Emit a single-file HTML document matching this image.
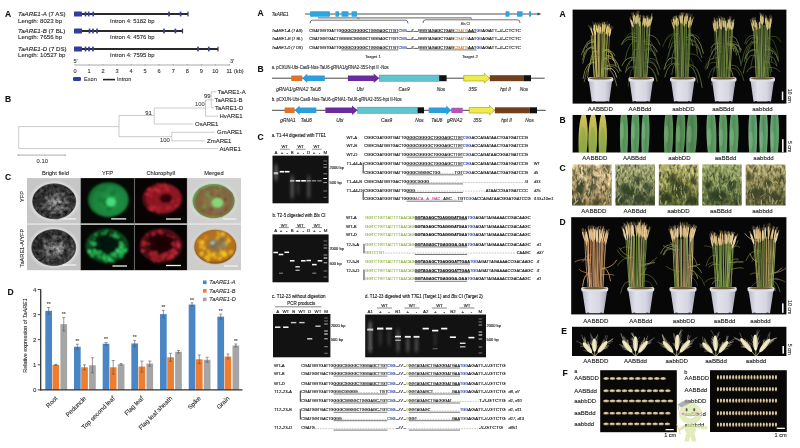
<!DOCTYPE html>
<html><head><meta charset="utf-8"><title>Figure</title>
<style>html,body{margin:0;padding:0;background:#fff;overflow:hidden}svg{display:block;font-family:'Liberation Sans', sans-serif}</style>
</head><body>
<svg width="800" height="448" viewBox="0 0 800 448">
<defs>
<radialGradient id="gBF" cx="0.55" cy="0.55" r="0.6"><stop offset="0" stop-color="#707070"/><stop offset="0.4" stop-color="#444"/><stop offset="0.9" stop-color="#282828"/><stop offset="1" stop-color="#444"/></radialGradient>
<radialGradient id="gHalo" cx="0.5" cy="0.5" r="0.5"><stop offset="0.78" stop-color="#e6e6e6"/><stop offset="1" stop-color="#e6e6e6" stop-opacity="0"/></radialGradient>
<radialGradient id="gYFP" cx="0.55" cy="0.55" r="0.55"><stop offset="0" stop-color="#34bc60"/><stop offset="0.25" stop-color="#229446"/><stop offset="0.8" stop-color="#1a803c"/><stop offset="1" stop-color="#11622c"/></radialGradient>
<radialGradient id="gRed" cx="0.6" cy="0.5" r="0.55"><stop offset="0" stop-color="#2a0406"/><stop offset="0.22" stop-color="#3a060a"/><stop offset="0.36" stop-color="#8e1a24"/><stop offset="0.85" stop-color="#86161f"/><stop offset="1" stop-color="#4a0a10"/></radialGradient>
<radialGradient id="gRed2" cx="0.5" cy="0.42" r="0.55"><stop offset="0" stop-color="#140203"/><stop offset="0.5" stop-color="#280508"/><stop offset="0.75" stop-color="#561016"/><stop offset="0.92" stop-color="#500e14"/><stop offset="1" stop-color="#28060a"/></radialGradient>
<radialGradient id="gGr2" cx="0.5" cy="0.42" r="0.55"><stop offset="0" stop-color="#031006"/><stop offset="0.5" stop-color="#061e0c"/><stop offset="0.75" stop-color="#0d4a1e"/><stop offset="0.92" stop-color="#0c441c"/><stop offset="1" stop-color="#052410"/></radialGradient>
<radialGradient id="gMg1" cx="0.55" cy="0.55" r="0.55"><stop offset="0" stop-color="#7cc070"/><stop offset="0.3" stop-color="#86724a"/><stop offset="0.85" stop-color="#7e6440"/><stop offset="1" stop-color="#6a9a50"/></radialGradient>
<radialGradient id="gMg2" cx="0.5" cy="0.45" r="0.55"><stop offset="0" stop-color="#7c6e4c"/><stop offset="0.4" stop-color="#a87626"/><stop offset="0.85" stop-color="#b86e1c"/><stop offset="1" stop-color="#6c4618"/></radialGradient>
<filter id="b1" x="-0.2" y="-0.2" width="1.4" height="1.4"><feGaussianBlur stdDeviation="0.8"/></filter>
<filter id="b05" x="-0.2" y="-0.2" width="1.4" height="1.4"><feGaussianBlur stdDeviation="0.45"/></filter>
<filter id="b2" x="-0.3" y="-0.3" width="1.6" height="1.6"><feGaussianBlur stdDeviation="1.6"/></filter>
<filter id="tex" x="0" y="0" width="1" height="1" color-interpolation-filters="sRGB">
 <feTurbulence type="fractalNoise" baseFrequency="0.28" numOctaves="2" seed="5" result="n"/>
 <feColorMatrix in="n" type="matrix" values="1.6 0 0 0 -0.25  1.6 0 0 0 -0.25  1.6 0 0 0 -0.25  0 0 0 0 1" result="g"/>
 <feComposite in="SourceGraphic" in2="g" operator="arithmetic" k1="1.5" k2="0.25" k3="0" k4="0" result="m"/>
 <feComposite in="m" in2="SourceGraphic" operator="in"/>
</filter>
<filter id="gb" x="-0.3" y="-1" width="1.6" height="3"><feGaussianBlur stdDeviation="0.4 0.4"/></filter>
<filter id="gs" x="-0.5" y="-0.3" width="2" height="1.6"><feGaussianBlur stdDeviation="1 2.2"/></filter>
<filter id="pb" x="-0.1" y="-0.1" width="1.2" height="1.2"><feGaussianBlur stdDeviation="0.35"/></filter>
<filter id="pb2" x="-0.1" y="-0.1" width="1.2" height="1.2"><feGaussianBlur stdDeviation="0.6"/></filter>
<linearGradient id="pot" x1="0" x2="1" y1="0" y2="0"><stop offset="0" stop-color="#b9b9c8"/><stop offset="0.3" stop-color="#e2e2ec"/><stop offset="0.7" stop-color="#d6d6e2"/><stop offset="1" stop-color="#a6a6b8"/></linearGradient>
<linearGradient id="lfY" x1="0" x2="0" y1="0" y2="1"><stop offset="0" stop-color="#d2c45c"/><stop offset="0.45" stop-color="#b4b44c"/><stop offset="1" stop-color="#8ca446"/></linearGradient>
<linearGradient id="lfG" x1="0" x2="1" y1="0" y2="0"><stop offset="0" stop-color="#72aa74"/><stop offset="0.5" stop-color="#4f8e56"/><stop offset="1" stop-color="#66a26a"/></linearGradient>
<linearGradient id="lfG2" x1="0" x2="1" y1="0" y2="0"><stop offset="0" stop-color="#669a62"/><stop offset="0.5" stop-color="#4a7e4c"/><stop offset="1" stop-color="#5e945c"/></linearGradient>
<linearGradient id="lfG3" x1="0" x2="1" y1="0" y2="0"><stop offset="0" stop-color="#78b282"/><stop offset="0.5" stop-color="#4e8e5c"/><stop offset="1" stop-color="#6caa78"/></linearGradient>
<linearGradient id="fld0" x1="0" x2="0" y1="0" y2="1"><stop offset="0" stop-color="#dcc898"/><stop offset="0.5" stop-color="#c2a878"/><stop offset="1" stop-color="#7c6e48"/></linearGradient>
<linearGradient id="fld1" x1="0" x2="0" y1="0" y2="1"><stop offset="0" stop-color="#aaac7a"/><stop offset="0.5" stop-color="#8a9260"/><stop offset="1" stop-color="#4e5c38"/></linearGradient>
<linearGradient id="fld2" x1="0" x2="0" y1="0" y2="1"><stop offset="0" stop-color="#b6b070"/><stop offset="0.5" stop-color="#94964e"/><stop offset="1" stop-color="#4c5a2c"/></linearGradient>
<linearGradient id="fld3" x1="0" x2="0" y1="0" y2="1"><stop offset="0" stop-color="#9eaa6c"/><stop offset="0.5" stop-color="#7e8e50"/><stop offset="1" stop-color="#4e5e34"/></linearGradient>
<linearGradient id="fld4" x1="0" x2="0" y1="0" y2="1"><stop offset="0" stop-color="#aea670"/><stop offset="0.5" stop-color="#908a54"/><stop offset="1" stop-color="#5c5e38"/></linearGradient>
<filter id="field" x="0" y="0" width="1" height="1" color-interpolation-filters="sRGB">
 <feTurbulence type="fractalNoise" baseFrequency="0.42 0.26" numOctaves="3" seed="11" result="n"/>
 <feColorMatrix in="n" type="matrix" values="0.9 0 0 0 0.12  0.9 0 0 0 0.12  0.9 0 0 0 0.12  0 0 0 0 1" result="g"/>
 <feComposite in="SourceGraphic" in2="g" operator="arithmetic" k1="1.2" k2="0.28" k3="0" k4="0" result="m"/>
 <feGaussianBlur in="m" stdDeviation="0.5" result="mb"/>
 <feComposite in="mb" in2="SourceGraphic" operator="in"/>
</filter>
<filter id="field2" x="0" y="0" width="1" height="1" color-interpolation-filters="sRGB">
 <feTurbulence type="fractalNoise" baseFrequency="0.36 0.22" numOctaves="3" seed="23" result="n"/>
 <feColorMatrix in="n" type="matrix" values="0.95 0 0 0 0.1  0.95 0 0 0 0.1  0.95 0 0 0 0.1  0 0 0 0 1" result="g"/>
 <feComposite in="SourceGraphic" in2="g" operator="arithmetic" k1="1.2" k2="0.28" k3="0" k4="0" result="m"/>
 <feGaussianBlur in="m" stdDeviation="0.5" result="mb"/>
 <feComposite in="mb" in2="SourceGraphic" operator="in"/>
</filter>
<radialGradient id="seed" cx="0.45" cy="0.4" r="0.6"><stop offset="0" stop-color="#e8dcc0"/><stop offset="0.6" stop-color="#c2b08a"/><stop offset="1" stop-color="#76684a"/></radialGradient>
<linearGradient id="spk" x1="0" x2="1" y1="0" y2="0"><stop offset="0" stop-color="#d8cc9c"/><stop offset="0.5" stop-color="#f6f0d4"/><stop offset="1" stop-color="#d0c490"/></linearGradient>
</defs>
<rect width="800" height="448" fill="#fff"/>
<g id="left">
<text x="5.00" y="17.30" font-size="8.5" fill="#111" stroke="#111" stroke-width="0.1" font-weight="bold">A</text>
<text x="18.00" y="16.10" font-size="6.15" fill="#222" stroke="#222" stroke-width="0.1"><tspan font-style="italic">TaARE1-A</tspan> (7 AS)</text>
<text x="18.00" y="22.90" font-size="6.1" fill="#2a2a2a" stroke="#2a2a2a" stroke-width="0.1">Length: 8023 bp</text>
<text x="110.00" y="22.70" font-size="5.9" fill="#2a2a2a" stroke="#2a2a2a" stroke-width="0.1">Intron 4: 5182 bp</text>
<line x1="75.00" y1="14.00" x2="188.00" y2="14.00" stroke="#2a2a2a" stroke-width="1.9" />
<rect x="74.00" y="11.50" width="8.00" height="5.00" fill="#2e3f9e" rx="0.6"/>
<rect x="84.65" y="11.60" width="1.70" height="4.80" fill="#33439c" />
<rect x="87.85" y="11.60" width="1.70" height="4.80" fill="#33439c" />
<rect x="92.35" y="11.60" width="1.70" height="4.80" fill="#33439c" />
<rect x="168.15" y="11.60" width="1.70" height="4.80" fill="#33439c" />
<rect x="179.75" y="11.60" width="1.70" height="4.80" fill="#33439c" />
<rect x="187.40" y="11.60" width="1.20" height="4.80" fill="#333a70" />
<text x="18.00" y="32.60" font-size="6.15" fill="#222" stroke="#222" stroke-width="0.1"><tspan font-style="italic">TaARE1-B</tspan> (7 BL)</text>
<text x="18.00" y="39.40" font-size="6.1" fill="#2a2a2a" stroke="#2a2a2a" stroke-width="0.1">Length: 7656 bp</text>
<text x="110.00" y="39.20" font-size="5.9" fill="#2a2a2a" stroke="#2a2a2a" stroke-width="0.1">Intron 4: 4576 bp</text>
<line x1="75.00" y1="31.00" x2="182.50" y2="31.00" stroke="#2a2a2a" stroke-width="1.9" />
<rect x="74.00" y="28.50" width="8.00" height="5.00" fill="#2e3f9e" rx="0.6"/>
<rect x="88.65" y="28.60" width="1.70" height="4.80" fill="#33439c" />
<rect x="92.15" y="28.60" width="1.70" height="4.80" fill="#33439c" />
<rect x="96.15" y="28.60" width="1.70" height="4.80" fill="#33439c" />
<rect x="163.15" y="28.60" width="1.70" height="4.80" fill="#33439c" />
<rect x="174.55" y="28.60" width="1.70" height="4.80" fill="#33439c" />
<rect x="181.90" y="28.60" width="1.20" height="4.80" fill="#333a70" />
<text x="18.00" y="50.60" font-size="6.15" fill="#222" stroke="#222" stroke-width="0.1"><tspan font-style="italic">TaARE1-D</tspan> (7 DS)</text>
<text x="18.00" y="57.40" font-size="6.1" fill="#2a2a2a" stroke="#2a2a2a" stroke-width="0.1">Length: 10527 bp</text>
<text x="110.00" y="57.20" font-size="5.9" fill="#2a2a2a" stroke="#2a2a2a" stroke-width="0.1">Intron 4: 7595 bp</text>
<line x1="75.00" y1="49.00" x2="218.00" y2="49.00" stroke="#2a2a2a" stroke-width="1.9" />
<rect x="74.00" y="46.50" width="8.00" height="5.00" fill="#2e3f9e" rx="0.6"/>
<rect x="84.65" y="46.60" width="1.70" height="4.80" fill="#33439c" />
<rect x="88.15" y="46.60" width="1.70" height="4.80" fill="#33439c" />
<rect x="92.15" y="46.60" width="1.70" height="4.80" fill="#33439c" />
<rect x="197.15" y="46.60" width="1.70" height="4.80" fill="#33439c" />
<rect x="207.95" y="46.60" width="1.70" height="4.80" fill="#33439c" />
<rect x="217.40" y="46.60" width="1.20" height="4.80" fill="#333a70" />
<text x="73.50" y="62.50" font-size="5.5" fill="#444" stroke="#444" stroke-width="0.1">5'</text>
<text x="230.00" y="62.50" font-size="5.5" fill="#444" stroke="#444" stroke-width="0.1">3'</text>
<line x1="75.00" y1="65.00" x2="230.00" y2="65.00" stroke="#888" stroke-width="0.7" />
<line x1="75.00" y1="64.00" x2="75.00" y2="65.30" stroke="#888" stroke-width="0.6" />
<text x="75.00" y="73.00" font-size="5.6" text-anchor="middle" fill="#333" stroke="#333" stroke-width="0.1">0</text>
<line x1="89.03" y1="64.00" x2="89.03" y2="65.30" stroke="#888" stroke-width="0.6" />
<text x="89.03" y="73.00" font-size="5.6" text-anchor="middle" fill="#333" stroke="#333" stroke-width="0.1">1</text>
<line x1="103.06" y1="64.00" x2="103.06" y2="65.30" stroke="#888" stroke-width="0.6" />
<text x="103.06" y="73.00" font-size="5.6" text-anchor="middle" fill="#333" stroke="#333" stroke-width="0.1">2</text>
<line x1="117.09" y1="64.00" x2="117.09" y2="65.30" stroke="#888" stroke-width="0.6" />
<text x="117.09" y="73.00" font-size="5.6" text-anchor="middle" fill="#333" stroke="#333" stroke-width="0.1">3</text>
<line x1="131.12" y1="64.00" x2="131.12" y2="65.30" stroke="#888" stroke-width="0.6" />
<text x="131.12" y="73.00" font-size="5.6" text-anchor="middle" fill="#333" stroke="#333" stroke-width="0.1">4</text>
<line x1="145.15" y1="64.00" x2="145.15" y2="65.30" stroke="#888" stroke-width="0.6" />
<text x="145.15" y="73.00" font-size="5.6" text-anchor="middle" fill="#333" stroke="#333" stroke-width="0.1">5</text>
<line x1="159.18" y1="64.00" x2="159.18" y2="65.30" stroke="#888" stroke-width="0.6" />
<text x="159.18" y="73.00" font-size="5.6" text-anchor="middle" fill="#333" stroke="#333" stroke-width="0.1">6</text>
<line x1="173.21" y1="64.00" x2="173.21" y2="65.30" stroke="#888" stroke-width="0.6" />
<text x="173.21" y="73.00" font-size="5.6" text-anchor="middle" fill="#333" stroke="#333" stroke-width="0.1">7</text>
<line x1="187.24" y1="64.00" x2="187.24" y2="65.30" stroke="#888" stroke-width="0.6" />
<text x="187.24" y="73.00" font-size="5.6" text-anchor="middle" fill="#333" stroke="#333" stroke-width="0.1">8</text>
<line x1="201.27" y1="64.00" x2="201.27" y2="65.30" stroke="#888" stroke-width="0.6" />
<text x="201.27" y="73.00" font-size="5.6" text-anchor="middle" fill="#333" stroke="#333" stroke-width="0.1">9</text>
<line x1="215.30" y1="64.00" x2="215.30" y2="65.30" stroke="#888" stroke-width="0.6" />
<text x="215.30" y="73.00" font-size="5.6" text-anchor="middle" fill="#333" stroke="#333" stroke-width="0.1">10</text>
<line x1="229.33" y1="64.00" x2="229.33" y2="65.30" stroke="#888" stroke-width="0.6" />
<text x="229.33" y="73.00" font-size="5.6" text-anchor="middle" fill="#333" stroke="#333" stroke-width="0.1">11</text>
<text x="234.00" y="73.00" font-size="5.6" fill="#333" stroke="#333" stroke-width="0.1">(kb)</text>
<rect x="73.00" y="77.00" width="8.00" height="4.00" fill="#2e3f9e" rx="1.2"/>
<text x="84.00" y="81.20" font-size="5.6" fill="#333" stroke="#333" stroke-width="0.1">Exon</text>
<line x1="103.00" y1="79.60" x2="115.00" y2="79.60" stroke="#222" stroke-width="1.6" />
<text x="117.00" y="81.20" font-size="5.6" fill="#333" stroke="#333" stroke-width="0.1">Intron</text>
<text x="5.00" y="102.00" font-size="8.5" fill="#111" stroke="#111" stroke-width="0.1" font-weight="bold">B</text>
<line x1="18.70" y1="126.60" x2="18.70" y2="148.60" stroke="#a8a8a8" stroke-width="0.6" />
<line x1="18.70" y1="148.60" x2="218.00" y2="148.60" stroke="#a8a8a8" stroke-width="0.6" />
<line x1="18.70" y1="126.60" x2="119.00" y2="126.60" stroke="#a8a8a8" stroke-width="0.6" />
<line x1="119.00" y1="115.50" x2="119.00" y2="136.70" stroke="#a8a8a8" stroke-width="0.6" />
<line x1="119.00" y1="115.50" x2="154.20" y2="115.50" stroke="#a8a8a8" stroke-width="0.6" />
<line x1="119.00" y1="136.70" x2="171.80" y2="136.70" stroke="#a8a8a8" stroke-width="0.6" />
<line x1="171.80" y1="132.30" x2="171.80" y2="140.80" stroke="#a8a8a8" stroke-width="0.6" />
<line x1="171.80" y1="132.30" x2="214.50" y2="132.30" stroke="#a8a8a8" stroke-width="0.6" />
<line x1="171.80" y1="140.80" x2="204.70" y2="140.80" stroke="#a8a8a8" stroke-width="0.6" />
<line x1="154.20" y1="108.00" x2="154.20" y2="124.00" stroke="#a8a8a8" stroke-width="0.6" />
<line x1="154.20" y1="124.00" x2="193.00" y2="124.00" stroke="#a8a8a8" stroke-width="0.6" />
<line x1="154.20" y1="108.00" x2="205.50" y2="108.00" stroke="#a8a8a8" stroke-width="0.6" />
<line x1="205.50" y1="99.90" x2="205.50" y2="116.20" stroke="#a8a8a8" stroke-width="0.6" />
<line x1="205.50" y1="116.20" x2="218.00" y2="116.20" stroke="#a8a8a8" stroke-width="0.6" />
<line x1="205.50" y1="99.90" x2="211.20" y2="99.90" stroke="#a8a8a8" stroke-width="0.6" />
<line x1="211.20" y1="91.80" x2="211.20" y2="107.70" stroke="#a8a8a8" stroke-width="0.6" />
<line x1="211.20" y1="91.80" x2="216.00" y2="91.80" stroke="#a8a8a8" stroke-width="0.6" />
<line x1="211.20" y1="99.90" x2="213.50" y2="99.90" stroke="#a8a8a8" stroke-width="0.6" />
<line x1="211.20" y1="107.70" x2="214.00" y2="107.70" stroke="#a8a8a8" stroke-width="0.6" />
<text x="217.70" y="93.90" font-size="6.0" fill="#262626" stroke="#262626" stroke-width="0.1">TaARE1-A</text>
<text x="214.50" y="102.00" font-size="6.0" fill="#262626" stroke="#262626" stroke-width="0.1">TaARE1-B</text>
<text x="215.00" y="109.80" font-size="6.0" fill="#262626" stroke="#262626" stroke-width="0.1">TaARE1-D</text>
<text x="219.50" y="118.30" font-size="6.0" fill="#262626" stroke="#262626" stroke-width="0.1">HvARE1</text>
<text x="195.00" y="126.10" font-size="6.0" fill="#262626" stroke="#262626" stroke-width="0.1">OsARE1</text>
<text x="217.00" y="134.40" font-size="6.0" fill="#262626" stroke="#262626" stroke-width="0.1">GmARE1</text>
<text x="207.00" y="142.90" font-size="6.0" fill="#262626" stroke="#262626" stroke-width="0.1">ZmARE1</text>
<text x="219.50" y="150.70" font-size="6.0" fill="#262626" stroke="#262626" stroke-width="0.1">AtARE1</text>
<text x="210.50" y="97.90" font-size="5.9" text-anchor="end" fill="#333" stroke="#333" stroke-width="0.1">99</text>
<text x="204.80" y="106.40" font-size="5.9" text-anchor="end" fill="#555" stroke="#555" stroke-width="0.1">100</text>
<text x="151.80" y="115.20" font-size="5.9" text-anchor="end" fill="#333" stroke="#333" stroke-width="0.1">91</text>
<text x="169.80" y="141.80" font-size="5.9" text-anchor="end" fill="#444" stroke="#444" stroke-width="0.1">100</text>
<line x1="18.20" y1="155.10" x2="65.30" y2="155.10" stroke="#777" stroke-width="0.6" />
<line x1="18.20" y1="154.30" x2="18.20" y2="155.90" stroke="#777" stroke-width="0.6" />
<line x1="65.30" y1="154.30" x2="65.30" y2="155.90" stroke="#777" stroke-width="0.6" />
<text x="42.30" y="162.50" font-size="5.9" text-anchor="middle" fill="#444" stroke="#444" stroke-width="0.1">0.10</text>
</g>
<g id="left2">
<text x="5.00" y="179.60" font-size="8.5" fill="#111" stroke="#111" stroke-width="0.1" font-weight="bold">C</text>
<text x="55.40" y="175.40" font-size="5.7" text-anchor="middle" fill="#2a2a2a" stroke="#2a2a2a" stroke-width="0.1">Bright field</text>
<text x="107.50" y="175.40" font-size="5.7" text-anchor="middle" fill="#2a2a2a" stroke="#2a2a2a" stroke-width="0.1">YFP</text>
<text x="160.70" y="175.40" font-size="5.7" text-anchor="middle" fill="#2a2a2a" stroke="#2a2a2a" stroke-width="0.1">Chlorophyll</text>
<text x="214.00" y="175.40" font-size="5.7" text-anchor="middle" fill="#2a2a2a" stroke="#2a2a2a" stroke-width="0.1">Merged</text>
<text x="23.60" y="196.50" font-size="5.6" text-anchor="middle" fill="#333" stroke="#333" stroke-width="0.1" transform="rotate(-90 23.60 196.50)">YFP</text>
<text x="23.60" y="248.00" font-size="5.6" text-anchor="middle" fill="#333" stroke="#333" stroke-width="0.1" transform="rotate(-90 23.60 248.00)">TaARE1-A/YFP</text>
<rect x="27.00" y="178.10" width="53.60" height="45.50" fill="#c6c6c6" />
<rect x="80.60" y="178.10" width="53.60" height="45.50" fill="#050805" />
<rect x="134.60" y="178.10" width="52.60" height="45.50" fill="#080404" />
<rect x="187.20" y="178.10" width="53.80" height="45.50" fill="#cfcfcf" />
<rect x="27.00" y="224.60" width="53.60" height="45.60" fill="#c2c2c2" />
<rect x="80.60" y="224.60" width="53.60" height="45.60" fill="#040704" />
<rect x="134.60" y="224.60" width="52.60" height="45.60" fill="#070303" />
<rect x="187.20" y="224.60" width="53.80" height="45.60" fill="#cdcdcd" />
<line x1="27.00" y1="224.10" x2="241.00" y2="224.10" stroke="#d8d8d8" stroke-width="0.8" />
<line x1="80.60" y1="178.10" x2="80.60" y2="270.20" stroke="#999" stroke-width="0.4" />
<line x1="134.40" y1="178.10" x2="134.40" y2="270.20" stroke="#555" stroke-width="0.6" />
<line x1="187.20" y1="178.10" x2="187.20" y2="270.20" stroke="#999" stroke-width="0.4" />
<ellipse cx="54.2" cy="201.3" rx="26.1" ry="21.5" fill="url(#gHalo)"/><g filter="url(#b05)"><ellipse cx="54.2" cy="201.3" rx="21.6" ry="17.5" fill="url(#gBF)" filter="url(#tex)"/></g><ellipse cx="54.2" cy="201.3" rx="21.6" ry="17.5" fill="none" stroke="#444" stroke-width="0.8" filter="url(#b05)"/><g filter="url(#b1)" opacity="0.6"><ellipse cx="49.8" cy="203.9" rx="2.1" ry="1.6" fill="#989898" transform="rotate(150 49.8 203.9)"/><ellipse cx="59.7" cy="209.5" rx="1.6" ry="1.2" fill="#b0b0b0" transform="rotate(24 59.7 209.5)"/><ellipse cx="54.6" cy="202.7" rx="1.6" ry="1.4" fill="#989898" transform="rotate(10 54.6 202.7)"/><ellipse cx="52.3" cy="200.1" rx="1.5" ry="1.3" fill="#989898" transform="rotate(40 52.3 200.1)"/><ellipse cx="49.1" cy="196.7" rx="1.1" ry="0.7" fill="#b0b0b0" transform="rotate(153 49.1 196.7)"/><ellipse cx="61.6" cy="203.1" rx="1.5" ry="1.3" fill="#989898" transform="rotate(59 61.6 203.1)"/><ellipse cx="52.4" cy="198.6" rx="1.8" ry="1.3" fill="#c8c8c8" transform="rotate(104 52.4 198.6)"/><ellipse cx="68.0" cy="202.2" rx="2.0" ry="1.6" fill="#c8c8c8" transform="rotate(58 68.0 202.2)"/><ellipse cx="55.8" cy="202.3" rx="1.7" ry="1.1" fill="#b0b0b0" transform="rotate(74 55.8 202.3)"/><ellipse cx="47.6" cy="208.3" rx="2.0" ry="1.2" fill="#b0b0b0" transform="rotate(13 47.6 208.3)"/><ellipse cx="44.8" cy="204.1" rx="1.5" ry="0.9" fill="#989898" transform="rotate(50 44.8 204.1)"/><ellipse cx="56.8" cy="199.7" rx="1.1" ry="0.8" fill="#c8c8c8" transform="rotate(30 56.8 199.7)"/>
</g><g filter="url(#b1)" opacity="0.8"><ellipse cx="37.9" cy="203.4" rx="2.6" ry="1.7" fill="#222" transform="rotate(95 37.9 203.4)"/><ellipse cx="37.9" cy="202.8" rx="2.3" ry="2.0" fill="#222" transform="rotate(142 37.9 202.8)"/><ellipse cx="70.4" cy="201.4" rx="3.2" ry="2.2" fill="#2c2c2c" transform="rotate(53 70.4 201.4)"/><ellipse cx="70.9" cy="206.5" rx="1.6" ry="1.3" fill="#2c2c2c" transform="rotate(174 70.9 206.5)"/><ellipse cx="39.3" cy="209.6" rx="1.5" ry="0.9" fill="#1a1a1a" transform="rotate(130 39.3 209.6)"/><ellipse cx="57.4" cy="216.8" rx="2.2" ry="1.6" fill="#1a1a1a" transform="rotate(108 57.4 216.8)"/><ellipse cx="69.4" cy="199.1" rx="3.0" ry="2.3" fill="#1a1a1a" transform="rotate(13 69.4 199.1)"/><ellipse cx="39.9" cy="197.1" rx="1.6" ry="1.3" fill="#1a1a1a" transform="rotate(152 39.9 197.1)"/><ellipse cx="38.4" cy="203.8" rx="2.4" ry="1.9" fill="#222" transform="rotate(49 38.4 203.8)"/><ellipse cx="70.6" cy="199.3" rx="2.1" ry="1.5" fill="#1a1a1a" transform="rotate(98 70.6 199.3)"/><ellipse cx="48.8" cy="192.8" rx="1.9" ry="1.3" fill="#1a1a1a" transform="rotate(146 48.8 192.8)"/><ellipse cx="59.8" cy="189.9" rx="1.5" ry="1.3" fill="#2c2c2c" transform="rotate(8 59.8 189.9)"/><ellipse cx="41.6" cy="200.1" rx="2.2" ry="1.6" fill="#1a1a1a" transform="rotate(26 41.6 200.1)"/><ellipse cx="54.5" cy="191.0" rx="1.6" ry="1.1" fill="#2c2c2c" transform="rotate(70 54.5 191.0)"/><ellipse cx="38.2" cy="201.4" rx="2.7" ry="2.1" fill="#2c2c2c" transform="rotate(53 38.2 201.4)"/><ellipse cx="46.3" cy="211.4" rx="2.7" ry="2.3" fill="#222" transform="rotate(42 46.3 211.4)"/>
</g>
<ellipse cx="53.7" cy="247.6" rx="26.5" ry="22" fill="url(#gHalo)"/><g filter="url(#b05)"><ellipse cx="53.7" cy="247.6" rx="22" ry="18" fill="url(#gBF)" filter="url(#tex)"/></g><ellipse cx="53.7" cy="247.6" rx="22" ry="18" fill="none" stroke="#444" stroke-width="0.8" filter="url(#b05)"/><g filter="url(#b1)" opacity="0.6"><ellipse cx="46.0" cy="247.5" rx="2.2" ry="1.5" fill="#989898" transform="rotate(180 46.0 247.5)"/><ellipse cx="52.4" cy="247.9" rx="2.1" ry="1.4" fill="#989898" transform="rotate(107 52.4 247.9)"/><ellipse cx="55.6" cy="253.6" rx="1.4" ry="1.2" fill="#989898" transform="rotate(102 55.6 253.6)"/><ellipse cx="60.0" cy="252.8" rx="1.2" ry="1.0" fill="#b0b0b0" transform="rotate(38 60.0 252.8)"/><ellipse cx="60.5" cy="245.1" rx="2.0" ry="1.6" fill="#c8c8c8" transform="rotate(138 60.5 245.1)"/><ellipse cx="61.9" cy="253.6" rx="1.1" ry="0.8" fill="#989898" transform="rotate(121 61.9 253.6)"/><ellipse cx="51.1" cy="244.0" rx="1.8" ry="1.3" fill="#989898" transform="rotate(86 51.1 244.0)"/><ellipse cx="60.2" cy="249.0" rx="1.1" ry="0.9" fill="#c8c8c8" transform="rotate(12 60.2 249.0)"/><ellipse cx="60.1" cy="247.7" rx="1.9" ry="1.7" fill="#b0b0b0" transform="rotate(29 60.1 247.7)"/><ellipse cx="44.8" cy="245.3" rx="1.6" ry="1.2" fill="#c8c8c8" transform="rotate(16 44.8 245.3)"/><ellipse cx="56.2" cy="246.7" rx="1.7" ry="1.3" fill="#989898" transform="rotate(33 56.2 246.7)"/><ellipse cx="55.7" cy="251.6" rx="1.4" ry="0.9" fill="#b0b0b0" transform="rotate(147 55.7 251.6)"/>
</g><g filter="url(#b1)" opacity="0.8"><ellipse cx="60.7" cy="260.1" rx="2.1" ry="1.4" fill="#2c2c2c" transform="rotate(160 60.7 260.1)"/><ellipse cx="38.5" cy="248.1" rx="2.3" ry="1.5" fill="#2c2c2c" transform="rotate(177 38.5 248.1)"/><ellipse cx="65.2" cy="256.2" rx="2.8" ry="1.8" fill="#222" transform="rotate(43 65.2 256.2)"/><ellipse cx="55.1" cy="261.8" rx="2.5" ry="1.6" fill="#1a1a1a" transform="rotate(126 55.1 261.8)"/><ellipse cx="56.6" cy="258.5" rx="1.5" ry="1.3" fill="#222" transform="rotate(103 56.6 258.5)"/><ellipse cx="37.9" cy="244.5" rx="2.4" ry="2.0" fill="#1a1a1a" transform="rotate(77 37.9 244.5)"/><ellipse cx="40.9" cy="244.1" rx="2.5" ry="1.8" fill="#2c2c2c" transform="rotate(175 40.9 244.1)"/><ellipse cx="58.6" cy="233.4" rx="1.8" ry="1.4" fill="#2c2c2c" transform="rotate(33 58.6 233.4)"/><ellipse cx="41.0" cy="254.5" rx="1.7" ry="1.4" fill="#1a1a1a" transform="rotate(66 41.0 254.5)"/><ellipse cx="40.0" cy="245.2" rx="2.9" ry="2.4" fill="#1a1a1a" transform="rotate(120 40.0 245.2)"/><ellipse cx="64.1" cy="252.9" rx="1.8" ry="1.1" fill="#1a1a1a" transform="rotate(23 64.1 252.9)"/><ellipse cx="41.4" cy="244.8" rx="3.0" ry="2.4" fill="#1a1a1a" transform="rotate(136 41.4 244.8)"/><ellipse cx="47.2" cy="236.0" rx="3.2" ry="2.0" fill="#1a1a1a" transform="rotate(22 47.2 236.0)"/><ellipse cx="35.7" cy="249.6" rx="1.8" ry="1.3" fill="#2c2c2c" transform="rotate(101 35.7 249.6)"/><ellipse cx="47.7" cy="237.1" rx="2.1" ry="1.7" fill="#1a1a1a" transform="rotate(77 47.7 237.1)"/><ellipse cx="66.3" cy="241.3" rx="2.7" ry="2.3" fill="#1a1a1a" transform="rotate(108 66.3 241.3)"/>
</g>
<g filter="url(#b1)"><ellipse cx="108.3" cy="199.7" rx="20.4" ry="17.5" fill="url(#gYFP)"/><ellipse cx="109.1" cy="208.4" rx="3.2" ry="2.5" fill="#167a36" transform="rotate(155 109.1 208.4)"/><ellipse cx="121.7" cy="200.7" rx="3.0" ry="2.0" fill="#1a8a3e" transform="rotate(138 121.7 200.7)"/><ellipse cx="113.2" cy="192.8" rx="3.8" ry="2.4" fill="#167a36" transform="rotate(133 113.2 192.8)"/><ellipse cx="105.0" cy="202.0" rx="4.1" ry="2.6" fill="#167a36" transform="rotate(77 105.0 202.0)"/><ellipse cx="110.8" cy="188.5" rx="3.0" ry="2.4" fill="#1a8a3e" transform="rotate(109 110.8 188.5)"/><ellipse cx="98.0" cy="206.6" rx="3.4" ry="3.0" fill="#1a8a3e" transform="rotate(24 98.0 206.6)"/><ellipse cx="117.7" cy="201.5" rx="3.0" ry="2.4" fill="#1a8a3e" transform="rotate(107 117.7 201.5)"/><ellipse cx="99.9" cy="199.4" rx="3.2" ry="2.5" fill="#167a36" transform="rotate(86 99.9 199.4)"/><ellipse cx="102.3" cy="188.4" rx="4.2" ry="3.8" fill="#167a36" transform="rotate(178 102.3 188.4)"/>
<ellipse cx="111" cy="202" rx="5" ry="4.5" fill="#4ce884" opacity="0.8"/></g>
<g filter="url(#b1)"><ellipse cx="162" cy="198.5" rx="20" ry="15.5" fill="url(#gRed)"/><ellipse cx="150.5" cy="189.8" rx="1.7" ry="1.5" fill="#b82632" transform="rotate(119 150.5 189.8)"/><ellipse cx="163.8" cy="189.8" rx="1.0" ry="0.7" fill="#c82e3a" transform="rotate(120 163.8 189.8)"/><ellipse cx="170.6" cy="191.3" rx="1.1" ry="0.7" fill="#a81e2a" transform="rotate(104 170.6 191.3)"/><ellipse cx="158.7" cy="212.1" rx="1.7" ry="1.1" fill="#b82632" transform="rotate(35 158.7 212.1)"/><ellipse cx="152.2" cy="191.6" rx="1.1" ry="1.0" fill="#b82632" transform="rotate(53 152.2 191.6)"/><ellipse cx="164.7" cy="184.5" rx="1.1" ry="0.7" fill="#c82e3a" transform="rotate(50 164.7 184.5)"/><ellipse cx="147.0" cy="195.6" rx="1.2" ry="1.0" fill="#a81e2a" transform="rotate(98 147.0 195.6)"/><ellipse cx="158.2" cy="207.7" rx="1.1" ry="0.7" fill="#b82632" transform="rotate(84 158.2 207.7)"/><ellipse cx="157.3" cy="209.4" rx="1.0" ry="0.8" fill="#c82e3a" transform="rotate(16 157.3 209.4)"/><ellipse cx="155.8" cy="210.6" rx="1.4" ry="1.0" fill="#9a1a24" transform="rotate(120 155.8 210.6)"/><ellipse cx="159.3" cy="191.4" rx="1.9" ry="1.1" fill="#c82e3a" transform="rotate(103 159.3 191.4)"/><ellipse cx="178.5" cy="200.0" rx="1.3" ry="1.0" fill="#b82632" transform="rotate(115 178.5 200.0)"/><ellipse cx="172.3" cy="200.9" rx="1.9" ry="1.2" fill="#a81e2a" transform="rotate(118 172.3 200.9)"/><ellipse cx="155.1" cy="206.5" rx="1.5" ry="1.2" fill="#b82632" transform="rotate(150 155.1 206.5)"/><ellipse cx="161.8" cy="185.6" rx="1.8" ry="1.1" fill="#b82632" transform="rotate(53 161.8 185.6)"/><ellipse cx="154.0" cy="208.2" rx="1.8" ry="1.3" fill="#b82632" transform="rotate(79 154.0 208.2)"/><ellipse cx="157.3" cy="190.0" rx="1.7" ry="1.4" fill="#c82e3a" transform="rotate(123 157.3 190.0)"/><ellipse cx="167.0" cy="204.7" rx="1.9" ry="1.4" fill="#9a1a24" transform="rotate(8 167.0 204.7)"/><ellipse cx="163.2" cy="209.9" rx="1.7" ry="1.3" fill="#9a1a24" transform="rotate(37 163.2 209.9)"/><ellipse cx="178.7" cy="203.2" rx="1.0" ry="0.8" fill="#a81e2a" transform="rotate(33 178.7 203.2)"/><ellipse cx="176.3" cy="197.2" rx="1.1" ry="1.0" fill="#9a1a24" transform="rotate(27 176.3 197.2)"/><ellipse cx="168.1" cy="207.0" rx="1.1" ry="0.8" fill="#a81e2a" transform="rotate(116 168.1 207.0)"/><ellipse cx="175.2" cy="193.0" rx="1.2" ry="0.9" fill="#9a1a24" transform="rotate(176 175.2 193.0)"/><ellipse cx="160.3" cy="188.0" rx="1.3" ry="0.9" fill="#a81e2a" transform="rotate(28 160.3 188.0)"/><ellipse cx="148.8" cy="208.5" rx="1.9" ry="1.5" fill="#9a1a24" transform="rotate(86 148.8 208.5)"/><ellipse cx="167.8" cy="208.1" rx="1.5" ry="1.1" fill="#c82e3a" transform="rotate(16 167.8 208.1)"/><ellipse cx="165.7" cy="186.1" rx="1.6" ry="1.3" fill="#c82e3a" transform="rotate(93 165.7 186.1)"/><ellipse cx="147.6" cy="194.1" rx="1.8" ry="1.2" fill="#c82e3a" transform="rotate(87 147.6 194.1)"/><ellipse cx="153.4" cy="189.4" rx="1.0" ry="0.8" fill="#c82e3a" transform="rotate(83 153.4 189.4)"/><ellipse cx="155.6" cy="189.3" rx="1.7" ry="1.4" fill="#c82e3a" transform="rotate(89 155.6 189.3)"/><ellipse cx="160.2" cy="207.9" rx="1.8" ry="1.3" fill="#a81e2a" transform="rotate(176 160.2 207.9)"/><ellipse cx="150.1" cy="201.5" rx="1.3" ry="0.8" fill="#a81e2a" transform="rotate(50 150.1 201.5)"/><ellipse cx="171.3" cy="186.6" rx="1.4" ry="1.2" fill="#9a1a24" transform="rotate(43 171.3 186.6)"/><ellipse cx="148.6" cy="189.2" rx="1.5" ry="1.3" fill="#c82e3a" transform="rotate(159 148.6 189.2)"/><ellipse cx="145.6" cy="194.1" rx="1.2" ry="1.1" fill="#a81e2a" transform="rotate(40 145.6 194.1)"/><ellipse cx="149.2" cy="192.5" rx="1.2" ry="1.0" fill="#a81e2a" transform="rotate(161 149.2 192.5)"/><ellipse cx="158.4" cy="184.5" rx="1.9" ry="1.2" fill="#a81e2a" transform="rotate(28 158.4 184.5)"/><ellipse cx="157.6" cy="206.1" rx="1.2" ry="0.7" fill="#9a1a24" transform="rotate(89 157.6 206.1)"/><ellipse cx="151.1" cy="206.4" rx="1.5" ry="1.0" fill="#c82e3a" transform="rotate(0 151.1 206.4)"/><ellipse cx="151.3" cy="209.8" rx="1.8" ry="1.5" fill="#c82e3a" transform="rotate(9 151.3 209.8)"/><ellipse cx="150.7" cy="195.7" rx="1.3" ry="1.0" fill="#c82e3a" transform="rotate(90 150.7 195.7)"/><ellipse cx="167.4" cy="189.3" rx="1.7" ry="1.4" fill="#c82e3a" transform="rotate(119 167.4 189.3)"/><ellipse cx="171.2" cy="207.4" rx="1.5" ry="1.3" fill="#a81e2a" transform="rotate(155 171.2 207.4)"/><ellipse cx="176.2" cy="205.6" rx="1.6" ry="1.1" fill="#c82e3a" transform="rotate(144 176.2 205.6)"/>
</g>
<ellipse cx="213.6" cy="201" rx="25" ry="20.5" fill="url(#gHalo)"/><g filter="url(#b05)"><ellipse cx="213.6" cy="201" rx="21" ry="17" fill="url(#gMg1)"/></g><g filter="url(#b1)"><ellipse cx="216.3" cy="216.1" rx="1.4" ry="1.1" fill="#8a5434" transform="rotate(35 216.3 216.1)"/><ellipse cx="213.9" cy="216.6" rx="1.5" ry="1.2" fill="#a0683a" transform="rotate(124 213.9 216.6)"/><ellipse cx="201.4" cy="204.0" rx="1.4" ry="1.2" fill="#8a5434" transform="rotate(124 201.4 204.0)"/><ellipse cx="214.3" cy="206.3" rx="1.5" ry="1.1" fill="#a0683a" transform="rotate(29 214.3 206.3)"/><ellipse cx="209.7" cy="195.8" rx="2.2" ry="1.6" fill="#a0683a" transform="rotate(27 209.7 195.8)"/><ellipse cx="207.9" cy="193.7" rx="2.0" ry="1.5" fill="#6a9a50" transform="rotate(132 207.9 193.7)"/><ellipse cx="224.9" cy="194.5" rx="1.4" ry="0.8" fill="#8a5434" transform="rotate(125 224.9 194.5)"/><ellipse cx="211.1" cy="194.6" rx="2.2" ry="1.6" fill="#7a4a30" transform="rotate(113 211.1 194.6)"/><ellipse cx="211.2" cy="209.6" rx="2.3" ry="1.4" fill="#7a4a30" transform="rotate(24 211.2 209.6)"/><ellipse cx="203.4" cy="199.3" rx="1.6" ry="1.3" fill="#a0683a" transform="rotate(128 203.4 199.3)"/><ellipse cx="206.3" cy="195.1" rx="1.6" ry="1.1" fill="#6a9a50" transform="rotate(18 206.3 195.1)"/><ellipse cx="219.8" cy="187.8" rx="2.3" ry="1.8" fill="#788a48" transform="rotate(62 219.8 187.8)"/><ellipse cx="222.1" cy="196.5" rx="1.5" ry="0.9" fill="#788a48" transform="rotate(96 222.1 196.5)"/><ellipse cx="209.0" cy="213.0" rx="1.7" ry="1.4" fill="#8a5434" transform="rotate(42 209.0 213.0)"/><ellipse cx="229.5" cy="195.2" rx="1.2" ry="1.1" fill="#9a6238" transform="rotate(76 229.5 195.2)"/><ellipse cx="226.0" cy="210.0" rx="1.7" ry="1.4" fill="#7a4a30" transform="rotate(111 226.0 210.0)"/><ellipse cx="220.3" cy="197.3" rx="1.9" ry="1.4" fill="#8a5434" transform="rotate(150 220.3 197.3)"/><ellipse cx="227.7" cy="206.4" rx="1.2" ry="1.0" fill="#7a4a30" transform="rotate(134 227.7 206.4)"/><ellipse cx="202.9" cy="211.5" rx="1.8" ry="1.5" fill="#7a4a30" transform="rotate(16 202.9 211.5)"/><ellipse cx="220.3" cy="214.7" rx="1.6" ry="1.3" fill="#8a5434" transform="rotate(76 220.3 214.7)"/><ellipse cx="202.4" cy="213.3" rx="1.2" ry="1.0" fill="#9a6238" transform="rotate(15 202.4 213.3)"/><ellipse cx="218.4" cy="197.2" rx="2.4" ry="2.0" fill="#7a4a30" transform="rotate(44 218.4 197.2)"/><ellipse cx="221.9" cy="214.8" rx="1.7" ry="1.1" fill="#7a4a30" transform="rotate(57 221.9 214.8)"/><ellipse cx="201.1" cy="201.2" rx="1.4" ry="0.9" fill="#7a4a30" transform="rotate(115 201.1 201.2)"/><ellipse cx="204.2" cy="190.8" rx="1.8" ry="1.1" fill="#a0683a" transform="rotate(144 204.2 190.8)"/><ellipse cx="205.0" cy="206.5" rx="1.5" ry="1.0" fill="#a0683a" transform="rotate(28 205.0 206.5)"/><ellipse cx="225.8" cy="209.0" rx="2.0" ry="1.6" fill="#8a5434" transform="rotate(167 225.8 209.0)"/><ellipse cx="205.8" cy="208.3" rx="1.3" ry="1.2" fill="#7a4a30" transform="rotate(128 205.8 208.3)"/><ellipse cx="219.4" cy="190.9" rx="1.8" ry="1.3" fill="#a0683a" transform="rotate(133 219.4 190.9)"/><ellipse cx="209.8" cy="196.9" rx="1.9" ry="1.7" fill="#6a9a50" transform="rotate(82 209.8 196.9)"/><ellipse cx="230.7" cy="194.2" rx="1.5" ry="1.0" fill="#7a4a30" transform="rotate(107 230.7 194.2)"/><ellipse cx="224.6" cy="199.7" rx="2.3" ry="2.0" fill="#7a4a30" transform="rotate(77 224.6 199.7)"/><ellipse cx="200.3" cy="190.3" rx="2.1" ry="1.5" fill="#8a5434" transform="rotate(50 200.3 190.3)"/><ellipse cx="202.4" cy="201.8" rx="1.9" ry="1.7" fill="#9a6238" transform="rotate(74 202.4 201.8)"/><ellipse cx="204.6" cy="206.5" rx="2.3" ry="1.7" fill="#6a9a50" transform="rotate(91 204.6 206.5)"/><ellipse cx="219.7" cy="190.6" rx="1.6" ry="1.2" fill="#a0683a" transform="rotate(135 219.7 190.6)"/><ellipse cx="206.2" cy="200.7" rx="1.4" ry="1.0" fill="#788a48" transform="rotate(107 206.2 200.7)"/><ellipse cx="216.3" cy="189.5" rx="2.2" ry="2.0" fill="#788a48" transform="rotate(129 216.3 189.5)"/><ellipse cx="211.4" cy="216.5" rx="2.0" ry="1.3" fill="#9a6238" transform="rotate(63 211.4 216.5)"/><ellipse cx="217.6" cy="188.4" rx="1.5" ry="1.3" fill="#7a4a30" transform="rotate(134 217.6 188.4)"/>
<ellipse cx="217.7" cy="202.8" rx="5.5" ry="5" fill="#86d878"/><ellipse cx="213.6" cy="201" rx="20.6" ry="16.6" fill="none" stroke="#62b060" stroke-width="1"/></g>
<g filter="url(#b1)"><ellipse cx="107" cy="246.3" rx="21.5" ry="17.5" fill="url(#gGr2)"/><ellipse cx="105.1" cy="233.1" rx="1.2" ry="1.1" fill="#2cc05a" transform="rotate(86 105.1 233.1)"/><ellipse cx="106.9" cy="230.7" rx="1.2" ry="0.9" fill="#1c9442" transform="rotate(179 106.9 230.7)"/><ellipse cx="91.3" cy="242.7" rx="1.7" ry="1.3" fill="#1c9442" transform="rotate(108 91.3 242.7)"/><ellipse cx="94.2" cy="239.2" rx="1.2" ry="0.9" fill="#1c9442" transform="rotate(16 94.2 239.2)"/><ellipse cx="118.2" cy="236.6" rx="1.8" ry="1.1" fill="#22a84c" transform="rotate(52 118.2 236.6)"/><ellipse cx="115.4" cy="233.1" rx="1.5" ry="0.9" fill="#22a84c" transform="rotate(53 115.4 233.1)"/><ellipse cx="102.2" cy="233.8" rx="1.1" ry="0.9" fill="#2cc05a" transform="rotate(105 102.2 233.8)"/><ellipse cx="91.5" cy="242.2" rx="1.5" ry="0.9" fill="#22a84c" transform="rotate(28 91.5 242.2)"/><ellipse cx="120.6" cy="243.1" rx="1.8" ry="1.2" fill="#2cc05a" transform="rotate(84 120.6 243.1)"/><ellipse cx="92.6" cy="244.1" rx="1.6" ry="1.0" fill="#2cc05a" transform="rotate(146 92.6 244.1)"/><ellipse cx="106.6" cy="230.6" rx="1.5" ry="1.1" fill="#1c9442" transform="rotate(23 106.6 230.6)"/><ellipse cx="114.8" cy="235.9" rx="1.9" ry="1.6" fill="#2cc05a" transform="rotate(13 114.8 235.9)"/><ellipse cx="96.0" cy="234.7" rx="1.9" ry="1.5" fill="#1c9442" transform="rotate(147 96.0 234.7)"/><ellipse cx="121.6" cy="244.0" rx="1.7" ry="1.5" fill="#2cc05a" transform="rotate(41 121.6 244.0)"/><ellipse cx="111.2" cy="235.1" rx="1.4" ry="1.1" fill="#1c9442" transform="rotate(144 111.2 235.1)"/><ellipse cx="117.1" cy="237.6" rx="1.4" ry="1.2" fill="#1c9442" transform="rotate(93 117.1 237.6)"/>
<ellipse cx="104.3" cy="258.0" rx="2.1" ry="1.5" fill="#3cd46e" transform="rotate(100 104.3 258.0)"/><ellipse cx="113.0" cy="261.5" rx="1.4" ry="1.0" fill="#22a84c" transform="rotate(89 113.0 261.5)"/><ellipse cx="122.8" cy="246.6" rx="2.2" ry="1.7" fill="#22a84c" transform="rotate(114 122.8 246.6)"/><ellipse cx="93.8" cy="243.9" rx="2.1" ry="1.7" fill="#22a84c" transform="rotate(139 93.8 243.9)"/><ellipse cx="98.3" cy="255.5" rx="1.8" ry="1.2" fill="#1c9442" transform="rotate(120 98.3 255.5)"/><ellipse cx="105.9" cy="260.8" rx="2.1" ry="1.6" fill="#1c9442" transform="rotate(101 105.9 260.8)"/><ellipse cx="89.6" cy="251.7" rx="2.2" ry="1.8" fill="#3cd46e" transform="rotate(35 89.6 251.7)"/><ellipse cx="120.3" cy="255.3" rx="2.1" ry="1.6" fill="#22a84c" transform="rotate(106 120.3 255.3)"/><ellipse cx="100.1" cy="257.3" rx="1.6" ry="1.2" fill="#22a84c" transform="rotate(82 100.1 257.3)"/><ellipse cx="92.2" cy="255.4" rx="2.3" ry="1.8" fill="#22a84c" transform="rotate(171 92.2 255.4)"/><ellipse cx="121.4" cy="257.1" rx="1.3" ry="1.2" fill="#22a84c" transform="rotate(111 121.4 257.1)"/><ellipse cx="125.4" cy="250.4" rx="2.3" ry="1.9" fill="#2cc05a" transform="rotate(165 125.4 250.4)"/><ellipse cx="114.8" cy="253.6" rx="1.9" ry="1.7" fill="#2cc05a" transform="rotate(131 114.8 253.6)"/><ellipse cx="96.1" cy="252.1" rx="2.0" ry="1.4" fill="#2cc05a" transform="rotate(7 96.1 252.1)"/><ellipse cx="96.4" cy="253.6" rx="1.3" ry="0.9" fill="#22a84c" transform="rotate(8 96.4 253.6)"/><ellipse cx="99.1" cy="256.5" rx="1.5" ry="1.0" fill="#22a84c" transform="rotate(85 99.1 256.5)"/><ellipse cx="122.7" cy="254.1" rx="1.3" ry="0.8" fill="#3cd46e" transform="rotate(80 122.7 254.1)"/><ellipse cx="119.8" cy="252.9" rx="2.3" ry="2.0" fill="#1c9442" transform="rotate(75 119.8 252.9)"/><ellipse cx="103.3" cy="256.5" rx="1.7" ry="1.1" fill="#2cc05a" transform="rotate(96 103.3 256.5)"/><ellipse cx="112.9" cy="260.2" rx="1.3" ry="0.9" fill="#22a84c" transform="rotate(38 112.9 260.2)"/><ellipse cx="122.8" cy="250.8" rx="1.7" ry="1.3" fill="#2cc05a" transform="rotate(83 122.8 250.8)"/><ellipse cx="121.1" cy="251.8" rx="1.3" ry="1.1" fill="#22a84c" transform="rotate(114 121.1 251.8)"/><ellipse cx="122.9" cy="251.1" rx="2.0" ry="1.3" fill="#2cc05a" transform="rotate(163 122.9 251.1)"/><ellipse cx="109.7" cy="259.8" rx="2.2" ry="1.8" fill="#3cd46e" transform="rotate(13 109.7 259.8)"/><ellipse cx="121.2" cy="247.4" rx="1.6" ry="1.0" fill="#22a84c" transform="rotate(51 121.2 247.4)"/><ellipse cx="120.7" cy="247.4" rx="2.2" ry="1.3" fill="#3cd46e" transform="rotate(48 120.7 247.4)"/><ellipse cx="94.3" cy="250.4" rx="1.5" ry="1.2" fill="#3cd46e" transform="rotate(138 94.3 250.4)"/><ellipse cx="115.6" cy="256.3" rx="1.6" ry="1.3" fill="#22a84c" transform="rotate(150 115.6 256.3)"/><ellipse cx="94.9" cy="243.9" rx="1.6" ry="1.4" fill="#2cc05a" transform="rotate(56 94.9 243.9)"/><ellipse cx="117.9" cy="250.7" rx="2.3" ry="1.9" fill="#3cd46e" transform="rotate(168 117.9 250.7)"/>
<ellipse cx="105.3" cy="257.0" rx="1.9" ry="1.2" fill="#28b454" transform="rotate(71 105.3 257.0)"/><ellipse cx="104.0" cy="255.0" rx="1.8" ry="1.3" fill="#22a84c" transform="rotate(92 104.0 255.0)"/><ellipse cx="120.1" cy="253.0" rx="1.9" ry="1.4" fill="#28b454" transform="rotate(172 120.1 253.0)"/><ellipse cx="111.9" cy="254.4" rx="1.6" ry="1.1" fill="#28b454" transform="rotate(61 111.9 254.4)"/><ellipse cx="95.9" cy="252.6" rx="1.3" ry="0.8" fill="#22a84c" transform="rotate(49 95.9 252.6)"/><ellipse cx="98.7" cy="252.5" rx="1.7" ry="1.4" fill="#28b454" transform="rotate(170 98.7 252.5)"/><ellipse cx="105.9" cy="257.1" rx="1.4" ry="1.1" fill="#22a84c" transform="rotate(57 105.9 257.1)"/><ellipse cx="98.9" cy="251.9" rx="1.3" ry="0.9" fill="#22a84c" transform="rotate(136 98.9 251.9)"/><ellipse cx="100.6" cy="252.2" rx="1.7" ry="1.5" fill="#22a84c" transform="rotate(28 100.6 252.2)"/><ellipse cx="94.6" cy="253.0" rx="1.7" ry="1.6" fill="#22a84c" transform="rotate(89 94.6 253.0)"/><ellipse cx="109.0" cy="256.8" rx="1.5" ry="1.1" fill="#22a84c" transform="rotate(30 109.0 256.8)"/><ellipse cx="112.5" cy="255.0" rx="2.0" ry="1.7" fill="#22a84c" transform="rotate(45 112.5 255.0)"/><ellipse cx="107.7" cy="256.6" rx="1.7" ry="1.0" fill="#22a84c" transform="rotate(84 107.7 256.6)"/><ellipse cx="99.6" cy="253.0" rx="1.6" ry="1.1" fill="#22a84c" transform="rotate(99 99.6 253.0)"/>
</g>
<g filter="url(#b1)"><ellipse cx="161" cy="246" rx="21.5" ry="17.5" fill="url(#gRed2)"/><ellipse cx="159.5" cy="231.5" rx="1.7" ry="1.1" fill="#c02a36" transform="rotate(95 159.5 231.5)"/><ellipse cx="159.9" cy="231.5" rx="1.5" ry="1.3" fill="#c02a36" transform="rotate(142 159.9 231.5)"/><ellipse cx="143.6" cy="243.7" rx="2.0" ry="1.4" fill="#a8202c" transform="rotate(53 143.6 243.7)"/><ellipse cx="143.2" cy="241.1" rx="1.2" ry="0.9" fill="#a8202c" transform="rotate(174 143.2 241.1)"/><ellipse cx="155.8" cy="231.2" rx="1.1" ry="0.7" fill="#98202a" transform="rotate(130 155.8 231.2)"/><ellipse cx="147.0" cy="234.7" rx="1.5" ry="1.1" fill="#98202a" transform="rotate(108 147.0 234.7)"/><ellipse cx="177.6" cy="242.4" rx="1.9" ry="1.5" fill="#98202a" transform="rotate(13 177.6 242.4)"/><ellipse cx="163.4" cy="232.3" rx="1.2" ry="0.9" fill="#98202a" transform="rotate(152 163.4 232.3)"/><ellipse cx="159.3" cy="231.7" rx="1.6" ry="1.3" fill="#c02a36" transform="rotate(49 159.3 231.7)"/><ellipse cx="178.3" cy="242.4" rx="1.4" ry="1.0" fill="#98202a" transform="rotate(98 178.3 242.4)"/><ellipse cx="167.8" cy="235.3" rx="1.3" ry="0.9" fill="#98202a" transform="rotate(146 167.8 235.3)"/><ellipse cx="173.8" cy="236.9" rx="1.1" ry="1.0" fill="#a8202c" transform="rotate(8 173.8 236.9)"/><ellipse cx="161.6" cy="233.4" rx="1.5" ry="1.1" fill="#98202a" transform="rotate(26 161.6 233.4)"/><ellipse cx="170.9" cy="236.4" rx="1.2" ry="0.8" fill="#a8202c" transform="rotate(70 170.9 236.4)"/><ellipse cx="160.7" cy="231.7" rx="1.8" ry="1.3" fill="#a8202c" transform="rotate(53 160.7 231.7)"/><ellipse cx="153.5" cy="233.8" rx="1.7" ry="1.5" fill="#c02a36" transform="rotate(42 153.5 233.8)"/>
<ellipse cx="174.5" cy="245.9" rx="1.6" ry="1.4" fill="#98202a" transform="rotate(6 174.5 245.9)"/><ellipse cx="151.7" cy="252.9" rx="1.8" ry="1.5" fill="#98202a" transform="rotate(94 151.7 252.9)"/><ellipse cx="155.0" cy="258.2" rx="2.1" ry="1.6" fill="#98202a" transform="rotate(51 155.0 258.2)"/><ellipse cx="142.5" cy="250.7" rx="1.5" ry="0.9" fill="#c02a36" transform="rotate(9 142.5 250.7)"/><ellipse cx="148.6" cy="243.7" rx="1.5" ry="0.9" fill="#c02a36" transform="rotate(9 148.6 243.7)"/><ellipse cx="158.1" cy="256.8" rx="1.8" ry="1.4" fill="#98202a" transform="rotate(42 158.1 256.8)"/><ellipse cx="158.6" cy="260.8" rx="1.6" ry="1.2" fill="#c02a36" transform="rotate(8 158.6 260.8)"/><ellipse cx="156.6" cy="256.5" rx="1.6" ry="1.1" fill="#98202a" transform="rotate(74 156.6 256.5)"/><ellipse cx="164.3" cy="255.7" rx="1.8" ry="1.5" fill="#98202a" transform="rotate(41 164.3 255.7)"/><ellipse cx="152.3" cy="253.4" rx="1.4" ry="1.1" fill="#c02a36" transform="rotate(141 152.3 253.4)"/><ellipse cx="171.0" cy="255.0" rx="1.5" ry="0.9" fill="#c02a36" transform="rotate(129 171.0 255.0)"/><ellipse cx="143.8" cy="244.2" rx="2.3" ry="1.7" fill="#a8202c" transform="rotate(158 143.8 244.2)"/><ellipse cx="171.0" cy="256.5" rx="1.5" ry="1.1" fill="#d03a46" transform="rotate(49 171.0 256.5)"/><ellipse cx="142.6" cy="251.2" rx="1.4" ry="1.2" fill="#d03a46" transform="rotate(165 142.6 251.2)"/><ellipse cx="168.8" cy="258.1" rx="2.3" ry="1.7" fill="#c02a36" transform="rotate(0 168.8 258.1)"/><ellipse cx="154.2" cy="260.9" rx="2.1" ry="1.4" fill="#98202a" transform="rotate(57 154.2 260.9)"/><ellipse cx="163.0" cy="256.0" rx="1.6" ry="1.1" fill="#d03a46" transform="rotate(77 163.0 256.0)"/><ellipse cx="178.5" cy="246.1" rx="2.3" ry="1.5" fill="#d03a46" transform="rotate(123 178.5 246.1)"/><ellipse cx="151.7" cy="255.3" rx="1.4" ry="1.2" fill="#a8202c" transform="rotate(0 151.7 255.3)"/><ellipse cx="177.5" cy="244.4" rx="1.5" ry="1.1" fill="#d03a46" transform="rotate(96 177.5 244.4)"/><ellipse cx="174.0" cy="252.1" rx="1.5" ry="1.2" fill="#a8202c" transform="rotate(58 174.0 252.1)"/><ellipse cx="155.6" cy="255.0" rx="2.0" ry="1.2" fill="#98202a" transform="rotate(64 155.6 255.0)"/><ellipse cx="173.0" cy="243.6" rx="1.6" ry="1.3" fill="#c02a36" transform="rotate(128 173.0 243.6)"/><ellipse cx="175.8" cy="253.1" rx="1.6" ry="1.3" fill="#d03a46" transform="rotate(150 175.8 253.1)"/><ellipse cx="173.7" cy="250.1" rx="2.1" ry="1.3" fill="#c02a36" transform="rotate(4 173.7 250.1)"/><ellipse cx="172.6" cy="252.9" rx="2.0" ry="1.5" fill="#a8202c" transform="rotate(157 172.6 252.9)"/><ellipse cx="144.8" cy="242.6" rx="1.7" ry="1.0" fill="#c02a36" transform="rotate(45 144.8 242.6)"/><ellipse cx="178.2" cy="247.5" rx="1.9" ry="1.3" fill="#98202a" transform="rotate(13 178.2 247.5)"/><ellipse cx="153.1" cy="257.3" rx="1.4" ry="1.0" fill="#a8202c" transform="rotate(50 153.1 257.3)"/><ellipse cx="172.4" cy="256.3" rx="2.1" ry="1.8" fill="#c02a36" transform="rotate(82 172.4 256.3)"/>
<ellipse cx="168.7" cy="256.7" rx="2.0" ry="1.7" fill="#9a1c26" transform="rotate(166 168.7 256.7)"/><ellipse cx="166.2" cy="253.9" rx="1.5" ry="1.3" fill="#9a1c26" transform="rotate(18 166.2 253.9)"/><ellipse cx="160.5" cy="255.8" rx="1.6" ry="1.2" fill="#9a1c26" transform="rotate(70 160.5 255.8)"/><ellipse cx="155.5" cy="253.2" rx="2.1" ry="1.8" fill="#a8202c" transform="rotate(115 155.5 253.2)"/><ellipse cx="152.3" cy="258.2" rx="2.1" ry="1.4" fill="#9a1c26" transform="rotate(124 152.3 258.2)"/><ellipse cx="151.3" cy="253.9" rx="2.3" ry="1.8" fill="#a8202c" transform="rotate(163 151.3 253.9)"/><ellipse cx="164.7" cy="254.5" rx="2.1" ry="1.8" fill="#a8202c" transform="rotate(176 164.7 254.5)"/><ellipse cx="162.9" cy="258.1" rx="2.3" ry="1.7" fill="#a8202c" transform="rotate(137 162.9 258.1)"/><ellipse cx="167.4" cy="253.6" rx="1.8" ry="1.2" fill="#a8202c" transform="rotate(67 167.4 253.6)"/><ellipse cx="158.4" cy="256.6" rx="1.4" ry="1.1" fill="#9a1c26" transform="rotate(144 158.4 256.6)"/><ellipse cx="166.4" cy="254.2" rx="1.7" ry="1.0" fill="#a8202c" transform="rotate(99 166.4 254.2)"/><ellipse cx="170.9" cy="251.4" rx="2.2" ry="1.4" fill="#a8202c" transform="rotate(178 170.9 251.4)"/>
</g>
<ellipse cx="215.3" cy="246.8" rx="25" ry="20.5" fill="url(#gHalo)"/><g filter="url(#b05)"><ellipse cx="215.3" cy="246.8" rx="21" ry="17" fill="url(#gMg2)"/></g><g filter="url(#b1)"><ellipse cx="225.6" cy="244.9" rx="2.2" ry="1.4" fill="#e4a418" transform="rotate(4 225.6 244.9)"/><ellipse cx="231.5" cy="251.5" rx="1.6" ry="1.3" fill="#f2cc2c" transform="rotate(61 231.5 251.5)"/><ellipse cx="226.0" cy="254.6" rx="1.8" ry="1.3" fill="#f2cc2c" transform="rotate(58 226.0 254.6)"/><ellipse cx="226.5" cy="242.9" rx="1.8" ry="1.2" fill="#f2cc2c" transform="rotate(130 226.5 242.9)"/><ellipse cx="201.8" cy="252.8" rx="2.3" ry="1.7" fill="#d8841c" transform="rotate(144 201.8 252.8)"/><ellipse cx="219.6" cy="235.9" rx="1.7" ry="1.4" fill="#d8841c" transform="rotate(103 219.6 235.9)"/><ellipse cx="218.2" cy="233.0" rx="1.5" ry="1.3" fill="#eebc20" transform="rotate(50 218.2 233.0)"/><ellipse cx="222.9" cy="254.3" rx="2.4" ry="2.0" fill="#eebc20" transform="rotate(73 222.9 254.3)"/><ellipse cx="203.7" cy="245.0" rx="2.3" ry="2.0" fill="#d8841c" transform="rotate(12 203.7 245.0)"/><ellipse cx="230.2" cy="252.8" rx="2.4" ry="1.7" fill="#e4a418" transform="rotate(45 230.2 252.8)"/><ellipse cx="201.1" cy="243.6" rx="1.5" ry="1.0" fill="#e4a418" transform="rotate(160 201.1 243.6)"/><ellipse cx="207.8" cy="260.1" rx="1.8" ry="1.3" fill="#eebc20" transform="rotate(69 207.8 260.1)"/><ellipse cx="204.0" cy="248.3" rx="1.9" ry="1.4" fill="#f2cc2c" transform="rotate(23 204.0 248.3)"/><ellipse cx="212.8" cy="255.3" rx="2.4" ry="2.1" fill="#e4a418" transform="rotate(127 212.8 255.3)"/><ellipse cx="198.9" cy="241.1" rx="1.9" ry="1.5" fill="#d8841c" transform="rotate(20 198.9 241.1)"/><ellipse cx="202.3" cy="241.9" rx="2.3" ry="1.8" fill="#f2cc2c" transform="rotate(173 202.3 241.9)"/><ellipse cx="224.4" cy="251.2" rx="1.8" ry="1.4" fill="#d8841c" transform="rotate(111 224.4 251.2)"/><ellipse cx="206.3" cy="257.2" rx="2.2" ry="1.7" fill="#f2cc2c" transform="rotate(140 206.3 257.2)"/><ellipse cx="222.8" cy="234.2" rx="2.4" ry="2.1" fill="#eebc20" transform="rotate(171 222.8 234.2)"/><ellipse cx="228.8" cy="240.3" rx="2.4" ry="1.4" fill="#f2cc2c" transform="rotate(63 228.8 240.3)"/><ellipse cx="200.5" cy="246.9" rx="1.8" ry="1.2" fill="#f2cc2c" transform="rotate(125 200.5 246.9)"/><ellipse cx="208.8" cy="258.3" rx="2.2" ry="1.5" fill="#eebc20" transform="rotate(44 208.8 258.3)"/><ellipse cx="206.0" cy="237.5" rx="2.4" ry="2.2" fill="#d8841c" transform="rotate(85 206.0 237.5)"/><ellipse cx="227.8" cy="236.6" rx="1.8" ry="1.2" fill="#d8841c" transform="rotate(157 227.8 236.6)"/><ellipse cx="201.4" cy="243.3" rx="2.4" ry="1.7" fill="#eebc20" transform="rotate(25 201.4 243.3)"/><ellipse cx="217.7" cy="237.4" rx="2.1" ry="1.8" fill="#e4a418" transform="rotate(148 217.7 237.4)"/>
<ellipse cx="208.6" cy="258.1" rx="1.9" ry="1.4" fill="#e8b01c" transform="rotate(88 208.6 258.1)"/><ellipse cx="207.6" cy="250.8" rx="1.5" ry="1.1" fill="#e8b01c" transform="rotate(105 207.6 250.8)"/><ellipse cx="219.0" cy="254.2" rx="1.5" ry="1.1" fill="#e8b01c" transform="rotate(5 219.0 254.2)"/><ellipse cx="214.1" cy="254.2" rx="1.5" ry="1.0" fill="#f4d434" transform="rotate(116 214.1 254.2)"/><ellipse cx="219.9" cy="258.3" rx="2.2" ry="1.6" fill="#f0c424" transform="rotate(148 219.9 258.3)"/><ellipse cx="207.0" cy="257.2" rx="1.8" ry="1.4" fill="#e8b01c" transform="rotate(146 207.0 257.2)"/><ellipse cx="201.6" cy="253.7" rx="2.2" ry="1.9" fill="#f0c424" transform="rotate(139 201.6 253.7)"/><ellipse cx="214.2" cy="253.4" rx="1.6" ry="1.1" fill="#f0c424" transform="rotate(160 214.2 253.4)"/><ellipse cx="215.7" cy="257.2" rx="1.9" ry="1.6" fill="#e8b01c" transform="rotate(152 215.7 257.2)"/><ellipse cx="224.5" cy="252.9" rx="1.9" ry="1.4" fill="#f4d434" transform="rotate(46 224.5 252.9)"/><ellipse cx="208.9" cy="252.1" rx="1.4" ry="1.0" fill="#f0c424" transform="rotate(173 208.9 252.1)"/><ellipse cx="211.3" cy="254.0" rx="1.5" ry="1.0" fill="#e8b01c" transform="rotate(75 211.3 254.0)"/><ellipse cx="209.2" cy="255.1" rx="1.7" ry="1.4" fill="#f0c424" transform="rotate(19 209.2 255.1)"/><ellipse cx="225.1" cy="255.5" rx="2.2" ry="1.4" fill="#f0c424" transform="rotate(119 225.1 255.5)"/><ellipse cx="215.3" cy="258.1" rx="1.4" ry="1.0" fill="#e8b01c" transform="rotate(19 215.3 258.1)"/><ellipse cx="221.2" cy="251.4" rx="1.7" ry="1.2" fill="#f0c424" transform="rotate(51 221.2 251.4)"/>
<ellipse cx="212.3" cy="245.6" rx="2.1" ry="1.6" fill="#6a6a5a" transform="rotate(168 212.3 245.6)"/><ellipse cx="214.7" cy="241.3" rx="1.8" ry="1.3" fill="#8a8a7a" transform="rotate(170 214.7 241.3)"/><ellipse cx="219.8" cy="247.2" rx="2.0" ry="1.6" fill="#8a8a7a" transform="rotate(5 219.8 247.2)"/><ellipse cx="221.4" cy="239.4" rx="2.5" ry="1.5" fill="#6a6a5a" transform="rotate(153 221.4 239.4)"/><ellipse cx="213.3" cy="241.5" rx="1.8" ry="1.3" fill="#8a8a7a" transform="rotate(107 213.3 241.5)"/><ellipse cx="216.1" cy="240.6" rx="2.1" ry="1.7" fill="#8a8a7a" transform="rotate(148 216.1 240.6)"/><ellipse cx="224.3" cy="244.9" rx="2.7" ry="2.3" fill="#8a8a7a" transform="rotate(60 224.3 244.9)"/><ellipse cx="212.3" cy="243.1" rx="2.0" ry="1.5" fill="#c8c8c8" transform="rotate(179 212.3 243.1)"/>
<ellipse cx="215.3" cy="246.8" rx="20.8" ry="16.8" fill="none" stroke="#8a6a3a" stroke-width="1"/></g>
<line x1="62.70" y1="218.90" x2="76.20" y2="218.90" stroke="#f2f2f2" stroke-width="1.3" />
<line x1="111.20" y1="218.90" x2="126.20" y2="218.90" stroke="#f2f2f2" stroke-width="1.3" />
<line x1="166.00" y1="219.00" x2="181.00" y2="219.00" stroke="#f2f2f2" stroke-width="1.3" />
<line x1="222.60" y1="219.00" x2="236.40" y2="219.00" stroke="#f2f2f2" stroke-width="1.3" />
<line x1="62.70" y1="265.00" x2="76.20" y2="265.00" stroke="#f2f2f2" stroke-width="1.3" />
<line x1="112.40" y1="266.00" x2="127.00" y2="266.00" stroke="#f2f2f2" stroke-width="1.3" />
<line x1="166.00" y1="265.50" x2="181.00" y2="265.50" stroke="#f2f2f2" stroke-width="1.3" />
<line x1="224.00" y1="266.00" x2="238.00" y2="266.00" stroke="#f2f2f2" stroke-width="1.3" />
<text x="7.50" y="294.60" font-size="8.5" fill="#111" stroke="#111" stroke-width="0.1" font-weight="bold">D</text>
<text x="27.30" y="335.50" font-size="5.4" text-anchor="middle" fill="#333" stroke="#333" stroke-width="0.1" transform="rotate(-90 27.30 335.50)">Relative expression of <tspan font-style="italic">TaARE1</tspan></text>
<rect x="45.30" y="310.83" width="6.70" height="79.06" fill="#4a86c6" />
<line x1="48.65" y1="307.57" x2="48.65" y2="314.10" stroke="#555" stroke-width="0.6" />
<line x1="47.15" y1="307.57" x2="50.15" y2="307.57" stroke="#555" stroke-width="0.6" />
<line x1="47.15" y1="314.10" x2="50.15" y2="314.10" stroke="#555" stroke-width="0.6" />
<text x="48.65" y="306.37" font-size="5" text-anchor="middle" fill="#444" stroke="#444" stroke-width="0.1">**</text>
<rect x="52.50" y="364.80" width="6.70" height="25.10" fill="#ed7d31" />
<line x1="55.85" y1="364.30" x2="55.85" y2="365.30" stroke="#555" stroke-width="0.6" />
<line x1="54.35" y1="364.30" x2="57.35" y2="364.30" stroke="#555" stroke-width="0.6" />
<line x1="54.35" y1="365.30" x2="57.35" y2="365.30" stroke="#555" stroke-width="0.6" />
<rect x="60.40" y="324.14" width="6.70" height="65.76" fill="#a5a5a5" />
<line x1="63.75" y1="317.36" x2="63.75" y2="330.91" stroke="#555" stroke-width="0.6" />
<line x1="62.25" y1="317.36" x2="65.25" y2="317.36" stroke="#555" stroke-width="0.6" />
<line x1="62.25" y1="330.91" x2="65.25" y2="330.91" stroke="#555" stroke-width="0.6" />
<text x="63.75" y="316.16" font-size="5" text-anchor="middle" fill="#444" stroke="#444" stroke-width="0.1">**</text>
<text x="57.90" y="398.80" font-size="6.25" text-anchor="end" fill="#2a2a2a" stroke="#2a2a2a" stroke-width="0.1" transform="rotate(-45 57.90 398.80)">Root</text>
<rect x="73.98" y="346.73" width="6.70" height="43.17" fill="#4a86c6" />
<line x1="77.33" y1="344.22" x2="77.33" y2="349.24" stroke="#555" stroke-width="0.6" />
<line x1="75.83" y1="344.22" x2="78.83" y2="344.22" stroke="#555" stroke-width="0.6" />
<line x1="75.83" y1="349.24" x2="78.83" y2="349.24" stroke="#555" stroke-width="0.6" />
<text x="77.33" y="343.02" font-size="5" text-anchor="middle" fill="#444" stroke="#444" stroke-width="0.1">**</text>
<rect x="81.18" y="367.31" width="6.70" height="22.59" fill="#ed7d31" />
<line x1="84.53" y1="364.80" x2="84.53" y2="369.82" stroke="#555" stroke-width="0.6" />
<line x1="83.03" y1="364.80" x2="86.03" y2="364.80" stroke="#555" stroke-width="0.6" />
<line x1="83.03" y1="369.82" x2="86.03" y2="369.82" stroke="#555" stroke-width="0.6" />
<rect x="89.08" y="365.30" width="6.70" height="24.60" fill="#a5a5a5" />
<line x1="92.43" y1="357.77" x2="92.43" y2="372.83" stroke="#555" stroke-width="0.6" />
<line x1="90.93" y1="357.77" x2="93.93" y2="357.77" stroke="#555" stroke-width="0.6" />
<line x1="90.93" y1="372.83" x2="93.93" y2="372.83" stroke="#555" stroke-width="0.6" />
<text x="86.58" y="398.80" font-size="6.25" text-anchor="end" fill="#2a2a2a" stroke="#2a2a2a" stroke-width="0.1" transform="rotate(-45 86.58 398.80)">Peduncle</text>
<rect x="102.66" y="343.72" width="6.70" height="46.18" fill="#4a86c6" />
<line x1="106.01" y1="342.46" x2="106.01" y2="344.97" stroke="#555" stroke-width="0.6" />
<line x1="104.51" y1="342.46" x2="107.51" y2="342.46" stroke="#555" stroke-width="0.6" />
<line x1="104.51" y1="344.97" x2="107.51" y2="344.97" stroke="#555" stroke-width="0.6" />
<text x="106.01" y="341.26" font-size="5" text-anchor="middle" fill="#444" stroke="#444" stroke-width="0.1">**</text>
<rect x="109.86" y="367.31" width="6.70" height="22.59" fill="#ed7d31" />
<line x1="113.21" y1="360.53" x2="113.21" y2="374.09" stroke="#555" stroke-width="0.6" />
<line x1="111.71" y1="360.53" x2="114.71" y2="360.53" stroke="#555" stroke-width="0.6" />
<line x1="111.71" y1="374.09" x2="114.71" y2="374.09" stroke="#555" stroke-width="0.6" />
<rect x="117.76" y="364.30" width="6.70" height="25.60" fill="#a5a5a5" />
<line x1="121.11" y1="363.55" x2="121.11" y2="365.05" stroke="#555" stroke-width="0.6" />
<line x1="119.61" y1="363.55" x2="122.61" y2="363.55" stroke="#555" stroke-width="0.6" />
<line x1="119.61" y1="365.05" x2="122.61" y2="365.05" stroke="#555" stroke-width="0.6" />
<text x="115.26" y="398.80" font-size="6.25" text-anchor="end" fill="#2a2a2a" stroke="#2a2a2a" stroke-width="0.1" transform="rotate(-45 115.26 398.80)">Top second leaf</text>
<rect x="131.34" y="343.46" width="6.70" height="46.44" fill="#4a86c6" />
<line x1="134.69" y1="340.45" x2="134.69" y2="346.48" stroke="#555" stroke-width="0.6" />
<line x1="133.19" y1="340.45" x2="136.19" y2="340.45" stroke="#555" stroke-width="0.6" />
<line x1="133.19" y1="346.48" x2="136.19" y2="346.48" stroke="#555" stroke-width="0.6" />
<text x="134.69" y="339.25" font-size="5" text-anchor="middle" fill="#444" stroke="#444" stroke-width="0.1">**</text>
<rect x="138.54" y="366.56" width="6.70" height="23.34" fill="#ed7d31" />
<line x1="141.89" y1="361.03" x2="141.89" y2="372.08" stroke="#555" stroke-width="0.6" />
<line x1="140.39" y1="361.03" x2="143.39" y2="361.03" stroke="#555" stroke-width="0.6" />
<line x1="140.39" y1="372.08" x2="143.39" y2="372.08" stroke="#555" stroke-width="0.6" />
<rect x="146.44" y="363.54" width="6.70" height="26.36" fill="#a5a5a5" />
<line x1="149.79" y1="361.03" x2="149.79" y2="366.05" stroke="#555" stroke-width="0.6" />
<line x1="148.29" y1="361.03" x2="151.29" y2="361.03" stroke="#555" stroke-width="0.6" />
<line x1="148.29" y1="366.05" x2="151.29" y2="366.05" stroke="#555" stroke-width="0.6" />
<text x="143.94" y="398.80" font-size="6.25" text-anchor="end" fill="#2a2a2a" stroke="#2a2a2a" stroke-width="0.1" transform="rotate(-45 143.94 398.80)">Flag leaf</text>
<rect x="160.02" y="314.10" width="6.70" height="75.80" fill="#4a86c6" />
<line x1="163.37" y1="310.33" x2="163.37" y2="317.86" stroke="#555" stroke-width="0.6" />
<line x1="161.87" y1="310.33" x2="164.87" y2="310.33" stroke="#555" stroke-width="0.6" />
<line x1="161.87" y1="317.86" x2="164.87" y2="317.86" stroke="#555" stroke-width="0.6" />
<text x="163.37" y="309.13" font-size="5" text-anchor="middle" fill="#444" stroke="#444" stroke-width="0.1">**</text>
<rect x="167.22" y="357.27" width="6.70" height="32.63" fill="#ed7d31" />
<line x1="170.57" y1="353.25" x2="170.57" y2="361.29" stroke="#555" stroke-width="0.6" />
<line x1="169.07" y1="353.25" x2="172.07" y2="353.25" stroke="#555" stroke-width="0.6" />
<line x1="169.07" y1="361.29" x2="172.07" y2="361.29" stroke="#555" stroke-width="0.6" />
<rect x="175.12" y="351.75" width="6.70" height="38.15" fill="#a5a5a5" />
<line x1="178.47" y1="350.49" x2="178.47" y2="353.00" stroke="#555" stroke-width="0.6" />
<line x1="176.97" y1="350.49" x2="179.97" y2="350.49" stroke="#555" stroke-width="0.6" />
<line x1="176.97" y1="353.00" x2="179.97" y2="353.00" stroke="#555" stroke-width="0.6" />
<text x="172.62" y="398.80" font-size="6.25" text-anchor="end" fill="#2a2a2a" stroke="#2a2a2a" stroke-width="0.1" transform="rotate(-45 172.62 398.80)">Flag leaf sheath</text>
<rect x="188.70" y="304.56" width="6.70" height="85.34" fill="#4a86c6" />
<line x1="192.05" y1="302.80" x2="192.05" y2="306.32" stroke="#555" stroke-width="0.6" />
<line x1="190.55" y1="302.80" x2="193.55" y2="302.80" stroke="#555" stroke-width="0.6" />
<line x1="190.55" y1="306.32" x2="193.55" y2="306.32" stroke="#555" stroke-width="0.6" />
<text x="192.05" y="301.60" font-size="5" text-anchor="middle" fill="#444" stroke="#444" stroke-width="0.1">**</text>
<rect x="195.90" y="359.28" width="6.70" height="30.62" fill="#ed7d31" />
<line x1="199.25" y1="355.01" x2="199.25" y2="363.54" stroke="#555" stroke-width="0.6" />
<line x1="197.75" y1="355.01" x2="200.75" y2="355.01" stroke="#555" stroke-width="0.6" />
<line x1="197.75" y1="363.54" x2="200.75" y2="363.54" stroke="#555" stroke-width="0.6" />
<rect x="203.80" y="359.78" width="6.70" height="30.12" fill="#a5a5a5" />
<line x1="207.15" y1="357.27" x2="207.15" y2="362.29" stroke="#555" stroke-width="0.6" />
<line x1="205.65" y1="357.27" x2="208.65" y2="357.27" stroke="#555" stroke-width="0.6" />
<line x1="205.65" y1="362.29" x2="208.65" y2="362.29" stroke="#555" stroke-width="0.6" />
<text x="201.30" y="398.80" font-size="6.25" text-anchor="end" fill="#2a2a2a" stroke="#2a2a2a" stroke-width="0.1" transform="rotate(-45 201.30 398.80)">Spike</text>
<rect x="217.38" y="316.61" width="6.70" height="73.29" fill="#4a86c6" />
<line x1="220.73" y1="314.10" x2="220.73" y2="319.12" stroke="#555" stroke-width="0.6" />
<line x1="219.23" y1="314.10" x2="222.23" y2="314.10" stroke="#555" stroke-width="0.6" />
<line x1="219.23" y1="319.12" x2="222.23" y2="319.12" stroke="#555" stroke-width="0.6" />
<text x="220.73" y="312.90" font-size="5" text-anchor="middle" fill="#444" stroke="#444" stroke-width="0.1">**</text>
<rect x="224.58" y="356.52" width="6.70" height="33.38" fill="#ed7d31" />
<line x1="227.93" y1="354.01" x2="227.93" y2="359.03" stroke="#555" stroke-width="0.6" />
<line x1="226.43" y1="354.01" x2="229.43" y2="354.01" stroke="#555" stroke-width="0.6" />
<line x1="226.43" y1="359.03" x2="229.43" y2="359.03" stroke="#555" stroke-width="0.6" />
<rect x="232.48" y="345.47" width="6.70" height="44.43" fill="#a5a5a5" />
<line x1="235.83" y1="343.97" x2="235.83" y2="346.98" stroke="#555" stroke-width="0.6" />
<line x1="234.33" y1="343.97" x2="237.33" y2="343.97" stroke="#555" stroke-width="0.6" />
<line x1="234.33" y1="346.98" x2="237.33" y2="346.98" stroke="#555" stroke-width="0.6" />
<text x="235.83" y="342.77" font-size="5" text-anchor="middle" fill="#444" stroke="#444" stroke-width="0.1">**</text>
<text x="229.98" y="398.80" font-size="6.25" text-anchor="end" fill="#2a2a2a" stroke="#2a2a2a" stroke-width="0.1" transform="rotate(-45 229.98 398.80)">Grain</text>
<line x1="40.70" y1="289.30" x2="40.70" y2="390.60" stroke="#333" stroke-width="1.3" />
<line x1="40.10" y1="389.90" x2="242.50" y2="389.90" stroke="#333" stroke-width="1.4" />
<line x1="37.70" y1="389.90" x2="40.70" y2="389.90" stroke="#333" stroke-width="0.9" />
<text x="36.40" y="392.00" font-size="6" text-anchor="end" fill="#333" stroke="#333" stroke-width="0.1">0</text>
<line x1="37.70" y1="364.80" x2="40.70" y2="364.80" stroke="#333" stroke-width="0.9" />
<text x="36.40" y="366.90" font-size="6" text-anchor="end" fill="#333" stroke="#333" stroke-width="0.1">1</text>
<line x1="37.70" y1="339.70" x2="40.70" y2="339.70" stroke="#333" stroke-width="0.9" />
<text x="36.40" y="341.80" font-size="6" text-anchor="end" fill="#333" stroke="#333" stroke-width="0.1">2</text>
<line x1="37.70" y1="314.60" x2="40.70" y2="314.60" stroke="#333" stroke-width="0.9" />
<text x="36.40" y="316.70" font-size="6" text-anchor="end" fill="#333" stroke="#333" stroke-width="0.1">3</text>
<line x1="37.70" y1="289.50" x2="40.70" y2="289.50" stroke="#333" stroke-width="0.9" />
<text x="36.40" y="291.60" font-size="6" text-anchor="end" fill="#333" stroke="#333" stroke-width="0.1">4</text>
<rect x="203.00" y="280.50" width="3.60" height="3.60" fill="#4a86c6" />
<text x="209.30" y="284.30" font-size="5.6" fill="#333" stroke="#333" stroke-width="0.1" font-style="italic">TaARE1-A</text>
<rect x="203.00" y="289.05" width="3.60" height="3.60" fill="#ed7d31" />
<text x="209.30" y="292.85" font-size="5.6" fill="#333" stroke="#333" stroke-width="0.1" font-style="italic">TaARE1-B</text>
<rect x="203.00" y="297.60" width="3.60" height="3.60" fill="#a5a5a5" />
<text x="209.30" y="301.40" font-size="5.6" fill="#333" stroke="#333" stroke-width="0.1" font-style="italic">TaARE1-D</text>
</g>
<g id="mid">
<text x="257.60" y="16.30" font-size="8.5" fill="#111" stroke="#111" stroke-width="0.1" font-weight="bold">A</text>
<text x="271.70" y="15.60" font-size="4.6" fill="#333" stroke="#333" stroke-width="0.13" font-style="italic">TaARE1</text>
<line x1="305.00" y1="14.00" x2="539.00" y2="14.00" stroke="#3a3a3a" stroke-width="0.9" />
<polygon points="537.5,12.4 541.5,14 537.5,15.6" fill="#444"/>
<rect x="310.00" y="11.20" width="20.00" height="5.60" fill="#2aa7de" rx="0.7"/>
<rect x="335.40" y="11.20" width="3.60" height="5.60" fill="#2aa7de" rx="0.7"/>
<rect x="341.50" y="11.20" width="7.00" height="5.60" fill="#2aa7de" rx="0.7"/>
<rect x="351.50" y="11.20" width="5.50" height="5.60" fill="#2aa7de" rx="0.7"/>
<rect x="505.50" y="11.20" width="4.00" height="5.60" fill="#2aa7de" rx="0.7"/>
<rect x="517.00" y="11.20" width="5.60" height="5.60" fill="#2aa7de" rx="0.7"/>
<rect x="529.00" y="11.20" width="2.00" height="5.60" fill="#2aa7de" rx="0.7"/>
<line x1="318.00" y1="17.90" x2="471.40" y2="17.90" stroke="#3a3a3a" stroke-width="0.8" />
<line x1="471.40" y1="17.90" x2="471.40" y2="19.20" stroke="#444" stroke-width="0.5" />
<line x1="357.00" y1="17.90" x2="359.50" y2="19.00" stroke="#444" stroke-width="0.5" />
<path d="M310,23.4 Q310,20.2 312.5,20.2 L405.5,20.2 Q408,20.2 408,23.4" fill="none" stroke="#333" stroke-width="0.7"/>
<path d="M423,23.0 Q423,19.8 425.5,19.8 L517.5,19.8 Q520,19.8 520,23.0" fill="none" stroke="#333" stroke-width="0.7"/>
<text x="465.30" y="25.00" font-size="3.4" text-anchor="middle" fill="#444" stroke="#444" stroke-width="0.13"><tspan font-style="italic">Bts</tspan> CI</text>
<text x="271.70" y="31.60" font-size="4.3" fill="#222" stroke="#222" stroke-width="0.13" textLength="31" lengthAdjust="spacingAndGlyphs"><tspan font-style="italic">TaARE1-A</tspan> (7 AS)</text>
<text x="309.30" y="31.60" font-size="4.3" fill="#161616" stroke="#161616" stroke-width="0.13" textLength="89.14" lengthAdjust="spacingAndGlyphs">CGATGGTGATTGGGGCGGGGCTGGGAGCTTGT</text>
<text x="398.44" y="31.60" font-size="4.3" fill="#2a3ea0" stroke="#2a3ea0" stroke-width="0.13" textLength="8.36" lengthAdjust="spacingAndGlyphs">CGG</text>
<text x="406.79" y="31.60" font-size="4.3" fill="#161616" stroke="#161616" stroke-width="0.13" textLength="11.14" lengthAdjust="spacingAndGlyphs">—//—</text>
<text x="417.94" y="31.60" font-size="4.3" fill="#161616" stroke="#161616" stroke-width="0.13" textLength="36.21" lengthAdjust="spacingAndGlyphs">GGGTAGAGCTGAG</text>
<text x="454.15" y="31.60" font-size="4.3" fill="#d9822b" stroke="#d9822b" stroke-width="0.13" textLength="13.93" lengthAdjust="spacingAndGlyphs">CGATG</text>
<text x="468.08" y="31.60" font-size="4.3" fill="#161616" stroke="#161616" stroke-width="0.13" textLength="8.36" lengthAdjust="spacingAndGlyphs">AAT</text>
<text x="476.43" y="31.60" font-size="4.3" fill="#2a3ea0" stroke="#2a3ea0" stroke-width="0.13" textLength="5.57" lengthAdjust="spacingAndGlyphs">GG</text>
<text x="482.00" y="31.60" font-size="4.3" fill="#161616" stroke="#161616" stroke-width="0.13" textLength="39.00" lengthAdjust="spacingAndGlyphs">AGATT–//–CTCTC</text>
<line x1="341.33" y1="32.50" x2="398.44" y2="32.50" stroke="#222" stroke-width="0.6" />
<line x1="419.33" y1="32.50" x2="476.43" y2="32.50" stroke="#222" stroke-width="0.6" />
<text x="271.70" y="40.00" font-size="4.3" fill="#222" stroke="#222" stroke-width="0.13" textLength="31" lengthAdjust="spacingAndGlyphs"><tspan font-style="italic">TaARE1-B</tspan> (7 BL)</text>
<text x="309.30" y="40.00" font-size="4.3" fill="#161616" stroke="#161616" stroke-width="0.13" textLength="89.14" lengthAdjust="spacingAndGlyphs">CGATGGTGACTGGGGCGGGGCTGGGAGCTTGT</text>
<text x="398.44" y="40.00" font-size="4.3" fill="#2a3ea0" stroke="#2a3ea0" stroke-width="0.13" textLength="8.36" lengthAdjust="spacingAndGlyphs">CGG</text>
<text x="406.79" y="40.00" font-size="4.3" fill="#161616" stroke="#161616" stroke-width="0.13" textLength="11.14" lengthAdjust="spacingAndGlyphs">—//—</text>
<text x="417.94" y="40.00" font-size="4.3" fill="#161616" stroke="#161616" stroke-width="0.13" textLength="36.21" lengthAdjust="spacingAndGlyphs">GGGTAGAGCTGAG</text>
<text x="454.15" y="40.00" font-size="4.3" fill="#d9822b" stroke="#d9822b" stroke-width="0.13" textLength="13.93" lengthAdjust="spacingAndGlyphs">CGATG</text>
<text x="468.08" y="40.00" font-size="4.3" fill="#161616" stroke="#161616" stroke-width="0.13" textLength="8.36" lengthAdjust="spacingAndGlyphs">AAT</text>
<text x="476.43" y="40.00" font-size="4.3" fill="#2a3ea0" stroke="#2a3ea0" stroke-width="0.13" textLength="5.57" lengthAdjust="spacingAndGlyphs">GG</text>
<text x="482.00" y="40.00" font-size="4.3" fill="#161616" stroke="#161616" stroke-width="0.13" textLength="39.00" lengthAdjust="spacingAndGlyphs">AGATT–//–CTCTC</text>
<text x="271.70" y="49.00" font-size="4.3" fill="#222" stroke="#222" stroke-width="0.13" textLength="31" lengthAdjust="spacingAndGlyphs"><tspan font-style="italic">TaARE1-D</tspan> (7 DS)</text>
<text x="309.30" y="49.00" font-size="4.3" fill="#161616" stroke="#161616" stroke-width="0.13" textLength="89.14" lengthAdjust="spacingAndGlyphs">CGATGGTGATTGGGGCGGGGCTGGGAGCTTGT</text>
<text x="398.44" y="49.00" font-size="4.3" fill="#2a3ea0" stroke="#2a3ea0" stroke-width="0.13" textLength="8.36" lengthAdjust="spacingAndGlyphs">CGG</text>
<text x="406.79" y="49.00" font-size="4.3" fill="#161616" stroke="#161616" stroke-width="0.13" textLength="11.14" lengthAdjust="spacingAndGlyphs">—//—</text>
<text x="417.94" y="49.00" font-size="4.3" fill="#161616" stroke="#161616" stroke-width="0.13" textLength="36.21" lengthAdjust="spacingAndGlyphs">GGGTAGAGCTGAG</text>
<text x="454.15" y="49.00" font-size="4.3" fill="#d9822b" stroke="#d9822b" stroke-width="0.13" textLength="13.93" lengthAdjust="spacingAndGlyphs">CGATG</text>
<text x="468.08" y="49.00" font-size="4.3" fill="#161616" stroke="#161616" stroke-width="0.13" textLength="8.36" lengthAdjust="spacingAndGlyphs">AAT</text>
<text x="476.43" y="49.00" font-size="4.3" fill="#2a3ea0" stroke="#2a3ea0" stroke-width="0.13" textLength="5.57" lengthAdjust="spacingAndGlyphs">GG</text>
<text x="482.00" y="49.00" font-size="4.3" fill="#161616" stroke="#161616" stroke-width="0.13" textLength="39.00" lengthAdjust="spacingAndGlyphs">AGATT–//–CTCTC</text>
<line x1="341.33" y1="49.90" x2="398.44" y2="49.90" stroke="#222" stroke-width="0.6" />
<line x1="419.33" y1="49.90" x2="476.43" y2="49.90" stroke="#222" stroke-width="0.6" />
<text x="373.00" y="58.40" font-size="4.4" text-anchor="middle" fill="#333" stroke="#333" stroke-width="0.13">Target 1</text>
<text x="470.00" y="58.00" font-size="4.4" text-anchor="middle" fill="#333" stroke="#333" stroke-width="0.13">Target 2</text>
<text x="257.60" y="71.60" font-size="8.5" fill="#111" stroke="#111" stroke-width="0.1" font-weight="bold">B</text>
<text x="271.70" y="68.60" font-size="4.6" fill="#333" stroke="#333" stroke-width="0.13" textLength="117" lengthAdjust="spacingAndGlyphs">a. pCXUN-Ubi-Cas9-Nos-TaU6-gRNA1/gRNA2-35S-hpt II -Nos</text>
<line x1="272.00" y1="78.20" x2="544.70" y2="78.20" stroke="#333" stroke-width="0.9" />
<rect x="291.20" y="75.50" width="11.10" height="5.40" fill="#e0702a" rx="0.6"/>
<polygon points="324.8,75.4 307.3,75.4 307.3,73.4 302.3,78.2 307.3,83.0 307.3,81.0 324.8,81.0" fill="#2a9fdc"/>
<polygon points="347.9,75.4 373.7,75.4 373.7,73.4 379.2,78.2 373.7,83.0 373.7,81.0 347.9,81.0" fill="#6a2c9c"/>
<rect x="379.20" y="75.00" width="60.00" height="6.40" fill="#62c3d0" stroke="#3a8a96" stroke-width="0.4"/>
<rect x="439.20" y="75.20" width="7.40" height="6.00" fill="#111" />
<polygon points="463.7,75.4 484.3,75.4 484.3,73.4 489.8,78.2 484.3,83.0 484.3,81.0 463.7,81.0" fill="#f2ea4a" stroke="#8a8420" stroke-width="0.5"/>
<rect x="489.80" y="75.20" width="34.20" height="6.00" fill="#70401c" />
<rect x="524.00" y="75.20" width="7.00" height="6.00" fill="#111" />
<text x="298.60" y="90.60" font-size="4.8" text-anchor="middle" fill="#333" stroke="#333" stroke-width="0.13" font-style="italic">gRNA1/gRNA2 TaU6</text>
<text x="360.00" y="90.60" font-size="4.8" text-anchor="middle" fill="#333" stroke="#333" stroke-width="0.13" font-style="italic">Ubi</text>
<text x="404.00" y="90.60" font-size="4.8" text-anchor="middle" fill="#333" stroke="#333" stroke-width="0.13" font-style="italic">Cas9</text>
<text x="441.00" y="90.60" font-size="4.8" text-anchor="middle" fill="#333" stroke="#333" stroke-width="0.13" font-style="italic">Nos</text>
<text x="472.80" y="90.60" font-size="4.8" text-anchor="middle" fill="#333" stroke="#333" stroke-width="0.13" font-style="italic">35S</text>
<text x="505.50" y="90.60" font-size="4.8" text-anchor="middle" fill="#333" stroke="#333" stroke-width="0.13" font-style="italic">hpt II</text>
<text x="524.00" y="90.60" font-size="4.8" text-anchor="middle" fill="#333" stroke="#333" stroke-width="0.13" font-style="italic">Nos</text>
<text x="271.70" y="101.00" font-size="4.6" fill="#333" stroke="#333" stroke-width="0.13" textLength="130" lengthAdjust="spacingAndGlyphs">b. pCXUN-Ubi-Cas9-Nos-TaU6-gRNA1-TaU6-gRNA2-35S-hpt II-Nos</text>
<line x1="272.00" y1="110.30" x2="545.70" y2="110.30" stroke="#333" stroke-width="0.9" />
<rect x="284.60" y="107.60" width="10.00" height="5.40" fill="#e0702a" rx="0.6"/>
<polygon points="316.3,107.5 299.6,107.5 299.6,105.5 294.6,110.3 299.6,115.1 299.6,113.1 316.3,113.1" fill="#2a9fdc"/>
<polygon points="325.4,107.5 352.0,107.5 352.0,105.5 357.5,110.3 352.0,115.1 352.0,113.1 325.4,113.1" fill="#6a2c9c"/>
<rect x="357.50" y="107.10" width="60.20" height="6.40" fill="#62c3d0" stroke="#3a8a96" stroke-width="0.4"/>
<rect x="417.70" y="107.30" width="6.30" height="6.00" fill="#111" />
<polygon points="428.7,107.5 446.3,107.5 446.3,105.5 451.3,110.3 446.3,115.1 446.3,113.1 428.7,113.1" fill="#2a9fdc"/>
<rect x="451.30" y="107.70" width="11.40" height="5.20" fill="#b555b8" rx="0.6"/>
<polygon points="469.3,107.5 489.4,107.5 489.4,105.5 494.9,110.3 489.4,115.1 489.4,113.1 469.3,113.1" fill="#f2ea4a" stroke="#8a8420" stroke-width="0.5"/>
<rect x="494.90" y="107.30" width="34.70" height="6.00" fill="#70401c" />
<rect x="529.60" y="107.30" width="7.40" height="6.00" fill="#111" />
<text x="288.00" y="121.50" font-size="4.8" text-anchor="middle" fill="#333" stroke="#333" stroke-width="0.13" font-style="italic">gRNA1</text>
<text x="306.30" y="121.50" font-size="4.8" text-anchor="middle" fill="#333" stroke="#333" stroke-width="0.13" font-style="italic">TaU6</text>
<text x="339.80" y="121.50" font-size="4.8" text-anchor="middle" fill="#333" stroke="#333" stroke-width="0.13" font-style="italic">Ubi</text>
<text x="386.70" y="121.50" font-size="4.8" text-anchor="middle" fill="#333" stroke="#333" stroke-width="0.13" font-style="italic">Cas9</text>
<text x="419.50" y="121.50" font-size="4.8" text-anchor="middle" fill="#333" stroke="#333" stroke-width="0.13" font-style="italic">Nos</text>
<text x="436.80" y="121.50" font-size="4.8" text-anchor="middle" fill="#333" stroke="#333" stroke-width="0.13" font-style="italic">TaU6</text>
<text x="454.70" y="121.50" font-size="4.8" text-anchor="middle" fill="#333" stroke="#333" stroke-width="0.13" font-style="italic">gRNA2</text>
<text x="477.40" y="121.50" font-size="4.8" text-anchor="middle" fill="#333" stroke="#333" stroke-width="0.13" font-style="italic">35S</text>
<text x="506.50" y="121.50" font-size="4.8" text-anchor="middle" fill="#333" stroke="#333" stroke-width="0.13" font-style="italic">hpt II</text>
<text x="529.60" y="121.50" font-size="4.8" text-anchor="middle" fill="#333" stroke="#333" stroke-width="0.13" font-style="italic">Nos</text>
</g>
<g id="mid2">
<text x="257.60" y="139.50" font-size="8.5" fill="#111" stroke="#111" stroke-width="0.1" font-weight="bold">C</text>
<text x="271.70" y="137.40" font-size="4.6" fill="#222" stroke="#222" stroke-width="0.13" textLength="54.3" lengthAdjust="spacingAndGlyphs">a.  T1-44 digested with T7E1</text>
<text x="346.50" y="138.80" font-size="4.3" fill="#222" stroke="#222" stroke-width="0.13">WT-A</text>
<text x="364.20" y="138.80" font-size="4.3" fill="#161616" stroke="#161616" stroke-width="0.13" textLength="42.36" lengthAdjust="spacingAndGlyphs">CGGCGATGGTGATTG</text>
<text x="406.56" y="138.80" font-size="4.3" fill="#161616" stroke="#161616" stroke-width="0.13" textLength="56.48" lengthAdjust="spacingAndGlyphs">GGGCGGGGCTGGGAGCTTGT</text>
<text x="463.04" y="138.80" font-size="4.3" fill="#2a3ea0" stroke="#2a3ea0" stroke-width="0.13" textLength="8.47" lengthAdjust="spacingAndGlyphs">CGG</text>
<text x="471.52" y="138.80" font-size="4.3" fill="#161616" stroke="#161616" stroke-width="0.13" textLength="56.48" lengthAdjust="spacingAndGlyphs">ACCAGATAACTGATGATCCG</text>
<line x1="406.56" y1="139.70" x2="463.04" y2="139.70" stroke="#222" stroke-width="0.6" />
<text x="346.50" y="147.20" font-size="4.3" fill="#222" stroke="#222" stroke-width="0.13">WT-B</text>
<text x="364.20" y="147.20" font-size="4.3" fill="#161616" stroke="#161616" stroke-width="0.13" textLength="42.36" lengthAdjust="spacingAndGlyphs">CGGCGATGGTGACTG</text>
<text x="406.56" y="147.20" font-size="4.3" fill="#161616" stroke="#161616" stroke-width="0.13" textLength="56.48" lengthAdjust="spacingAndGlyphs">GGGCGGGGCTGGGAGCTTGT</text>
<text x="463.04" y="147.20" font-size="4.3" fill="#2a3ea0" stroke="#2a3ea0" stroke-width="0.13" textLength="8.47" lengthAdjust="spacingAndGlyphs">CGG</text>
<text x="471.52" y="147.20" font-size="4.3" fill="#161616" stroke="#161616" stroke-width="0.13" textLength="56.48" lengthAdjust="spacingAndGlyphs">ACCAGATAACTGATGATCCG</text>
<line x1="406.56" y1="148.10" x2="463.04" y2="148.10" stroke="#222" stroke-width="0.6" />
<text x="346.50" y="156.30" font-size="4.3" fill="#222" stroke="#222" stroke-width="0.13">WT-D</text>
<text x="364.20" y="156.30" font-size="4.3" fill="#161616" stroke="#161616" stroke-width="0.13" textLength="42.36" lengthAdjust="spacingAndGlyphs">CGGCGATGGTGATTG</text>
<text x="406.56" y="156.30" font-size="4.3" fill="#161616" stroke="#161616" stroke-width="0.13" textLength="56.48" lengthAdjust="spacingAndGlyphs">GGGCGGGGCTGGGAGCTTGT</text>
<text x="463.04" y="156.30" font-size="4.3" fill="#2a3ea0" stroke="#2a3ea0" stroke-width="0.13" textLength="8.47" lengthAdjust="spacingAndGlyphs">CGG</text>
<text x="471.52" y="156.30" font-size="4.3" fill="#161616" stroke="#161616" stroke-width="0.13" textLength="56.48" lengthAdjust="spacingAndGlyphs">ACCAGATAACGGATGATCCG</text>
<line x1="406.56" y1="157.20" x2="463.04" y2="157.20" stroke="#222" stroke-width="0.6" />
<text x="346.50" y="164.90" font-size="4.3" fill="#222" stroke="#222" stroke-width="0.13">T1-44-A</text>
<text x="364.20" y="164.90" font-size="4.3" fill="#161616" stroke="#161616" stroke-width="0.13" textLength="42.36" lengthAdjust="spacingAndGlyphs">CGGCGATGGTGATTG</text>
<text x="406.56" y="164.90" font-size="4.3" fill="#161616" stroke="#161616" stroke-width="0.13" textLength="56.48" lengthAdjust="spacingAndGlyphs">GGGCGGGGCTGGGAGCTTGT</text>
<text x="463.04" y="164.90" font-size="4.3" fill="#2a3ea0" stroke="#2a3ea0" stroke-width="0.13" textLength="8.47" lengthAdjust="spacingAndGlyphs">CGG</text>
<text x="471.52" y="164.90" font-size="4.3" fill="#161616" stroke="#161616" stroke-width="0.13" textLength="56.48" lengthAdjust="spacingAndGlyphs">ACCAGATAACTGATGATCCG</text>
<line x1="406.56" y1="165.80" x2="463.04" y2="165.80" stroke="#222" stroke-width="0.6" />
<text x="533.70" y="164.90" font-size="4.0" fill="#222" stroke="#222" stroke-width="0.13">WT</text>
<text x="364.20" y="173.90" font-size="4.3" fill="#161616" stroke="#161616" stroke-width="0.13" textLength="42.36" lengthAdjust="spacingAndGlyphs">CGGCGATGGTGATTG</text>
<text x="406.56" y="173.90" font-size="4.3" fill="#161616" stroke="#161616" stroke-width="0.13" textLength="33.89" lengthAdjust="spacingAndGlyphs">GGGCGGGGCTGG</text>
<line x1="440.85" y1="173.40" x2="454.17" y2="173.40" stroke="#555" stroke-width="0.55" stroke-dasharray="0.6 1.0"/>
<text x="454.57" y="173.90" font-size="4.3" fill="#161616" stroke="#161616" stroke-width="0.13" textLength="8.47" lengthAdjust="spacingAndGlyphs">TGT</text>
<text x="463.04" y="173.90" font-size="4.3" fill="#2a3ea0" stroke="#2a3ea0" stroke-width="0.13" textLength="8.47" lengthAdjust="spacingAndGlyphs">CGG</text>
<text x="471.52" y="173.90" font-size="4.3" fill="#161616" stroke="#161616" stroke-width="0.13" textLength="56.48" lengthAdjust="spacingAndGlyphs">ACCAGATAACTGATGATCCG</text>
<line x1="406.56" y1="174.80" x2="463.04" y2="174.80" stroke="#222" stroke-width="0.6" />
<text x="533.70" y="173.90" font-size="4.0" fill="#222" stroke="#222" stroke-width="0.13">d5</text>
<text x="346.50" y="183.00" font-size="4.3" fill="#222" stroke="#222" stroke-width="0.13">T1-44-B</text>
<text x="364.20" y="183.00" font-size="4.3" fill="#161616" stroke="#161616" stroke-width="0.13" textLength="42.36" lengthAdjust="spacingAndGlyphs">CGGCGATGGTGACTG</text>
<text x="406.56" y="183.00" font-size="4.3" fill="#161616" stroke="#161616" stroke-width="0.13" textLength="22.59" lengthAdjust="spacingAndGlyphs">GGGCGGGG</text>
<line x1="429.56" y1="182.50" x2="524.78" y2="182.50" stroke="#555" stroke-width="0.55" stroke-dasharray="0.6 1.0"/>
<text x="525.18" y="183.00" font-size="4.3" fill="#161616" stroke="#161616" stroke-width="0.13" textLength="2.82" lengthAdjust="spacingAndGlyphs">G</text>
<line x1="406.56" y1="183.90" x2="463.04" y2="183.90" stroke="#222" stroke-width="0.6" />
<text x="533.70" y="183.00" font-size="4.0" fill="#222" stroke="#222" stroke-width="0.13">d33</text>
<text x="346.50" y="191.60" font-size="4.3" fill="#222" stroke="#222" stroke-width="0.13">T1-44-D</text>
<text x="364.20" y="191.60" font-size="4.3" fill="#161616" stroke="#161616" stroke-width="0.13" textLength="42.36" lengthAdjust="spacingAndGlyphs">CGGCGATGGTGATTG</text>
<text x="406.56" y="191.60" font-size="4.3" fill="#161616" stroke="#161616" stroke-width="0.13" textLength="8.47" lengthAdjust="spacingAndGlyphs">GGG</text>
<line x1="415.43" y1="191.10" x2="485.24" y2="191.10" stroke="#555" stroke-width="0.55" stroke-dasharray="0.6 1.0"/>
<text x="485.64" y="191.60" font-size="4.3" fill="#161616" stroke="#161616" stroke-width="0.13" textLength="42.36" lengthAdjust="spacingAndGlyphs">ATAACCGATGATCCC</text>
<line x1="406.56" y1="192.50" x2="463.04" y2="192.50" stroke="#222" stroke-width="0.6" />
<text x="533.70" y="191.60" font-size="4.0" fill="#222" stroke="#222" stroke-width="0.13">d25</text>
<text x="364.20" y="200.30" font-size="4.3" fill="#161616" stroke="#161616" stroke-width="0.13" textLength="42.36" lengthAdjust="spacingAndGlyphs">CGGCGATGGTGATTG</text>
<text x="406.56" y="200.30" font-size="4.3" fill="#161616" stroke="#161616" stroke-width="0.13" textLength="8.47" lengthAdjust="spacingAndGlyphs">GGG</text>
<text x="415.03" y="200.30" font-size="4.3" fill="#d040a0" stroke="#d040a0" stroke-width="0.13" textLength="8.47" lengthAdjust="spacingAndGlyphs">ACA</text>
<line x1="423.91" y1="199.80" x2="425.93" y2="199.80" stroke="#555" stroke-width="0.55" stroke-dasharray="0.6 1.0"/>
<text x="426.33" y="200.30" font-size="4.3" fill="#d040a0" stroke="#d040a0" stroke-width="0.13" textLength="2.82" lengthAdjust="spacingAndGlyphs">A</text>
<line x1="429.56" y1="199.80" x2="431.58" y2="199.80" stroke="#555" stroke-width="0.55" stroke-dasharray="0.6 1.0"/>
<text x="431.98" y="200.30" font-size="4.3" fill="#d040a0" stroke="#d040a0" stroke-width="0.13" textLength="8.47" lengthAdjust="spacingAndGlyphs">GAC</text>
<line x1="440.85" y1="199.80" x2="442.88" y2="199.80" stroke="#555" stroke-width="0.55" stroke-dasharray="0.6 1.0"/>
<text x="443.28" y="200.30" font-size="4.3" fill="#161616" stroke="#161616" stroke-width="0.13" textLength="8.47" lengthAdjust="spacingAndGlyphs">AGC</text>
<line x1="452.15" y1="199.80" x2="457.00" y2="199.80" stroke="#555" stroke-width="0.55" stroke-dasharray="0.6 1.0"/>
<text x="457.40" y="200.30" font-size="4.3" fill="#161616" stroke="#161616" stroke-width="0.13" textLength="8.47" lengthAdjust="spacingAndGlyphs">TGT</text>
<text x="465.87" y="200.30" font-size="4.3" fill="#2a3ea0" stroke="#2a3ea0" stroke-width="0.13" textLength="8.47" lengthAdjust="spacingAndGlyphs">CGG</text>
<text x="474.34" y="200.30" font-size="4.3" fill="#161616" stroke="#161616" stroke-width="0.13" textLength="56.48" lengthAdjust="spacingAndGlyphs">ACCAGATAACGGATGATCCG</text>
<line x1="406.56" y1="201.20" x2="463.04" y2="201.20" stroke="#222" stroke-width="0.6" />
<text x="533.70" y="200.30" font-size="4.0" fill="#222" stroke="#222" stroke-width="0.13">i133+10m1</text>
<line x1="363.20" y1="162.60" x2="363.20" y2="173.50" stroke="#111" stroke-width="0.85" />
<line x1="363.20" y1="189.30" x2="363.20" y2="200.00" stroke="#111" stroke-width="0.85" />
<text x="276.00" y="153.60" font-size="4.4" text-anchor="middle" fill="#222" stroke="#222" stroke-width="0.13">A</text>
<text x="282.00" y="153.60" font-size="4.4" text-anchor="middle" fill="#222" stroke="#222" stroke-width="0.13">+</text>
<text x="287.20" y="153.60" font-size="4.4" text-anchor="middle" fill="#222" stroke="#222" stroke-width="0.13">-</text>
<text x="292.20" y="153.60" font-size="4.4" text-anchor="middle" fill="#222" stroke="#222" stroke-width="0.13">B</text>
<text x="298.00" y="153.60" font-size="4.4" text-anchor="middle" fill="#222" stroke="#222" stroke-width="0.13">+</text>
<text x="303.50" y="153.60" font-size="4.4" text-anchor="middle" fill="#222" stroke="#222" stroke-width="0.13">-</text>
<text x="308.70" y="153.60" font-size="4.4" text-anchor="middle" fill="#222" stroke="#222" stroke-width="0.13">D</text>
<text x="314.00" y="153.60" font-size="4.4" text-anchor="middle" fill="#222" stroke="#222" stroke-width="0.13">+</text>
<text x="319.50" y="153.60" font-size="4.4" text-anchor="middle" fill="#222" stroke="#222" stroke-width="0.13">-</text>
<text x="325.40" y="153.60" font-size="4.4" text-anchor="middle" fill="#222" stroke="#222" stroke-width="0.13">M</text>
<line x1="280.00" y1="149.20" x2="289.50" y2="149.20" stroke="#222" stroke-width="0.5" />
<text x="284.75" y="148.20" font-size="4.2" text-anchor="middle" fill="#222" stroke="#222" stroke-width="0.13">WT</text>
<line x1="296.00" y1="149.20" x2="305.50" y2="149.20" stroke="#222" stroke-width="0.5" />
<text x="300.75" y="148.20" font-size="4.2" text-anchor="middle" fill="#222" stroke="#222" stroke-width="0.13">WT</text>
<line x1="312.00" y1="149.20" x2="321.50" y2="149.20" stroke="#222" stroke-width="0.5" />
<text x="316.75" y="148.20" font-size="4.2" text-anchor="middle" fill="#222" stroke="#222" stroke-width="0.13">WT</text>
<rect x="272.50" y="155.60" width="56.10" height="47.70" fill="#121212" />
<g filter="url(#gs)"><rect x="274.0" y="165.0" width="4" height="15.0" fill="#fff" opacity="0.25"/><rect x="290.2" y="176.0" width="4" height="22.0" fill="#fff" opacity="0.22"/><rect x="306.7" y="176.0" width="4" height="22.0" fill="#fff" opacity="0.18"/><rect x="296.0" y="182.0" width="4" height="12.0" fill="#fff" opacity="0.1"/></g>
<g filter="url(#gb)"><rect x="273.8" y="172.10" width="4.4" height="2.2" fill="rgb(191,191,191)"/><rect x="279.7" y="170.90" width="4.6" height="1.6" fill="rgb(255,255,255)"/><rect x="284.9" y="170.90" width="4.6" height="1.6" fill="rgb(255,255,255)"/><rect x="290.0" y="179.90" width="4.4" height="1.8" fill="rgb(178,178,178)"/><rect x="295.7" y="180.00" width="4.6" height="1.6" fill="rgb(255,255,255)"/><rect x="301.2" y="180.00" width="4.6" height="1.6" fill="rgb(255,255,255)"/><rect x="306.5" y="180.00" width="4.4" height="1.6" fill="rgb(153,153,153)"/><rect x="311.8" y="180.10" width="4.4" height="1.4" fill="rgb(140,140,140)"/><rect x="317.3" y="180.10" width="4.4" height="1.4" fill="rgb(127,127,127)"/><rect x="323.4" y="160.50" width="3.6" height="1.0" fill="rgb(114,114,114)"/><rect x="323.4" y="164.00" width="3.6" height="1.0" fill="rgb(114,114,114)"/><rect x="323.4" y="166.70" width="3.6" height="1.0" fill="rgb(153,153,153)"/><rect x="323.4" y="173.30" width="3.6" height="1.0" fill="rgb(140,140,140)"/><rect x="323.4" y="178.00" width="3.6" height="1.0" fill="rgb(255,255,255)"/><rect x="323.4" y="182.10" width="3.6" height="1.0" fill="rgb(178,178,178)"/><rect x="323.4" y="190.50" width="3.6" height="1.0" fill="rgb(127,127,127)"/><rect x="323.4" y="196.80" width="3.6" height="1.0" fill="rgb(102,102,102)"/></g>
<text x="329.60" y="168.60" font-size="4.0" fill="#222" stroke="#222" stroke-width="0.13">2000 bp</text>
<text x="329.60" y="184.00" font-size="4.0" fill="#222" stroke="#222" stroke-width="0.13">500 bp</text>
<text x="272.50" y="217.20" font-size="4.6" fill="#222" stroke="#222" stroke-width="0.13" textLength="53" lengthAdjust="spacingAndGlyphs">b.  T2-5 digested with <tspan font-style="italic">Bts</tspan> CI</text>
<text x="275.70" y="232.00" font-size="4.4" text-anchor="middle" fill="#222" stroke="#222" stroke-width="0.13">A</text>
<text x="281.00" y="232.00" font-size="4.4" text-anchor="middle" fill="#222" stroke="#222" stroke-width="0.13">+</text>
<text x="286.80" y="232.00" font-size="4.4" text-anchor="middle" fill="#222" stroke="#222" stroke-width="0.13">-</text>
<text x="292.20" y="232.00" font-size="4.4" text-anchor="middle" fill="#222" stroke="#222" stroke-width="0.13">B</text>
<text x="297.60" y="232.00" font-size="4.4" text-anchor="middle" fill="#222" stroke="#222" stroke-width="0.13">+</text>
<text x="303.30" y="232.00" font-size="4.4" text-anchor="middle" fill="#222" stroke="#222" stroke-width="0.13">-</text>
<text x="308.70" y="232.00" font-size="4.4" text-anchor="middle" fill="#222" stroke="#222" stroke-width="0.13">D</text>
<text x="314.30" y="232.00" font-size="4.4" text-anchor="middle" fill="#222" stroke="#222" stroke-width="0.13">+</text>
<text x="320.00" y="232.00" font-size="4.4" text-anchor="middle" fill="#222" stroke="#222" stroke-width="0.13">-</text>
<text x="325.60" y="232.00" font-size="4.4" text-anchor="middle" fill="#222" stroke="#222" stroke-width="0.13">M</text>
<line x1="279.00" y1="227.60" x2="289.00" y2="227.60" stroke="#222" stroke-width="0.5" />
<text x="284.00" y="226.60" font-size="4.2" text-anchor="middle" fill="#222" stroke="#222" stroke-width="0.13">WT</text>
<line x1="295.50" y1="227.60" x2="305.50" y2="227.60" stroke="#222" stroke-width="0.5" />
<text x="300.50" y="226.60" font-size="4.2" text-anchor="middle" fill="#222" stroke="#222" stroke-width="0.13">WT</text>
<line x1="312.00" y1="227.60" x2="322.00" y2="227.60" stroke="#222" stroke-width="0.5" />
<text x="317.00" y="226.60" font-size="4.2" text-anchor="middle" fill="#222" stroke="#222" stroke-width="0.13">WT</text>
<rect x="272.50" y="234.40" width="56.10" height="47.90" fill="#121212" />
<g filter="url(#gs)"></g>
<g filter="url(#gb)"><rect x="273.4" y="251.75" width="4.6" height="1.5" fill="rgb(255,255,255)"/><rect x="278.7" y="253.75" width="4.6" height="1.5" fill="rgb(255,255,255)"/><rect x="279.0" y="272.60" width="4" height="1.2" fill="rgb(114,114,114)"/><rect x="284.5" y="251.55" width="4.6" height="1.5" fill="rgb(255,255,255)"/><rect x="289.9" y="260.05" width="4.6" height="1.5" fill="rgb(255,255,255)"/><rect x="295.4" y="266.10" width="4.4" height="1.4" fill="rgb(229,229,229)"/><rect x="295.5" y="269.65" width="4.2" height="1.3" fill="rgb(178,178,178)"/><rect x="301.0" y="260.05" width="4.6" height="1.5" fill="rgb(255,255,255)"/><rect x="306.4" y="259.75" width="4.6" height="1.5" fill="rgb(255,255,255)"/><rect x="312.0" y="263.85" width="4.6" height="1.5" fill="rgb(255,255,255)"/><rect x="312.3" y="272.60" width="4" height="1.2" fill="rgb(127,127,127)"/><rect x="317.7" y="260.05" width="4.6" height="1.5" fill="rgb(255,255,255)"/><rect x="323.6" y="240.50" width="3.6" height="1.0" fill="rgb(114,114,114)"/><rect x="323.6" y="244.50" width="3.6" height="1.0" fill="rgb(127,127,127)"/><rect x="323.6" y="247.50" width="3.6" height="1.0" fill="rgb(165,165,165)"/><rect x="323.6" y="254.50" width="3.6" height="1.0" fill="rgb(153,153,153)"/><rect x="323.6" y="257.50" width="3.6" height="1.0" fill="rgb(255,255,255)"/><rect x="323.6" y="262.30" width="3.6" height="1.0" fill="rgb(191,191,191)"/><rect x="323.6" y="270.50" width="3.6" height="1.0" fill="rgb(127,127,127)"/><rect x="323.6" y="276.50" width="3.6" height="1.0" fill="rgb(114,114,114)"/></g>
<text x="329.40" y="249.50" font-size="4.0" fill="#222" stroke="#222" stroke-width="0.13">2000 bp</text>
<text x="329.40" y="265.00" font-size="4.0" fill="#222" stroke="#222" stroke-width="0.13">500 bp</text>
<text x="346.00" y="218.80" font-size="4.3" fill="#222" stroke="#222" stroke-width="0.13">WT-A</text>
<text x="365.20" y="218.80" font-size="4.3" fill="#9ab656" stroke="#9ab656" stroke-width="0.13" textLength="49.62" lengthAdjust="spacingAndGlyphs">GGTCTGTTACTTTAACAG</text>
<text x="414.82" y="218.80" font-size="4.3" fill="#111" stroke="#111" stroke-width="0.13" font-weight="bold" textLength="52.38" lengthAdjust="spacingAndGlyphs">GGTAGAGCTGAGGGATGAA</text>
<text x="467.20" y="218.80" font-size="4.3" fill="#2a3ea0" stroke="#2a3ea0" stroke-width="0.13" textLength="8.27" lengthAdjust="spacingAndGlyphs">TGG</text>
<text x="475.47" y="218.80" font-size="4.3" fill="#161616" stroke="#161616" stroke-width="0.13" textLength="55.13" lengthAdjust="spacingAndGlyphs">AGATTAGAAAACCGACAAGC</text>
<line x1="414.82" y1="219.70" x2="467.20" y2="219.70" stroke="#222" stroke-width="0.6" />
<text x="346.00" y="227.90" font-size="4.3" fill="#222" stroke="#222" stroke-width="0.13">WT-B</text>
<text x="365.20" y="227.90" font-size="4.3" fill="#9ab656" stroke="#9ab656" stroke-width="0.13" textLength="49.62" lengthAdjust="spacingAndGlyphs">GGTCTGTTACTTTAACAG</text>
<text x="414.82" y="227.90" font-size="4.3" fill="#111" stroke="#111" stroke-width="0.13" font-weight="bold" textLength="52.38" lengthAdjust="spacingAndGlyphs">GGTAGAGCTGAGGGATGAA</text>
<text x="467.20" y="227.90" font-size="4.3" fill="#2a3ea0" stroke="#2a3ea0" stroke-width="0.13" textLength="8.27" lengthAdjust="spacingAndGlyphs">TGG</text>
<text x="475.47" y="227.90" font-size="4.3" fill="#161616" stroke="#161616" stroke-width="0.13" textLength="55.13" lengthAdjust="spacingAndGlyphs">AGATTAGAAAACCGACAAGC</text>
<text x="346.00" y="236.30" font-size="4.3" fill="#222" stroke="#222" stroke-width="0.13">WT-D</text>
<text x="365.20" y="236.30" font-size="4.3" fill="#9ab656" stroke="#9ab656" stroke-width="0.13" textLength="49.62" lengthAdjust="spacingAndGlyphs">GGTCTGTTACTTTAACAG</text>
<text x="414.82" y="236.30" font-size="4.3" fill="#111" stroke="#111" stroke-width="0.13" font-weight="bold" textLength="52.38" lengthAdjust="spacingAndGlyphs">GGTAGAGCTGAGGGATGAA</text>
<text x="467.20" y="236.30" font-size="4.3" fill="#2a3ea0" stroke="#2a3ea0" stroke-width="0.13" textLength="8.27" lengthAdjust="spacingAndGlyphs">TGG</text>
<text x="475.47" y="236.30" font-size="4.3" fill="#161616" stroke="#161616" stroke-width="0.13" textLength="55.13" lengthAdjust="spacingAndGlyphs">AGATTAGAAAACCGACAAGC</text>
<text x="346.00" y="246.00" font-size="4.3" fill="#222" stroke="#222" stroke-width="0.13">T2-5-A</text>
<text x="365.20" y="246.00" font-size="4.3" fill="#9ab656" stroke="#9ab656" stroke-width="0.13" textLength="49.62" lengthAdjust="spacingAndGlyphs">GGTCTGTTACTTTAACAG</text>
<text x="414.82" y="246.00" font-size="4.3" fill="#111" stroke="#111" stroke-width="0.13" font-weight="bold" textLength="52.38" lengthAdjust="spacingAndGlyphs">GGTAGAGCTGAGGGA-GAA</text>
<text x="467.20" y="246.00" font-size="4.3" fill="#2a3ea0" stroke="#2a3ea0" stroke-width="0.13" textLength="8.27" lengthAdjust="spacingAndGlyphs">TGG</text>
<text x="475.47" y="246.00" font-size="4.3" fill="#161616" stroke="#161616" stroke-width="0.13" textLength="55.13" lengthAdjust="spacingAndGlyphs">AGATTAGAAAACCGACAAGC</text>
<line x1="414.82" y1="246.90" x2="467.20" y2="246.90" stroke="#222" stroke-width="0.6" />
<text x="536.70" y="246.00" font-size="4.0" fill="#222" stroke="#222" stroke-width="0.13" font-style="italic">d1</text>
<text x="365.20" y="253.60" font-size="4.3" fill="#9ab656" stroke="#9ab656" stroke-width="0.13" textLength="19.30" lengthAdjust="spacingAndGlyphs">GGTCTGT</text>
<line x1="384.90" y1="253.10" x2="516.42" y2="253.10" stroke="#555" stroke-width="0.55" stroke-dasharray="0.6 1.0"/>
<text x="516.82" y="253.60" font-size="4.3" fill="#161616" stroke="#161616" stroke-width="0.13" textLength="13.78" lengthAdjust="spacingAndGlyphs">CAAGC</text>
<line x1="414.82" y1="254.50" x2="467.20" y2="254.50" stroke="#222" stroke-width="0.6" />
<text x="536.70" y="253.60" font-size="4.0" fill="#222" stroke="#222" stroke-width="0.13" font-style="italic">d37</text>
<text x="346.00" y="263.10" font-size="4.3" fill="#222" stroke="#222" stroke-width="0.13">T2-5-B</text>
<text x="365.20" y="263.10" font-size="4.3" fill="#9ab656" stroke="#9ab656" stroke-width="0.13" textLength="49.62" lengthAdjust="spacingAndGlyphs">GGTCTGTTACTTTAACAG</text>
<text x="414.82" y="263.10" font-size="4.3" fill="#111" stroke="#111" stroke-width="0.13" font-weight="bold" textLength="55.13" lengthAdjust="spacingAndGlyphs">GGTAGAGCTGAGGGATTGAA</text>
<text x="469.95" y="263.10" font-size="4.3" fill="#2a3ea0" stroke="#2a3ea0" stroke-width="0.13" textLength="8.27" lengthAdjust="spacingAndGlyphs">TGG</text>
<text x="478.22" y="263.10" font-size="4.3" fill="#161616" stroke="#161616" stroke-width="0.13" textLength="55.13" lengthAdjust="spacingAndGlyphs">AGATTAGAAAACCGACAAGC</text>
<line x1="414.82" y1="264.00" x2="469.95" y2="264.00" stroke="#222" stroke-width="0.6" />
<text x="536.70" y="263.10" font-size="4.0" fill="#222" stroke="#222" stroke-width="0.13" font-style="italic">i1</text>
<text x="346.00" y="271.70" font-size="4.3" fill="#222" stroke="#222" stroke-width="0.13">T2-5-D</text>
<text x="365.20" y="271.70" font-size="4.3" fill="#9ab656" stroke="#9ab656" stroke-width="0.13" textLength="49.62" lengthAdjust="spacingAndGlyphs">GGTCTGTTACTTTAACAG</text>
<text x="414.82" y="271.70" font-size="4.3" fill="#111" stroke="#111" stroke-width="0.13" font-weight="bold" textLength="55.13" lengthAdjust="spacingAndGlyphs">GGTAGAGCTGAGGGATTGAA</text>
<text x="469.95" y="271.70" font-size="4.3" fill="#2a3ea0" stroke="#2a3ea0" stroke-width="0.13" textLength="8.27" lengthAdjust="spacingAndGlyphs">TGG</text>
<text x="478.22" y="271.70" font-size="4.3" fill="#161616" stroke="#161616" stroke-width="0.13" textLength="55.13" lengthAdjust="spacingAndGlyphs">AGATTAGAAAACCGACAAGC</text>
<line x1="414.82" y1="272.60" x2="469.95" y2="272.60" stroke="#222" stroke-width="0.6" />
<text x="536.70" y="271.70" font-size="4.0" fill="#222" stroke="#222" stroke-width="0.13" font-style="italic">i1</text>
<text x="365.20" y="280.40" font-size="4.3" fill="#9ab656" stroke="#9ab656" stroke-width="0.13" textLength="49.62" lengthAdjust="spacingAndGlyphs">GGTCTGTTACTTTAACAG</text>
<text x="414.82" y="280.40" font-size="4.3" fill="#111" stroke="#111" stroke-width="0.13" font-weight="bold" textLength="52.38" lengthAdjust="spacingAndGlyphs">GGTAGAGCTGAGGGA-GAA</text>
<text x="467.20" y="280.40" font-size="4.3" fill="#2a3ea0" stroke="#2a3ea0" stroke-width="0.13" textLength="8.27" lengthAdjust="spacingAndGlyphs">TGG</text>
<text x="475.47" y="280.40" font-size="4.3" fill="#161616" stroke="#161616" stroke-width="0.13" textLength="55.13" lengthAdjust="spacingAndGlyphs">AGATTAGAAAACCGACAAGC</text>
<line x1="414.82" y1="281.30" x2="467.20" y2="281.30" stroke="#222" stroke-width="0.6" />
<text x="536.70" y="280.40" font-size="4.0" fill="#222" stroke="#222" stroke-width="0.13" font-style="italic">d1</text>
<line x1="364.00" y1="243.80" x2="364.00" y2="253.40" stroke="#111" stroke-width="0.85" />
<line x1="364.00" y1="269.60" x2="364.00" y2="280.20" stroke="#111" stroke-width="0.85" />
<text x="272.00" y="297.90" font-size="4.6" fill="#222" stroke="#222" stroke-width="0.13" textLength="53.4" lengthAdjust="spacingAndGlyphs">c.  T12-23  without digestion</text>
<text x="301.30" y="304.60" font-size="4.5" text-anchor="middle" fill="#222" stroke="#222" stroke-width="0.13">PCR products</text>
<line x1="275.00" y1="306.80" x2="321.40" y2="306.80" stroke="#222" stroke-width="0.55" />
<text x="277.70" y="312.90" font-size="4.4" text-anchor="middle" fill="#222" stroke="#222" stroke-width="0.13">A</text>
<text x="285.80" y="312.90" font-size="4.4" text-anchor="middle" fill="#222" stroke="#222" stroke-width="0.13">WT</text>
<text x="293.60" y="312.90" font-size="4.4" text-anchor="middle" fill="#222" stroke="#222" stroke-width="0.13">B</text>
<text x="301.90" y="312.90" font-size="4.4" text-anchor="middle" fill="#222" stroke="#222" stroke-width="0.13">WT</text>
<text x="309.70" y="312.90" font-size="4.4" text-anchor="middle" fill="#222" stroke="#222" stroke-width="0.13">D</text>
<text x="318.00" y="312.90" font-size="4.4" text-anchor="middle" fill="#222" stroke="#222" stroke-width="0.13">WT</text>
<text x="326.00" y="312.90" font-size="4.4" text-anchor="middle" fill="#222" stroke="#222" stroke-width="0.13">M</text>
<rect x="273.00" y="314.00" width="57.40" height="43.30" fill="#121212" />
<g filter="url(#gs)"></g>
<g filter="url(#gb)"><rect x="275.0" y="326.45" width="5.4" height="1.5" fill="rgb(242,242,242)"/><rect x="283.1" y="326.45" width="5.4" height="1.5" fill="rgb(255,255,255)"/><rect x="290.9" y="321.90" width="5.4" height="1.4" fill="rgb(204,204,204)"/><rect x="299.2" y="321.90" width="5.4" height="1.4" fill="rgb(204,204,204)"/><rect x="307.1" y="338.10" width="5.2" height="1.4" fill="rgb(216,216,216)"/><rect x="315.4" y="325.50" width="5.2" height="1.4" fill="rgb(204,204,204)"/><rect x="324.2" y="317.50" width="3.6" height="1.0" fill="rgb(114,114,114)"/><rect x="324.2" y="320.50" width="3.6" height="1.0" fill="rgb(127,127,127)"/><rect x="324.2" y="323.50" width="3.6" height="1.0" fill="rgb(178,178,178)"/><rect x="324.2" y="330.50" width="3.6" height="1.0" fill="rgb(229,229,229)"/><rect x="324.2" y="333.50" width="3.6" height="1.0" fill="rgb(255,255,255)"/><rect x="324.2" y="338.30" width="3.6" height="1.0" fill="rgb(204,204,204)"/><rect x="324.2" y="346.20" width="3.6" height="1.0" fill="rgb(140,140,140)"/><rect x="324.2" y="352.80" width="3.6" height="1.0" fill="rgb(114,114,114)"/></g>
<text x="330.90" y="326.50" font-size="4.0" fill="#222" stroke="#222" stroke-width="0.13">2000 bp</text>
<text x="330.90" y="340.50" font-size="4.0" fill="#222" stroke="#222" stroke-width="0.13">500 bp</text>
<text x="365.00" y="297.90" font-size="4.6" fill="#222" stroke="#222" stroke-width="0.13" textLength="117.8" lengthAdjust="spacingAndGlyphs">d.  T12-23 digested with T7E1 (Target 1) and <tspan font-style="italic">Bts</tspan> CI (Target 2)</text>
<text x="370.20" y="312.90" font-size="4.4" text-anchor="middle" fill="#222" stroke="#222" stroke-width="0.13">A1</text>
<text x="380.20" y="312.90" font-size="4.4" text-anchor="middle" fill="#222" stroke="#222" stroke-width="0.13">+</text>
<text x="389.00" y="312.90" font-size="4.4" text-anchor="middle" fill="#222" stroke="#222" stroke-width="0.13">-</text>
<text x="398.00" y="312.90" font-size="4.4" text-anchor="middle" fill="#222" stroke="#222" stroke-width="0.13">B1</text>
<text x="407.80" y="312.90" font-size="4.4" text-anchor="middle" fill="#222" stroke="#222" stroke-width="0.13">+</text>
<text x="416.50" y="312.90" font-size="4.4" text-anchor="middle" fill="#222" stroke="#222" stroke-width="0.13">-</text>
<text x="425.70" y="312.90" font-size="4.4" text-anchor="middle" fill="#222" stroke="#222" stroke-width="0.13">A2</text>
<text x="435.20" y="312.90" font-size="4.4" text-anchor="middle" fill="#222" stroke="#222" stroke-width="0.13">+</text>
<text x="444.20" y="312.90" font-size="4.4" text-anchor="middle" fill="#222" stroke="#222" stroke-width="0.13">-</text>
<text x="452.90" y="312.90" font-size="4.4" text-anchor="middle" fill="#222" stroke="#222" stroke-width="0.13">B2</text>
<text x="462.70" y="312.90" font-size="4.4" text-anchor="middle" fill="#222" stroke="#222" stroke-width="0.13">+</text>
<text x="471.40" y="312.90" font-size="4.4" text-anchor="middle" fill="#222" stroke="#222" stroke-width="0.13">-</text>
<text x="480.40" y="312.90" font-size="4.4" text-anchor="middle" fill="#222" stroke="#222" stroke-width="0.13">M</text>
<line x1="377.00" y1="308.00" x2="392.00" y2="308.00" stroke="#222" stroke-width="0.55" />
<text x="384.50" y="306.80" font-size="4.3" text-anchor="middle" fill="#222" stroke="#222" stroke-width="0.13">WT</text>
<line x1="404.50" y1="308.00" x2="419.50" y2="308.00" stroke="#222" stroke-width="0.55" />
<text x="412.00" y="306.80" font-size="4.3" text-anchor="middle" fill="#222" stroke="#222" stroke-width="0.13">WT</text>
<line x1="432.00" y1="308.00" x2="447.00" y2="308.00" stroke="#222" stroke-width="0.55" />
<text x="439.50" y="306.80" font-size="4.3" text-anchor="middle" fill="#222" stroke="#222" stroke-width="0.13">WT</text>
<line x1="459.50" y1="308.00" x2="474.50" y2="308.00" stroke="#222" stroke-width="0.55" />
<text x="467.00" y="306.80" font-size="4.3" text-anchor="middle" fill="#222" stroke="#222" stroke-width="0.13">WT</text>
<rect x="365.20" y="314.50" width="120.80" height="42.80" fill="#121212" />
<g filter="url(#gs)"><rect x="368.2" y="322.0" width="4" height="30.0" fill="#fff" opacity="0.28"/><rect x="378.2" y="330.0" width="4" height="15.0" fill="#fff" opacity="0.1"/><rect x="387.0" y="330.0" width="4" height="15.0" fill="#fff" opacity="0.1"/><rect x="396.0" y="330.0" width="4" height="22.0" fill="#fff" opacity="0.18"/><rect x="405.8" y="338.0" width="4" height="14.0" fill="#fff" opacity="0.2"/><rect x="414.5" y="338.0" width="4" height="14.0" fill="#fff" opacity="0.2"/><rect x="433.2" y="332.0" width="4" height="14.0" fill="#fff" opacity="0.08"/></g>
<g filter="url(#gb)"><rect x="367.2" y="328.60" width="6" height="2" fill="rgb(204,204,204)"/><rect x="367.7" y="347.30" width="5" height="1.2" fill="rgb(76,76,76)"/><rect x="377.0" y="327.60" width="6.4" height="2" fill="rgb(255,255,255)"/><rect x="385.8" y="327.60" width="6.4" height="2" fill="rgb(255,255,255)"/><rect x="395.0" y="335.80" width="6" height="1.6" fill="rgb(242,242,242)"/><rect x="395.2" y="339.65" width="5.6" height="1.3" fill="rgb(178,178,178)"/><rect x="404.8" y="335.90" width="6" height="1.8" fill="rgb(242,242,242)"/><rect x="413.5" y="335.90" width="6" height="1.8" fill="rgb(242,242,242)"/><rect x="422.6" y="327.75" width="6.2" height="1.7" fill="rgb(255,255,255)"/><rect x="432.1" y="329.75" width="6.2" height="1.7" fill="rgb(255,255,255)"/><rect x="432.7" y="348.10" width="5" height="1.2" fill="rgb(89,89,89)"/><rect x="441.1" y="327.75" width="6.2" height="1.7" fill="rgb(255,255,255)"/><rect x="449.9" y="336.40" width="6" height="1.6" fill="rgb(255,255,255)"/><rect x="459.9" y="342.60" width="5.6" height="1.4" fill="rgb(229,229,229)"/><rect x="459.9" y="346.15" width="5.6" height="1.3" fill="rgb(191,191,191)"/><rect x="468.4" y="336.80" width="6" height="1.6" fill="rgb(255,255,255)"/><rect x="478.6" y="318.50" width="3.6" height="1.0" fill="rgb(114,114,114)"/><rect x="478.6" y="321.50" width="3.6" height="1.0" fill="rgb(127,127,127)"/><rect x="478.6" y="324.50" width="3.6" height="1.0" fill="rgb(165,165,165)"/><rect x="478.6" y="331.50" width="3.6" height="1.0" fill="rgb(204,204,204)"/><rect x="478.6" y="334.50" width="3.6" height="1.0" fill="rgb(255,255,255)"/><rect x="478.6" y="338.50" width="3.6" height="1.0" fill="rgb(204,204,204)"/><rect x="478.6" y="346.50" width="3.6" height="1.0" fill="rgb(140,140,140)"/><rect x="478.6" y="352.50" width="3.6" height="1.0" fill="rgb(114,114,114)"/></g>
<text x="486.60" y="326.50" font-size="4.0" fill="#222" stroke="#222" stroke-width="0.13">2000 bp</text>
<text x="486.60" y="340.50" font-size="4.0" fill="#222" stroke="#222" stroke-width="0.13">500 bp</text>
<text x="274.00" y="367.10" font-size="4.3" fill="#222" stroke="#222" stroke-width="0.13">WT-A</text>
<text x="301.30" y="367.10" font-size="4.3" fill="#161616" stroke="#161616" stroke-width="0.13" textLength="32.27" lengthAdjust="spacingAndGlyphs">CGATGGTGATTG</text>
<text x="333.57" y="367.10" font-size="4.3" fill="#161616" stroke="#161616" stroke-width="0.13" textLength="53.79" lengthAdjust="spacingAndGlyphs">GGGCGGGGCTGGGAGCTTGT</text>
<text x="387.36" y="367.10" font-size="4.3" fill="#2a3ea0" stroke="#2a3ea0" stroke-width="0.13" textLength="8.07" lengthAdjust="spacingAndGlyphs">CGG</text>
<text x="395.43" y="367.10" font-size="4.3" fill="#445" stroke="#445" stroke-width="0.13" textLength="10.76" lengthAdjust="spacingAndGlyphs">-//-</text>
<text x="406.18" y="367.10" font-size="4.3" fill="#9ab656" stroke="#9ab656" stroke-width="0.13" textLength="2.69" lengthAdjust="spacingAndGlyphs">G</text>
<text x="408.87" y="367.10" font-size="4.3" fill="#161616" stroke="#161616" stroke-width="0.13" textLength="51.10" lengthAdjust="spacingAndGlyphs">GGTAGAGCTGAGGGATGAA</text>
<text x="459.97" y="367.10" font-size="4.3" fill="#2a3ea0" stroke="#2a3ea0" stroke-width="0.13" textLength="8.07" lengthAdjust="spacingAndGlyphs">TGG</text>
<text x="468.04" y="367.10" font-size="4.3" fill="#161616" stroke="#161616" stroke-width="0.13" textLength="37.65" lengthAdjust="spacingAndGlyphs">AGATT-//-GTCTG</text>
<line x1="333.57" y1="368.00" x2="387.36" y2="368.00" stroke="#222" stroke-width="0.6" />
<line x1="408.87" y1="368.00" x2="459.97" y2="368.00" stroke="#222" stroke-width="0.6" />
<text x="274.00" y="375.20" font-size="4.3" fill="#222" stroke="#222" stroke-width="0.13">WT-B</text>
<text x="301.30" y="375.20" font-size="4.3" fill="#161616" stroke="#161616" stroke-width="0.13" textLength="32.27" lengthAdjust="spacingAndGlyphs">CGATGGTGACTG</text>
<text x="333.57" y="375.20" font-size="4.3" fill="#161616" stroke="#161616" stroke-width="0.13" textLength="53.79" lengthAdjust="spacingAndGlyphs">GGGCGGGGCTGGGAGCTTGT</text>
<text x="387.36" y="375.20" font-size="4.3" fill="#2a3ea0" stroke="#2a3ea0" stroke-width="0.13" textLength="8.07" lengthAdjust="spacingAndGlyphs">CGG</text>
<text x="395.43" y="375.20" font-size="4.3" fill="#445" stroke="#445" stroke-width="0.13" textLength="10.76" lengthAdjust="spacingAndGlyphs">-//-</text>
<text x="406.18" y="375.20" font-size="4.3" fill="#9ab656" stroke="#9ab656" stroke-width="0.13" textLength="2.69" lengthAdjust="spacingAndGlyphs">G</text>
<text x="408.87" y="375.20" font-size="4.3" fill="#161616" stroke="#161616" stroke-width="0.13" textLength="51.10" lengthAdjust="spacingAndGlyphs">GGTAGAGCTGAGGGATGAA</text>
<text x="459.97" y="375.20" font-size="4.3" fill="#2a3ea0" stroke="#2a3ea0" stroke-width="0.13" textLength="8.07" lengthAdjust="spacingAndGlyphs">TGG</text>
<text x="468.04" y="375.20" font-size="4.3" fill="#161616" stroke="#161616" stroke-width="0.13" textLength="37.65" lengthAdjust="spacingAndGlyphs">AGATT-//-GTCTG</text>
<line x1="333.57" y1="376.10" x2="387.36" y2="376.10" stroke="#222" stroke-width="0.6" />
<line x1="408.87" y1="376.10" x2="459.97" y2="376.10" stroke="#222" stroke-width="0.6" />
<text x="274.00" y="384.60" font-size="4.3" fill="#222" stroke="#222" stroke-width="0.13">WT-D</text>
<text x="301.30" y="384.60" font-size="4.3" fill="#161616" stroke="#161616" stroke-width="0.13" textLength="32.27" lengthAdjust="spacingAndGlyphs">CGATGGTGATTG</text>
<text x="333.57" y="384.60" font-size="4.3" fill="#161616" stroke="#161616" stroke-width="0.13" textLength="53.79" lengthAdjust="spacingAndGlyphs">GGGCGGGGCTGGGAGCTTGT</text>
<text x="387.36" y="384.60" font-size="4.3" fill="#2a3ea0" stroke="#2a3ea0" stroke-width="0.13" textLength="8.07" lengthAdjust="spacingAndGlyphs">CGG</text>
<text x="395.43" y="384.60" font-size="4.3" fill="#445" stroke="#445" stroke-width="0.13" textLength="10.76" lengthAdjust="spacingAndGlyphs">-//-</text>
<text x="406.18" y="384.60" font-size="4.3" fill="#9ab656" stroke="#9ab656" stroke-width="0.13" textLength="2.69" lengthAdjust="spacingAndGlyphs">G</text>
<text x="408.87" y="384.60" font-size="4.3" fill="#161616" stroke="#161616" stroke-width="0.13" textLength="51.10" lengthAdjust="spacingAndGlyphs">GGTAGAGCTGAGGGATGAA</text>
<text x="459.97" y="384.60" font-size="4.3" fill="#2a3ea0" stroke="#2a3ea0" stroke-width="0.13" textLength="8.07" lengthAdjust="spacingAndGlyphs">TGG</text>
<text x="468.04" y="384.60" font-size="4.3" fill="#161616" stroke="#161616" stroke-width="0.13" textLength="37.65" lengthAdjust="spacingAndGlyphs">AGATT-//-GTCTG</text>
<line x1="333.57" y1="385.50" x2="387.36" y2="385.50" stroke="#222" stroke-width="0.6" />
<line x1="408.87" y1="385.50" x2="459.97" y2="385.50" stroke="#222" stroke-width="0.6" />
<text x="274.00" y="393.10" font-size="4.3" fill="#222" stroke="#222" stroke-width="0.13">T12-23-A</text>
<text x="301.30" y="393.10" font-size="4.3" fill="#161616" stroke="#161616" stroke-width="0.13" textLength="32.27" lengthAdjust="spacingAndGlyphs">CGATGGTGATTG</text>
<text x="333.57" y="393.10" font-size="4.3" fill="#161616" stroke="#161616" stroke-width="0.13" textLength="24.20" lengthAdjust="spacingAndGlyphs">GGGCGGGGG</text>
<line x1="358.18" y1="392.60" x2="378.89" y2="392.60" stroke="#555" stroke-width="0.55" stroke-dasharray="0.6 1.0"/>
<text x="379.29" y="393.10" font-size="4.3" fill="#161616" stroke="#161616" stroke-width="0.13" textLength="8.07" lengthAdjust="spacingAndGlyphs">TGT</text>
<text x="387.36" y="393.10" font-size="4.3" fill="#2a3ea0" stroke="#2a3ea0" stroke-width="0.13" textLength="8.07" lengthAdjust="spacingAndGlyphs">CGG</text>
<text x="395.43" y="393.10" font-size="4.3" fill="#445" stroke="#445" stroke-width="0.13" textLength="10.76" lengthAdjust="spacingAndGlyphs">-//-</text>
<text x="406.18" y="393.10" font-size="4.3" fill="#9ab656" stroke="#9ab656" stroke-width="0.13" textLength="2.69" lengthAdjust="spacingAndGlyphs">G</text>
<text x="408.87" y="393.10" font-size="4.3" fill="#161616" stroke="#161616" stroke-width="0.13" textLength="24.20" lengthAdjust="spacingAndGlyphs">GGTAGAGCT</text>
<line x1="433.48" y1="392.60" x2="451.50" y2="392.60" stroke="#555" stroke-width="0.55" stroke-dasharray="0.6 1.0"/>
<text x="451.90" y="393.10" font-size="4.3" fill="#161616" stroke="#161616" stroke-width="0.13" textLength="8.07" lengthAdjust="spacingAndGlyphs">GAA</text>
<text x="459.97" y="393.10" font-size="4.3" fill="#2a3ea0" stroke="#2a3ea0" stroke-width="0.13" textLength="8.07" lengthAdjust="spacingAndGlyphs">TGG</text>
<text x="468.04" y="393.10" font-size="4.3" fill="#161616" stroke="#161616" stroke-width="0.13" textLength="37.65" lengthAdjust="spacingAndGlyphs">AGATT-//-GTCTG</text>
<line x1="333.57" y1="394.00" x2="387.36" y2="394.00" stroke="#222" stroke-width="0.6" />
<line x1="408.87" y1="394.00" x2="459.97" y2="394.00" stroke="#222" stroke-width="0.6" />
<text x="508.50" y="393.10" font-size="4.0" fill="#222" stroke="#222" stroke-width="0.13" font-style="italic">d8, d7</text>
<text x="301.30" y="402.10" font-size="4.3" fill="#161616" stroke="#161616" stroke-width="0.13" textLength="32.27" lengthAdjust="spacingAndGlyphs">CGATGGTGATTG</text>
<text x="333.57" y="402.10" font-size="4.3" fill="#161616" stroke="#161616" stroke-width="0.13" textLength="53.79" lengthAdjust="spacingAndGlyphs">GGGCGGGGCTGGGAGC-TGT</text>
<text x="387.36" y="402.10" font-size="4.3" fill="#2a3ea0" stroke="#2a3ea0" stroke-width="0.13" textLength="8.07" lengthAdjust="spacingAndGlyphs">CGG</text>
<text x="395.43" y="402.10" font-size="4.3" fill="#445" stroke="#445" stroke-width="0.13" textLength="10.76" lengthAdjust="spacingAndGlyphs">-//-</text>
<text x="406.18" y="402.10" font-size="4.3" fill="#9ab656" stroke="#9ab656" stroke-width="0.13" textLength="2.69" lengthAdjust="spacingAndGlyphs">G</text>
<text x="408.87" y="402.10" font-size="4.3" fill="#161616" stroke="#161616" stroke-width="0.13" textLength="43.03" lengthAdjust="spacingAndGlyphs">GGTAGAGCTGAGGGAT</text>
<line x1="452.30" y1="401.60" x2="478.40" y2="401.60" stroke="#555" stroke-width="0.55" stroke-dasharray="0.6 1.0"/>
<text x="478.80" y="402.10" font-size="4.3" fill="#161616" stroke="#161616" stroke-width="0.13" textLength="26.89" lengthAdjust="spacingAndGlyphs">T-//-GTCTG</text>
<line x1="333.57" y1="403.00" x2="387.36" y2="403.00" stroke="#222" stroke-width="0.6" />
<line x1="408.87" y1="403.00" x2="459.97" y2="403.00" stroke="#222" stroke-width="0.6" />
<text x="508.50" y="402.10" font-size="4.0" fill="#222" stroke="#222" stroke-width="0.13" font-style="italic">d1, d10</text>
<text x="274.00" y="411.40" font-size="4.3" fill="#222" stroke="#222" stroke-width="0.13">T12-23-B</text>
<text x="301.30" y="411.40" font-size="4.3" fill="#161616" stroke="#161616" stroke-width="0.13" textLength="32.27" lengthAdjust="spacingAndGlyphs">CGATGGTGACTG</text>
<text x="333.57" y="411.40" font-size="4.3" fill="#161616" stroke="#161616" stroke-width="0.13" textLength="53.79" lengthAdjust="spacingAndGlyphs">GGGCGGGGCTGGGAGC-TGT</text>
<text x="387.36" y="411.40" font-size="4.3" fill="#2a3ea0" stroke="#2a3ea0" stroke-width="0.13" textLength="8.07" lengthAdjust="spacingAndGlyphs">CGG</text>
<text x="395.43" y="411.40" font-size="4.3" fill="#445" stroke="#445" stroke-width="0.13" textLength="10.76" lengthAdjust="spacingAndGlyphs">-//-</text>
<text x="406.18" y="411.40" font-size="4.3" fill="#9ab656" stroke="#9ab656" stroke-width="0.13" textLength="2.69" lengthAdjust="spacingAndGlyphs">G</text>
<text x="408.87" y="411.40" font-size="4.3" fill="#161616" stroke="#161616" stroke-width="0.13" textLength="21.51" lengthAdjust="spacingAndGlyphs">GGTAGAGC</text>
<line x1="430.79" y1="410.90" x2="459.57" y2="410.90" stroke="#555" stroke-width="0.55" stroke-dasharray="0.6 1.0"/>
<text x="459.97" y="411.40" font-size="4.3" fill="#2a3ea0" stroke="#2a3ea0" stroke-width="0.13" textLength="8.07" lengthAdjust="spacingAndGlyphs">TGG</text>
<text x="468.04" y="411.40" font-size="4.3" fill="#161616" stroke="#161616" stroke-width="0.13" textLength="37.65" lengthAdjust="spacingAndGlyphs">AGATT-//-GTCTG</text>
<line x1="333.57" y1="412.30" x2="387.36" y2="412.30" stroke="#222" stroke-width="0.6" />
<line x1="408.87" y1="412.30" x2="459.97" y2="412.30" stroke="#222" stroke-width="0.6" />
<text x="508.50" y="411.40" font-size="4.0" fill="#222" stroke="#222" stroke-width="0.13" font-style="italic">d1, d11</text>
<text x="301.30" y="419.80" font-size="4.3" fill="#161616" stroke="#161616" stroke-width="0.13" textLength="32.27" lengthAdjust="spacingAndGlyphs">CGATGGTGACTG</text>
<text x="333.57" y="419.80" font-size="4.3" fill="#161616" stroke="#161616" stroke-width="0.13" textLength="8.07" lengthAdjust="spacingAndGlyphs">GGG</text>
<line x1="342.04" y1="419.30" x2="386.96" y2="419.30" stroke="#555" stroke-width="0.55" stroke-dasharray="0.6 1.0"/>
<text x="387.36" y="419.80" font-size="4.3" fill="#2a3ea0" stroke="#2a3ea0" stroke-width="0.13" textLength="8.07" lengthAdjust="spacingAndGlyphs">CGG</text>
<text x="395.43" y="419.80" font-size="4.3" fill="#445" stroke="#445" stroke-width="0.13" textLength="10.76" lengthAdjust="spacingAndGlyphs">-//-</text>
<text x="406.18" y="419.80" font-size="4.3" fill="#9ab656" stroke="#9ab656" stroke-width="0.13" textLength="2.69" lengthAdjust="spacingAndGlyphs">G</text>
<text x="408.87" y="419.80" font-size="4.3" fill="#161616" stroke="#161616" stroke-width="0.13" textLength="8.07" lengthAdjust="spacingAndGlyphs">GGT</text>
<line x1="417.34" y1="419.30" x2="451.50" y2="419.30" stroke="#555" stroke-width="0.55" stroke-dasharray="0.6 1.0"/>
<text x="451.90" y="419.80" font-size="4.3" fill="#161616" stroke="#161616" stroke-width="0.13" textLength="8.07" lengthAdjust="spacingAndGlyphs">GAA</text>
<text x="459.97" y="419.80" font-size="4.3" fill="#2a3ea0" stroke="#2a3ea0" stroke-width="0.13" textLength="8.07" lengthAdjust="spacingAndGlyphs">TGG</text>
<text x="468.04" y="419.80" font-size="4.3" fill="#161616" stroke="#161616" stroke-width="0.13" textLength="37.65" lengthAdjust="spacingAndGlyphs">AGATT-//-GTCTG</text>
<line x1="333.57" y1="420.70" x2="387.36" y2="420.70" stroke="#222" stroke-width="0.6" />
<line x1="408.87" y1="420.70" x2="459.97" y2="420.70" stroke="#222" stroke-width="0.6" />
<text x="508.50" y="419.80" font-size="4.0" fill="#222" stroke="#222" stroke-width="0.13" font-style="italic">d17, d13</text>
<text x="274.00" y="429.20" font-size="4.3" fill="#222" stroke="#222" stroke-width="0.13">T12-23-D</text>
<text x="301.30" y="429.20" font-size="4.3" fill="#161616" stroke="#161616" stroke-width="0.13" textLength="13.45" lengthAdjust="spacingAndGlyphs">CGATG</text>
<line x1="315.15" y1="428.70" x2="395.03" y2="428.70" stroke="#555" stroke-width="0.55" stroke-dasharray="0.6 1.0"/>
<text x="395.43" y="429.20" font-size="4.3" fill="#445" stroke="#445" stroke-width="0.13" textLength="10.76" lengthAdjust="spacingAndGlyphs">-//-</text>
<line x1="406.58" y1="428.70" x2="478.40" y2="428.70" stroke="#555" stroke-width="0.55" stroke-dasharray="0.6 1.0"/>
<text x="478.80" y="429.20" font-size="4.3" fill="#161616" stroke="#161616" stroke-width="0.13" textLength="24.20" lengthAdjust="spacingAndGlyphs">-//-GTCTG</text>
<line x1="333.57" y1="430.10" x2="387.36" y2="430.10" stroke="#222" stroke-width="0.6" />
<line x1="408.87" y1="430.10" x2="459.97" y2="430.10" stroke="#222" stroke-width="0.6" />
<text x="508.50" y="429.20" font-size="4.0" fill="#222" stroke="#222" stroke-width="0.13" font-style="italic">d851</text>
<line x1="300.30" y1="390.60" x2="300.30" y2="401.90" stroke="#111" stroke-width="0.85" />
<line x1="300.30" y1="408.90" x2="300.30" y2="419.60" stroke="#111" stroke-width="0.85" />
</g>
<g id="right">
<text x="559.60" y="16.90" font-size="8.5" fill="#111" stroke="#111" stroke-width="0.1" font-weight="bold">A</text>
<rect x="572.60" y="9.60" width="213.80" height="94.00" fill="#070707" />
<g filter="url(#pb)"><path d="M594.3,42.4 Q585.3,40.1 581.5,54.8" fill="none" stroke="#6a7a3c" stroke-width="0.74" stroke-linecap="round"/><path d="M603.6,50.3 Q610.9,44.8 614.0,60.7" fill="none" stroke="#9a9a50" stroke-width="0.85" stroke-linecap="round"/><path d="M594.5,46.6 Q586.6,45.1 583.2,55.7" fill="none" stroke="#9a9a50" stroke-width="0.51" stroke-linecap="round"/><path d="M606.6,55.5 Q613.2,53.4 616.1,66.5" fill="none" stroke="#9a9a50" stroke-width="0.76" stroke-linecap="round"/><path d="M594.0,62.6 Q586.3,59.9 583.0,78.5" fill="none" stroke="#6a7a3c" stroke-width="0.98" stroke-linecap="round"/><path d="M604.4,67.9 Q614.4,62.2 618.7,72.8" fill="none" stroke="#b0a060" stroke-width="0.56" stroke-linecap="round"/><path d="M594.9,48.8 Q586.2,43.1 582.5,59.8" fill="none" stroke="#80904a" stroke-width="0.65" stroke-linecap="round"/><path d="M606.4,57.0 Q615.9,53.4 620.0,71.1" fill="none" stroke="#9a9a50" stroke-width="0.74" stroke-linecap="round"/><path d="M596.2,62.0 Q587.8,59.1 584.2,81.8" fill="none" stroke="#b0a060" stroke-width="0.54" stroke-linecap="round"/><path d="M603.2,59.4 Q608.4,54.2 610.6,69.4" fill="none" stroke="#9a9a50" stroke-width="0.73" stroke-linecap="round"/><path d="M594.3,48.0 Q586.3,44.1 582.8,63.3" fill="none" stroke="#80904a" stroke-width="0.75" stroke-linecap="round"/><path d="M605.9,69.6 Q613.5,64.3 616.8,77.1" fill="none" stroke="#b0a060" stroke-width="0.98" stroke-linecap="round"/><path d="M596.0,56.6 Q590.1,52.9 587.5,77.8" fill="none" stroke="#9a9a50" stroke-width="0.69" stroke-linecap="round"/><path d="M606.7,65.6 Q616.8,62.1 621.2,71.1" fill="none" stroke="#80904a" stroke-width="0.71" stroke-linecap="round"/><path d="M594.2,39.9 Q586.5,37.9 583.1,52.4" fill="none" stroke="#6a7a3c" stroke-width="0.91" stroke-linecap="round"/><path d="M602.7,51.4 Q610.3,46.5 613.6,60.7" fill="none" stroke="#9a9a50" stroke-width="0.90" stroke-linecap="round"/><path d="M595.6,58.5 Q590.2,57.0 588.0,72.0" fill="none" stroke="#b0a060" stroke-width="0.52" stroke-linecap="round"/><path d="M603.0,68.4 Q612.7,65.1 616.8,85.7" fill="none" stroke="#b0a060" stroke-width="0.62" stroke-linecap="round"/><path d="M595.3,41.6 Q588.9,40.2 586.2,47.6" fill="none" stroke="#80904a" stroke-width="0.83" stroke-linecap="round"/><path d="M603.9,58.9 Q612.6,55.4 616.3,64.1" fill="none" stroke="#b0a060" stroke-width="0.69" stroke-linecap="round"/><path d="M597.1,51.6 Q592.2,46.1 590.1,64.3" fill="none" stroke="#80904a" stroke-width="0.98" stroke-linecap="round"/><path d="M606.8,51.9 Q612.4,49.0 614.8,55.6" fill="none" stroke="#80904a" stroke-width="0.72" stroke-linecap="round"/><path d="M594.3,79.0 Q592.6,57.1 591.2,35.2" fill="none" stroke="#98a048" stroke-width="0.86"/><path d="M594.6,79.0 Q592.8,56.8 592.7,34.6" fill="none" stroke="#c0b060" stroke-width="0.73"/><path d="M596.3,79.0 Q594.8,55.4 594.2,31.8" fill="none" stroke="#a8a850" stroke-width="1.11"/><path d="M596.8,79.0 Q595.8,55.1 594.5,31.1" fill="none" stroke="#a8a850" stroke-width="1.06"/><path d="M597.4,79.0 Q595.7,56.5 595.3,34.0" fill="none" stroke="#c0b060" stroke-width="1.07"/><path d="M598.5,79.0 Q597.3,55.3 597.3,31.7" fill="none" stroke="#c0b060" stroke-width="0.61"/><path d="M598.9,79.0 Q598.0,55.4 598.7,31.7" fill="none" stroke="#c0b060" stroke-width="0.95"/><path d="M599.3,79.0 Q600.1,54.5 599.2,30.0" fill="none" stroke="#c0b060" stroke-width="0.56"/><path d="M600.0,79.0 Q599.7,56.0 600.0,32.9" fill="none" stroke="#b4ac58" stroke-width="0.68"/><path d="M601.2,79.0 Q602.4,56.0 602.0,33.0" fill="none" stroke="#8c9a44" stroke-width="1.05"/><path d="M601.8,79.0 Q602.9,55.2 603.0,31.4" fill="none" stroke="#a8a850" stroke-width="0.60"/><path d="M602.2,79.0 Q603.5,54.6 604.3,30.2" fill="none" stroke="#8c9a44" stroke-width="1.05"/><path d="M603.2,79.0 Q604.4,55.0 604.5,31.0" fill="none" stroke="#98a048" stroke-width="0.98"/><path d="M604.0,79.0 Q604.1,56.4 606.1,33.7" fill="none" stroke="#8c9a44" stroke-width="0.59"/><path d="M605.2,79.0 Q605.6,56.7 607.5,34.4" fill="none" stroke="#8c9a44" stroke-width="0.90"/><path d="M606.0,79.0 Q605.9,56.2 607.5,33.4" fill="none" stroke="#98a048" stroke-width="0.71"/><path d="M606.7,79.0 Q608.8,57.3 609.4,35.6" fill="none" stroke="#c0b060" stroke-width="0.61"/><g transform="rotate(-16 592.7 34.6)"><ellipse cx="592.7" cy="31.5" rx="0.70" ry="4.2" fill="#e4cc84"/><line x1="593.5" y1="29.6" x2="592.1" y2="25.3" stroke="#e4cc84" stroke-width="0.3" opacity="0.8"/><line x1="593.7" y1="29.6" x2="593.4" y2="25.5" stroke="#e4cc84" stroke-width="0.3" opacity="0.8"/><line x1="592.0" y1="29.6" x2="591.3" y2="24.3" stroke="#e4cc84" stroke-width="0.3" opacity="0.8"/></g><g transform="rotate(-2 594.5 31.1)"><ellipse cx="594.5" cy="28.3" rx="0.90" ry="3.9" fill="#e4cc84"/><line x1="595.0" y1="26.5" x2="594.4" y2="22.5" stroke="#e4cc84" stroke-width="0.3" opacity="0.8"/><line x1="594.2" y1="26.5" x2="592.8" y2="21.3" stroke="#e4cc84" stroke-width="0.3" opacity="0.8"/><line x1="595.4" y1="26.5" x2="596.1" y2="22.2" stroke="#e4cc84" stroke-width="0.3" opacity="0.8"/></g><g transform="rotate(-11 595.3 34.0)"><ellipse cx="595.3" cy="31.1" rx="1.09" ry="3.9" fill="#e4cc84"/><line x1="596.3" y1="29.3" x2="595.1" y2="25.3" stroke="#e4cc84" stroke-width="0.3" opacity="0.8"/><line x1="595.6" y1="29.3" x2="597.0" y2="24.6" stroke="#e4cc84" stroke-width="0.3" opacity="0.8"/><line x1="595.7" y1="29.3" x2="596.2" y2="25.2" stroke="#e4cc84" stroke-width="0.3" opacity="0.8"/></g><g transform="rotate(-8 597.3 31.7)"><ellipse cx="597.3" cy="28.9" rx="1.02" ry="3.8" fill="#dcc478"/><line x1="596.4" y1="27.1" x2="597.2" y2="23.4" stroke="#dcc478" stroke-width="0.3" opacity="0.8"/><line x1="597.4" y1="27.1" x2="596.9" y2="23.1" stroke="#dcc478" stroke-width="0.3" opacity="0.8"/><line x1="598.2" y1="27.1" x2="596.8" y2="23.2" stroke="#dcc478" stroke-width="0.3" opacity="0.8"/></g><g transform="rotate(2 598.7 31.7)"><ellipse cx="598.7" cy="28.6" rx="0.80" ry="4.1" fill="#dcc478"/><line x1="598.8" y1="26.7" x2="599.0" y2="21.7" stroke="#dcc478" stroke-width="0.3" opacity="0.8"/><line x1="598.2" y1="26.7" x2="596.7" y2="22.4" stroke="#dcc478" stroke-width="0.3" opacity="0.8"/><line x1="597.8" y1="26.7" x2="598.0" y2="22.8" stroke="#dcc478" stroke-width="0.3" opacity="0.8"/></g><g transform="rotate(4 600.0 32.9)"><ellipse cx="600.0" cy="30.2" rx="0.86" ry="3.8" fill="#e4cc84"/><line x1="600.7" y1="28.4" x2="599.5" y2="23.3" stroke="#e4cc84" stroke-width="0.3" opacity="0.8"/><line x1="599.7" y1="28.4" x2="599.7" y2="23.6" stroke="#e4cc84" stroke-width="0.3" opacity="0.8"/><line x1="599.4" y1="28.4" x2="598.3" y2="24.6" stroke="#e4cc84" stroke-width="0.3" opacity="0.8"/></g><g transform="rotate(4 602.0 33.0)"><ellipse cx="602.0" cy="30.2" rx="0.78" ry="3.8" fill="#d4b868"/><line x1="602.8" y1="28.5" x2="601.7" y2="23.1" stroke="#d4b868" stroke-width="0.3" opacity="0.8"/><line x1="601.0" y1="28.5" x2="600.5" y2="23.2" stroke="#d4b868" stroke-width="0.3" opacity="0.8"/><line x1="602.6" y1="28.5" x2="603.8" y2="23.3" stroke="#d4b868" stroke-width="0.3" opacity="0.8"/></g><g transform="rotate(-1 603.0 31.4)"><ellipse cx="603.0" cy="28.1" rx="0.89" ry="4.3" fill="#e4cc84"/><line x1="602.1" y1="26.3" x2="603.2" y2="21.9" stroke="#e4cc84" stroke-width="0.3" opacity="0.8"/><line x1="603.5" y1="26.3" x2="604.1" y2="21.5" stroke="#e4cc84" stroke-width="0.3" opacity="0.8"/><line x1="602.8" y1="26.3" x2="602.1" y2="21.5" stroke="#e4cc84" stroke-width="0.3" opacity="0.8"/></g><g transform="rotate(9 604.3 30.2)"><ellipse cx="604.3" cy="27.8" rx="0.77" ry="3.4" fill="#dcc478"/><line x1="603.4" y1="26.1" x2="603.8" y2="22.0" stroke="#dcc478" stroke-width="0.3" opacity="0.8"/><line x1="604.5" y1="26.1" x2="603.2" y2="22.2" stroke="#dcc478" stroke-width="0.3" opacity="0.8"/><line x1="603.6" y1="26.1" x2="602.5" y2="22.3" stroke="#dcc478" stroke-width="0.3" opacity="0.8"/></g><g transform="rotate(5 604.5 31.0)"><ellipse cx="604.5" cy="28.0" rx="0.69" ry="3.9" fill="#d4b868"/><line x1="604.5" y1="26.3" x2="603.5" y2="22.0" stroke="#d4b868" stroke-width="0.3" opacity="0.8"/><line x1="605.3" y1="26.3" x2="606.6" y2="20.8" stroke="#d4b868" stroke-width="0.3" opacity="0.8"/><line x1="604.8" y1="26.3" x2="604.0" y2="22.0" stroke="#d4b868" stroke-width="0.3" opacity="0.8"/></g><g transform="rotate(10 606.1 33.7)"><ellipse cx="606.1" cy="30.1" rx="0.90" ry="4.6" fill="#e4cc84"/><line x1="606.9" y1="28.2" x2="608.1" y2="23.4" stroke="#e4cc84" stroke-width="0.3" opacity="0.8"/><line x1="606.3" y1="28.2" x2="605.0" y2="23.8" stroke="#e4cc84" stroke-width="0.3" opacity="0.8"/><line x1="606.1" y1="28.2" x2="607.2" y2="23.7" stroke="#e4cc84" stroke-width="0.3" opacity="0.8"/></g><g transform="rotate(7 607.5 34.4)"><ellipse cx="607.5" cy="30.9" rx="0.78" ry="4.5" fill="#d4b868"/><line x1="607.6" y1="29.0" x2="606.6" y2="23.4" stroke="#d4b868" stroke-width="0.3" opacity="0.8"/><line x1="607.4" y1="29.0" x2="606.2" y2="24.6" stroke="#d4b868" stroke-width="0.3" opacity="0.8"/><line x1="607.7" y1="29.0" x2="607.8" y2="24.1" stroke="#d4b868" stroke-width="0.3" opacity="0.8"/></g><g transform="rotate(16 607.5 33.4)"><ellipse cx="607.5" cy="30.4" rx="0.99" ry="3.9" fill="#d4b868"/><line x1="606.6" y1="28.6" x2="607.1" y2="23.6" stroke="#d4b868" stroke-width="0.3" opacity="0.8"/><line x1="607.2" y1="28.6" x2="607.2" y2="24.7" stroke="#d4b868" stroke-width="0.3" opacity="0.8"/><line x1="608.0" y1="28.6" x2="606.6" y2="23.0" stroke="#d4b868" stroke-width="0.3" opacity="0.8"/></g><g transform="rotate(9 609.4 35.6)"><ellipse cx="609.4" cy="32.4" rx="1.08" ry="4.2" fill="#dcc478"/><line x1="608.7" y1="30.6" x2="609.5" y2="25.0" stroke="#dcc478" stroke-width="0.3" opacity="0.8"/><line x1="609.7" y1="30.6" x2="610.3" y2="25.8" stroke="#dcc478" stroke-width="0.3" opacity="0.8"/><line x1="610.3" y1="30.6" x2="611.7" y2="26.0" stroke="#dcc478" stroke-width="0.3" opacity="0.8"/></g>
<polygon points="588.8,80.2 612.2,80.2 609.2,101.6 591.8,101.6" fill="url(#pot)"/><rect x="587.8" y="77.2" width="25.5" height="4.4" rx="1.6" fill="#dedee8"/><ellipse cx="600.5" cy="78.3" rx="11.6" ry="1.2" fill="#6a5a3a"/><rect x="593.2" y="101.0" width="2" height="1.2" fill="#222"/><rect x="605.8" y="101.0" width="2" height="1.2" fill="#222"/>
<path d="M634.6,67.5 Q630.1,66.1 628.1,86.4" fill="none" stroke="#425828" stroke-width="0.63" stroke-linecap="round"/><path d="M643.6,40.5 Q652.0,34.5 655.7,55.6" fill="none" stroke="#425828" stroke-width="0.77" stroke-linecap="round"/><path d="M637.5,48.9 Q633.0,47.8 631.2,60.8" fill="none" stroke="#425828" stroke-width="0.95" stroke-linecap="round"/><path d="M647.1,48.2 Q652.3,46.3 654.6,55.6" fill="none" stroke="#5e763a" stroke-width="0.66" stroke-linecap="round"/><path d="M636.5,37.8 Q626.0,33.4 621.5,44.2" fill="none" stroke="#6e7a48" stroke-width="0.90" stroke-linecap="round"/><path d="M647.2,59.5 Q656.2,54.5 660.1,69.2" fill="none" stroke="#6e7a48" stroke-width="0.58" stroke-linecap="round"/><path d="M635.6,60.2 Q628.5,56.5 625.4,72.5" fill="none" stroke="#6e7a48" stroke-width="0.75" stroke-linecap="round"/><path d="M644.9,63.0 Q654.6,57.5 658.8,74.7" fill="none" stroke="#6e7a48" stroke-width="0.74" stroke-linecap="round"/><path d="M637.2,40.9 Q628.6,39.0 624.9,61.1" fill="none" stroke="#425828" stroke-width="0.89" stroke-linecap="round"/><path d="M644.7,50.2 Q653.9,45.1 657.9,63.9" fill="none" stroke="#6e7a48" stroke-width="0.66" stroke-linecap="round"/><path d="M636.5,40.3 Q626.4,36.2 622.0,44.8" fill="none" stroke="#425828" stroke-width="0.86" stroke-linecap="round"/><path d="M644.2,65.7 Q653.1,64.5 656.9,81.2" fill="none" stroke="#425828" stroke-width="0.80" stroke-linecap="round"/><path d="M634.8,57.6 Q625.8,55.9 622.0,65.6" fill="none" stroke="#5e763a" stroke-width="0.97" stroke-linecap="round"/><path d="M647.2,35.0 Q656.2,33.7 660.0,44.8" fill="none" stroke="#5e763a" stroke-width="0.84" stroke-linecap="round"/><path d="M634.6,35.8 Q630.2,31.2 628.4,39.2" fill="none" stroke="#425828" stroke-width="0.56" stroke-linecap="round"/><path d="M646.5,66.8 Q654.0,65.8 657.2,81.0" fill="none" stroke="#5e763a" stroke-width="0.58" stroke-linecap="round"/><path d="M637.2,34.1 Q629.1,29.4 625.6,39.3" fill="none" stroke="#425828" stroke-width="0.74" stroke-linecap="round"/><path d="M645.7,44.0 Q653.7,42.8 657.2,52.0" fill="none" stroke="#6e7a48" stroke-width="0.93" stroke-linecap="round"/><path d="M636.6,58.4 Q631.0,54.1 628.6,67.4" fill="none" stroke="#4e6630" stroke-width="0.51" stroke-linecap="round"/><path d="M647.4,61.4 Q654.8,56.5 658.0,73.7" fill="none" stroke="#425828" stroke-width="0.57" stroke-linecap="round"/><path d="M637.5,67.6 Q629.5,64.5 626.1,71.0" fill="none" stroke="#5e763a" stroke-width="0.84" stroke-linecap="round"/><path d="M644.0,42.0 Q649.2,38.7 651.5,49.4" fill="none" stroke="#4e6630" stroke-width="1.00" stroke-linecap="round"/><path d="M634.7,79.0 Q632.8,51.9 631.9,24.8" fill="none" stroke="#5f7a36" stroke-width="1.02"/><path d="M635.9,79.0 Q634.4,52.8 632.9,26.5" fill="none" stroke="#587232" stroke-width="0.55"/><path d="M636.0,79.0 Q634.2,51.2 634.1,23.3" fill="none" stroke="#8a9450" stroke-width="0.61"/><path d="M636.8,79.0 Q636.3,51.0 635.8,22.9" fill="none" stroke="#65803a" stroke-width="0.83"/><path d="M637.8,79.0 Q637.7,51.0 636.7,23.1" fill="none" stroke="#728a42" stroke-width="0.81"/><path d="M638.8,79.0 Q639.1,50.4 637.8,21.9" fill="none" stroke="#7e9048" stroke-width="0.90"/><path d="M639.9,79.0 Q639.5,51.3 639.0,23.6" fill="none" stroke="#65803a" stroke-width="1.10"/><path d="M640.4,79.0 Q639.6,52.4 639.5,25.8" fill="none" stroke="#587232" stroke-width="1.07"/><path d="M640.9,79.0 Q641.3,50.2 640.4,21.5" fill="none" stroke="#8a9450" stroke-width="1.04"/><path d="M641.3,79.0 Q642.1,51.1 642.3,23.2" fill="none" stroke="#5f7a36" stroke-width="0.55"/><path d="M642.0,79.0 Q643.0,51.9 642.9,24.9" fill="none" stroke="#728a42" stroke-width="0.67"/><path d="M643.3,79.0 Q643.6,51.5 644.2,23.9" fill="none" stroke="#587232" stroke-width="0.62"/><path d="M643.6,79.0 Q644.0,52.6 644.8,26.3" fill="none" stroke="#8a9450" stroke-width="0.68"/><path d="M644.4,79.0 Q646.0,51.9 646.8,24.7" fill="none" stroke="#65803a" stroke-width="0.85"/><path d="M645.4,79.0 Q646.5,52.9 647.7,26.7" fill="none" stroke="#587232" stroke-width="1.07"/><path d="M646.5,79.0 Q648.5,52.1 649.2,25.2" fill="none" stroke="#7e9048" stroke-width="0.73"/><path d="M646.7,79.0 Q648.7,51.9 650.0,24.8" fill="none" stroke="#7e9048" stroke-width="0.97"/><g transform="rotate(-16 632.9 26.5)"><ellipse cx="632.9" cy="23.4" rx="1.10" ry="4.1" fill="#dac88a"/><line x1="632.2" y1="21.6" x2="631.9" y2="17.6" stroke="#dac88a" stroke-width="0.3" opacity="0.8"/><line x1="632.1" y1="21.6" x2="633.3" y2="15.8" stroke="#dac88a" stroke-width="0.3" opacity="0.8"/><line x1="633.2" y1="21.6" x2="632.1" y2="17.2" stroke="#dac88a" stroke-width="0.3" opacity="0.8"/></g><g transform="rotate(-7 634.1 23.3)"><ellipse cx="634.1" cy="20.1" rx="0.73" ry="4.3" fill="#cfc07a"/><line x1="633.7" y1="18.2" x2="632.6" y2="12.3" stroke="#cfc07a" stroke-width="0.3" opacity="0.8"/><line x1="635.0" y1="18.2" x2="634.8" y2="13.6" stroke="#cfc07a" stroke-width="0.3" opacity="0.8"/><line x1="633.6" y1="18.2" x2="633.6" y2="14.0" stroke="#cfc07a" stroke-width="0.3" opacity="0.8"/></g><g transform="rotate(-11 635.8 22.9)"><ellipse cx="635.8" cy="19.3" rx="1.00" ry="4.6" fill="#c8b470"/><line x1="635.9" y1="17.4" x2="634.9" y2="12.3" stroke="#c8b470" stroke-width="0.3" opacity="0.8"/><line x1="634.8" y1="17.4" x2="635.1" y2="11.4" stroke="#c8b470" stroke-width="0.3" opacity="0.8"/><line x1="635.1" y1="17.4" x2="635.2" y2="12.2" stroke="#c8b470" stroke-width="0.3" opacity="0.8"/></g><g transform="rotate(-1 636.7 23.1)"><ellipse cx="636.7" cy="19.8" rx="0.81" ry="4.3" fill="#cfc07a"/><line x1="636.8" y1="17.9" x2="637.5" y2="12.1" stroke="#cfc07a" stroke-width="0.3" opacity="0.8"/><line x1="635.9" y1="17.9" x2="636.8" y2="12.5" stroke="#cfc07a" stroke-width="0.3" opacity="0.8"/><line x1="636.8" y1="17.9" x2="635.9" y2="12.3" stroke="#cfc07a" stroke-width="0.3" opacity="0.8"/></g><g transform="rotate(0 637.8 21.9)"><ellipse cx="637.8" cy="18.4" rx="0.86" ry="4.5" fill="#c8b470"/><line x1="638.2" y1="16.5" x2="639.3" y2="11.0" stroke="#c8b470" stroke-width="0.3" opacity="0.8"/><line x1="638.4" y1="16.5" x2="636.9" y2="10.4" stroke="#c8b470" stroke-width="0.3" opacity="0.8"/><line x1="638.2" y1="16.5" x2="638.5" y2="10.5" stroke="#c8b470" stroke-width="0.3" opacity="0.8"/></g><g transform="rotate(1 639.0 23.6)"><ellipse cx="639.0" cy="21.1" rx="0.77" ry="3.5" fill="#dac88a"/><line x1="639.9" y1="19.4" x2="640.1" y2="15.1" stroke="#dac88a" stroke-width="0.3" opacity="0.8"/><line x1="639.2" y1="19.4" x2="637.8" y2="14.7" stroke="#dac88a" stroke-width="0.3" opacity="0.8"/><line x1="639.0" y1="19.4" x2="639.0" y2="15.7" stroke="#dac88a" stroke-width="0.3" opacity="0.8"/></g><g transform="rotate(2 639.5 25.8)"><ellipse cx="639.5" cy="22.2" rx="0.65" ry="4.6" fill="#c8b470"/><line x1="639.5" y1="20.2" x2="640.5" y2="14.7" stroke="#c8b470" stroke-width="0.3" opacity="0.8"/><line x1="640.0" y1="20.2" x2="640.0" y2="14.7" stroke="#c8b470" stroke-width="0.3" opacity="0.8"/><line x1="639.2" y1="20.2" x2="638.5" y2="15.0" stroke="#c8b470" stroke-width="0.3" opacity="0.8"/></g><g transform="rotate(6 642.9 24.9)"><ellipse cx="642.9" cy="22.2" rx="0.76" ry="3.6" fill="#cfc07a"/><line x1="643.2" y1="20.5" x2="644.2" y2="15.7" stroke="#cfc07a" stroke-width="0.3" opacity="0.8"/><line x1="642.0" y1="20.5" x2="642.0" y2="15.1" stroke="#cfc07a" stroke-width="0.3" opacity="0.8"/><line x1="643.3" y1="20.5" x2="642.3" y2="16.6" stroke="#cfc07a" stroke-width="0.3" opacity="0.8"/></g><g transform="rotate(-1 644.2 23.9)"><ellipse cx="644.2" cy="21.5" rx="0.90" ry="3.4" fill="#cfc07a"/><line x1="643.6" y1="19.9" x2="644.1" y2="15.6" stroke="#cfc07a" stroke-width="0.3" opacity="0.8"/><line x1="643.5" y1="19.9" x2="644.0" y2="15.2" stroke="#cfc07a" stroke-width="0.3" opacity="0.8"/><line x1="643.8" y1="19.9" x2="643.1" y2="16.0" stroke="#cfc07a" stroke-width="0.3" opacity="0.8"/></g><g transform="rotate(4 644.8 26.3)"><ellipse cx="644.8" cy="22.6" rx="0.88" ry="4.6" fill="#cfc07a"/><line x1="645.7" y1="20.7" x2="645.7" y2="16.1" stroke="#cfc07a" stroke-width="0.3" opacity="0.8"/><line x1="645.0" y1="20.7" x2="646.1" y2="16.2" stroke="#cfc07a" stroke-width="0.3" opacity="0.8"/><line x1="644.8" y1="20.7" x2="643.6" y2="16.4" stroke="#cfc07a" stroke-width="0.3" opacity="0.8"/></g><g transform="rotate(8 646.8 24.7)"><ellipse cx="646.8" cy="21.6" rx="1.08" ry="4.1" fill="#d2c07e"/><line x1="646.0" y1="19.8" x2="647.0" y2="15.2" stroke="#d2c07e" stroke-width="0.3" opacity="0.8"/><line x1="646.5" y1="19.8" x2="646.0" y2="15.8" stroke="#d2c07e" stroke-width="0.3" opacity="0.8"/><line x1="646.7" y1="19.8" x2="645.7" y2="15.1" stroke="#d2c07e" stroke-width="0.3" opacity="0.8"/></g><g transform="rotate(14 647.7 26.7)"><ellipse cx="647.7" cy="23.2" rx="1.10" ry="4.5" fill="#cfc07a"/><line x1="647.1" y1="21.3" x2="646.4" y2="16.8" stroke="#cfc07a" stroke-width="0.3" opacity="0.8"/><line x1="648.5" y1="21.3" x2="648.4" y2="15.7" stroke="#cfc07a" stroke-width="0.3" opacity="0.8"/><line x1="648.4" y1="21.3" x2="647.4" y2="16.9" stroke="#cfc07a" stroke-width="0.3" opacity="0.8"/></g><g transform="rotate(11 649.2 25.2)"><ellipse cx="649.2" cy="22.5" rx="0.83" ry="3.7" fill="#cfc07a"/><line x1="649.9" y1="20.7" x2="649.4" y2="15.5" stroke="#cfc07a" stroke-width="0.3" opacity="0.8"/><line x1="650.1" y1="20.7" x2="650.1" y2="15.9" stroke="#cfc07a" stroke-width="0.3" opacity="0.8"/><line x1="650.1" y1="20.7" x2="650.9" y2="15.7" stroke="#cfc07a" stroke-width="0.3" opacity="0.8"/></g><g transform="rotate(15 650.0 24.8)"><ellipse cx="650.0" cy="21.2" rx="0.89" ry="4.6" fill="#c8b470"/><line x1="650.3" y1="19.3" x2="649.0" y2="14.5" stroke="#c8b470" stroke-width="0.3" opacity="0.8"/><line x1="650.0" y1="19.3" x2="649.2" y2="13.3" stroke="#c8b470" stroke-width="0.3" opacity="0.8"/><line x1="649.9" y1="19.3" x2="648.6" y2="13.3" stroke="#c8b470" stroke-width="0.3" opacity="0.8"/></g>
<polygon points="629.5,80.2 653.0,80.2 650.0,101.6 632.5,101.6" fill="url(#pot)"/><rect x="628.5" y="77.2" width="25.5" height="4.4" rx="1.6" fill="#dedee8"/><ellipse cx="641.2" cy="78.3" rx="11.6" ry="1.2" fill="#6a5a3a"/><rect x="634.0" y="101.0" width="2" height="1.2" fill="#222"/><rect x="646.5" y="101.0" width="2" height="1.2" fill="#222"/>
<path d="M677.8,41.4 Q671.3,37.4 668.5,56.3" fill="none" stroke="#4e6630" stroke-width="0.80" stroke-linecap="round"/><path d="M686.9,65.8 Q694.5,63.8 697.8,82.4" fill="none" stroke="#6e7a48" stroke-width="0.70" stroke-linecap="round"/><path d="M679.1,64.1 Q674.0,58.4 671.8,74.5" fill="none" stroke="#4e6630" stroke-width="0.84" stroke-linecap="round"/><path d="M688.1,35.1 Q696.0,32.6 699.4,38.7" fill="none" stroke="#425828" stroke-width="0.74" stroke-linecap="round"/><path d="M676.4,58.9 Q667.7,53.3 664.0,69.4" fill="none" stroke="#6e7a48" stroke-width="0.98" stroke-linecap="round"/><path d="M686.4,37.7 Q690.9,34.2 692.8,45.6" fill="none" stroke="#6e7a48" stroke-width="0.89" stroke-linecap="round"/><path d="M678.3,63.8 Q668.9,60.0 664.8,77.0" fill="none" stroke="#6e7a48" stroke-width="0.79" stroke-linecap="round"/><path d="M687.8,65.6 Q697.8,60.3 702.1,87.5" fill="none" stroke="#5e763a" stroke-width="0.85" stroke-linecap="round"/><path d="M677.8,44.6 Q670.0,43.1 666.7,60.1" fill="none" stroke="#425828" stroke-width="0.64" stroke-linecap="round"/><path d="M688.5,35.1 Q698.9,33.7 703.4,53.3" fill="none" stroke="#6e7a48" stroke-width="0.95" stroke-linecap="round"/><path d="M678.3,33.5 Q671.5,31.9 668.6,48.0" fill="none" stroke="#4e6630" stroke-width="0.69" stroke-linecap="round"/><path d="M687.2,54.1 Q697.2,51.7 701.5,61.6" fill="none" stroke="#4e6630" stroke-width="0.65" stroke-linecap="round"/><path d="M677.6,35.6 Q673.2,33.6 671.3,46.3" fill="none" stroke="#425828" stroke-width="0.58" stroke-linecap="round"/><path d="M688.5,34.3 Q694.7,28.5 697.4,54.4" fill="none" stroke="#6e7a48" stroke-width="0.69" stroke-linecap="round"/><path d="M678.5,64.4 Q668.8,60.0 664.7,69.3" fill="none" stroke="#425828" stroke-width="0.72" stroke-linecap="round"/><path d="M685.9,58.9 Q692.0,53.1 694.6,71.8" fill="none" stroke="#425828" stroke-width="0.51" stroke-linecap="round"/><path d="M677.7,47.9 Q673.3,43.8 671.5,62.9" fill="none" stroke="#4e6630" stroke-width="0.82" stroke-linecap="round"/><path d="M686.4,44.9 Q696.4,40.8 700.6,53.2" fill="none" stroke="#6e7a48" stroke-width="0.51" stroke-linecap="round"/><path d="M677.3,35.0 Q667.0,32.7 662.6,46.7" fill="none" stroke="#425828" stroke-width="0.59" stroke-linecap="round"/><path d="M688.1,39.5 Q697.6,37.2 701.7,57.5" fill="none" stroke="#4e6630" stroke-width="0.89" stroke-linecap="round"/><path d="M677.7,33.8 Q668.9,31.2 665.1,41.0" fill="none" stroke="#425828" stroke-width="0.62" stroke-linecap="round"/><path d="M686.7,39.6 Q695.3,38.1 699.0,48.7" fill="none" stroke="#425828" stroke-width="0.84" stroke-linecap="round"/><path d="M676.2,79.0 Q674.8,53.7 674.0,28.3" fill="none" stroke="#65803a" stroke-width="0.94"/><path d="M677.6,79.0 Q675.2,51.6 674.5,24.3" fill="none" stroke="#65803a" stroke-width="1.12"/><path d="M677.8,79.0 Q676.7,52.3 676.3,25.6" fill="none" stroke="#587232" stroke-width="1.05"/><path d="M678.3,79.0 Q677.3,52.2 677.1,25.3" fill="none" stroke="#7e9048" stroke-width="1.03"/><path d="M679.3,79.0 Q678.6,51.5 677.8,24.1" fill="none" stroke="#7e9048" stroke-width="0.57"/><path d="M680.2,79.0 Q680.4,51.5 678.6,24.0" fill="none" stroke="#5f7a36" stroke-width="0.81"/><path d="M681.5,79.0 Q681.1,50.7 680.9,22.4" fill="none" stroke="#8a9450" stroke-width="1.00"/><path d="M682.0,79.0 Q682.8,51.3 682.1,23.6" fill="none" stroke="#728a42" stroke-width="1.06"/><path d="M683.0,79.0 Q683.2,50.4 681.9,21.7" fill="none" stroke="#65803a" stroke-width="0.97"/><path d="M683.7,79.0 Q683.1,52.2 684.3,25.4" fill="none" stroke="#5f7a36" stroke-width="0.84"/><path d="M683.6,79.0 Q684.2,50.7 684.8,22.4" fill="none" stroke="#65803a" stroke-width="0.80"/><path d="M685.2,79.0 Q686.6,51.2 686.1,23.3" fill="none" stroke="#587232" stroke-width="0.87"/><path d="M685.8,79.0 Q686.1,51.1 686.3,23.1" fill="none" stroke="#65803a" stroke-width="1.04"/><path d="M685.9,79.0 Q687.9,53.0 688.6,27.0" fill="none" stroke="#728a42" stroke-width="0.55"/><path d="M687.1,79.0 Q688.0,51.0 689.8,23.0" fill="none" stroke="#587232" stroke-width="0.92"/><path d="M687.8,79.0 Q689.4,51.9 689.7,24.7" fill="none" stroke="#65803a" stroke-width="1.02"/><path d="M688.0,79.0 Q690.1,52.5 690.8,25.9" fill="none" stroke="#65803a" stroke-width="0.60"/><g transform="rotate(-14 674.0 28.3)"><ellipse cx="674.0" cy="25.5" rx="0.82" ry="3.8" fill="#c8b470"/><line x1="673.8" y1="23.7" x2="673.2" y2="19.7" stroke="#c8b470" stroke-width="0.3" opacity="0.8"/><line x1="675.0" y1="23.7" x2="674.8" y2="19.9" stroke="#c8b470" stroke-width="0.3" opacity="0.8"/><line x1="673.0" y1="23.7" x2="673.7" y2="18.6" stroke="#c8b470" stroke-width="0.3" opacity="0.8"/></g><g transform="rotate(-11 674.5 24.3)"><ellipse cx="674.5" cy="21.8" rx="0.94" ry="3.5" fill="#cfc07a"/><line x1="673.6" y1="20.1" x2="674.8" y2="16.7" stroke="#cfc07a" stroke-width="0.3" opacity="0.8"/><line x1="674.8" y1="20.1" x2="675.6" y2="16.2" stroke="#cfc07a" stroke-width="0.3" opacity="0.8"/><line x1="675.4" y1="20.1" x2="675.2" y2="16.8" stroke="#cfc07a" stroke-width="0.3" opacity="0.8"/></g><g transform="rotate(-8 676.3 25.6)"><ellipse cx="676.3" cy="22.9" rx="0.75" ry="3.7" fill="#cfc07a"/><line x1="675.5" y1="21.1" x2="674.1" y2="17.0" stroke="#cfc07a" stroke-width="0.3" opacity="0.8"/><line x1="677.2" y1="21.1" x2="677.4" y2="15.9" stroke="#cfc07a" stroke-width="0.3" opacity="0.8"/><line x1="675.5" y1="21.1" x2="676.1" y2="15.8" stroke="#cfc07a" stroke-width="0.3" opacity="0.8"/></g><g transform="rotate(-7 677.1 25.3)"><ellipse cx="677.1" cy="21.8" rx="0.95" ry="4.5" fill="#cfc07a"/><line x1="677.5" y1="19.9" x2="677.7" y2="15.6" stroke="#cfc07a" stroke-width="0.3" opacity="0.8"/><line x1="677.2" y1="19.9" x2="675.8" y2="15.6" stroke="#cfc07a" stroke-width="0.3" opacity="0.8"/><line x1="677.6" y1="19.9" x2="676.2" y2="15.7" stroke="#cfc07a" stroke-width="0.3" opacity="0.8"/></g><g transform="rotate(-10 678.6 24.0)"><ellipse cx="678.6" cy="21.4" rx="0.66" ry="3.6" fill="#d2c07e"/><line x1="677.9" y1="19.7" x2="677.8" y2="14.9" stroke="#d2c07e" stroke-width="0.3" opacity="0.8"/><line x1="678.2" y1="19.7" x2="677.6" y2="16.1" stroke="#d2c07e" stroke-width="0.3" opacity="0.8"/><line x1="679.6" y1="19.7" x2="679.8" y2="15.2" stroke="#d2c07e" stroke-width="0.3" opacity="0.8"/></g><g transform="rotate(-8 680.9 22.4)"><ellipse cx="680.9" cy="19.3" rx="0.90" ry="4.1" fill="#d2c07e"/><line x1="681.7" y1="17.4" x2="680.7" y2="13.5" stroke="#d2c07e" stroke-width="0.3" opacity="0.8"/><line x1="681.9" y1="17.4" x2="682.4" y2="12.7" stroke="#d2c07e" stroke-width="0.3" opacity="0.8"/><line x1="681.3" y1="17.4" x2="682.7" y2="13.1" stroke="#d2c07e" stroke-width="0.3" opacity="0.8"/></g><g transform="rotate(-1 682.1 23.6)"><ellipse cx="682.1" cy="20.0" rx="0.82" ry="4.6" fill="#d2c07e"/><line x1="681.6" y1="18.1" x2="682.9" y2="12.2" stroke="#d2c07e" stroke-width="0.3" opacity="0.8"/><line x1="683.1" y1="18.1" x2="682.8" y2="12.8" stroke="#d2c07e" stroke-width="0.3" opacity="0.8"/><line x1="682.3" y1="18.1" x2="683.5" y2="12.5" stroke="#d2c07e" stroke-width="0.3" opacity="0.8"/></g><g transform="rotate(5 681.9 21.7)"><ellipse cx="681.9" cy="18.8" rx="0.69" ry="3.9" fill="#dac88a"/><line x1="682.4" y1="17.0" x2="683.6" y2="12.4" stroke="#dac88a" stroke-width="0.3" opacity="0.8"/><line x1="681.8" y1="17.0" x2="682.4" y2="13.0" stroke="#dac88a" stroke-width="0.3" opacity="0.8"/><line x1="681.4" y1="17.0" x2="680.5" y2="12.2" stroke="#dac88a" stroke-width="0.3" opacity="0.8"/></g><g transform="rotate(4 684.3 25.4)"><ellipse cx="684.3" cy="22.7" rx="0.95" ry="3.7" fill="#c8b470"/><line x1="685.0" y1="20.9" x2="685.3" y2="16.3" stroke="#c8b470" stroke-width="0.3" opacity="0.8"/><line x1="685.2" y1="20.9" x2="686.4" y2="16.9" stroke="#c8b470" stroke-width="0.3" opacity="0.8"/><line x1="683.8" y1="20.9" x2="684.7" y2="17.1" stroke="#c8b470" stroke-width="0.3" opacity="0.8"/></g><g transform="rotate(3 684.8 22.4)"><ellipse cx="684.8" cy="19.7" rx="0.84" ry="3.7" fill="#dac88a"/><line x1="685.2" y1="18.0" x2="685.8" y2="14.1" stroke="#dac88a" stroke-width="0.3" opacity="0.8"/><line x1="684.9" y1="18.0" x2="686.1" y2="13.2" stroke="#dac88a" stroke-width="0.3" opacity="0.8"/><line x1="683.8" y1="18.0" x2="685.3" y2="14.4" stroke="#dac88a" stroke-width="0.3" opacity="0.8"/></g><g transform="rotate(9 686.1 23.3)"><ellipse cx="686.1" cy="19.9" rx="0.86" ry="4.4" fill="#d2c07e"/><line x1="685.5" y1="18.1" x2="684.7" y2="12.6" stroke="#d2c07e" stroke-width="0.3" opacity="0.8"/><line x1="686.4" y1="18.1" x2="687.8" y2="12.3" stroke="#d2c07e" stroke-width="0.3" opacity="0.8"/><line x1="685.5" y1="18.1" x2="684.6" y2="13.5" stroke="#d2c07e" stroke-width="0.3" opacity="0.8"/></g><g transform="rotate(10 686.3 23.1)"><ellipse cx="686.3" cy="19.8" rx="0.73" ry="4.3" fill="#c8b470"/><line x1="685.4" y1="17.9" x2="684.4" y2="13.8" stroke="#c8b470" stroke-width="0.3" opacity="0.8"/><line x1="686.9" y1="17.9" x2="685.7" y2="13.5" stroke="#c8b470" stroke-width="0.3" opacity="0.8"/><line x1="687.1" y1="17.9" x2="685.7" y2="13.1" stroke="#c8b470" stroke-width="0.3" opacity="0.8"/></g><g transform="rotate(2 688.6 27.0)"><ellipse cx="688.6" cy="24.2" rx="0.85" ry="3.8" fill="#c8b470"/><line x1="688.6" y1="22.4" x2="687.7" y2="17.7" stroke="#c8b470" stroke-width="0.3" opacity="0.8"/><line x1="689.5" y1="22.4" x2="689.2" y2="17.7" stroke="#c8b470" stroke-width="0.3" opacity="0.8"/><line x1="687.8" y1="22.4" x2="687.2" y2="17.5" stroke="#c8b470" stroke-width="0.3" opacity="0.8"/></g><g transform="rotate(6 689.7 24.7)"><ellipse cx="689.7" cy="21.2" rx="0.96" ry="4.6" fill="#c8b470"/><line x1="689.4" y1="19.3" x2="689.2" y2="13.8" stroke="#c8b470" stroke-width="0.3" opacity="0.8"/><line x1="690.0" y1="19.3" x2="691.3" y2="13.5" stroke="#c8b470" stroke-width="0.3" opacity="0.8"/><line x1="688.9" y1="19.3" x2="690.2" y2="14.4" stroke="#c8b470" stroke-width="0.3" opacity="0.8"/></g><g transform="rotate(14 690.8 25.9)"><ellipse cx="690.8" cy="22.8" rx="0.68" ry="4.1" fill="#c8b470"/><line x1="690.4" y1="21.0" x2="691.1" y2="15.8" stroke="#c8b470" stroke-width="0.3" opacity="0.8"/><line x1="691.1" y1="21.0" x2="691.8" y2="17.0" stroke="#c8b470" stroke-width="0.3" opacity="0.8"/><line x1="690.5" y1="21.0" x2="691.8" y2="16.4" stroke="#c8b470" stroke-width="0.3" opacity="0.8"/></g>
<polygon points="671.0,80.2 694.5,80.2 691.5,101.6 674.0,101.6" fill="url(#pot)"/><rect x="670.0" y="77.2" width="25.5" height="4.4" rx="1.6" fill="#dedee8"/><ellipse cx="682.7" cy="78.3" rx="11.6" ry="1.2" fill="#6a5a3a"/><rect x="675.5" y="101.0" width="2" height="1.2" fill="#222"/><rect x="688.0" y="101.0" width="2" height="1.2" fill="#222"/>
<path d="M720.7,43.4 Q714.0,41.6 711.1,47.6" fill="none" stroke="#6e7a48" stroke-width="0.77" stroke-linecap="round"/><path d="M730.1,45.2 Q734.6,41.6 736.6,55.0" fill="none" stroke="#5e763a" stroke-width="0.91" stroke-linecap="round"/><path d="M717.1,44.2 Q712.8,40.0 710.9,52.2" fill="none" stroke="#425828" stroke-width="0.60" stroke-linecap="round"/><path d="M728.5,45.9 Q737.3,40.6 741.1,65.6" fill="none" stroke="#4e6630" stroke-width="0.92" stroke-linecap="round"/><path d="M719.5,46.8 Q713.7,44.6 711.2,55.2" fill="none" stroke="#425828" stroke-width="0.50" stroke-linecap="round"/><path d="M728.9,45.3 Q735.0,40.5 737.7,52.0" fill="none" stroke="#6e7a48" stroke-width="0.80" stroke-linecap="round"/><path d="M720.4,50.1 Q714.3,45.0 711.7,53.9" fill="none" stroke="#4e6630" stroke-width="0.73" stroke-linecap="round"/><path d="M728.1,69.5 Q736.4,65.0 739.9,75.3" fill="none" stroke="#5e763a" stroke-width="0.53" stroke-linecap="round"/><path d="M718.4,66.7 Q711.5,64.7 708.5,77.9" fill="none" stroke="#425828" stroke-width="0.82" stroke-linecap="round"/><path d="M727.3,42.1 Q736.7,37.5 740.8,50.4" fill="none" stroke="#5e763a" stroke-width="0.56" stroke-linecap="round"/><path d="M719.9,67.4 Q715.5,64.6 713.6,71.9" fill="none" stroke="#425828" stroke-width="0.87" stroke-linecap="round"/><path d="M726.0,68.2 Q732.0,62.4 734.6,86.0" fill="none" stroke="#6e7a48" stroke-width="0.93" stroke-linecap="round"/><path d="M718.2,65.1 Q713.6,61.1 711.5,85.1" fill="none" stroke="#425828" stroke-width="0.57" stroke-linecap="round"/><path d="M729.9,48.4 Q736.2,47.3 738.9,52.2" fill="none" stroke="#5e763a" stroke-width="0.68" stroke-linecap="round"/><path d="M716.9,62.9 Q709.1,59.7 705.8,69.8" fill="none" stroke="#5e763a" stroke-width="0.56" stroke-linecap="round"/><path d="M729.0,37.4 Q736.9,31.5 740.4,51.9" fill="none" stroke="#6e7a48" stroke-width="0.79" stroke-linecap="round"/><path d="M721.0,46.3 Q711.5,43.8 707.4,68.2" fill="none" stroke="#5e763a" stroke-width="0.74" stroke-linecap="round"/><path d="M727.6,43.6 Q732.1,40.5 734.0,51.3" fill="none" stroke="#6e7a48" stroke-width="0.92" stroke-linecap="round"/><path d="M721.0,52.4 Q715.2,50.2 712.7,59.3" fill="none" stroke="#5e763a" stroke-width="0.71" stroke-linecap="round"/><path d="M727.3,44.2 Q737.1,41.7 741.3,49.5" fill="none" stroke="#6e7a48" stroke-width="0.98" stroke-linecap="round"/><path d="M717.4,57.7 Q708.7,56.5 705.0,68.1" fill="none" stroke="#6e7a48" stroke-width="0.61" stroke-linecap="round"/><path d="M729.7,65.3 Q739.7,62.6 744.0,80.8" fill="none" stroke="#425828" stroke-width="0.91" stroke-linecap="round"/><path d="M717.5,79.0 Q715.8,54.7 714.7,30.4" fill="none" stroke="#587232" stroke-width="0.79"/><path d="M718.2,79.0 Q717.6,53.5 716.2,28.0" fill="none" stroke="#8a9450" stroke-width="0.58"/><path d="M719.4,79.0 Q718.5,55.0 716.2,31.1" fill="none" stroke="#8a9450" stroke-width="1.07"/><path d="M719.9,79.0 Q719.7,53.6 717.8,28.2" fill="none" stroke="#7e9048" stroke-width="0.68"/><path d="M720.0,79.0 Q719.1,52.3 719.7,25.6" fill="none" stroke="#587232" stroke-width="1.04"/><path d="M721.5,79.0 Q720.5,53.4 720.7,27.9" fill="none" stroke="#728a42" stroke-width="0.91"/><path d="M722.3,79.0 Q721.7,53.8 721.3,28.7" fill="none" stroke="#5f7a36" stroke-width="0.60"/><path d="M722.9,79.0 Q722.6,53.1 721.8,27.2" fill="none" stroke="#587232" stroke-width="0.63"/><path d="M723.4,79.0 Q723.2,52.8 723.9,26.6" fill="none" stroke="#65803a" stroke-width="0.76"/><path d="M723.8,79.0 Q725.2,52.8 725.4,26.6" fill="none" stroke="#728a42" stroke-width="0.74"/><path d="M724.7,79.0 Q724.4,54.3 725.7,29.6" fill="none" stroke="#65803a" stroke-width="1.10"/><path d="M726.0,79.0 Q727.1,54.6 726.7,30.1" fill="none" stroke="#7e9048" stroke-width="1.02"/><path d="M726.1,79.0 Q728.2,52.7 728.6,26.5" fill="none" stroke="#587232" stroke-width="0.84"/><path d="M726.9,79.0 Q727.4,53.4 729.2,27.7" fill="none" stroke="#728a42" stroke-width="0.64"/><path d="M728.0,79.0 Q729.4,54.0 730.0,29.0" fill="none" stroke="#65803a" stroke-width="0.55"/><path d="M728.6,79.0 Q730.2,54.0 731.4,29.1" fill="none" stroke="#8a9450" stroke-width="0.87"/><path d="M729.5,79.0 Q731.5,53.7 732.4,28.5" fill="none" stroke="#728a42" stroke-width="1.14"/><g transform="rotate(-11 714.7 30.4)"><ellipse cx="714.7" cy="27.2" rx="0.89" ry="4.3" fill="#c8b470"/><line x1="715.6" y1="25.3" x2="716.4" y2="20.3" stroke="#c8b470" stroke-width="0.3" opacity="0.8"/><line x1="715.6" y1="25.3" x2="715.6" y2="20.5" stroke="#c8b470" stroke-width="0.3" opacity="0.8"/><line x1="715.0" y1="25.3" x2="714.7" y2="20.9" stroke="#c8b470" stroke-width="0.3" opacity="0.8"/></g><g transform="rotate(-12 716.2 28.0)"><ellipse cx="716.2" cy="24.4" rx="0.69" ry="4.7" fill="#cfc07a"/><line x1="715.5" y1="22.4" x2="716.4" y2="17.9" stroke="#cfc07a" stroke-width="0.3" opacity="0.8"/><line x1="717.0" y1="22.4" x2="716.6" y2="17.1" stroke="#cfc07a" stroke-width="0.3" opacity="0.8"/><line x1="715.9" y1="22.4" x2="716.3" y2="18.0" stroke="#cfc07a" stroke-width="0.3" opacity="0.8"/></g><g transform="rotate(-13 716.2 31.1)"><ellipse cx="716.2" cy="27.5" rx="0.80" ry="4.6" fill="#c8b470"/><line x1="715.8" y1="25.6" x2="714.3" y2="21.4" stroke="#c8b470" stroke-width="0.3" opacity="0.8"/><line x1="717.1" y1="25.6" x2="718.0" y2="19.8" stroke="#c8b470" stroke-width="0.3" opacity="0.8"/><line x1="716.8" y1="25.6" x2="718.1" y2="21.1" stroke="#c8b470" stroke-width="0.3" opacity="0.8"/></g><g transform="rotate(-7 717.8 28.2)"><ellipse cx="717.8" cy="25.2" rx="0.99" ry="4.0" fill="#d2c07e"/><line x1="718.8" y1="23.4" x2="717.6" y2="18.4" stroke="#d2c07e" stroke-width="0.3" opacity="0.8"/><line x1="718.2" y1="23.4" x2="718.9" y2="18.4" stroke="#d2c07e" stroke-width="0.3" opacity="0.8"/><line x1="718.5" y1="23.4" x2="717.9" y2="17.8" stroke="#d2c07e" stroke-width="0.3" opacity="0.8"/></g><g transform="rotate(-1 719.7 25.6)"><ellipse cx="719.7" cy="22.4" rx="0.79" ry="4.2" fill="#dac88a"/><line x1="719.1" y1="20.6" x2="718.6" y2="15.5" stroke="#dac88a" stroke-width="0.3" opacity="0.8"/><line x1="720.7" y1="20.6" x2="721.9" y2="15.9" stroke="#dac88a" stroke-width="0.3" opacity="0.8"/><line x1="719.5" y1="20.6" x2="720.4" y2="16.2" stroke="#dac88a" stroke-width="0.3" opacity="0.8"/></g><g transform="rotate(-8 720.7 27.9)"><ellipse cx="720.7" cy="25.5" rx="0.96" ry="3.4" fill="#cfc07a"/><line x1="721.0" y1="23.8" x2="720.6" y2="18.6" stroke="#cfc07a" stroke-width="0.3" opacity="0.8"/><line x1="721.0" y1="23.8" x2="719.9" y2="20.4" stroke="#cfc07a" stroke-width="0.3" opacity="0.8"/><line x1="721.7" y1="23.8" x2="723.1" y2="18.7" stroke="#cfc07a" stroke-width="0.3" opacity="0.8"/></g><g transform="rotate(-8 721.3 28.7)"><ellipse cx="721.3" cy="25.9" rx="0.87" ry="3.8" fill="#c8b470"/><line x1="721.6" y1="24.1" x2="721.6" y2="19.4" stroke="#c8b470" stroke-width="0.3" opacity="0.8"/><line x1="720.5" y1="24.1" x2="721.8" y2="20.4" stroke="#c8b470" stroke-width="0.3" opacity="0.8"/><line x1="720.6" y1="24.1" x2="719.3" y2="19.8" stroke="#c8b470" stroke-width="0.3" opacity="0.8"/></g><g transform="rotate(1 721.8 27.2)"><ellipse cx="721.8" cy="24.0" rx="0.66" ry="4.2" fill="#c8b470"/><line x1="721.2" y1="22.1" x2="722.0" y2="17.9" stroke="#c8b470" stroke-width="0.3" opacity="0.8"/><line x1="722.7" y1="22.1" x2="721.4" y2="17.8" stroke="#c8b470" stroke-width="0.3" opacity="0.8"/><line x1="722.5" y1="22.1" x2="722.9" y2="17.1" stroke="#c8b470" stroke-width="0.3" opacity="0.8"/></g><g transform="rotate(-4 723.9 26.6)"><ellipse cx="723.9" cy="24.0" rx="1.08" ry="3.6" fill="#cfc07a"/><line x1="724.7" y1="22.3" x2="725.3" y2="17.8" stroke="#cfc07a" stroke-width="0.3" opacity="0.8"/><line x1="724.3" y1="22.3" x2="725.0" y2="17.8" stroke="#cfc07a" stroke-width="0.3" opacity="0.8"/><line x1="723.9" y1="22.3" x2="722.9" y2="17.2" stroke="#cfc07a" stroke-width="0.3" opacity="0.8"/></g><g transform="rotate(-2 725.4 26.6)"><ellipse cx="725.4" cy="24.2" rx="0.88" ry="3.5" fill="#c8b470"/><line x1="725.4" y1="22.5" x2="724.8" y2="18.4" stroke="#c8b470" stroke-width="0.3" opacity="0.8"/><line x1="724.7" y1="22.5" x2="723.4" y2="17.2" stroke="#c8b470" stroke-width="0.3" opacity="0.8"/><line x1="724.9" y1="22.5" x2="725.4" y2="18.6" stroke="#c8b470" stroke-width="0.3" opacity="0.8"/></g><g transform="rotate(-2 725.7 29.6)"><ellipse cx="725.7" cy="27.1" rx="0.75" ry="3.5" fill="#d2c07e"/><line x1="725.8" y1="25.4" x2="725.8" y2="20.6" stroke="#d2c07e" stroke-width="0.3" opacity="0.8"/><line x1="725.1" y1="25.4" x2="726.1" y2="20.1" stroke="#d2c07e" stroke-width="0.3" opacity="0.8"/><line x1="726.1" y1="25.4" x2="727.4" y2="20.2" stroke="#d2c07e" stroke-width="0.3" opacity="0.8"/></g><g transform="rotate(9 726.7 30.1)"><ellipse cx="726.7" cy="26.6" rx="0.70" ry="4.5" fill="#dac88a"/><line x1="726.9" y1="24.7" x2="728.1" y2="20.1" stroke="#dac88a" stroke-width="0.3" opacity="0.8"/><line x1="727.0" y1="24.7" x2="728.1" y2="19.5" stroke="#dac88a" stroke-width="0.3" opacity="0.8"/><line x1="725.7" y1="24.7" x2="726.1" y2="20.2" stroke="#dac88a" stroke-width="0.3" opacity="0.8"/></g><g transform="rotate(4 728.6 26.5)"><ellipse cx="728.6" cy="23.2" rx="0.93" ry="4.2" fill="#cfc07a"/><line x1="728.3" y1="21.4" x2="729.3" y2="15.7" stroke="#cfc07a" stroke-width="0.3" opacity="0.8"/><line x1="729.4" y1="21.4" x2="730.5" y2="16.2" stroke="#cfc07a" stroke-width="0.3" opacity="0.8"/><line x1="729.0" y1="21.4" x2="729.3" y2="16.4" stroke="#cfc07a" stroke-width="0.3" opacity="0.8"/></g><g transform="rotate(2 729.2 27.7)"><ellipse cx="729.2" cy="24.9" rx="0.87" ry="3.9" fill="#d2c07e"/><line x1="729.3" y1="23.1" x2="729.6" y2="19.0" stroke="#d2c07e" stroke-width="0.3" opacity="0.8"/><line x1="728.6" y1="23.1" x2="727.3" y2="18.0" stroke="#d2c07e" stroke-width="0.3" opacity="0.8"/><line x1="730.0" y1="23.1" x2="730.6" y2="19.3" stroke="#d2c07e" stroke-width="0.3" opacity="0.8"/></g><g transform="rotate(9 730.0 29.0)"><ellipse cx="730.0" cy="25.5" rx="0.68" ry="4.5" fill="#d2c07e"/><line x1="729.4" y1="23.6" x2="728.8" y2="17.6" stroke="#d2c07e" stroke-width="0.3" opacity="0.8"/><line x1="730.8" y1="23.6" x2="732.2" y2="19.5" stroke="#d2c07e" stroke-width="0.3" opacity="0.8"/><line x1="730.4" y1="23.6" x2="729.5" y2="19.1" stroke="#d2c07e" stroke-width="0.3" opacity="0.8"/></g><g transform="rotate(16 731.4 29.1)"><ellipse cx="731.4" cy="26.2" rx="0.93" ry="3.8" fill="#cfc07a"/><line x1="731.3" y1="24.4" x2="730.3" y2="19.9" stroke="#cfc07a" stroke-width="0.3" opacity="0.8"/><line x1="730.6" y1="24.4" x2="730.6" y2="19.9" stroke="#cfc07a" stroke-width="0.3" opacity="0.8"/><line x1="731.6" y1="24.4" x2="730.9" y2="20.5" stroke="#cfc07a" stroke-width="0.3" opacity="0.8"/></g><g transform="rotate(9 732.4 28.5)"><ellipse cx="732.4" cy="25.7" rx="1.05" ry="3.8" fill="#cfc07a"/><line x1="733.2" y1="23.9" x2="732.5" y2="18.8" stroke="#cfc07a" stroke-width="0.3" opacity="0.8"/><line x1="732.2" y1="23.9" x2="732.6" y2="18.7" stroke="#cfc07a" stroke-width="0.3" opacity="0.8"/><line x1="732.0" y1="23.9" x2="732.4" y2="19.8" stroke="#cfc07a" stroke-width="0.3" opacity="0.8"/></g>
<polygon points="712.0,80.2 735.5,80.2 732.5,101.6 715.0,101.6" fill="url(#pot)"/><rect x="711.0" y="77.2" width="25.5" height="4.4" rx="1.6" fill="#dedee8"/><ellipse cx="723.7" cy="78.3" rx="11.6" ry="1.2" fill="#6a5a3a"/><rect x="716.5" y="101.0" width="2" height="1.2" fill="#222"/><rect x="729.0" y="101.0" width="2" height="1.2" fill="#222"/>
<path d="M756.5,56.1 Q747.3,50.4 743.3,73.2" fill="none" stroke="#4e6630" stroke-width="0.92" stroke-linecap="round"/><path d="M765.4,61.5 Q770.0,59.7 771.9,71.6" fill="none" stroke="#5e763a" stroke-width="0.69" stroke-linecap="round"/><path d="M758.6,37.8 Q749.7,34.7 746.0,44.2" fill="none" stroke="#6e7a48" stroke-width="0.58" stroke-linecap="round"/><path d="M765.0,62.3 Q773.1,60.6 776.5,65.3" fill="none" stroke="#4e6630" stroke-width="0.60" stroke-linecap="round"/><path d="M755.5,41.8 Q745.8,39.3 741.6,63.1" fill="none" stroke="#5e763a" stroke-width="0.59" stroke-linecap="round"/><path d="M765.2,68.3 Q775.5,65.4 779.9,71.7" fill="none" stroke="#6e7a48" stroke-width="0.58" stroke-linecap="round"/><path d="M759.3,39.3 Q753.2,35.3 750.6,42.4" fill="none" stroke="#425828" stroke-width="0.53" stroke-linecap="round"/><path d="M765.7,46.7 Q774.3,44.8 778.0,58.7" fill="none" stroke="#5e763a" stroke-width="0.53" stroke-linecap="round"/><path d="M759.5,68.5 Q750.6,63.3 746.8,71.9" fill="none" stroke="#6e7a48" stroke-width="0.68" stroke-linecap="round"/><path d="M764.4,54.6 Q768.9,52.7 770.9,75.7" fill="none" stroke="#5e763a" stroke-width="0.56" stroke-linecap="round"/><path d="M756.2,42.9 Q749.0,39.3 746.0,62.8" fill="none" stroke="#425828" stroke-width="0.89" stroke-linecap="round"/><path d="M767.5,38.0 Q776.8,32.7 780.7,41.7" fill="none" stroke="#4e6630" stroke-width="0.60" stroke-linecap="round"/><path d="M758.1,52.3 Q752.9,49.9 750.7,68.6" fill="none" stroke="#4e6630" stroke-width="0.66" stroke-linecap="round"/><path d="M765.1,45.4 Q769.8,43.6 771.8,61.4" fill="none" stroke="#6e7a48" stroke-width="0.58" stroke-linecap="round"/><path d="M755.5,35.9 Q747.9,32.9 744.7,43.4" fill="none" stroke="#425828" stroke-width="0.91" stroke-linecap="round"/><path d="M766.2,50.2 Q770.7,44.7 772.7,53.9" fill="none" stroke="#6e7a48" stroke-width="0.67" stroke-linecap="round"/><path d="M755.5,41.5 Q747.7,39.8 744.4,61.5" fill="none" stroke="#6e7a48" stroke-width="0.55" stroke-linecap="round"/><path d="M765.0,49.5 Q774.5,47.0 778.6,61.1" fill="none" stroke="#5e763a" stroke-width="0.99" stroke-linecap="round"/><path d="M757.5,50.2 Q748.8,46.8 745.0,58.7" fill="none" stroke="#6e7a48" stroke-width="0.95" stroke-linecap="round"/><path d="M767.9,38.2 Q775.4,36.3 778.6,59.0" fill="none" stroke="#425828" stroke-width="0.59" stroke-linecap="round"/><path d="M757.4,51.5 Q749.8,48.0 746.5,55.7" fill="none" stroke="#425828" stroke-width="0.85" stroke-linecap="round"/><path d="M767.6,57.6 Q774.1,53.1 776.9,65.9" fill="none" stroke="#6e7a48" stroke-width="0.63" stroke-linecap="round"/><path d="M756.5,79.0 Q755.2,54.6 753.3,30.3" fill="none" stroke="#587232" stroke-width="0.90"/><path d="M756.3,79.0 Q754.8,52.7 754.2,26.4" fill="none" stroke="#8a9450" stroke-width="0.72"/><path d="M757.5,79.0 Q756.8,52.8 755.5,26.5" fill="none" stroke="#587232" stroke-width="0.99"/><path d="M758.6,79.0 Q757.3,53.8 756.1,28.6" fill="none" stroke="#8a9450" stroke-width="0.77"/><path d="M758.8,79.0 Q758.6,54.0 756.9,28.9" fill="none" stroke="#728a42" stroke-width="1.11"/><path d="M759.7,79.0 Q759.2,53.1 758.9,27.2" fill="none" stroke="#8a9450" stroke-width="0.92"/><path d="M760.9,79.0 Q760.6,53.5 759.8,27.9" fill="none" stroke="#587232" stroke-width="1.01"/><path d="M761.4,79.0 Q761.5,51.0 761.2,23.0" fill="none" stroke="#728a42" stroke-width="0.92"/><path d="M761.7,79.0 Q761.1,51.2 762.4,23.4" fill="none" stroke="#8a9450" stroke-width="0.83"/><path d="M762.5,79.0 Q763.4,51.3 762.4,23.5" fill="none" stroke="#587232" stroke-width="0.84"/><path d="M763.5,79.0 Q764.1,52.0 764.1,25.0" fill="none" stroke="#8a9450" stroke-width="0.90"/><path d="M764.0,79.0 Q765.9,51.3 766.0,23.6" fill="none" stroke="#7e9048" stroke-width="1.06"/><path d="M765.4,79.0 Q766.2,52.9 766.8,26.7" fill="none" stroke="#65803a" stroke-width="0.73"/><path d="M765.5,79.0 Q767.5,54.1 767.6,29.1" fill="none" stroke="#587232" stroke-width="1.04"/><path d="M766.4,79.0 Q767.8,53.5 769.3,28.0" fill="none" stroke="#587232" stroke-width="0.64"/><path d="M767.1,79.0 Q768.7,52.6 769.8,26.1" fill="none" stroke="#728a42" stroke-width="0.76"/><path d="M768.4,79.0 Q770.1,52.5 770.2,26.0" fill="none" stroke="#5f7a36" stroke-width="0.87"/><g transform="rotate(-11 753.3 30.3)"><ellipse cx="753.3" cy="26.8" rx="0.84" ry="4.5" fill="#cfc07a"/><line x1="752.8" y1="24.9" x2="752.2" y2="18.8" stroke="#cfc07a" stroke-width="0.3" opacity="0.8"/><line x1="753.1" y1="24.9" x2="754.5" y2="18.9" stroke="#cfc07a" stroke-width="0.3" opacity="0.8"/><line x1="753.5" y1="24.9" x2="752.8" y2="18.8" stroke="#cfc07a" stroke-width="0.3" opacity="0.8"/></g><g transform="rotate(-13 754.2 26.4)"><ellipse cx="754.2" cy="23.4" rx="0.87" ry="3.9" fill="#c8b470"/><line x1="753.8" y1="21.7" x2="753.7" y2="17.8" stroke="#c8b470" stroke-width="0.3" opacity="0.8"/><line x1="754.4" y1="21.7" x2="754.3" y2="17.4" stroke="#c8b470" stroke-width="0.3" opacity="0.8"/><line x1="754.8" y1="21.7" x2="755.7" y2="18.0" stroke="#c8b470" stroke-width="0.3" opacity="0.8"/></g><g transform="rotate(-4 755.5 26.5)"><ellipse cx="755.5" cy="23.8" rx="0.76" ry="3.7" fill="#d2c07e"/><line x1="755.1" y1="22.0" x2="754.0" y2="16.6" stroke="#d2c07e" stroke-width="0.3" opacity="0.8"/><line x1="755.1" y1="22.0" x2="755.4" y2="17.6" stroke="#d2c07e" stroke-width="0.3" opacity="0.8"/><line x1="755.8" y1="22.0" x2="756.1" y2="17.0" stroke="#d2c07e" stroke-width="0.3" opacity="0.8"/></g><g transform="rotate(-6 756.9 28.9)"><ellipse cx="756.9" cy="26.1" rx="0.93" ry="3.8" fill="#c8b470"/><line x1="757.4" y1="24.4" x2="756.0" y2="20.1" stroke="#c8b470" stroke-width="0.3" opacity="0.8"/><line x1="757.3" y1="24.4" x2="758.2" y2="20.6" stroke="#c8b470" stroke-width="0.3" opacity="0.8"/><line x1="755.9" y1="24.4" x2="756.1" y2="19.5" stroke="#c8b470" stroke-width="0.3" opacity="0.8"/></g><g transform="rotate(-4 759.8 27.9)"><ellipse cx="759.8" cy="25.3" rx="0.92" ry="3.6" fill="#cfc07a"/><line x1="760.2" y1="23.6" x2="761.5" y2="18.8" stroke="#cfc07a" stroke-width="0.3" opacity="0.8"/><line x1="760.5" y1="23.6" x2="761.5" y2="19.2" stroke="#cfc07a" stroke-width="0.3" opacity="0.8"/><line x1="760.1" y1="23.6" x2="760.8" y2="18.3" stroke="#cfc07a" stroke-width="0.3" opacity="0.8"/></g><g transform="rotate(-4 761.2 23.0)"><ellipse cx="761.2" cy="19.6" rx="0.96" ry="4.4" fill="#d2c07e"/><line x1="761.1" y1="17.8" x2="760.5" y2="12.2" stroke="#d2c07e" stroke-width="0.3" opacity="0.8"/><line x1="762.0" y1="17.8" x2="761.0" y2="12.8" stroke="#d2c07e" stroke-width="0.3" opacity="0.8"/><line x1="761.3" y1="17.8" x2="761.3" y2="13.1" stroke="#d2c07e" stroke-width="0.3" opacity="0.8"/></g><g transform="rotate(4 762.4 23.4)"><ellipse cx="762.4" cy="20.3" rx="0.98" ry="4.1" fill="#d2c07e"/><line x1="761.9" y1="18.4" x2="760.7" y2="14.5" stroke="#d2c07e" stroke-width="0.3" opacity="0.8"/><line x1="763.3" y1="18.4" x2="762.8" y2="13.8" stroke="#d2c07e" stroke-width="0.3" opacity="0.8"/><line x1="761.6" y1="18.4" x2="761.3" y2="13.6" stroke="#d2c07e" stroke-width="0.3" opacity="0.8"/></g><g transform="rotate(3 762.4 23.5)"><ellipse cx="762.4" cy="21.0" rx="0.97" ry="3.6" fill="#d2c07e"/><line x1="761.7" y1="19.3" x2="761.1" y2="14.1" stroke="#d2c07e" stroke-width="0.3" opacity="0.8"/><line x1="761.7" y1="19.3" x2="762.0" y2="15.1" stroke="#d2c07e" stroke-width="0.3" opacity="0.8"/><line x1="761.7" y1="19.3" x2="762.1" y2="15.8" stroke="#d2c07e" stroke-width="0.3" opacity="0.8"/></g><g transform="rotate(-1 766.0 23.6)"><ellipse cx="766.0" cy="21.1" rx="0.98" ry="3.5" fill="#d2c07e"/><line x1="766.8" y1="19.4" x2="765.7" y2="15.3" stroke="#d2c07e" stroke-width="0.3" opacity="0.8"/><line x1="765.6" y1="19.4" x2="765.9" y2="15.2" stroke="#d2c07e" stroke-width="0.3" opacity="0.8"/><line x1="766.9" y1="19.4" x2="766.5" y2="16.0" stroke="#d2c07e" stroke-width="0.3" opacity="0.8"/></g><g transform="rotate(8 766.8 26.7)"><ellipse cx="766.8" cy="24.1" rx="1.06" ry="3.6" fill="#c8b470"/><line x1="766.9" y1="22.4" x2="767.3" y2="18.5" stroke="#c8b470" stroke-width="0.3" opacity="0.8"/><line x1="766.9" y1="22.4" x2="766.2" y2="17.5" stroke="#c8b470" stroke-width="0.3" opacity="0.8"/><line x1="766.8" y1="22.4" x2="765.7" y2="18.6" stroke="#c8b470" stroke-width="0.3" opacity="0.8"/></g><g transform="rotate(4 767.6 29.1)"><ellipse cx="767.6" cy="25.8" rx="0.94" ry="4.3" fill="#d2c07e"/><line x1="766.8" y1="23.9" x2="767.3" y2="19.8" stroke="#d2c07e" stroke-width="0.3" opacity="0.8"/><line x1="766.9" y1="23.9" x2="767.2" y2="19.5" stroke="#d2c07e" stroke-width="0.3" opacity="0.8"/><line x1="768.4" y1="23.9" x2="768.3" y2="19.3" stroke="#d2c07e" stroke-width="0.3" opacity="0.8"/></g><g transform="rotate(12 769.3 28.0)"><ellipse cx="769.3" cy="25.5" rx="1.03" ry="3.4" fill="#d2c07e"/><line x1="770.1" y1="23.8" x2="769.9" y2="19.0" stroke="#d2c07e" stroke-width="0.3" opacity="0.8"/><line x1="769.7" y1="23.8" x2="768.5" y2="18.8" stroke="#d2c07e" stroke-width="0.3" opacity="0.8"/><line x1="769.2" y1="23.8" x2="768.4" y2="19.2" stroke="#d2c07e" stroke-width="0.3" opacity="0.8"/></g><g transform="rotate(8 769.8 26.1)"><ellipse cx="769.8" cy="22.7" rx="1.01" ry="4.5" fill="#c8b470"/><line x1="769.6" y1="20.8" x2="770.3" y2="16.0" stroke="#c8b470" stroke-width="0.3" opacity="0.8"/><line x1="769.4" y1="20.8" x2="769.8" y2="14.8" stroke="#c8b470" stroke-width="0.3" opacity="0.8"/><line x1="769.6" y1="20.8" x2="768.2" y2="14.7" stroke="#c8b470" stroke-width="0.3" opacity="0.8"/></g><g transform="rotate(7 770.2 26.0)"><ellipse cx="770.2" cy="23.4" rx="0.66" ry="3.6" fill="#d2c07e"/><line x1="769.6" y1="21.7" x2="768.2" y2="16.5" stroke="#d2c07e" stroke-width="0.3" opacity="0.8"/><line x1="770.2" y1="21.7" x2="770.9" y2="18.3" stroke="#d2c07e" stroke-width="0.3" opacity="0.8"/><line x1="770.1" y1="21.7" x2="771.3" y2="17.0" stroke="#d2c07e" stroke-width="0.3" opacity="0.8"/></g>
<polygon points="750.5,80.2 774.0,80.2 771.0,101.6 753.5,101.6" fill="url(#pot)"/><rect x="749.5" y="77.2" width="25.5" height="4.4" rx="1.6" fill="#dedee8"/><ellipse cx="762.2" cy="78.3" rx="11.6" ry="1.2" fill="#6a5a3a"/><rect x="755.0" y="101.0" width="2" height="1.2" fill="#222"/><rect x="767.5" y="101.0" width="2" height="1.2" fill="#222"/>
</g>
<rect x="781.80" y="91.60" width="1.50" height="8.60" fill="#f4f4f4" />
<text x="788.00" y="95.80" font-size="5.2" text-anchor="middle" fill="#222" stroke="#222" stroke-width="0.1" transform="rotate(90 788.00 95.80)">10 cm</text>
<text x="600.40" y="110.60" font-size="6.1" text-anchor="middle" fill="#222" stroke="#222" stroke-width="0.1">AABBDD</text>
<text x="640.00" y="110.60" font-size="6.1" text-anchor="middle" fill="#222" stroke="#222" stroke-width="0.1">AABBdd</text>
<text x="683.40" y="110.60" font-size="6.1" text-anchor="middle" fill="#222" stroke="#222" stroke-width="0.1">aabbDD</text>
<text x="723.00" y="110.60" font-size="6.1" text-anchor="middle" fill="#222" stroke="#222" stroke-width="0.1">aaBBdd</text>
<text x="762.40" y="110.60" font-size="6.1" text-anchor="middle" fill="#222" stroke="#222" stroke-width="0.1">aabbdd</text>
<text x="559.60" y="122.80" font-size="8.5" fill="#111" stroke="#111" stroke-width="0.1" font-weight="bold">B</text>
<rect x="572.60" y="114.80" width="213.80" height="37.90" fill="#060606" />
<g filter="url(#pb)"><path d="M581.7,114.2 C578.1,125.8 578.3,141.4 578.7,153.0 L586.6,153.0 C588.0,141.4 588.6,125.8 585.6,114.2Z" fill="url(#lfY)"/><ellipse cx="583.1" cy="140" rx="2.6" ry="13" fill="#88a848" opacity="0.55"/><path d="M591.2,114.2 C587.8,125.8 588.1,141.4 588.7,153.0 L596.2,153.0 C597.4,141.4 598.0,125.8 594.9,114.2Z" fill="url(#lfY)"/><ellipse cx="592.8" cy="140" rx="2.5" ry="13" fill="#88a848" opacity="0.55"/><path d="M601.2,114.2 C598.0,125.8 598.3,141.4 599.0,153.0 L606.1,153.0 C607.2,141.4 607.7,125.8 604.7,114.2Z" fill="url(#lfY)"/><ellipse cx="602.8" cy="140" rx="2.4" ry="13" fill="#88a848" opacity="0.55"/><path d="M621.0,114.2 C619.4,125.8 619.8,141.4 620.6,153.0 L627.3,153.0 C628.1,141.4 628.5,125.8 626.9,114.2Z" fill="url(#lfG)"/><ellipse cx="622.4" cy="131" rx="1.7" ry="9" fill="#a8d0a8" opacity="0.28"/><path d="M632.3,114.2 C630.5,125.8 630.8,141.4 631.4,153.0 L638.3,153.0 C639.5,141.4 640.0,125.8 638.6,114.2Z" fill="url(#lfG)"/><ellipse cx="633.5" cy="131" rx="1.8" ry="9" fill="#a8d0a8" opacity="0.28"/><path d="M642.9,114.2 C641.1,125.8 641.3,141.4 641.7,153.0 L648.3,153.0 C649.5,141.4 650.1,125.8 648.7,114.2Z" fill="url(#lfG)"/><ellipse cx="643.8" cy="131" rx="1.7" ry="9" fill="#a8d0a8" opacity="0.28"/><path d="M665.4,114.2 C663.5,125.8 663.8,141.4 664.4,153.0 L672.0,153.0 C673.2,141.4 673.8,125.8 672.2,114.2Z" fill="url(#lfG2)"/><ellipse cx="666.7" cy="134" rx="2.0" ry="9" fill="#a8d0a8" opacity="0.28"/><path d="M677.7,114.2 C675.5,125.8 675.5,141.4 675.6,153.0 L683.5,153.0 C685.2,141.4 686.0,125.8 684.6,114.2Z" fill="url(#lfG2)"/><ellipse cx="678.5" cy="134" rx="2.0" ry="9" fill="#a8d0a8" opacity="0.28"/><path d="M688.5,114.2 C686.1,125.8 686.1,141.4 686.2,153.0 L695.2,153.0 C697.1,141.4 698.0,125.8 696.5,114.2Z" fill="url(#lfG2)"/><ellipse cx="689.5" cy="134" rx="2.3" ry="9" fill="#a8d0a8" opacity="0.28"/><path d="M707.3,114.2 C705.8,125.8 706.4,141.4 707.9,153.0 L716.1,153.0 C716.6,141.4 716.8,125.8 714.7,114.2Z" fill="url(#lfG)"/><ellipse cx="709.5" cy="137" rx="2.2" ry="9" fill="#a8d0a8" opacity="0.28"/><path d="M719.9,114.2 C718.3,125.8 718.7,141.4 719.6,153.0 L726.6,153.0 C727.5,141.4 727.9,125.8 726.2,114.2Z" fill="url(#lfG)"/><ellipse cx="721.4" cy="137" rx="1.8" ry="9" fill="#a8d0a8" opacity="0.28"/><path d="M730.9,114.2 C729.0,125.8 729.2,141.4 729.7,153.0 L737.3,153.0 C738.6,141.4 739.2,125.8 737.7,114.2Z" fill="url(#lfG)"/><ellipse cx="732.1" cy="137" rx="2.0" ry="9" fill="#a8d0a8" opacity="0.28"/><path d="M749.4,114.2 C747.9,125.8 748.3,141.4 749.2,153.0 L756.4,153.0 C757.3,141.4 757.7,125.8 756.2,114.2Z" fill="url(#lfG3)"/><ellipse cx="751.1" cy="140" rx="1.9" ry="9" fill="#a8d0a8" opacity="0.28"/><path d="M760.4,114.2 C758.8,125.8 759.1,141.4 759.8,153.0 L766.8,153.0 C767.9,141.4 768.4,125.8 767.0,114.2Z" fill="url(#lfG3)"/><ellipse cx="761.8" cy="140" rx="1.8" ry="9" fill="#a8d0a8" opacity="0.28"/><path d="M771.3,114.2 C769.7,125.8 770.0,141.4 770.7,153.0 L777.9,153.0 C779.0,141.4 779.5,125.8 778.1,114.2Z" fill="url(#lfG3)"/><ellipse cx="772.8" cy="140" rx="1.9" ry="9" fill="#a8d0a8" opacity="0.28"/></g>
<rect x="572.60" y="112.00" width="213.80" height="2.80" fill="#fff" />
<rect x="572.60" y="152.70" width="213.80" height="2.00" fill="#fff" />
<rect x="782.00" y="139.20" width="1.60" height="13.00" fill="#f4f4f4" />
<text x="788.00" y="146.60" font-size="5.2" text-anchor="middle" fill="#222" stroke="#222" stroke-width="0.1" transform="rotate(90 788.00 146.60)">5 cm</text>
<text x="594.80" y="160.10" font-size="6.1" text-anchor="middle" fill="#222" stroke="#222" stroke-width="0.1">AABBDD</text>
<text x="634.40" y="160.10" font-size="6.1" text-anchor="middle" fill="#222" stroke="#222" stroke-width="0.1">AABBdd</text>
<text x="679.50" y="160.10" font-size="6.1" text-anchor="middle" fill="#222" stroke="#222" stroke-width="0.1">aabbDD</text>
<text x="725.50" y="160.10" font-size="6.1" text-anchor="middle" fill="#222" stroke="#222" stroke-width="0.1">aaBBdd</text>
<text x="763.50" y="160.10" font-size="6.1" text-anchor="middle" fill="#222" stroke="#222" stroke-width="0.1">aabbdd</text>
<text x="559.40" y="171.40" font-size="8.5" fill="#111" stroke="#111" stroke-width="0.1" font-weight="bold">C</text>
<svg x="572" y="164.4" width="39.6" height="41.1" viewBox="572 164.4 39.6 41.1"><rect x="569" y="161.4" width="45.6" height="47.1" fill="url(#fld0)" filter="url(#field2)"/><g filter="url(#b2)" opacity="0.85"><ellipse cx="579.9" cy="187.0" rx="5.1" ry="8.2" fill="#2f3a22" transform="rotate(-1 579.9 187.0)"/><ellipse cx="589.8" cy="170.2" rx="3.2" ry="4.9" fill="#3a4428" transform="rotate(30 589.8 170.2)"/><ellipse cx="592.6" cy="185.0" rx="2.4" ry="10.3" fill="#2f3a22" transform="rotate(15 592.6 185.0)"/><ellipse cx="577.9" cy="202.2" rx="6.3" ry="4.1" fill="#3a4428" transform="rotate(16 577.9 202.2)"/><ellipse cx="605.7" cy="168.5" rx="4.0" ry="3.3" fill="#3a4428" transform="rotate(-3 605.7 168.5)"/><ellipse cx="610.0" cy="193.2" rx="2.0" ry="6.2" fill="#44502e" transform="rotate(21 610.0 193.2)"/><ellipse cx="596.6" cy="202.2" rx="4.0" ry="3.3" fill="#2f3a22" transform="rotate(4 596.6 202.2)"/><ellipse cx="574.0" cy="172.6" rx="2.0" ry="4.1" fill="#2f3a22" transform="rotate(-25 574.0 172.6)"/></g><g filter="url(#pb)" opacity="0.75"><line x1="601.2" y1="175.2" x2="600.2" y2="172.3" stroke="#e8d8b0" stroke-width="1.14" stroke-linecap="round"/><line x1="580.1" y1="171.7" x2="580.1" y2="166.8" stroke="#3a4428" stroke-width="0.88" stroke-linecap="round"/><line x1="590.3" y1="175.7" x2="590.7" y2="173.3" stroke="#d4bc8c" stroke-width="0.60" stroke-linecap="round"/><line x1="587.7" y1="196.2" x2="586.3" y2="192.1" stroke="#2f3a22" stroke-width="1.28" stroke-linecap="round"/><line x1="603.7" y1="202.3" x2="605.4" y2="198.6" stroke="#44502e" stroke-width="1.10" stroke-linecap="round"/><line x1="602.7" y1="185.2" x2="603.5" y2="181.4" stroke="#44502e" stroke-width="1.26" stroke-linecap="round"/><line x1="611.5" y1="180.9" x2="612.5" y2="178.2" stroke="#2f3a22" stroke-width="1.19" stroke-linecap="round"/><line x1="608.0" y1="193.8" x2="610.2" y2="191.9" stroke="#e8d8b0" stroke-width="0.64" stroke-linecap="round"/><line x1="595.2" y1="177.8" x2="593.7" y2="176.3" stroke="#3a4428" stroke-width="1.02" stroke-linecap="round"/><line x1="580.7" y1="177.1" x2="582.2" y2="174.3" stroke="#e8d8b0" stroke-width="0.92" stroke-linecap="round"/><line x1="599.3" y1="183.9" x2="597.4" y2="181.1" stroke="#e0cea4" stroke-width="1.26" stroke-linecap="round"/><line x1="587.9" y1="193.7" x2="588.7" y2="191.8" stroke="#e8d8b0" stroke-width="0.91" stroke-linecap="round"/><line x1="574.0" y1="183.9" x2="572.6" y2="182.2" stroke="#e0cea4" stroke-width="0.75" stroke-linecap="round"/><line x1="575.6" y1="174.7" x2="575.9" y2="171.1" stroke="#e8d8b0" stroke-width="0.84" stroke-linecap="round"/><line x1="590.0" y1="172.4" x2="591.6" y2="167.7" stroke="#d4bc8c" stroke-width="0.65" stroke-linecap="round"/><line x1="611.6" y1="175.5" x2="609.5" y2="173.6" stroke="#d4bc8c" stroke-width="0.63" stroke-linecap="round"/><line x1="609.8" y1="164.5" x2="613.2" y2="162.6" stroke="#e0cea4" stroke-width="0.76" stroke-linecap="round"/><line x1="572.4" y1="167.7" x2="570.5" y2="166.4" stroke="#e8d8b0" stroke-width="1.01" stroke-linecap="round"/><line x1="584.8" y1="201.0" x2="581.5" y2="198.1" stroke="#2f3a22" stroke-width="1.20" stroke-linecap="round"/><line x1="605.5" y1="187.2" x2="606.6" y2="182.9" stroke="#44502e" stroke-width="0.96" stroke-linecap="round"/><line x1="578.9" y1="180.1" x2="579.8" y2="176.2" stroke="#e0cea4" stroke-width="1.25" stroke-linecap="round"/><line x1="574.9" y1="183.2" x2="575.2" y2="180.8" stroke="#d4bc8c" stroke-width="0.81" stroke-linecap="round"/><line x1="606.2" y1="188.2" x2="605.8" y2="185.0" stroke="#3a4428" stroke-width="1.28" stroke-linecap="round"/><line x1="574.8" y1="201.7" x2="574.2" y2="199.5" stroke="#44502e" stroke-width="1.04" stroke-linecap="round"/><line x1="575.8" y1="187.7" x2="576.1" y2="185.2" stroke="#e0cea4" stroke-width="1.26" stroke-linecap="round"/><line x1="586.2" y1="187.6" x2="587.8" y2="183.0" stroke="#e8d8b0" stroke-width="0.68" stroke-linecap="round"/><line x1="608.2" y1="196.6" x2="609.7" y2="191.6" stroke="#d4bc8c" stroke-width="0.76" stroke-linecap="round"/><line x1="608.2" y1="173.6" x2="608.6" y2="171.5" stroke="#2f3a22" stroke-width="0.93" stroke-linecap="round"/><line x1="592.2" y1="172.8" x2="592.7" y2="170.7" stroke="#44502e" stroke-width="0.97" stroke-linecap="round"/><line x1="610.1" y1="195.9" x2="611.7" y2="192.7" stroke="#e0cea4" stroke-width="1.09" stroke-linecap="round"/><line x1="576.5" y1="179.5" x2="576.1" y2="174.4" stroke="#44502e" stroke-width="1.09" stroke-linecap="round"/><line x1="609.0" y1="172.3" x2="609.5" y2="169.8" stroke="#3a4428" stroke-width="0.73" stroke-linecap="round"/><line x1="588.8" y1="168.0" x2="589.5" y2="164.5" stroke="#d4bc8c" stroke-width="1.13" stroke-linecap="round"/><line x1="572.6" y1="201.8" x2="573.6" y2="196.9" stroke="#44502e" stroke-width="0.91" stroke-linecap="round"/><line x1="585.9" y1="167.8" x2="585.9" y2="165.1" stroke="#3a4428" stroke-width="0.78" stroke-linecap="round"/><line x1="609.7" y1="180.9" x2="608.8" y2="178.1" stroke="#d4bc8c" stroke-width="1.20" stroke-linecap="round"/><line x1="579.0" y1="191.6" x2="580.1" y2="188.1" stroke="#3a4428" stroke-width="0.75" stroke-linecap="round"/><line x1="598.2" y1="174.2" x2="595.2" y2="172.0" stroke="#d4bc8c" stroke-width="1.29" stroke-linecap="round"/><line x1="603.3" y1="179.0" x2="603.0" y2="174.9" stroke="#d4bc8c" stroke-width="1.19" stroke-linecap="round"/><line x1="593.1" y1="179.4" x2="591.7" y2="174.9" stroke="#2f3a22" stroke-width="1.03" stroke-linecap="round"/><line x1="581.8" y1="184.9" x2="581.5" y2="182.9" stroke="#2f3a22" stroke-width="1.16" stroke-linecap="round"/><line x1="583.1" y1="184.2" x2="582.2" y2="181.4" stroke="#d4bc8c" stroke-width="0.84" stroke-linecap="round"/><line x1="585.6" y1="193.7" x2="587.3" y2="190.8" stroke="#3a4428" stroke-width="1.29" stroke-linecap="round"/><line x1="588.0" y1="166.0" x2="589.2" y2="161.8" stroke="#e0cea4" stroke-width="0.67" stroke-linecap="round"/><line x1="603.5" y1="190.2" x2="604.6" y2="186.2" stroke="#d4bc8c" stroke-width="1.08" stroke-linecap="round"/><line x1="606.9" y1="184.8" x2="605.9" y2="181.2" stroke="#d4bc8c" stroke-width="1.06" stroke-linecap="round"/><line x1="597.0" y1="186.2" x2="597.0" y2="184.0" stroke="#44502e" stroke-width="0.83" stroke-linecap="round"/><line x1="588.1" y1="197.6" x2="590.4" y2="193.8" stroke="#2f3a22" stroke-width="0.91" stroke-linecap="round"/><line x1="610.2" y1="164.5" x2="611.4" y2="159.8" stroke="#d4bc8c" stroke-width="1.16" stroke-linecap="round"/><line x1="591.4" y1="193.8" x2="590.7" y2="189.6" stroke="#e0cea4" stroke-width="0.87" stroke-linecap="round"/><line x1="573.0" y1="180.9" x2="575.3" y2="177.6" stroke="#44502e" stroke-width="0.77" stroke-linecap="round"/><line x1="609.6" y1="201.5" x2="609.1" y2="198.5" stroke="#d4bc8c" stroke-width="1.20" stroke-linecap="round"/><line x1="587.2" y1="188.0" x2="587.8" y2="183.4" stroke="#d4bc8c" stroke-width="0.62" stroke-linecap="round"/><line x1="601.6" y1="165.2" x2="600.9" y2="162.5" stroke="#d4bc8c" stroke-width="0.87" stroke-linecap="round"/><line x1="584.3" y1="194.9" x2="586.0" y2="192.1" stroke="#d4bc8c" stroke-width="1.27" stroke-linecap="round"/><line x1="585.9" y1="175.8" x2="586.8" y2="173.9" stroke="#d4bc8c" stroke-width="0.86" stroke-linecap="round"/><line x1="605.1" y1="191.5" x2="606.8" y2="188.1" stroke="#3a4428" stroke-width="1.13" stroke-linecap="round"/><line x1="586.2" y1="164.9" x2="589.4" y2="161.9" stroke="#e8d8b0" stroke-width="0.79" stroke-linecap="round"/><line x1="573.6" y1="168.2" x2="576.1" y2="164.1" stroke="#e8d8b0" stroke-width="1.23" stroke-linecap="round"/><line x1="608.2" y1="198.1" x2="608.8" y2="195.5" stroke="#d4bc8c" stroke-width="1.06" stroke-linecap="round"/><line x1="585.1" y1="174.5" x2="583.4" y2="170.6" stroke="#44502e" stroke-width="1.25" stroke-linecap="round"/><line x1="582.5" y1="170.8" x2="583.4" y2="168.2" stroke="#3a4428" stroke-width="0.84" stroke-linecap="round"/><line x1="587.7" y1="183.6" x2="588.4" y2="179.5" stroke="#44502e" stroke-width="0.76" stroke-linecap="round"/><line x1="611.6" y1="176.1" x2="612.5" y2="173.2" stroke="#d4bc8c" stroke-width="1.30" stroke-linecap="round"/><line x1="573.2" y1="180.1" x2="572.9" y2="176.7" stroke="#3a4428" stroke-width="1.11" stroke-linecap="round"/><line x1="600.1" y1="205.3" x2="599.9" y2="202.0" stroke="#d4bc8c" stroke-width="0.68" stroke-linecap="round"/><line x1="579.2" y1="194.8" x2="578.9" y2="192.6" stroke="#e0cea4" stroke-width="1.10" stroke-linecap="round"/><line x1="593.8" y1="183.1" x2="592.9" y2="179.5" stroke="#d4bc8c" stroke-width="0.91" stroke-linecap="round"/><line x1="601.9" y1="176.4" x2="602.5" y2="174.0" stroke="#e0cea4" stroke-width="0.62" stroke-linecap="round"/><line x1="590.0" y1="167.8" x2="590.4" y2="163.9" stroke="#e8d8b0" stroke-width="0.67" stroke-linecap="round"/><line x1="602.7" y1="168.4" x2="604.8" y2="166.3" stroke="#d4bc8c" stroke-width="1.03" stroke-linecap="round"/><line x1="572.9" y1="195.3" x2="572.2" y2="190.7" stroke="#2f3a22" stroke-width="1.05" stroke-linecap="round"/><line x1="601.2" y1="190.4" x2="601.3" y2="188.2" stroke="#3a4428" stroke-width="1.29" stroke-linecap="round"/><line x1="600.8" y1="184.0" x2="600.0" y2="180.2" stroke="#d4bc8c" stroke-width="1.13" stroke-linecap="round"/><line x1="572.4" y1="175.9" x2="572.4" y2="170.7" stroke="#e0cea4" stroke-width="1.06" stroke-linecap="round"/><line x1="580.4" y1="173.4" x2="580.0" y2="167.9" stroke="#44502e" stroke-width="1.18" stroke-linecap="round"/><line x1="600.1" y1="188.4" x2="597.1" y2="184.3" stroke="#e8d8b0" stroke-width="1.09" stroke-linecap="round"/><line x1="587.9" y1="201.3" x2="589.2" y2="197.8" stroke="#d4bc8c" stroke-width="1.08" stroke-linecap="round"/><line x1="603.2" y1="193.2" x2="603.5" y2="191.0" stroke="#3a4428" stroke-width="1.21" stroke-linecap="round"/><line x1="593.8" y1="183.5" x2="593.5" y2="179.0" stroke="#e0cea4" stroke-width="1.28" stroke-linecap="round"/><line x1="582.6" y1="201.9" x2="583.3" y2="198.0" stroke="#e8d8b0" stroke-width="1.17" stroke-linecap="round"/><line x1="590.1" y1="192.1" x2="591.2" y2="189.2" stroke="#2f3a22" stroke-width="0.94" stroke-linecap="round"/><line x1="579.5" y1="199.0" x2="578.2" y2="197.0" stroke="#44502e" stroke-width="0.92" stroke-linecap="round"/><line x1="596.8" y1="184.5" x2="597.6" y2="180.9" stroke="#d4bc8c" stroke-width="1.13" stroke-linecap="round"/><line x1="582.1" y1="184.8" x2="583.8" y2="181.3" stroke="#3a4428" stroke-width="1.29" stroke-linecap="round"/><line x1="580.3" y1="192.6" x2="577.6" y2="190.5" stroke="#3a4428" stroke-width="1.19" stroke-linecap="round"/><line x1="596.8" y1="198.1" x2="596.7" y2="195.8" stroke="#3a4428" stroke-width="0.82" stroke-linecap="round"/><line x1="578.9" y1="201.8" x2="579.6" y2="198.3" stroke="#3a4428" stroke-width="1.04" stroke-linecap="round"/><line x1="579.8" y1="167.0" x2="580.9" y2="163.0" stroke="#e0cea4" stroke-width="1.30" stroke-linecap="round"/><line x1="604.2" y1="204.0" x2="605.4" y2="202.4" stroke="#e8d8b0" stroke-width="1.05" stroke-linecap="round"/><line x1="575.7" y1="201.2" x2="574.9" y2="196.8" stroke="#e8d8b0" stroke-width="1.13" stroke-linecap="round"/><line x1="581.3" y1="188.6" x2="579.3" y2="186.0" stroke="#3a4428" stroke-width="1.17" stroke-linecap="round"/><line x1="594.6" y1="175.2" x2="593.3" y2="170.2" stroke="#d4bc8c" stroke-width="1.11" stroke-linecap="round"/><line x1="609.1" y1="181.9" x2="609.8" y2="178.0" stroke="#e0cea4" stroke-width="1.20" stroke-linecap="round"/><line x1="573.5" y1="168.7" x2="573.9" y2="164.1" stroke="#e8d8b0" stroke-width="1.27" stroke-linecap="round"/><line x1="583.2" y1="194.4" x2="582.7" y2="192.4" stroke="#3a4428" stroke-width="0.81" stroke-linecap="round"/><line x1="604.8" y1="167.3" x2="604.6" y2="163.3" stroke="#e0cea4" stroke-width="0.73" stroke-linecap="round"/><line x1="606.9" y1="177.7" x2="606.1" y2="174.1" stroke="#3a4428" stroke-width="1.20" stroke-linecap="round"/><line x1="578.6" y1="183.9" x2="580.5" y2="180.7" stroke="#d4bc8c" stroke-width="1.27" stroke-linecap="round"/><line x1="577.1" y1="166.5" x2="575.2" y2="162.8" stroke="#e8d8b0" stroke-width="0.60" stroke-linecap="round"/><line x1="579.1" y1="185.1" x2="580.7" y2="180.7" stroke="#e8d8b0" stroke-width="0.69" stroke-linecap="round"/><line x1="589.6" y1="192.0" x2="589.3" y2="188.9" stroke="#d4bc8c" stroke-width="1.26" stroke-linecap="round"/><line x1="595.2" y1="175.1" x2="596.2" y2="173.0" stroke="#e8d8b0" stroke-width="1.10" stroke-linecap="round"/><line x1="586.9" y1="194.4" x2="587.9" y2="191.5" stroke="#44502e" stroke-width="0.79" stroke-linecap="round"/><line x1="574.0" y1="204.0" x2="577.7" y2="200.7" stroke="#e8d8b0" stroke-width="1.12" stroke-linecap="round"/><line x1="594.1" y1="173.5" x2="591.9" y2="171.5" stroke="#e8d8b0" stroke-width="0.99" stroke-linecap="round"/><line x1="590.2" y1="185.1" x2="591.0" y2="182.3" stroke="#e0cea4" stroke-width="0.77" stroke-linecap="round"/><line x1="581.9" y1="179.1" x2="583.2" y2="176.8" stroke="#e0cea4" stroke-width="0.92" stroke-linecap="round"/><line x1="595.0" y1="197.0" x2="594.5" y2="194.3" stroke="#2f3a22" stroke-width="0.72" stroke-linecap="round"/><line x1="607.4" y1="171.2" x2="604.6" y2="167.0" stroke="#e0cea4" stroke-width="1.19" stroke-linecap="round"/></g></svg>
<svg x="615.5" y="164.4" width="39.5" height="41.1" viewBox="615.5 164.4 39.5 41.1"><rect x="612.5" y="161.4" width="45.5" height="47.1" fill="url(#fld1)" filter="url(#field)"/><g filter="url(#b2)" opacity="0.85"><ellipse cx="627.4" cy="189.9" rx="7.9" ry="5.8" fill="#2c3a24" transform="rotate(24 627.4 189.9)"/><ellipse cx="639.2" cy="198.1" rx="5.1" ry="5.8" fill="#34422a" transform="rotate(28 639.2 198.1)"/><ellipse cx="620.6" cy="199.7" rx="4.0" ry="4.1" fill="#2c3a24" transform="rotate(29 620.6 199.7)"/><ellipse cx="647.9" cy="187.0" rx="4.7" ry="4.9" fill="#3e4c30" transform="rotate(-1 647.9 187.0)"/><ellipse cx="637.2" cy="180.8" rx="4.0" ry="4.1" fill="#34422a" transform="rotate(12 637.2 180.8)"/><ellipse cx="651.0" cy="201.4" rx="3.2" ry="3.3" fill="#2c3a24" transform="rotate(-17 651.0 201.4)"/></g><g filter="url(#pb)" opacity="0.75"><line x1="639.3" y1="202.1" x2="639.3" y2="199.2" stroke="#34422a" stroke-width="0.71" stroke-linecap="round"/><line x1="633.1" y1="186.5" x2="634.1" y2="183.2" stroke="#3e4c30" stroke-width="0.64" stroke-linecap="round"/><line x1="634.0" y1="173.1" x2="635.0" y2="168.1" stroke="#c0c098" stroke-width="0.88" stroke-linecap="round"/><line x1="630.5" y1="181.8" x2="631.5" y2="179.2" stroke="#2c3a24" stroke-width="0.67" stroke-linecap="round"/><line x1="646.9" y1="179.6" x2="646.5" y2="177.6" stroke="#3e4c30" stroke-width="0.73" stroke-linecap="round"/><line x1="618.1" y1="170.6" x2="621.1" y2="168.0" stroke="#c0c098" stroke-width="0.72" stroke-linecap="round"/><line x1="648.8" y1="185.4" x2="649.3" y2="183.4" stroke="#b4b68c" stroke-width="0.66" stroke-linecap="round"/><line x1="616.8" y1="178.6" x2="613.6" y2="175.4" stroke="#a4a87a" stroke-width="1.14" stroke-linecap="round"/><line x1="647.5" y1="197.0" x2="644.5" y2="192.6" stroke="#34422a" stroke-width="0.98" stroke-linecap="round"/><line x1="654.0" y1="204.2" x2="653.3" y2="202.1" stroke="#34422a" stroke-width="0.98" stroke-linecap="round"/><line x1="642.7" y1="178.8" x2="642.5" y2="175.8" stroke="#3e4c30" stroke-width="0.71" stroke-linecap="round"/><line x1="633.9" y1="181.9" x2="633.3" y2="176.5" stroke="#a4a87a" stroke-width="0.72" stroke-linecap="round"/><line x1="616.1" y1="180.7" x2="616.9" y2="178.0" stroke="#c0c098" stroke-width="0.79" stroke-linecap="round"/><line x1="641.6" y1="187.1" x2="640.9" y2="184.0" stroke="#a4a87a" stroke-width="0.86" stroke-linecap="round"/><line x1="631.4" y1="190.6" x2="630.9" y2="188.3" stroke="#c0c098" stroke-width="0.84" stroke-linecap="round"/><line x1="630.1" y1="182.8" x2="631.3" y2="179.2" stroke="#c0c098" stroke-width="1.04" stroke-linecap="round"/><line x1="623.8" y1="183.2" x2="624.5" y2="180.5" stroke="#a4a87a" stroke-width="0.90" stroke-linecap="round"/><line x1="633.5" y1="176.6" x2="633.2" y2="171.5" stroke="#34422a" stroke-width="0.91" stroke-linecap="round"/><line x1="617.5" y1="187.1" x2="617.3" y2="181.7" stroke="#34422a" stroke-width="1.25" stroke-linecap="round"/><line x1="617.8" y1="181.3" x2="620.9" y2="179.2" stroke="#a4a87a" stroke-width="1.16" stroke-linecap="round"/><line x1="640.6" y1="165.9" x2="641.8" y2="160.6" stroke="#c0c098" stroke-width="1.16" stroke-linecap="round"/><line x1="628.9" y1="194.4" x2="627.4" y2="193.0" stroke="#2c3a24" stroke-width="0.85" stroke-linecap="round"/><line x1="640.9" y1="186.3" x2="640.0" y2="181.8" stroke="#c0c098" stroke-width="1.01" stroke-linecap="round"/><line x1="641.8" y1="201.4" x2="645.7" y2="197.9" stroke="#34422a" stroke-width="1.16" stroke-linecap="round"/><line x1="642.5" y1="200.6" x2="640.8" y2="195.6" stroke="#2c3a24" stroke-width="1.23" stroke-linecap="round"/><line x1="638.3" y1="184.2" x2="637.9" y2="180.2" stroke="#34422a" stroke-width="1.21" stroke-linecap="round"/><line x1="639.7" y1="168.2" x2="636.6" y2="165.0" stroke="#34422a" stroke-width="0.64" stroke-linecap="round"/><line x1="619.3" y1="176.2" x2="619.2" y2="171.5" stroke="#3e4c30" stroke-width="1.21" stroke-linecap="round"/><line x1="643.5" y1="193.5" x2="643.1" y2="188.4" stroke="#c0c098" stroke-width="0.93" stroke-linecap="round"/><line x1="623.4" y1="170.6" x2="622.9" y2="167.7" stroke="#3e4c30" stroke-width="0.62" stroke-linecap="round"/><line x1="651.4" y1="177.9" x2="649.8" y2="173.0" stroke="#3e4c30" stroke-width="0.69" stroke-linecap="round"/><line x1="638.9" y1="191.6" x2="640.4" y2="186.7" stroke="#c0c098" stroke-width="0.92" stroke-linecap="round"/><line x1="652.4" y1="175.2" x2="651.3" y2="171.1" stroke="#a4a87a" stroke-width="0.86" stroke-linecap="round"/><line x1="649.3" y1="166.2" x2="648.8" y2="162.9" stroke="#b4b68c" stroke-width="0.94" stroke-linecap="round"/><line x1="631.0" y1="168.7" x2="632.3" y2="164.4" stroke="#a4a87a" stroke-width="0.79" stroke-linecap="round"/><line x1="653.8" y1="194.3" x2="652.1" y2="192.4" stroke="#a4a87a" stroke-width="1.06" stroke-linecap="round"/><line x1="627.2" y1="173.9" x2="627.7" y2="169.4" stroke="#c0c098" stroke-width="0.61" stroke-linecap="round"/><line x1="643.0" y1="176.2" x2="642.9" y2="172.5" stroke="#c0c098" stroke-width="1.14" stroke-linecap="round"/><line x1="645.9" y1="194.9" x2="643.1" y2="192.3" stroke="#2c3a24" stroke-width="1.22" stroke-linecap="round"/><line x1="633.4" y1="197.9" x2="633.8" y2="195.1" stroke="#b4b68c" stroke-width="1.13" stroke-linecap="round"/><line x1="655.0" y1="186.5" x2="657.8" y2="182.2" stroke="#a4a87a" stroke-width="0.64" stroke-linecap="round"/><line x1="644.8" y1="188.4" x2="643.2" y2="186.5" stroke="#3e4c30" stroke-width="1.11" stroke-linecap="round"/><line x1="636.4" y1="188.3" x2="637.0" y2="186.1" stroke="#b4b68c" stroke-width="0.70" stroke-linecap="round"/><line x1="637.6" y1="198.4" x2="638.7" y2="196.0" stroke="#34422a" stroke-width="0.73" stroke-linecap="round"/><line x1="635.2" y1="184.2" x2="633.0" y2="182.3" stroke="#3e4c30" stroke-width="1.07" stroke-linecap="round"/><line x1="615.8" y1="177.6" x2="617.4" y2="172.4" stroke="#34422a" stroke-width="1.20" stroke-linecap="round"/><line x1="631.7" y1="190.6" x2="632.3" y2="187.5" stroke="#34422a" stroke-width="1.22" stroke-linecap="round"/><line x1="643.0" y1="177.5" x2="643.2" y2="174.0" stroke="#a4a87a" stroke-width="1.15" stroke-linecap="round"/><line x1="641.6" y1="170.4" x2="641.7" y2="165.3" stroke="#a4a87a" stroke-width="1.21" stroke-linecap="round"/><line x1="625.4" y1="182.7" x2="624.1" y2="177.7" stroke="#b4b68c" stroke-width="1.16" stroke-linecap="round"/><line x1="631.2" y1="196.5" x2="631.7" y2="193.1" stroke="#2c3a24" stroke-width="1.25" stroke-linecap="round"/><line x1="639.8" y1="189.7" x2="640.4" y2="185.4" stroke="#b4b68c" stroke-width="0.82" stroke-linecap="round"/><line x1="615.5" y1="201.8" x2="616.8" y2="197.8" stroke="#2c3a24" stroke-width="1.18" stroke-linecap="round"/><line x1="636.4" y1="193.1" x2="636.7" y2="188.5" stroke="#3e4c30" stroke-width="1.04" stroke-linecap="round"/><line x1="624.8" y1="200.5" x2="624.6" y2="195.3" stroke="#3e4c30" stroke-width="1.09" stroke-linecap="round"/><line x1="629.2" y1="166.0" x2="630.2" y2="164.0" stroke="#3e4c30" stroke-width="1.15" stroke-linecap="round"/><line x1="634.0" y1="176.7" x2="634.5" y2="171.6" stroke="#34422a" stroke-width="0.69" stroke-linecap="round"/><line x1="635.8" y1="175.4" x2="632.9" y2="172.1" stroke="#b4b68c" stroke-width="0.62" stroke-linecap="round"/><line x1="622.8" y1="181.4" x2="622.6" y2="178.9" stroke="#3e4c30" stroke-width="1.07" stroke-linecap="round"/><line x1="636.0" y1="201.1" x2="635.8" y2="196.2" stroke="#34422a" stroke-width="0.76" stroke-linecap="round"/><line x1="628.6" y1="171.4" x2="628.8" y2="168.9" stroke="#a4a87a" stroke-width="0.61" stroke-linecap="round"/><line x1="624.2" y1="193.3" x2="624.2" y2="189.7" stroke="#3e4c30" stroke-width="1.13" stroke-linecap="round"/><line x1="631.3" y1="201.2" x2="629.5" y2="199.7" stroke="#3e4c30" stroke-width="0.81" stroke-linecap="round"/><line x1="634.0" y1="194.3" x2="634.2" y2="191.9" stroke="#34422a" stroke-width="0.96" stroke-linecap="round"/><line x1="621.9" y1="186.0" x2="623.8" y2="181.4" stroke="#2c3a24" stroke-width="0.65" stroke-linecap="round"/><line x1="621.8" y1="176.1" x2="618.9" y2="172.5" stroke="#c0c098" stroke-width="1.08" stroke-linecap="round"/><line x1="639.8" y1="193.6" x2="638.6" y2="189.7" stroke="#2c3a24" stroke-width="1.06" stroke-linecap="round"/><line x1="631.5" y1="191.9" x2="635.6" y2="188.9" stroke="#2c3a24" stroke-width="0.74" stroke-linecap="round"/><line x1="623.2" y1="167.9" x2="624.5" y2="164.3" stroke="#a4a87a" stroke-width="0.83" stroke-linecap="round"/><line x1="635.3" y1="167.6" x2="635.6" y2="164.0" stroke="#34422a" stroke-width="1.07" stroke-linecap="round"/><line x1="649.2" y1="192.2" x2="649.8" y2="189.6" stroke="#2c3a24" stroke-width="1.07" stroke-linecap="round"/><line x1="622.7" y1="172.6" x2="624.7" y2="169.0" stroke="#2c3a24" stroke-width="0.60" stroke-linecap="round"/><line x1="627.8" y1="178.1" x2="627.0" y2="173.5" stroke="#b4b68c" stroke-width="0.77" stroke-linecap="round"/><line x1="649.0" y1="182.8" x2="650.6" y2="180.4" stroke="#c0c098" stroke-width="0.81" stroke-linecap="round"/><line x1="617.5" y1="196.7" x2="619.0" y2="192.0" stroke="#a4a87a" stroke-width="0.68" stroke-linecap="round"/><line x1="618.2" y1="200.4" x2="621.2" y2="196.2" stroke="#c0c098" stroke-width="1.18" stroke-linecap="round"/><line x1="640.6" y1="190.2" x2="641.0" y2="186.5" stroke="#c0c098" stroke-width="1.05" stroke-linecap="round"/><line x1="645.8" y1="169.0" x2="648.3" y2="165.9" stroke="#b4b68c" stroke-width="1.11" stroke-linecap="round"/><line x1="624.9" y1="187.7" x2="626.0" y2="183.6" stroke="#3e4c30" stroke-width="0.98" stroke-linecap="round"/><line x1="647.7" y1="172.4" x2="647.4" y2="167.3" stroke="#b4b68c" stroke-width="0.80" stroke-linecap="round"/><line x1="647.6" y1="204.3" x2="647.6" y2="201.6" stroke="#3e4c30" stroke-width="1.08" stroke-linecap="round"/><line x1="652.3" y1="203.4" x2="653.3" y2="199.7" stroke="#34422a" stroke-width="1.15" stroke-linecap="round"/><line x1="635.3" y1="171.7" x2="635.9" y2="169.7" stroke="#a4a87a" stroke-width="1.26" stroke-linecap="round"/><line x1="643.2" y1="202.4" x2="645.4" y2="198.0" stroke="#2c3a24" stroke-width="0.92" stroke-linecap="round"/><line x1="644.4" y1="170.1" x2="646.3" y2="165.8" stroke="#a4a87a" stroke-width="1.26" stroke-linecap="round"/><line x1="618.1" y1="168.8" x2="619.0" y2="166.9" stroke="#34422a" stroke-width="1.22" stroke-linecap="round"/><line x1="618.6" y1="205.5" x2="621.8" y2="203.5" stroke="#3e4c30" stroke-width="0.76" stroke-linecap="round"/><line x1="646.4" y1="202.7" x2="644.7" y2="199.0" stroke="#34422a" stroke-width="0.89" stroke-linecap="round"/><line x1="637.7" y1="200.6" x2="639.2" y2="197.5" stroke="#3e4c30" stroke-width="0.94" stroke-linecap="round"/><line x1="620.0" y1="200.8" x2="620.7" y2="198.6" stroke="#3e4c30" stroke-width="0.79" stroke-linecap="round"/><line x1="634.4" y1="203.2" x2="635.6" y2="198.6" stroke="#2c3a24" stroke-width="0.69" stroke-linecap="round"/><line x1="651.8" y1="188.8" x2="653.4" y2="185.2" stroke="#34422a" stroke-width="1.06" stroke-linecap="round"/><line x1="654.7" y1="186.8" x2="653.3" y2="183.3" stroke="#a4a87a" stroke-width="0.68" stroke-linecap="round"/><line x1="617.2" y1="166.9" x2="614.6" y2="162.7" stroke="#c0c098" stroke-width="0.92" stroke-linecap="round"/><line x1="650.9" y1="175.4" x2="652.6" y2="172.2" stroke="#c0c098" stroke-width="0.64" stroke-linecap="round"/><line x1="630.0" y1="187.7" x2="629.8" y2="183.7" stroke="#b4b68c" stroke-width="1.05" stroke-linecap="round"/><line x1="635.1" y1="184.3" x2="635.3" y2="182.0" stroke="#c0c098" stroke-width="1.09" stroke-linecap="round"/><line x1="615.7" y1="201.9" x2="615.4" y2="199.9" stroke="#34422a" stroke-width="1.15" stroke-linecap="round"/><line x1="617.8" y1="190.3" x2="615.4" y2="185.9" stroke="#a4a87a" stroke-width="0.65" stroke-linecap="round"/><line x1="629.7" y1="170.0" x2="631.5" y2="164.9" stroke="#b4b68c" stroke-width="1.19" stroke-linecap="round"/><line x1="634.4" y1="192.8" x2="635.9" y2="187.5" stroke="#c0c098" stroke-width="0.72" stroke-linecap="round"/><line x1="643.3" y1="186.6" x2="646.4" y2="183.0" stroke="#2c3a24" stroke-width="0.89" stroke-linecap="round"/><line x1="624.7" y1="167.1" x2="625.8" y2="163.6" stroke="#3e4c30" stroke-width="1.21" stroke-linecap="round"/><line x1="628.1" y1="196.5" x2="629.3" y2="193.7" stroke="#34422a" stroke-width="0.79" stroke-linecap="round"/><line x1="634.7" y1="175.1" x2="634.8" y2="171.7" stroke="#c0c098" stroke-width="0.65" stroke-linecap="round"/><line x1="618.7" y1="202.0" x2="618.7" y2="199.2" stroke="#c0c098" stroke-width="0.80" stroke-linecap="round"/><line x1="626.8" y1="165.1" x2="628.4" y2="160.2" stroke="#b4b68c" stroke-width="0.94" stroke-linecap="round"/><line x1="653.6" y1="188.1" x2="652.8" y2="185.2" stroke="#c0c098" stroke-width="0.85" stroke-linecap="round"/><line x1="644.1" y1="195.4" x2="643.3" y2="192.2" stroke="#2c3a24" stroke-width="0.63" stroke-linecap="round"/><line x1="629.4" y1="179.3" x2="629.8" y2="176.8" stroke="#34422a" stroke-width="0.96" stroke-linecap="round"/></g></svg>
<svg x="658.8" y="164.4" width="39.7" height="41.1" viewBox="658.8 164.4 39.7 41.1"><rect x="655.8" y="161.4" width="45.7" height="47.1" fill="url(#fld2)" filter="url(#field2)"/><g filter="url(#b2)" opacity="0.85"><ellipse cx="679.4" cy="189.1" rx="9.9" ry="7.0" fill="#323e22" transform="rotate(13 679.4 189.1)"/><ellipse cx="666.7" cy="198.1" rx="6.0" ry="4.9" fill="#2a361e" transform="rotate(-8 666.7 198.1)"/><ellipse cx="691.4" cy="199.7" rx="6.0" ry="4.1" fill="#323e22" transform="rotate(5 691.4 199.7)"/><ellipse cx="672.7" cy="179.2" rx="4.0" ry="4.1" fill="#2a361e" transform="rotate(12 672.7 179.2)"/><ellipse cx="692.5" cy="180.8" rx="3.2" ry="4.1" fill="#2a361e" transform="rotate(-19 692.5 180.8)"/></g><g filter="url(#pb)" opacity="0.75"><line x1="674.1" y1="189.8" x2="674.6" y2="185.2" stroke="#c0b880" stroke-width="1.22" stroke-linecap="round"/><line x1="666.2" y1="196.9" x2="667.5" y2="192.7" stroke="#2a361e" stroke-width="1.03" stroke-linecap="round"/><line x1="676.3" y1="185.0" x2="676.6" y2="181.6" stroke="#2a361e" stroke-width="0.94" stroke-linecap="round"/><line x1="661.5" y1="189.5" x2="661.9" y2="184.9" stroke="#b0aa6c" stroke-width="0.90" stroke-linecap="round"/><line x1="674.6" y1="201.7" x2="674.2" y2="198.7" stroke="#323e22" stroke-width="0.69" stroke-linecap="round"/><line x1="683.2" y1="204.0" x2="684.3" y2="200.6" stroke="#b0aa6c" stroke-width="1.26" stroke-linecap="round"/><line x1="676.6" y1="190.1" x2="676.2" y2="187.4" stroke="#ccc490" stroke-width="1.01" stroke-linecap="round"/><line x1="680.4" y1="171.1" x2="680.3" y2="165.8" stroke="#b0aa6c" stroke-width="1.26" stroke-linecap="round"/><line x1="665.6" y1="167.4" x2="664.8" y2="162.3" stroke="#b0aa6c" stroke-width="0.72" stroke-linecap="round"/><line x1="671.3" y1="172.3" x2="670.5" y2="168.7" stroke="#2a361e" stroke-width="0.76" stroke-linecap="round"/><line x1="662.0" y1="180.4" x2="659.5" y2="178.8" stroke="#323e22" stroke-width="0.79" stroke-linecap="round"/><line x1="676.5" y1="194.9" x2="677.2" y2="192.3" stroke="#2a361e" stroke-width="0.93" stroke-linecap="round"/><line x1="690.8" y1="198.5" x2="690.5" y2="196.2" stroke="#323e22" stroke-width="0.72" stroke-linecap="round"/><line x1="690.2" y1="180.4" x2="689.2" y2="177.6" stroke="#ccc490" stroke-width="0.75" stroke-linecap="round"/><line x1="684.6" y1="193.2" x2="683.9" y2="190.9" stroke="#ccc490" stroke-width="0.68" stroke-linecap="round"/><line x1="665.0" y1="192.8" x2="662.9" y2="191.1" stroke="#323e22" stroke-width="1.26" stroke-linecap="round"/><line x1="664.4" y1="182.9" x2="660.9" y2="179.9" stroke="#b0aa6c" stroke-width="0.98" stroke-linecap="round"/><line x1="677.4" y1="196.8" x2="674.9" y2="192.0" stroke="#c0b880" stroke-width="1.23" stroke-linecap="round"/><line x1="664.8" y1="205.5" x2="666.1" y2="201.0" stroke="#c0b880" stroke-width="1.27" stroke-linecap="round"/><line x1="660.0" y1="185.2" x2="659.7" y2="182.9" stroke="#ccc490" stroke-width="1.09" stroke-linecap="round"/><line x1="688.6" y1="172.0" x2="689.6" y2="169.8" stroke="#323e22" stroke-width="1.17" stroke-linecap="round"/><line x1="684.9" y1="202.2" x2="686.1" y2="199.7" stroke="#ccc490" stroke-width="1.22" stroke-linecap="round"/><line x1="664.1" y1="178.3" x2="664.2" y2="175.6" stroke="#b0aa6c" stroke-width="1.07" stroke-linecap="round"/><line x1="674.4" y1="166.1" x2="674.9" y2="163.8" stroke="#b0aa6c" stroke-width="0.64" stroke-linecap="round"/><line x1="686.1" y1="205.2" x2="684.8" y2="200.1" stroke="#3c4828" stroke-width="0.81" stroke-linecap="round"/><line x1="687.6" y1="165.3" x2="687.7" y2="161.7" stroke="#ccc490" stroke-width="0.87" stroke-linecap="round"/><line x1="691.1" y1="204.4" x2="690.5" y2="199.1" stroke="#3c4828" stroke-width="1.08" stroke-linecap="round"/><line x1="695.2" y1="172.5" x2="693.9" y2="167.7" stroke="#323e22" stroke-width="1.20" stroke-linecap="round"/><line x1="694.2" y1="175.3" x2="693.4" y2="172.8" stroke="#c0b880" stroke-width="0.75" stroke-linecap="round"/><line x1="685.8" y1="198.2" x2="685.0" y2="193.3" stroke="#ccc490" stroke-width="1.02" stroke-linecap="round"/><line x1="674.8" y1="189.5" x2="674.7" y2="184.7" stroke="#ccc490" stroke-width="0.61" stroke-linecap="round"/><line x1="680.1" y1="182.3" x2="678.3" y2="179.3" stroke="#323e22" stroke-width="1.15" stroke-linecap="round"/><line x1="695.4" y1="203.9" x2="695.5" y2="200.6" stroke="#2a361e" stroke-width="1.20" stroke-linecap="round"/><line x1="694.2" y1="194.7" x2="694.3" y2="190.5" stroke="#3c4828" stroke-width="0.63" stroke-linecap="round"/><line x1="666.0" y1="172.9" x2="666.9" y2="170.5" stroke="#3c4828" stroke-width="0.61" stroke-linecap="round"/><line x1="678.7" y1="176.0" x2="678.0" y2="172.6" stroke="#c0b880" stroke-width="0.62" stroke-linecap="round"/><line x1="697.2" y1="165.6" x2="699.5" y2="163.8" stroke="#ccc490" stroke-width="1.06" stroke-linecap="round"/><line x1="662.7" y1="201.8" x2="662.6" y2="198.4" stroke="#323e22" stroke-width="0.67" stroke-linecap="round"/><line x1="684.4" y1="178.5" x2="684.2" y2="173.4" stroke="#c0b880" stroke-width="0.80" stroke-linecap="round"/><line x1="680.0" y1="198.7" x2="678.5" y2="194.2" stroke="#323e22" stroke-width="1.24" stroke-linecap="round"/><line x1="673.6" y1="165.9" x2="677.0" y2="162.5" stroke="#2a361e" stroke-width="1.28" stroke-linecap="round"/><line x1="690.7" y1="202.3" x2="693.3" y2="199.4" stroke="#2a361e" stroke-width="0.71" stroke-linecap="round"/><line x1="683.1" y1="189.1" x2="684.6" y2="185.3" stroke="#b0aa6c" stroke-width="0.71" stroke-linecap="round"/><line x1="691.4" y1="171.3" x2="690.6" y2="166.9" stroke="#ccc490" stroke-width="0.92" stroke-linecap="round"/><line x1="673.7" y1="195.3" x2="672.4" y2="190.8" stroke="#323e22" stroke-width="1.08" stroke-linecap="round"/><line x1="661.0" y1="203.6" x2="660.2" y2="200.5" stroke="#ccc490" stroke-width="0.96" stroke-linecap="round"/><line x1="665.8" y1="196.0" x2="665.9" y2="192.9" stroke="#2a361e" stroke-width="0.70" stroke-linecap="round"/><line x1="685.1" y1="189.8" x2="685.8" y2="185.4" stroke="#3c4828" stroke-width="1.20" stroke-linecap="round"/><line x1="681.2" y1="199.5" x2="683.1" y2="195.5" stroke="#c0b880" stroke-width="0.87" stroke-linecap="round"/><line x1="663.0" y1="202.3" x2="664.7" y2="197.5" stroke="#3c4828" stroke-width="0.62" stroke-linecap="round"/><line x1="683.2" y1="173.3" x2="684.1" y2="168.2" stroke="#c0b880" stroke-width="1.01" stroke-linecap="round"/><line x1="692.5" y1="205.1" x2="692.4" y2="201.0" stroke="#323e22" stroke-width="1.24" stroke-linecap="round"/><line x1="690.4" y1="196.5" x2="689.8" y2="192.9" stroke="#3c4828" stroke-width="1.24" stroke-linecap="round"/><line x1="676.7" y1="180.2" x2="678.2" y2="178.0" stroke="#3c4828" stroke-width="0.94" stroke-linecap="round"/><line x1="691.1" y1="201.9" x2="691.0" y2="196.8" stroke="#2a361e" stroke-width="0.77" stroke-linecap="round"/><line x1="681.4" y1="189.1" x2="680.4" y2="183.9" stroke="#ccc490" stroke-width="0.75" stroke-linecap="round"/><line x1="660.1" y1="194.2" x2="661.0" y2="191.5" stroke="#2a361e" stroke-width="1.29" stroke-linecap="round"/><line x1="666.4" y1="188.4" x2="666.4" y2="184.3" stroke="#b0aa6c" stroke-width="1.21" stroke-linecap="round"/><line x1="684.4" y1="184.4" x2="684.1" y2="182.5" stroke="#c0b880" stroke-width="1.21" stroke-linecap="round"/><line x1="667.2" y1="188.2" x2="667.2" y2="184.4" stroke="#ccc490" stroke-width="0.66" stroke-linecap="round"/><line x1="685.5" y1="174.3" x2="686.1" y2="172.2" stroke="#ccc490" stroke-width="1.11" stroke-linecap="round"/><line x1="663.3" y1="177.4" x2="663.8" y2="174.6" stroke="#323e22" stroke-width="0.90" stroke-linecap="round"/><line x1="663.5" y1="204.2" x2="664.2" y2="201.4" stroke="#323e22" stroke-width="0.69" stroke-linecap="round"/><line x1="666.3" y1="203.8" x2="667.1" y2="201.1" stroke="#b0aa6c" stroke-width="0.87" stroke-linecap="round"/><line x1="698.2" y1="194.6" x2="698.8" y2="192.6" stroke="#2a361e" stroke-width="0.87" stroke-linecap="round"/><line x1="681.8" y1="199.4" x2="681.7" y2="194.2" stroke="#323e22" stroke-width="1.11" stroke-linecap="round"/><line x1="682.7" y1="190.3" x2="682.8" y2="186.4" stroke="#2a361e" stroke-width="0.75" stroke-linecap="round"/><line x1="667.3" y1="182.6" x2="668.4" y2="178.9" stroke="#2a361e" stroke-width="0.78" stroke-linecap="round"/><line x1="668.8" y1="175.5" x2="667.7" y2="171.3" stroke="#2a361e" stroke-width="1.28" stroke-linecap="round"/><line x1="670.2" y1="173.9" x2="670.4" y2="169.7" stroke="#b0aa6c" stroke-width="1.29" stroke-linecap="round"/><line x1="660.4" y1="164.7" x2="661.0" y2="161.0" stroke="#2a361e" stroke-width="1.02" stroke-linecap="round"/><line x1="678.2" y1="171.1" x2="676.9" y2="165.9" stroke="#3c4828" stroke-width="0.87" stroke-linecap="round"/><line x1="687.9" y1="168.4" x2="688.4" y2="164.7" stroke="#ccc490" stroke-width="1.02" stroke-linecap="round"/><line x1="696.0" y1="178.5" x2="699.2" y2="174.9" stroke="#b0aa6c" stroke-width="0.74" stroke-linecap="round"/><line x1="683.9" y1="178.6" x2="684.5" y2="174.3" stroke="#323e22" stroke-width="1.01" stroke-linecap="round"/><line x1="696.5" y1="170.1" x2="697.7" y2="168.5" stroke="#c0b880" stroke-width="1.03" stroke-linecap="round"/><line x1="684.6" y1="179.2" x2="684.5" y2="177.1" stroke="#ccc490" stroke-width="0.99" stroke-linecap="round"/><line x1="681.9" y1="194.8" x2="681.1" y2="191.5" stroke="#ccc490" stroke-width="0.96" stroke-linecap="round"/><line x1="690.8" y1="173.7" x2="690.3" y2="168.7" stroke="#c0b880" stroke-width="0.61" stroke-linecap="round"/><line x1="663.9" y1="170.1" x2="664.6" y2="165.2" stroke="#c0b880" stroke-width="0.60" stroke-linecap="round"/><line x1="689.1" y1="170.1" x2="691.2" y2="165.0" stroke="#3c4828" stroke-width="1.05" stroke-linecap="round"/><line x1="662.9" y1="187.6" x2="662.3" y2="183.8" stroke="#ccc490" stroke-width="0.89" stroke-linecap="round"/><line x1="661.6" y1="195.7" x2="664.1" y2="194.0" stroke="#323e22" stroke-width="1.00" stroke-linecap="round"/><line x1="681.5" y1="189.8" x2="679.7" y2="187.7" stroke="#ccc490" stroke-width="1.06" stroke-linecap="round"/><line x1="681.2" y1="180.5" x2="681.1" y2="175.5" stroke="#2a361e" stroke-width="0.71" stroke-linecap="round"/><line x1="680.1" y1="185.5" x2="681.6" y2="180.6" stroke="#3c4828" stroke-width="1.06" stroke-linecap="round"/><line x1="679.8" y1="190.0" x2="680.4" y2="187.8" stroke="#2a361e" stroke-width="0.87" stroke-linecap="round"/><line x1="671.1" y1="191.1" x2="671.4" y2="186.5" stroke="#c0b880" stroke-width="0.72" stroke-linecap="round"/><line x1="660.4" y1="182.7" x2="660.0" y2="178.4" stroke="#323e22" stroke-width="0.64" stroke-linecap="round"/><line x1="664.1" y1="167.0" x2="668.2" y2="164.1" stroke="#c0b880" stroke-width="1.15" stroke-linecap="round"/><line x1="697.2" y1="203.2" x2="696.8" y2="199.3" stroke="#3c4828" stroke-width="0.91" stroke-linecap="round"/><line x1="694.5" y1="188.6" x2="693.6" y2="184.7" stroke="#c0b880" stroke-width="0.99" stroke-linecap="round"/><line x1="678.5" y1="165.4" x2="677.3" y2="161.9" stroke="#2a361e" stroke-width="0.93" stroke-linecap="round"/><line x1="692.8" y1="205.0" x2="693.9" y2="201.8" stroke="#323e22" stroke-width="0.87" stroke-linecap="round"/><line x1="689.9" y1="178.3" x2="689.4" y2="173.6" stroke="#ccc490" stroke-width="1.26" stroke-linecap="round"/><line x1="696.0" y1="167.6" x2="697.2" y2="163.5" stroke="#3c4828" stroke-width="1.01" stroke-linecap="round"/><line x1="679.4" y1="174.5" x2="678.2" y2="171.4" stroke="#c0b880" stroke-width="0.65" stroke-linecap="round"/><line x1="693.6" y1="178.4" x2="694.9" y2="174.1" stroke="#3c4828" stroke-width="0.89" stroke-linecap="round"/><line x1="697.6" y1="187.0" x2="697.0" y2="182.7" stroke="#b0aa6c" stroke-width="0.82" stroke-linecap="round"/><line x1="678.6" y1="168.4" x2="679.3" y2="163.4" stroke="#b0aa6c" stroke-width="0.72" stroke-linecap="round"/><line x1="686.9" y1="204.0" x2="689.0" y2="200.9" stroke="#323e22" stroke-width="1.06" stroke-linecap="round"/><line x1="675.6" y1="195.5" x2="675.5" y2="192.2" stroke="#2a361e" stroke-width="0.94" stroke-linecap="round"/><line x1="689.9" y1="195.6" x2="689.9" y2="190.1" stroke="#3c4828" stroke-width="1.07" stroke-linecap="round"/><line x1="659.6" y1="177.2" x2="660.4" y2="172.2" stroke="#2a361e" stroke-width="1.05" stroke-linecap="round"/><line x1="696.8" y1="165.3" x2="693.1" y2="162.5" stroke="#ccc490" stroke-width="0.94" stroke-linecap="round"/><line x1="691.1" y1="171.0" x2="692.6" y2="167.2" stroke="#b0aa6c" stroke-width="0.62" stroke-linecap="round"/><line x1="667.4" y1="198.7" x2="668.4" y2="195.1" stroke="#3c4828" stroke-width="1.01" stroke-linecap="round"/><line x1="665.3" y1="165.3" x2="664.7" y2="160.8" stroke="#b0aa6c" stroke-width="1.11" stroke-linecap="round"/><line x1="659.4" y1="192.0" x2="659.7" y2="189.8" stroke="#3c4828" stroke-width="0.94" stroke-linecap="round"/><line x1="660.8" y1="171.4" x2="660.9" y2="167.8" stroke="#c0b880" stroke-width="1.09" stroke-linecap="round"/></g></svg>
<svg x="702.2" y="164.4" width="39.5" height="41.1" viewBox="702.2 164.4 39.5 41.1"><rect x="699.2" y="161.4" width="45.5" height="47.1" fill="url(#fld3)" filter="url(#field)"/><g filter="url(#b2)" opacity="0.85"><ellipse cx="718.0" cy="195.6" rx="9.9" ry="5.8" fill="#2c3a24" transform="rotate(-1 718.0 195.6)"/><ellipse cx="708.1" cy="185.0" rx="4.0" ry="4.9" fill="#2c3a24" transform="rotate(14 708.1 185.0)"/><ellipse cx="732.2" cy="185.0" rx="4.7" ry="4.9" fill="#2c3a24" transform="rotate(22 732.2 185.0)"/><ellipse cx="736.2" cy="201.4" rx="4.0" ry="3.3" fill="#34422a" transform="rotate(14 736.2 201.4)"/><ellipse cx="722.0" cy="176.7" rx="3.2" ry="3.3" fill="#34422a" transform="rotate(28 722.0 176.7)"/></g><g filter="url(#pb)" opacity="0.75"><line x1="726.0" y1="169.4" x2="724.4" y2="167.8" stroke="#98a46c" stroke-width="0.76" stroke-linecap="round"/><line x1="734.9" y1="165.4" x2="735.4" y2="162.4" stroke="#34422a" stroke-width="1.12" stroke-linecap="round"/><line x1="736.2" y1="188.3" x2="737.0" y2="183.4" stroke="#a8b07c" stroke-width="0.77" stroke-linecap="round"/><line x1="716.8" y1="188.3" x2="718.2" y2="184.0" stroke="#b4ba8c" stroke-width="1.23" stroke-linecap="round"/><line x1="732.1" y1="186.1" x2="732.8" y2="183.2" stroke="#98a46c" stroke-width="0.94" stroke-linecap="round"/><line x1="707.9" y1="181.7" x2="707.7" y2="176.7" stroke="#34422a" stroke-width="1.06" stroke-linecap="round"/><line x1="734.6" y1="177.0" x2="735.3" y2="172.3" stroke="#a8b07c" stroke-width="1.10" stroke-linecap="round"/><line x1="713.7" y1="187.0" x2="714.5" y2="184.2" stroke="#98a46c" stroke-width="1.22" stroke-linecap="round"/><line x1="709.2" y1="196.4" x2="709.6" y2="192.5" stroke="#3e4e30" stroke-width="1.04" stroke-linecap="round"/><line x1="711.2" y1="180.3" x2="710.2" y2="176.9" stroke="#b4ba8c" stroke-width="0.66" stroke-linecap="round"/><line x1="707.9" y1="165.8" x2="708.5" y2="160.4" stroke="#b4ba8c" stroke-width="0.82" stroke-linecap="round"/><line x1="738.5" y1="171.9" x2="739.3" y2="166.9" stroke="#b4ba8c" stroke-width="1.26" stroke-linecap="round"/><line x1="729.1" y1="178.6" x2="732.0" y2="175.5" stroke="#2c3a24" stroke-width="0.87" stroke-linecap="round"/><line x1="731.2" y1="181.3" x2="732.7" y2="177.7" stroke="#98a46c" stroke-width="0.89" stroke-linecap="round"/><line x1="712.7" y1="165.8" x2="713.8" y2="162.5" stroke="#98a46c" stroke-width="0.70" stroke-linecap="round"/><line x1="732.8" y1="201.2" x2="733.9" y2="197.3" stroke="#b4ba8c" stroke-width="0.68" stroke-linecap="round"/><line x1="738.5" y1="198.6" x2="739.6" y2="193.7" stroke="#2c3a24" stroke-width="0.78" stroke-linecap="round"/><line x1="702.7" y1="205.5" x2="703.1" y2="203.0" stroke="#b4ba8c" stroke-width="0.70" stroke-linecap="round"/><line x1="716.1" y1="197.3" x2="715.6" y2="193.8" stroke="#2c3a24" stroke-width="1.14" stroke-linecap="round"/><line x1="733.6" y1="195.5" x2="733.6" y2="190.3" stroke="#3e4e30" stroke-width="1.00" stroke-linecap="round"/><line x1="720.7" y1="188.7" x2="720.2" y2="184.5" stroke="#3e4e30" stroke-width="1.08" stroke-linecap="round"/><line x1="713.4" y1="202.7" x2="713.2" y2="200.6" stroke="#2c3a24" stroke-width="1.15" stroke-linecap="round"/><line x1="722.8" y1="203.6" x2="723.4" y2="200.5" stroke="#3e4e30" stroke-width="0.69" stroke-linecap="round"/><line x1="704.9" y1="204.3" x2="701.5" y2="200.5" stroke="#b4ba8c" stroke-width="1.22" stroke-linecap="round"/><line x1="730.5" y1="175.7" x2="731.6" y2="173.4" stroke="#a8b07c" stroke-width="1.11" stroke-linecap="round"/><line x1="715.4" y1="195.0" x2="716.1" y2="193.0" stroke="#3e4e30" stroke-width="0.70" stroke-linecap="round"/><line x1="731.9" y1="181.3" x2="734.9" y2="177.1" stroke="#b4ba8c" stroke-width="1.05" stroke-linecap="round"/><line x1="716.1" y1="203.9" x2="715.4" y2="198.8" stroke="#3e4e30" stroke-width="1.06" stroke-linecap="round"/><line x1="703.9" y1="165.5" x2="703.6" y2="162.4" stroke="#b4ba8c" stroke-width="0.67" stroke-linecap="round"/><line x1="716.8" y1="164.7" x2="716.2" y2="161.7" stroke="#98a46c" stroke-width="1.27" stroke-linecap="round"/><line x1="710.6" y1="176.4" x2="713.6" y2="172.7" stroke="#2c3a24" stroke-width="0.83" stroke-linecap="round"/><line x1="705.5" y1="171.4" x2="705.7" y2="166.6" stroke="#98a46c" stroke-width="1.06" stroke-linecap="round"/><line x1="731.5" y1="189.2" x2="732.7" y2="186.9" stroke="#2c3a24" stroke-width="0.79" stroke-linecap="round"/><line x1="726.1" y1="190.1" x2="726.6" y2="187.1" stroke="#b4ba8c" stroke-width="0.75" stroke-linecap="round"/><line x1="730.0" y1="165.3" x2="729.8" y2="162.1" stroke="#98a46c" stroke-width="1.18" stroke-linecap="round"/><line x1="739.1" y1="205.2" x2="738.0" y2="200.9" stroke="#a8b07c" stroke-width="1.11" stroke-linecap="round"/><line x1="717.5" y1="199.7" x2="717.4" y2="196.0" stroke="#2c3a24" stroke-width="0.70" stroke-linecap="round"/><line x1="703.2" y1="180.3" x2="703.7" y2="176.7" stroke="#b4ba8c" stroke-width="1.06" stroke-linecap="round"/><line x1="707.2" y1="184.5" x2="707.7" y2="182.5" stroke="#3e4e30" stroke-width="0.70" stroke-linecap="round"/><line x1="733.7" y1="199.5" x2="734.5" y2="197.6" stroke="#34422a" stroke-width="1.15" stroke-linecap="round"/><line x1="729.3" y1="184.9" x2="729.7" y2="181.5" stroke="#2c3a24" stroke-width="0.86" stroke-linecap="round"/><line x1="731.1" y1="177.0" x2="730.5" y2="172.0" stroke="#b4ba8c" stroke-width="0.87" stroke-linecap="round"/><line x1="721.5" y1="203.8" x2="720.7" y2="198.4" stroke="#2c3a24" stroke-width="1.16" stroke-linecap="round"/><line x1="711.4" y1="201.1" x2="711.1" y2="197.9" stroke="#2c3a24" stroke-width="0.69" stroke-linecap="round"/><line x1="728.2" y1="170.7" x2="729.4" y2="166.2" stroke="#b4ba8c" stroke-width="0.88" stroke-linecap="round"/><line x1="734.6" y1="193.9" x2="735.7" y2="191.0" stroke="#2c3a24" stroke-width="1.01" stroke-linecap="round"/><line x1="738.1" y1="201.4" x2="738.3" y2="197.2" stroke="#98a46c" stroke-width="1.14" stroke-linecap="round"/><line x1="723.6" y1="200.6" x2="724.7" y2="195.5" stroke="#34422a" stroke-width="0.86" stroke-linecap="round"/><line x1="736.9" y1="193.1" x2="736.1" y2="189.0" stroke="#b4ba8c" stroke-width="0.84" stroke-linecap="round"/><line x1="740.8" y1="185.2" x2="739.4" y2="183.5" stroke="#34422a" stroke-width="1.02" stroke-linecap="round"/><line x1="717.4" y1="199.2" x2="719.2" y2="195.5" stroke="#34422a" stroke-width="0.72" stroke-linecap="round"/><line x1="725.7" y1="166.8" x2="726.1" y2="164.3" stroke="#a8b07c" stroke-width="1.25" stroke-linecap="round"/><line x1="712.2" y1="169.4" x2="713.2" y2="167.1" stroke="#98a46c" stroke-width="0.96" stroke-linecap="round"/><line x1="723.7" y1="165.0" x2="723.5" y2="162.5" stroke="#b4ba8c" stroke-width="1.06" stroke-linecap="round"/><line x1="729.6" y1="169.4" x2="729.8" y2="165.8" stroke="#a8b07c" stroke-width="1.20" stroke-linecap="round"/><line x1="716.1" y1="183.3" x2="715.9" y2="180.4" stroke="#98a46c" stroke-width="0.92" stroke-linecap="round"/><line x1="723.2" y1="166.3" x2="725.1" y2="162.2" stroke="#b4ba8c" stroke-width="0.71" stroke-linecap="round"/><line x1="708.2" y1="179.7" x2="709.2" y2="177.1" stroke="#98a46c" stroke-width="0.98" stroke-linecap="round"/><line x1="716.5" y1="190.3" x2="717.8" y2="187.0" stroke="#34422a" stroke-width="1.00" stroke-linecap="round"/><line x1="730.9" y1="171.1" x2="731.0" y2="166.9" stroke="#a8b07c" stroke-width="0.76" stroke-linecap="round"/><line x1="706.9" y1="198.4" x2="707.4" y2="195.4" stroke="#b4ba8c" stroke-width="1.26" stroke-linecap="round"/><line x1="737.8" y1="165.7" x2="738.1" y2="162.0" stroke="#a8b07c" stroke-width="0.69" stroke-linecap="round"/><line x1="722.1" y1="171.5" x2="721.6" y2="168.5" stroke="#a8b07c" stroke-width="0.93" stroke-linecap="round"/><line x1="723.5" y1="180.8" x2="723.0" y2="178.1" stroke="#2c3a24" stroke-width="1.28" stroke-linecap="round"/><line x1="705.3" y1="190.0" x2="704.4" y2="186.1" stroke="#a8b07c" stroke-width="0.82" stroke-linecap="round"/><line x1="718.1" y1="182.5" x2="716.8" y2="177.3" stroke="#a8b07c" stroke-width="0.70" stroke-linecap="round"/><line x1="715.1" y1="197.3" x2="714.2" y2="193.6" stroke="#2c3a24" stroke-width="0.78" stroke-linecap="round"/><line x1="708.5" y1="166.3" x2="707.2" y2="161.9" stroke="#b4ba8c" stroke-width="1.28" stroke-linecap="round"/><line x1="722.6" y1="178.1" x2="723.2" y2="173.9" stroke="#b4ba8c" stroke-width="1.24" stroke-linecap="round"/><line x1="726.7" y1="173.1" x2="727.9" y2="169.3" stroke="#a8b07c" stroke-width="1.11" stroke-linecap="round"/><line x1="724.9" y1="186.7" x2="727.4" y2="183.6" stroke="#b4ba8c" stroke-width="0.92" stroke-linecap="round"/><line x1="708.4" y1="180.2" x2="707.1" y2="176.0" stroke="#3e4e30" stroke-width="0.84" stroke-linecap="round"/><line x1="740.7" y1="183.2" x2="740.4" y2="179.0" stroke="#98a46c" stroke-width="0.84" stroke-linecap="round"/><line x1="717.5" y1="200.6" x2="718.8" y2="196.2" stroke="#34422a" stroke-width="0.99" stroke-linecap="round"/><line x1="714.6" y1="192.4" x2="715.2" y2="187.3" stroke="#34422a" stroke-width="1.09" stroke-linecap="round"/><line x1="738.4" y1="172.5" x2="740.2" y2="168.2" stroke="#b4ba8c" stroke-width="1.10" stroke-linecap="round"/><line x1="737.0" y1="205.1" x2="736.3" y2="200.5" stroke="#2c3a24" stroke-width="0.95" stroke-linecap="round"/><line x1="703.3" y1="192.9" x2="704.2" y2="188.9" stroke="#a8b07c" stroke-width="1.15" stroke-linecap="round"/><line x1="712.8" y1="173.4" x2="711.2" y2="168.2" stroke="#98a46c" stroke-width="1.06" stroke-linecap="round"/><line x1="715.7" y1="180.6" x2="715.0" y2="177.7" stroke="#a8b07c" stroke-width="0.66" stroke-linecap="round"/><line x1="702.4" y1="170.5" x2="707.0" y2="167.5" stroke="#a8b07c" stroke-width="0.72" stroke-linecap="round"/><line x1="739.7" y1="169.3" x2="739.2" y2="167.4" stroke="#98a46c" stroke-width="1.18" stroke-linecap="round"/><line x1="708.5" y1="181.3" x2="709.6" y2="177.4" stroke="#a8b07c" stroke-width="0.78" stroke-linecap="round"/><line x1="720.0" y1="193.3" x2="719.2" y2="188.2" stroke="#b4ba8c" stroke-width="0.87" stroke-linecap="round"/><line x1="710.0" y1="175.7" x2="710.5" y2="172.5" stroke="#98a46c" stroke-width="0.76" stroke-linecap="round"/><line x1="728.9" y1="179.1" x2="729.2" y2="176.0" stroke="#2c3a24" stroke-width="1.24" stroke-linecap="round"/><line x1="721.8" y1="168.2" x2="721.9" y2="166.0" stroke="#a8b07c" stroke-width="0.99" stroke-linecap="round"/><line x1="721.2" y1="198.4" x2="719.5" y2="195.6" stroke="#a8b07c" stroke-width="1.08" stroke-linecap="round"/><line x1="724.8" y1="165.0" x2="729.0" y2="161.7" stroke="#a8b07c" stroke-width="0.85" stroke-linecap="round"/><line x1="735.5" y1="169.0" x2="735.8" y2="165.8" stroke="#b4ba8c" stroke-width="0.79" stroke-linecap="round"/><line x1="738.1" y1="172.3" x2="737.3" y2="168.2" stroke="#a8b07c" stroke-width="0.62" stroke-linecap="round"/><line x1="723.0" y1="165.5" x2="725.0" y2="164.2" stroke="#b4ba8c" stroke-width="1.11" stroke-linecap="round"/><line x1="723.9" y1="168.5" x2="723.5" y2="163.4" stroke="#b4ba8c" stroke-width="0.77" stroke-linecap="round"/><line x1="708.1" y1="192.9" x2="708.4" y2="190.9" stroke="#34422a" stroke-width="0.84" stroke-linecap="round"/><line x1="732.7" y1="170.7" x2="734.3" y2="167.0" stroke="#3e4e30" stroke-width="0.88" stroke-linecap="round"/><line x1="721.9" y1="184.2" x2="726.2" y2="181.0" stroke="#3e4e30" stroke-width="1.23" stroke-linecap="round"/><line x1="739.3" y1="183.3" x2="738.0" y2="178.7" stroke="#98a46c" stroke-width="0.76" stroke-linecap="round"/><line x1="713.1" y1="170.1" x2="713.8" y2="166.2" stroke="#98a46c" stroke-width="1.30" stroke-linecap="round"/><line x1="728.6" y1="167.5" x2="729.2" y2="163.3" stroke="#b4ba8c" stroke-width="1.14" stroke-linecap="round"/><line x1="735.1" y1="193.2" x2="737.1" y2="189.9" stroke="#a8b07c" stroke-width="0.95" stroke-linecap="round"/><line x1="718.2" y1="179.4" x2="716.7" y2="174.5" stroke="#b4ba8c" stroke-width="1.12" stroke-linecap="round"/><line x1="714.1" y1="177.8" x2="712.9" y2="173.1" stroke="#34422a" stroke-width="1.24" stroke-linecap="round"/><line x1="714.8" y1="171.4" x2="716.4" y2="167.5" stroke="#34422a" stroke-width="0.70" stroke-linecap="round"/><line x1="720.8" y1="179.7" x2="719.6" y2="177.1" stroke="#a8b07c" stroke-width="0.67" stroke-linecap="round"/><line x1="712.9" y1="191.2" x2="712.7" y2="187.3" stroke="#b4ba8c" stroke-width="0.67" stroke-linecap="round"/><line x1="722.8" y1="176.8" x2="724.8" y2="172.1" stroke="#a8b07c" stroke-width="0.72" stroke-linecap="round"/><line x1="729.0" y1="190.5" x2="727.7" y2="185.5" stroke="#3e4e30" stroke-width="0.85" stroke-linecap="round"/><line x1="736.8" y1="197.8" x2="737.4" y2="193.6" stroke="#2c3a24" stroke-width="0.94" stroke-linecap="round"/><line x1="713.3" y1="167.9" x2="712.4" y2="164.1" stroke="#2c3a24" stroke-width="0.79" stroke-linecap="round"/><line x1="715.4" y1="172.8" x2="715.5" y2="167.5" stroke="#3e4e30" stroke-width="0.61" stroke-linecap="round"/></g></svg>
<svg x="745.7" y="164.4" width="39.9" height="41.1" viewBox="745.7 164.4 39.9 41.1"><rect x="742.7" y="161.4" width="45.9" height="47.1" fill="url(#fld4)" filter="url(#field2)"/><g filter="url(#b2)" opacity="0.85"><ellipse cx="757.7" cy="193.2" rx="8.0" ry="6.2" fill="#3a4028" transform="rotate(25 757.7 193.2)"/><ellipse cx="774.4" cy="197.3" rx="8.0" ry="4.9" fill="#3a4028" transform="rotate(16 774.4 197.3)"/><ellipse cx="767.6" cy="182.9" rx="4.0" ry="4.1" fill="#3a4028" transform="rotate(-5 767.6 182.9)"/><ellipse cx="749.7" cy="176.7" rx="3.2" ry="4.1" fill="#44482e" transform="rotate(-30 749.7 176.7)"/><ellipse cx="781.6" cy="178.8" rx="2.8" ry="4.1" fill="#323822" transform="rotate(-22 781.6 178.8)"/></g><g filter="url(#pb)" opacity="0.75"><line x1="777.9" y1="165.1" x2="778.5" y2="162.0" stroke="#3a4028" stroke-width="1.05" stroke-linecap="round"/><line x1="780.1" y1="188.3" x2="778.2" y2="185.9" stroke="#44482e" stroke-width="0.63" stroke-linecap="round"/><line x1="763.5" y1="174.4" x2="762.1" y2="169.9" stroke="#c4bc94" stroke-width="0.69" stroke-linecap="round"/><line x1="752.2" y1="187.5" x2="753.4" y2="185.1" stroke="#3a4028" stroke-width="1.19" stroke-linecap="round"/><line x1="747.3" y1="191.8" x2="746.7" y2="189.1" stroke="#c4bc94" stroke-width="0.70" stroke-linecap="round"/><line x1="780.0" y1="171.9" x2="779.2" y2="167.8" stroke="#b8b084" stroke-width="0.66" stroke-linecap="round"/><line x1="751.8" y1="164.8" x2="752.0" y2="160.8" stroke="#b8b084" stroke-width="0.89" stroke-linecap="round"/><line x1="778.8" y1="184.1" x2="780.3" y2="179.9" stroke="#44482e" stroke-width="1.20" stroke-linecap="round"/><line x1="781.2" y1="198.9" x2="777.3" y2="196.3" stroke="#323822" stroke-width="0.78" stroke-linecap="round"/><line x1="746.6" y1="196.4" x2="747.2" y2="192.4" stroke="#b8b084" stroke-width="1.17" stroke-linecap="round"/><line x1="770.1" y1="177.0" x2="770.8" y2="175.1" stroke="#b8b084" stroke-width="1.08" stroke-linecap="round"/><line x1="754.1" y1="171.1" x2="753.2" y2="166.2" stroke="#b8b084" stroke-width="1.20" stroke-linecap="round"/><line x1="769.3" y1="192.7" x2="769.5" y2="189.9" stroke="#c4bc94" stroke-width="0.97" stroke-linecap="round"/><line x1="755.2" y1="172.5" x2="754.2" y2="170.4" stroke="#b8b084" stroke-width="0.76" stroke-linecap="round"/><line x1="748.5" y1="165.7" x2="749.9" y2="160.7" stroke="#3a4028" stroke-width="0.91" stroke-linecap="round"/><line x1="748.6" y1="185.5" x2="751.4" y2="183.2" stroke="#b8b084" stroke-width="0.61" stroke-linecap="round"/><line x1="768.1" y1="182.0" x2="768.2" y2="177.5" stroke="#44482e" stroke-width="0.71" stroke-linecap="round"/><line x1="765.2" y1="169.5" x2="764.0" y2="166.1" stroke="#b8b084" stroke-width="0.68" stroke-linecap="round"/><line x1="777.6" y1="184.5" x2="775.8" y2="183.0" stroke="#323822" stroke-width="0.83" stroke-linecap="round"/><line x1="758.2" y1="182.5" x2="760.0" y2="178.8" stroke="#323822" stroke-width="0.76" stroke-linecap="round"/><line x1="768.3" y1="171.0" x2="768.4" y2="166.9" stroke="#b8b084" stroke-width="1.22" stroke-linecap="round"/><line x1="778.1" y1="203.6" x2="780.2" y2="200.1" stroke="#b8b084" stroke-width="0.70" stroke-linecap="round"/><line x1="755.2" y1="165.7" x2="756.4" y2="160.9" stroke="#b8b084" stroke-width="1.07" stroke-linecap="round"/><line x1="764.2" y1="173.0" x2="765.4" y2="170.3" stroke="#a8a274" stroke-width="1.13" stroke-linecap="round"/><line x1="770.3" y1="170.4" x2="770.3" y2="165.8" stroke="#323822" stroke-width="1.06" stroke-linecap="round"/><line x1="778.9" y1="203.5" x2="781.3" y2="201.5" stroke="#3a4028" stroke-width="1.20" stroke-linecap="round"/><line x1="756.2" y1="192.5" x2="756.3" y2="189.6" stroke="#323822" stroke-width="1.06" stroke-linecap="round"/><line x1="778.3" y1="166.3" x2="780.2" y2="163.6" stroke="#c4bc94" stroke-width="1.27" stroke-linecap="round"/><line x1="779.5" y1="198.1" x2="780.4" y2="195.1" stroke="#323822" stroke-width="0.94" stroke-linecap="round"/><line x1="767.8" y1="172.4" x2="770.6" y2="167.9" stroke="#3a4028" stroke-width="0.79" stroke-linecap="round"/><line x1="765.5" y1="202.4" x2="766.2" y2="197.8" stroke="#323822" stroke-width="0.83" stroke-linecap="round"/><line x1="768.6" y1="200.5" x2="769.2" y2="198.6" stroke="#3a4028" stroke-width="1.13" stroke-linecap="round"/><line x1="763.7" y1="168.1" x2="763.4" y2="165.5" stroke="#c4bc94" stroke-width="1.01" stroke-linecap="round"/><line x1="753.6" y1="199.3" x2="754.1" y2="196.5" stroke="#3a4028" stroke-width="1.28" stroke-linecap="round"/><line x1="761.5" y1="191.2" x2="762.3" y2="185.8" stroke="#323822" stroke-width="0.82" stroke-linecap="round"/><line x1="755.1" y1="172.0" x2="757.1" y2="167.0" stroke="#c4bc94" stroke-width="0.63" stroke-linecap="round"/><line x1="782.0" y1="186.9" x2="782.2" y2="182.2" stroke="#c4bc94" stroke-width="1.12" stroke-linecap="round"/><line x1="778.7" y1="201.8" x2="777.4" y2="200.3" stroke="#3a4028" stroke-width="1.21" stroke-linecap="round"/><line x1="759.5" y1="170.3" x2="760.2" y2="165.9" stroke="#c4bc94" stroke-width="0.90" stroke-linecap="round"/><line x1="775.6" y1="193.4" x2="775.8" y2="190.8" stroke="#3a4028" stroke-width="1.00" stroke-linecap="round"/><line x1="763.5" y1="192.3" x2="762.4" y2="189.7" stroke="#44482e" stroke-width="0.73" stroke-linecap="round"/><line x1="756.5" y1="184.8" x2="757.1" y2="179.5" stroke="#a8a274" stroke-width="0.88" stroke-linecap="round"/><line x1="750.7" y1="191.3" x2="751.4" y2="188.1" stroke="#b8b084" stroke-width="1.00" stroke-linecap="round"/><line x1="769.9" y1="186.8" x2="769.3" y2="181.5" stroke="#44482e" stroke-width="0.80" stroke-linecap="round"/><line x1="751.3" y1="169.5" x2="753.0" y2="166.0" stroke="#44482e" stroke-width="0.65" stroke-linecap="round"/><line x1="760.5" y1="178.6" x2="762.8" y2="175.0" stroke="#3a4028" stroke-width="1.25" stroke-linecap="round"/><line x1="765.1" y1="202.9" x2="762.8" y2="201.5" stroke="#323822" stroke-width="1.21" stroke-linecap="round"/><line x1="784.9" y1="199.3" x2="786.8" y2="194.4" stroke="#323822" stroke-width="0.64" stroke-linecap="round"/><line x1="754.6" y1="180.6" x2="754.5" y2="178.1" stroke="#b8b084" stroke-width="1.22" stroke-linecap="round"/><line x1="772.4" y1="203.7" x2="772.3" y2="200.1" stroke="#c4bc94" stroke-width="1.17" stroke-linecap="round"/><line x1="779.4" y1="165.9" x2="779.3" y2="162.4" stroke="#b8b084" stroke-width="1.24" stroke-linecap="round"/><line x1="748.4" y1="166.2" x2="748.7" y2="163.4" stroke="#b8b084" stroke-width="0.79" stroke-linecap="round"/><line x1="778.8" y1="184.4" x2="777.7" y2="181.0" stroke="#44482e" stroke-width="1.08" stroke-linecap="round"/><line x1="775.3" y1="180.1" x2="775.6" y2="177.3" stroke="#44482e" stroke-width="0.86" stroke-linecap="round"/><line x1="749.1" y1="174.5" x2="748.7" y2="171.2" stroke="#3a4028" stroke-width="0.67" stroke-linecap="round"/><line x1="761.0" y1="178.2" x2="760.4" y2="176.1" stroke="#3a4028" stroke-width="0.72" stroke-linecap="round"/><line x1="777.4" y1="204.1" x2="778.0" y2="202.2" stroke="#3a4028" stroke-width="0.68" stroke-linecap="round"/><line x1="751.5" y1="196.6" x2="751.8" y2="194.1" stroke="#323822" stroke-width="1.25" stroke-linecap="round"/><line x1="784.1" y1="184.2" x2="786.1" y2="180.1" stroke="#44482e" stroke-width="1.22" stroke-linecap="round"/><line x1="777.2" y1="173.5" x2="777.5" y2="171.3" stroke="#c4bc94" stroke-width="0.71" stroke-linecap="round"/><line x1="751.7" y1="186.2" x2="750.9" y2="183.4" stroke="#44482e" stroke-width="0.75" stroke-linecap="round"/><line x1="784.5" y1="190.7" x2="784.6" y2="188.1" stroke="#c4bc94" stroke-width="0.75" stroke-linecap="round"/><line x1="770.1" y1="201.4" x2="769.7" y2="196.3" stroke="#b8b084" stroke-width="1.11" stroke-linecap="round"/><line x1="760.9" y1="187.1" x2="762.5" y2="182.7" stroke="#b8b084" stroke-width="0.76" stroke-linecap="round"/><line x1="778.0" y1="165.7" x2="778.8" y2="161.4" stroke="#b8b084" stroke-width="0.94" stroke-linecap="round"/><line x1="747.9" y1="193.8" x2="749.9" y2="190.4" stroke="#3a4028" stroke-width="1.06" stroke-linecap="round"/><line x1="755.9" y1="188.8" x2="754.5" y2="184.3" stroke="#3a4028" stroke-width="0.68" stroke-linecap="round"/><line x1="779.4" y1="185.3" x2="779.1" y2="181.8" stroke="#323822" stroke-width="0.82" stroke-linecap="round"/><line x1="766.0" y1="174.3" x2="764.4" y2="171.9" stroke="#b8b084" stroke-width="1.28" stroke-linecap="round"/><line x1="777.1" y1="180.5" x2="778.4" y2="178.7" stroke="#44482e" stroke-width="0.98" stroke-linecap="round"/><line x1="762.3" y1="176.0" x2="762.8" y2="173.0" stroke="#a8a274" stroke-width="0.63" stroke-linecap="round"/><line x1="748.3" y1="202.3" x2="747.7" y2="198.7" stroke="#3a4028" stroke-width="0.99" stroke-linecap="round"/><line x1="766.2" y1="192.6" x2="766.8" y2="188.6" stroke="#3a4028" stroke-width="1.12" stroke-linecap="round"/><line x1="751.2" y1="167.5" x2="749.4" y2="165.9" stroke="#3a4028" stroke-width="0.87" stroke-linecap="round"/><line x1="753.4" y1="171.8" x2="754.4" y2="168.3" stroke="#323822" stroke-width="1.12" stroke-linecap="round"/><line x1="764.1" y1="173.8" x2="764.1" y2="169.2" stroke="#c4bc94" stroke-width="0.71" stroke-linecap="round"/><line x1="764.2" y1="179.2" x2="763.3" y2="176.1" stroke="#b8b084" stroke-width="0.97" stroke-linecap="round"/><line x1="753.2" y1="188.2" x2="753.2" y2="186.2" stroke="#a8a274" stroke-width="1.25" stroke-linecap="round"/><line x1="762.6" y1="193.4" x2="760.9" y2="191.6" stroke="#44482e" stroke-width="0.88" stroke-linecap="round"/><line x1="754.0" y1="198.1" x2="752.4" y2="193.9" stroke="#b8b084" stroke-width="1.12" stroke-linecap="round"/><line x1="782.2" y1="182.7" x2="781.8" y2="179.5" stroke="#c4bc94" stroke-width="1.23" stroke-linecap="round"/><line x1="758.1" y1="189.2" x2="759.7" y2="184.0" stroke="#b8b084" stroke-width="0.94" stroke-linecap="round"/><line x1="759.4" y1="180.7" x2="760.1" y2="178.5" stroke="#b8b084" stroke-width="0.95" stroke-linecap="round"/><line x1="773.1" y1="187.8" x2="770.8" y2="183.8" stroke="#a8a274" stroke-width="0.82" stroke-linecap="round"/><line x1="773.8" y1="201.5" x2="772.4" y2="198.4" stroke="#c4bc94" stroke-width="0.99" stroke-linecap="round"/><line x1="785.0" y1="174.8" x2="786.5" y2="171.5" stroke="#44482e" stroke-width="1.30" stroke-linecap="round"/><line x1="758.1" y1="179.0" x2="756.3" y2="175.6" stroke="#a8a274" stroke-width="1.11" stroke-linecap="round"/><line x1="775.3" y1="204.0" x2="777.2" y2="200.2" stroke="#c4bc94" stroke-width="1.08" stroke-linecap="round"/><line x1="779.3" y1="178.0" x2="779.0" y2="174.8" stroke="#a8a274" stroke-width="0.62" stroke-linecap="round"/><line x1="779.3" y1="177.5" x2="778.5" y2="172.4" stroke="#b8b084" stroke-width="0.67" stroke-linecap="round"/><line x1="767.6" y1="187.7" x2="766.3" y2="182.6" stroke="#c4bc94" stroke-width="1.01" stroke-linecap="round"/><line x1="770.7" y1="194.0" x2="771.3" y2="192.0" stroke="#a8a274" stroke-width="1.21" stroke-linecap="round"/><line x1="785.6" y1="195.7" x2="785.5" y2="193.7" stroke="#c4bc94" stroke-width="1.12" stroke-linecap="round"/><line x1="764.7" y1="188.0" x2="765.8" y2="185.7" stroke="#3a4028" stroke-width="0.74" stroke-linecap="round"/><line x1="772.9" y1="184.3" x2="772.6" y2="181.9" stroke="#b8b084" stroke-width="0.77" stroke-linecap="round"/><line x1="764.6" y1="201.5" x2="764.0" y2="199.1" stroke="#323822" stroke-width="0.72" stroke-linecap="round"/><line x1="762.2" y1="204.6" x2="761.6" y2="202.1" stroke="#323822" stroke-width="1.10" stroke-linecap="round"/><line x1="782.6" y1="190.2" x2="782.3" y2="188.1" stroke="#44482e" stroke-width="0.98" stroke-linecap="round"/><line x1="757.3" y1="205.0" x2="755.9" y2="200.1" stroke="#3a4028" stroke-width="0.84" stroke-linecap="round"/><line x1="780.3" y1="173.5" x2="780.7" y2="169.3" stroke="#323822" stroke-width="1.13" stroke-linecap="round"/><line x1="747.7" y1="197.5" x2="746.3" y2="192.8" stroke="#44482e" stroke-width="0.84" stroke-linecap="round"/><line x1="757.9" y1="168.8" x2="757.9" y2="166.6" stroke="#b8b084" stroke-width="0.68" stroke-linecap="round"/><line x1="761.4" y1="205.0" x2="761.5" y2="200.1" stroke="#b8b084" stroke-width="1.02" stroke-linecap="round"/><line x1="775.7" y1="187.2" x2="776.0" y2="185.1" stroke="#323822" stroke-width="0.63" stroke-linecap="round"/><line x1="755.2" y1="177.4" x2="756.2" y2="173.7" stroke="#c4bc94" stroke-width="0.71" stroke-linecap="round"/><line x1="754.9" y1="177.8" x2="755.3" y2="175.5" stroke="#a8a274" stroke-width="1.13" stroke-linecap="round"/><line x1="760.2" y1="197.2" x2="764.3" y2="194.4" stroke="#a8a274" stroke-width="0.91" stroke-linecap="round"/><line x1="761.5" y1="173.9" x2="759.5" y2="172.0" stroke="#c4bc94" stroke-width="0.89" stroke-linecap="round"/><line x1="755.0" y1="171.6" x2="755.2" y2="167.9" stroke="#323822" stroke-width="1.19" stroke-linecap="round"/><line x1="773.6" y1="182.7" x2="770.1" y2="180.2" stroke="#c4bc94" stroke-width="0.87" stroke-linecap="round"/></g></svg>
<text x="593.80" y="213.30" font-size="6.1" text-anchor="middle" fill="#222" stroke="#222" stroke-width="0.1">AABBDD</text>
<text x="635.00" y="213.30" font-size="6.1" text-anchor="middle" fill="#222" stroke="#222" stroke-width="0.1">AABBdd</text>
<text x="678.50" y="213.30" font-size="6.1" text-anchor="middle" fill="#222" stroke="#222" stroke-width="0.1">aabbDD</text>
<text x="720.80" y="213.30" font-size="6.1" text-anchor="middle" fill="#222" stroke="#222" stroke-width="0.1">aaBBdd</text>
<text x="762.40" y="213.30" font-size="6.1" text-anchor="middle" fill="#222" stroke="#222" stroke-width="0.1">aabbdd</text>
</g>
<g id="right2">
<text x="559.40" y="225.30" font-size="8.5" fill="#111" stroke="#111" stroke-width="0.1" font-weight="bold">D</text>
<rect x="571.20" y="217.20" width="215.20" height="97.20" fill="#070707" />
<g filter="url(#pb)"><path d="M590.1,260.3 Q579.4,258.4 574.8,261.9" fill="none" stroke="#d8a870" stroke-width="0.59" stroke-linecap="round"/><path d="M601.5,274.7 Q610.1,273.9 613.8,275.0" fill="none" stroke="#c89860" stroke-width="0.55" stroke-linecap="round"/><path d="M589.4,274.9 Q584.6,271.0 582.6,286.2" fill="none" stroke="#d8a870" stroke-width="0.87" stroke-linecap="round"/><path d="M602.3,268.4 Q612.3,268.1 616.7,260.1" fill="none" stroke="#c89860" stroke-width="0.80" stroke-linecap="round"/><path d="M591.3,273.6 Q582.8,272.8 579.2,269.5" fill="none" stroke="#b08050" stroke-width="0.75" stroke-linecap="round"/><path d="M601.4,268.9 Q607.8,264.9 610.5,280.8" fill="none" stroke="#c89860" stroke-width="0.85" stroke-linecap="round"/><path d="M591.8,254.7 Q585.4,254.4 582.6,261.8" fill="none" stroke="#b08050" stroke-width="0.55" stroke-linecap="round"/><path d="M588.3,289.0 Q585.6,264.5 584.8,240.1" fill="none" stroke="#e4ba8c" stroke-width="0.68"/><path d="M589.7,289.0 Q588.0,266.8 586.6,244.6" fill="none" stroke="#d89e78" stroke-width="0.89"/><path d="M589.8,289.0 Q588.5,265.0 588.0,241.1" fill="none" stroke="#e0b282" stroke-width="1.13"/><path d="M591.1,289.0 Q588.7,264.6 588.2,240.3" fill="none" stroke="#d6a26e" stroke-width="0.83"/><path d="M591.6,289.0 Q590.3,264.3 590.2,239.7" fill="none" stroke="#c08a58" stroke-width="0.99"/><path d="M592.1,289.0 Q592.6,264.0 591.3,239.0" fill="none" stroke="#d89e78" stroke-width="0.55"/><path d="M593.6,289.0 Q592.7,265.0 592.9,241.1" fill="none" stroke="#d6a26e" stroke-width="0.79"/><path d="M594.4,289.0 Q593.3,263.6 593.5,238.3" fill="none" stroke="#c89260" stroke-width="0.70"/><path d="M595.1,289.0 Q593.7,264.0 594.1,239.0" fill="none" stroke="#d6a26e" stroke-width="0.68"/><path d="M595.7,289.0 Q595.1,264.0 594.7,239.0" fill="none" stroke="#c08a58" stroke-width="1.13"/><path d="M596.4,289.0 Q596.8,265.2 596.7,241.5" fill="none" stroke="#c89260" stroke-width="0.74"/><path d="M596.9,289.0 Q597.9,265.1 597.8,241.1" fill="none" stroke="#c89260" stroke-width="1.11"/><path d="M597.7,289.0 Q597.7,265.6 599.5,242.2" fill="none" stroke="#c08a58" stroke-width="0.58"/><path d="M598.4,289.0 Q599.5,264.2 599.9,239.4" fill="none" stroke="#e4ba8c" stroke-width="0.70"/><path d="M599.9,289.0 Q601.4,264.4 601.1,239.9" fill="none" stroke="#c89260" stroke-width="1.14"/><path d="M600.0,289.0 Q601.2,265.5 602.0,242.0" fill="none" stroke="#c08a58" stroke-width="0.72"/><path d="M601.5,289.0 Q602.0,264.1 602.7,239.1" fill="none" stroke="#e0b282" stroke-width="0.70"/><path d="M601.5,289.0 Q601.9,265.5 603.9,242.0" fill="none" stroke="#c89260" stroke-width="0.63"/><path d="M602.7,289.0 Q604.1,266.2 605.1,243.3" fill="none" stroke="#c08a58" stroke-width="0.63"/><path d="M603.0,289.0 Q604.0,266.8 605.7,244.6" fill="none" stroke="#e4ba8c" stroke-width="0.57"/><g transform="rotate(-17 584.8 240.1)"><ellipse cx="584.8" cy="236.1" rx="0.79" ry="4.9" fill="#dcb47c"/><line x1="585.8" y1="234.2" x2="584.5" y2="228.6" stroke="#dcb47c" stroke-width="0.3" opacity="0.8"/><line x1="585.3" y1="234.2" x2="586.5" y2="228.2" stroke="#dcb47c" stroke-width="0.3" opacity="0.8"/><line x1="585.2" y1="234.2" x2="586.1" y2="227.9" stroke="#dcb47c" stroke-width="0.3" opacity="0.8"/></g><g transform="rotate(-6 586.6 244.6)"><ellipse cx="586.6" cy="239.6" rx="1.07" ry="6.0" fill="#dcb47c"/><line x1="585.6" y1="237.3" x2="585.6" y2="232.0" stroke="#dcb47c" stroke-width="0.3" opacity="0.8"/><line x1="586.9" y1="237.3" x2="586.5" y2="232.0" stroke="#dcb47c" stroke-width="0.3" opacity="0.8"/><line x1="585.7" y1="237.3" x2="584.5" y2="231.8" stroke="#dcb47c" stroke-width="0.3" opacity="0.8"/></g><g transform="rotate(-12 588.0 241.1)"><ellipse cx="588.0" cy="236.5" rx="0.96" ry="5.5" fill="#eed0a0"/><line x1="587.9" y1="234.4" x2="587.8" y2="228.4" stroke="#eed0a0" stroke-width="0.3" opacity="0.8"/><line x1="588.0" y1="234.4" x2="588.1" y2="228.8" stroke="#eed0a0" stroke-width="0.3" opacity="0.8"/><line x1="587.2" y1="234.4" x2="585.7" y2="227.5" stroke="#eed0a0" stroke-width="0.3" opacity="0.8"/></g><g transform="rotate(-7 590.2 239.7)"><ellipse cx="590.2" cy="234.7" rx="0.82" ry="6.0" fill="#e6c28e"/><line x1="589.5" y1="232.5" x2="589.8" y2="226.2" stroke="#e6c28e" stroke-width="0.3" opacity="0.8"/><line x1="590.7" y1="232.5" x2="590.2" y2="225.3" stroke="#e6c28e" stroke-width="0.3" opacity="0.8"/><line x1="590.2" y1="232.5" x2="589.4" y2="226.4" stroke="#e6c28e" stroke-width="0.3" opacity="0.8"/></g><g transform="rotate(-2 591.3 239.0)"><ellipse cx="591.3" cy="234.1" rx="1.05" ry="5.9" fill="#e6c28e"/><line x1="591.0" y1="231.9" x2="591.3" y2="226.0" stroke="#e6c28e" stroke-width="0.3" opacity="0.8"/><line x1="590.5" y1="231.9" x2="590.5" y2="224.9" stroke="#e6c28e" stroke-width="0.3" opacity="0.8"/><line x1="592.0" y1="231.9" x2="592.6" y2="224.7" stroke="#e6c28e" stroke-width="0.3" opacity="0.8"/></g><g transform="rotate(-5 592.9 241.1)"><ellipse cx="592.9" cy="237.0" rx="1.07" ry="5.1" fill="#dcb47c"/><line x1="593.6" y1="234.9" x2="593.2" y2="229.3" stroke="#dcb47c" stroke-width="0.3" opacity="0.8"/><line x1="593.2" y1="234.9" x2="593.9" y2="228.7" stroke="#dcb47c" stroke-width="0.3" opacity="0.8"/><line x1="593.1" y1="234.9" x2="592.6" y2="228.7" stroke="#dcb47c" stroke-width="0.3" opacity="0.8"/></g><g transform="rotate(-1 593.5 238.3)"><ellipse cx="593.5" cy="233.4" rx="0.91" ry="5.9" fill="#dcb47c"/><line x1="593.1" y1="231.2" x2="594.0" y2="226.0" stroke="#dcb47c" stroke-width="0.3" opacity="0.8"/><line x1="592.7" y1="231.2" x2="592.6" y2="226.0" stroke="#dcb47c" stroke-width="0.3" opacity="0.8"/><line x1="594.1" y1="231.2" x2="593.3" y2="225.7" stroke="#dcb47c" stroke-width="0.3" opacity="0.8"/></g><g transform="rotate(1 594.7 239.0)"><ellipse cx="594.7" cy="234.4" rx="0.94" ry="5.6" fill="#eed0a0"/><line x1="594.4" y1="232.3" x2="593.1" y2="226.9" stroke="#eed0a0" stroke-width="0.3" opacity="0.8"/><line x1="595.3" y1="232.3" x2="594.6" y2="225.9" stroke="#eed0a0" stroke-width="0.3" opacity="0.8"/><line x1="595.2" y1="232.3" x2="595.3" y2="227.2" stroke="#eed0a0" stroke-width="0.3" opacity="0.8"/></g><g transform="rotate(1 596.7 241.5)"><ellipse cx="596.7" cy="236.3" rx="0.88" ry="6.2" fill="#eed0a0"/><line x1="597.7" y1="234.0" x2="596.6" y2="226.9" stroke="#eed0a0" stroke-width="0.3" opacity="0.8"/><line x1="597.1" y1="234.0" x2="596.2" y2="227.8" stroke="#eed0a0" stroke-width="0.3" opacity="0.8"/><line x1="597.5" y1="234.0" x2="597.1" y2="227.7" stroke="#eed0a0" stroke-width="0.3" opacity="0.8"/></g><g transform="rotate(-4 597.8 241.1)"><ellipse cx="597.8" cy="235.7" rx="0.91" ry="6.4" fill="#eed0a0"/><line x1="598.6" y1="233.4" x2="599.5" y2="225.9" stroke="#eed0a0" stroke-width="0.3" opacity="0.8"/><line x1="597.8" y1="233.4" x2="598.2" y2="227.4" stroke="#eed0a0" stroke-width="0.3" opacity="0.8"/><line x1="598.3" y1="233.4" x2="599.2" y2="226.5" stroke="#eed0a0" stroke-width="0.3" opacity="0.8"/></g><g transform="rotate(8 599.5 242.2)"><ellipse cx="599.5" cy="238.0" rx="1.09" ry="5.2" fill="#e6c28e"/><line x1="599.6" y1="236.0" x2="600.4" y2="230.7" stroke="#e6c28e" stroke-width="0.3" opacity="0.8"/><line x1="600.3" y1="236.0" x2="601.4" y2="230.6" stroke="#e6c28e" stroke-width="0.3" opacity="0.8"/><line x1="598.6" y1="236.0" x2="598.5" y2="230.2" stroke="#e6c28e" stroke-width="0.3" opacity="0.8"/></g><g transform="rotate(-1 599.9 239.4)"><ellipse cx="599.9" cy="234.7" rx="0.84" ry="5.7" fill="#e6c28e"/><line x1="599.0" y1="232.6" x2="599.1" y2="226.2" stroke="#e6c28e" stroke-width="0.3" opacity="0.8"/><line x1="600.7" y1="232.6" x2="600.6" y2="225.5" stroke="#e6c28e" stroke-width="0.3" opacity="0.8"/><line x1="600.7" y1="232.6" x2="600.7" y2="226.2" stroke="#e6c28e" stroke-width="0.3" opacity="0.8"/></g><g transform="rotate(7 601.1 239.9)"><ellipse cx="601.1" cy="234.5" rx="0.69" ry="6.4" fill="#eed0a0"/><line x1="600.6" y1="232.2" x2="600.7" y2="226.0" stroke="#eed0a0" stroke-width="0.3" opacity="0.8"/><line x1="601.6" y1="232.2" x2="602.0" y2="225.6" stroke="#eed0a0" stroke-width="0.3" opacity="0.8"/><line x1="601.8" y1="232.2" x2="602.0" y2="226.0" stroke="#eed0a0" stroke-width="0.3" opacity="0.8"/></g><g transform="rotate(12 602.0 242.0)"><ellipse cx="602.0" cy="236.7" rx="0.79" ry="6.3" fill="#e6c28e"/><line x1="601.3" y1="234.4" x2="601.5" y2="228.3" stroke="#e6c28e" stroke-width="0.3" opacity="0.8"/><line x1="602.0" y1="234.4" x2="601.8" y2="228.6" stroke="#e6c28e" stroke-width="0.3" opacity="0.8"/><line x1="601.1" y1="234.4" x2="600.7" y2="227.8" stroke="#e6c28e" stroke-width="0.3" opacity="0.8"/></g><g transform="rotate(15 603.9 242.0)"><ellipse cx="603.9" cy="237.2" rx="0.87" ry="5.8" fill="#e6c28e"/><line x1="604.3" y1="235.1" x2="603.0" y2="228.9" stroke="#e6c28e" stroke-width="0.3" opacity="0.8"/><line x1="603.8" y1="235.1" x2="605.1" y2="228.1" stroke="#e6c28e" stroke-width="0.3" opacity="0.8"/><line x1="603.5" y1="235.1" x2="603.4" y2="229.7" stroke="#e6c28e" stroke-width="0.3" opacity="0.8"/></g><g transform="rotate(16 605.1 243.3)"><ellipse cx="605.1" cy="238.1" rx="0.89" ry="6.3" fill="#dcb47c"/><line x1="604.3" y1="235.8" x2="604.1" y2="230.3" stroke="#dcb47c" stroke-width="0.3" opacity="0.8"/><line x1="604.6" y1="235.8" x2="605.3" y2="228.4" stroke="#dcb47c" stroke-width="0.3" opacity="0.8"/><line x1="604.2" y1="235.8" x2="603.2" y2="230.3" stroke="#dcb47c" stroke-width="0.3" opacity="0.8"/></g><g transform="rotate(9 605.7 244.6)"><ellipse cx="605.7" cy="239.4" rx="0.70" ry="6.1" fill="#dcb47c"/><line x1="606.2" y1="237.2" x2="605.1" y2="230.8" stroke="#dcb47c" stroke-width="0.3" opacity="0.8"/><line x1="605.2" y1="237.2" x2="604.3" y2="230.8" stroke="#dcb47c" stroke-width="0.3" opacity="0.8"/><line x1="605.6" y1="237.2" x2="605.2" y2="231.0" stroke="#dcb47c" stroke-width="0.3" opacity="0.8"/></g>
<path d="M630.0,258.8 Q621.1,258.2 617.3,250.0" fill="none" stroke="#4e642c" stroke-width="0.74" stroke-linecap="round"/><path d="M641.9,266.3 Q652.2,265.4 656.6,257.3" fill="none" stroke="#7a7044" stroke-width="0.57" stroke-linecap="round"/><path d="M632.6,257.2 Q622.1,257.0 617.6,265.4" fill="none" stroke="#5e7634" stroke-width="0.76" stroke-linecap="round"/><path d="M643.1,274.1 Q652.9,273.8 657.1,284.4" fill="none" stroke="#7a7044" stroke-width="0.61" stroke-linecap="round"/><path d="M631.3,281.7 Q623.8,279.0 620.6,293.1" fill="none" stroke="#7a7044" stroke-width="0.66" stroke-linecap="round"/><path d="M640.4,265.3 Q649.5,265.1 653.4,259.9" fill="none" stroke="#5e7634" stroke-width="0.70" stroke-linecap="round"/><path d="M630.4,256.3 Q622.7,254.7 619.4,247.9" fill="none" stroke="#5e7634" stroke-width="0.98" stroke-linecap="round"/><path d="M643.0,281.1 Q649.9,279.6 652.8,286.6" fill="none" stroke="#4e642c" stroke-width="0.56" stroke-linecap="round"/><path d="M631.6,248.1 Q623.7,244.8 620.3,249.6" fill="none" stroke="#5e7634" stroke-width="0.69" stroke-linecap="round"/><path d="M639.7,275.9 Q644.3,273.2 646.3,267.8" fill="none" stroke="#6c8040" stroke-width="0.89" stroke-linecap="round"/><path d="M630.6,242.2 Q624.9,239.4 622.5,234.0" fill="none" stroke="#4e642c" stroke-width="0.75" stroke-linecap="round"/><path d="M643.3,264.4 Q651.2,263.0 654.6,262.6" fill="none" stroke="#98905a" stroke-width="0.74" stroke-linecap="round"/><path d="M629.5,289.0 Q627.6,264.1 626.0,239.3" fill="none" stroke="#768c42" stroke-width="0.88"/><path d="M629.5,289.0 Q629.4,262.1 627.5,235.3" fill="none" stroke="#86984c" stroke-width="1.10"/><path d="M630.9,289.0 Q628.8,263.4 627.7,237.8" fill="none" stroke="#86984c" stroke-width="0.62"/><path d="M631.2,289.0 Q631.1,261.7 629.4,234.3" fill="none" stroke="#7e9446" stroke-width="0.95"/><path d="M631.9,289.0 Q630.9,263.1 629.8,237.2" fill="none" stroke="#b89c60" stroke-width="0.76"/><path d="M633.1,289.0 Q631.9,262.8 631.4,236.6" fill="none" stroke="#b89c60" stroke-width="1.07"/><path d="M633.5,289.0 Q633.8,262.1 633.3,235.2" fill="none" stroke="#b89c60" stroke-width="0.68"/><path d="M634.3,289.0 Q633.1,262.4 633.3,235.7" fill="none" stroke="#86984c" stroke-width="1.08"/><path d="M635.2,289.0 Q635.0,261.6 634.4,234.2" fill="none" stroke="#86984c" stroke-width="0.92"/><path d="M636.5,289.0 Q636.5,262.2 636.7,235.5" fill="none" stroke="#6a8238" stroke-width="0.61"/><path d="M636.8,289.0 Q637.0,261.7 636.6,234.4" fill="none" stroke="#7e9446" stroke-width="0.78"/><path d="M637.3,289.0 Q638.5,260.9 638.5,232.8" fill="none" stroke="#86984c" stroke-width="1.09"/><path d="M638.9,289.0 Q639.7,262.6 639.3,236.2" fill="none" stroke="#6a8238" stroke-width="0.98"/><path d="M639.0,289.0 Q639.7,262.8 640.0,236.6" fill="none" stroke="#b89c60" stroke-width="0.62"/><path d="M640.1,289.0 Q640.1,261.9 641.8,234.9" fill="none" stroke="#a4a662" stroke-width="0.76"/><path d="M640.4,289.0 Q641.0,262.8 642.3,236.7" fill="none" stroke="#c0a870" stroke-width="0.66"/><path d="M641.8,289.0 Q641.9,262.4 643.9,235.7" fill="none" stroke="#768c42" stroke-width="0.84"/><path d="M642.4,289.0 Q643.2,263.1 644.3,237.2" fill="none" stroke="#7e9446" stroke-width="1.08"/><path d="M642.8,289.0 Q643.7,264.0 645.5,239.0" fill="none" stroke="#7e9446" stroke-width="0.67"/><path d="M643.9,289.0 Q644.6,264.0 646.6,239.1" fill="none" stroke="#7e9446" stroke-width="0.83"/><g transform="rotate(-15 626.0 239.3)"><ellipse cx="626.0" cy="234.0" rx="1.00" ry="6.3" fill="#e8d0a0"/><line x1="625.1" y1="231.7" x2="625.9" y2="225.3" stroke="#e8d0a0" stroke-width="0.3" opacity="0.8"/><line x1="626.4" y1="231.7" x2="627.2" y2="225.1" stroke="#e8d0a0" stroke-width="0.3" opacity="0.8"/><line x1="625.8" y1="231.7" x2="624.5" y2="225.9" stroke="#e8d0a0" stroke-width="0.3" opacity="0.8"/></g><g transform="rotate(-8 627.5 235.3)"><ellipse cx="627.5" cy="230.9" rx="0.80" ry="5.4" fill="#dcbc84"/><line x1="627.5" y1="228.8" x2="627.1" y2="223.4" stroke="#dcbc84" stroke-width="0.3" opacity="0.8"/><line x1="626.8" y1="228.8" x2="626.0" y2="223.0" stroke="#dcbc84" stroke-width="0.3" opacity="0.8"/><line x1="627.0" y1="228.8" x2="625.7" y2="222.5" stroke="#dcbc84" stroke-width="0.3" opacity="0.8"/></g><g transform="rotate(-8 627.7 237.8)"><ellipse cx="627.7" cy="232.4" rx="1.02" ry="6.5" fill="#e8d0a0"/><line x1="628.3" y1="230.1" x2="628.6" y2="224.1" stroke="#e8d0a0" stroke-width="0.3" opacity="0.8"/><line x1="627.2" y1="230.1" x2="625.8" y2="223.1" stroke="#e8d0a0" stroke-width="0.3" opacity="0.8"/><line x1="628.3" y1="230.1" x2="627.9" y2="223.5" stroke="#e8d0a0" stroke-width="0.3" opacity="0.8"/></g><g transform="rotate(-5 629.4 234.3)"><ellipse cx="629.4" cy="229.9" rx="0.82" ry="5.4" fill="#e8d0a0"/><line x1="629.2" y1="227.8" x2="630.1" y2="222.7" stroke="#e8d0a0" stroke-width="0.3" opacity="0.8"/><line x1="628.8" y1="227.8" x2="628.1" y2="221.1" stroke="#e8d0a0" stroke-width="0.3" opacity="0.8"/><line x1="629.4" y1="227.8" x2="628.1" y2="221.3" stroke="#e8d0a0" stroke-width="0.3" opacity="0.8"/></g><g transform="rotate(-9 629.8 237.2)"><ellipse cx="629.8" cy="231.9" rx="1.00" ry="6.3" fill="#d2ae74"/><line x1="630.5" y1="229.6" x2="630.0" y2="222.4" stroke="#d2ae74" stroke-width="0.3" opacity="0.8"/><line x1="630.3" y1="229.6" x2="631.4" y2="223.0" stroke="#d2ae74" stroke-width="0.3" opacity="0.8"/><line x1="628.9" y1="229.6" x2="629.8" y2="223.7" stroke="#d2ae74" stroke-width="0.3" opacity="0.8"/></g><g transform="rotate(-1 631.4 236.6)"><ellipse cx="631.4" cy="231.4" rx="1.00" ry="6.3" fill="#e2c690"/><line x1="631.5" y1="229.1" x2="630.1" y2="221.8" stroke="#e2c690" stroke-width="0.3" opacity="0.8"/><line x1="631.2" y1="229.1" x2="631.2" y2="223.2" stroke="#e2c690" stroke-width="0.3" opacity="0.8"/><line x1="630.6" y1="229.1" x2="629.2" y2="223.4" stroke="#e2c690" stroke-width="0.3" opacity="0.8"/></g><g transform="rotate(-7 633.3 235.2)"><ellipse cx="633.3" cy="230.5" rx="0.94" ry="5.7" fill="#d2ae74"/><line x1="633.1" y1="228.4" x2="632.9" y2="222.3" stroke="#d2ae74" stroke-width="0.3" opacity="0.8"/><line x1="633.8" y1="228.4" x2="633.1" y2="221.5" stroke="#d2ae74" stroke-width="0.3" opacity="0.8"/><line x1="633.3" y1="228.4" x2="634.4" y2="221.9" stroke="#d2ae74" stroke-width="0.3" opacity="0.8"/></g><g transform="rotate(-4 633.3 235.7)"><ellipse cx="633.3" cy="230.7" rx="1.08" ry="6.0" fill="#e8d0a0"/><line x1="633.1" y1="228.5" x2="631.8" y2="221.3" stroke="#e8d0a0" stroke-width="0.3" opacity="0.8"/><line x1="633.0" y1="228.5" x2="632.2" y2="222.3" stroke="#e8d0a0" stroke-width="0.3" opacity="0.8"/><line x1="634.0" y1="228.5" x2="635.0" y2="221.3" stroke="#e8d0a0" stroke-width="0.3" opacity="0.8"/></g><g transform="rotate(4 636.7 235.5)"><ellipse cx="636.7" cy="230.6" rx="0.92" ry="5.8" fill="#dcbc84"/><line x1="636.9" y1="228.5" x2="637.8" y2="222.1" stroke="#dcbc84" stroke-width="0.3" opacity="0.8"/><line x1="636.6" y1="228.5" x2="636.1" y2="222.0" stroke="#dcbc84" stroke-width="0.3" opacity="0.8"/><line x1="637.3" y1="228.5" x2="638.2" y2="222.5" stroke="#dcbc84" stroke-width="0.3" opacity="0.8"/></g><g transform="rotate(-5 636.6 234.4)"><ellipse cx="636.6" cy="230.0" rx="0.71" ry="5.4" fill="#d2ae74"/><line x1="635.8" y1="228.0" x2="635.8" y2="222.9" stroke="#d2ae74" stroke-width="0.3" opacity="0.8"/><line x1="636.1" y1="228.0" x2="635.2" y2="222.9" stroke="#d2ae74" stroke-width="0.3" opacity="0.8"/><line x1="636.4" y1="228.0" x2="636.0" y2="222.3" stroke="#d2ae74" stroke-width="0.3" opacity="0.8"/></g><g transform="rotate(5 638.5 232.8)"><ellipse cx="638.5" cy="227.9" rx="0.80" ry="5.9" fill="#e8d0a0"/><line x1="639.2" y1="225.7" x2="639.6" y2="219.3" stroke="#e8d0a0" stroke-width="0.3" opacity="0.8"/><line x1="637.6" y1="225.7" x2="637.1" y2="220.0" stroke="#e8d0a0" stroke-width="0.3" opacity="0.8"/><line x1="638.6" y1="225.7" x2="639.6" y2="219.2" stroke="#e8d0a0" stroke-width="0.3" opacity="0.8"/></g><g transform="rotate(1 639.3 236.2)"><ellipse cx="639.3" cy="231.9" rx="0.70" ry="5.3" fill="#dcbc84"/><line x1="639.5" y1="229.9" x2="639.5" y2="224.4" stroke="#dcbc84" stroke-width="0.3" opacity="0.8"/><line x1="638.6" y1="229.9" x2="639.0" y2="224.6" stroke="#dcbc84" stroke-width="0.3" opacity="0.8"/><line x1="639.0" y1="229.9" x2="638.6" y2="223.3" stroke="#dcbc84" stroke-width="0.3" opacity="0.8"/></g><g transform="rotate(6 640.0 236.6)"><ellipse cx="640.0" cy="231.1" rx="0.73" ry="6.5" fill="#dcbc84"/><line x1="639.8" y1="228.8" x2="638.9" y2="222.4" stroke="#dcbc84" stroke-width="0.3" opacity="0.8"/><line x1="639.7" y1="228.8" x2="639.3" y2="221.2" stroke="#dcbc84" stroke-width="0.3" opacity="0.8"/><line x1="639.6" y1="228.8" x2="639.1" y2="221.8" stroke="#dcbc84" stroke-width="0.3" opacity="0.8"/></g><g transform="rotate(7 641.8 234.9)"><ellipse cx="641.8" cy="230.2" rx="1.03" ry="5.7" fill="#dcbc84"/><line x1="641.8" y1="228.0" x2="642.9" y2="222.6" stroke="#dcbc84" stroke-width="0.3" opacity="0.8"/><line x1="641.8" y1="228.0" x2="640.5" y2="222.3" stroke="#dcbc84" stroke-width="0.3" opacity="0.8"/><line x1="642.4" y1="228.0" x2="641.6" y2="222.8" stroke="#dcbc84" stroke-width="0.3" opacity="0.8"/></g><g transform="rotate(4 642.3 236.7)"><ellipse cx="642.3" cy="232.5" rx="0.94" ry="5.1" fill="#dcbc84"/><line x1="642.5" y1="230.5" x2="642.4" y2="224.0" stroke="#dcbc84" stroke-width="0.3" opacity="0.8"/><line x1="642.2" y1="230.5" x2="643.5" y2="225.1" stroke="#dcbc84" stroke-width="0.3" opacity="0.8"/><line x1="642.2" y1="230.5" x2="641.8" y2="224.5" stroke="#dcbc84" stroke-width="0.3" opacity="0.8"/></g><g transform="rotate(9 643.9 235.7)"><ellipse cx="643.9" cy="231.5" rx="0.88" ry="5.2" fill="#e8d0a0"/><line x1="644.2" y1="229.5" x2="644.6" y2="223.3" stroke="#e8d0a0" stroke-width="0.3" opacity="0.8"/><line x1="643.6" y1="229.5" x2="643.0" y2="224.7" stroke="#e8d0a0" stroke-width="0.3" opacity="0.8"/><line x1="644.7" y1="229.5" x2="645.6" y2="224.0" stroke="#e8d0a0" stroke-width="0.3" opacity="0.8"/></g><g transform="rotate(5 644.3 237.2)"><ellipse cx="644.3" cy="231.8" rx="0.91" ry="6.4" fill="#e8d0a0"/><line x1="643.6" y1="229.5" x2="643.4" y2="222.2" stroke="#e8d0a0" stroke-width="0.3" opacity="0.8"/><line x1="643.6" y1="229.5" x2="643.4" y2="222.8" stroke="#e8d0a0" stroke-width="0.3" opacity="0.8"/><line x1="643.8" y1="229.5" x2="642.9" y2="222.3" stroke="#e8d0a0" stroke-width="0.3" opacity="0.8"/></g><g transform="rotate(8 645.5 239.0)"><ellipse cx="645.5" cy="234.3" rx="1.07" ry="5.7" fill="#dcbc84"/><line x1="644.7" y1="232.1" x2="643.9" y2="225.3" stroke="#dcbc84" stroke-width="0.3" opacity="0.8"/><line x1="646.3" y1="232.1" x2="647.6" y2="226.0" stroke="#dcbc84" stroke-width="0.3" opacity="0.8"/><line x1="645.2" y1="232.1" x2="644.3" y2="225.2" stroke="#dcbc84" stroke-width="0.3" opacity="0.8"/></g><g transform="rotate(15 646.6 239.1)"><ellipse cx="646.6" cy="234.3" rx="0.67" ry="5.8" fill="#d2ae74"/><line x1="646.6" y1="232.1" x2="646.5" y2="226.0" stroke="#d2ae74" stroke-width="0.3" opacity="0.8"/><line x1="646.6" y1="232.1" x2="648.0" y2="225.9" stroke="#d2ae74" stroke-width="0.3" opacity="0.8"/><line x1="647.2" y1="232.1" x2="645.9" y2="226.4" stroke="#d2ae74" stroke-width="0.3" opacity="0.8"/></g>
<path d="M676.4,250.9 Q667.3,247.5 663.4,245.8" fill="none" stroke="#6c8040" stroke-width="0.83" stroke-linecap="round"/><path d="M689.4,276.9 Q695.1,276.6 697.6,285.6" fill="none" stroke="#4e642c" stroke-width="0.51" stroke-linecap="round"/><path d="M676.4,245.3 Q665.2,241.3 660.4,253.8" fill="none" stroke="#5e7634" stroke-width="0.94" stroke-linecap="round"/><path d="M690.2,274.3 Q700.3,271.4 704.6,285.3" fill="none" stroke="#4e642c" stroke-width="0.68" stroke-linecap="round"/><path d="M675.3,249.8 Q667.1,245.9 663.6,254.9" fill="none" stroke="#98905a" stroke-width="0.82" stroke-linecap="round"/><path d="M687.8,267.8 Q696.3,265.2 699.9,264.3" fill="none" stroke="#98905a" stroke-width="0.78" stroke-linecap="round"/><path d="M679.3,271.7 Q670.3,270.0 666.4,266.4" fill="none" stroke="#6c8040" stroke-width="0.59" stroke-linecap="round"/><path d="M687.9,255.0 Q694.2,253.9 696.9,264.7" fill="none" stroke="#7a7044" stroke-width="0.75" stroke-linecap="round"/><path d="M678.8,249.9 Q673.0,248.4 670.5,242.4" fill="none" stroke="#98905a" stroke-width="0.69" stroke-linecap="round"/><path d="M690.9,270.5 Q695.7,269.9 697.7,278.4" fill="none" stroke="#98905a" stroke-width="0.82" stroke-linecap="round"/><path d="M677.8,246.7 Q667.5,243.1 663.1,254.5" fill="none" stroke="#6c8040" stroke-width="0.85" stroke-linecap="round"/><path d="M688.7,266.7 Q697.6,263.1 701.4,272.5" fill="none" stroke="#6c8040" stroke-width="0.86" stroke-linecap="round"/><path d="M675.2,289.0 Q673.7,264.7 672.7,240.4" fill="none" stroke="#86984c" stroke-width="0.99"/><path d="M676.1,289.0 Q675.5,263.5 673.3,238.0" fill="none" stroke="#94a258" stroke-width="0.65"/><path d="M677.0,289.0 Q676.9,265.0 674.9,240.9" fill="none" stroke="#86984c" stroke-width="1.05"/><path d="M678.0,289.0 Q676.2,263.1 675.9,237.2" fill="none" stroke="#c0a870" stroke-width="0.73"/><path d="M678.4,289.0 Q677.8,262.8 677.1,236.6" fill="none" stroke="#b89c60" stroke-width="1.06"/><path d="M679.0,289.0 Q677.8,262.8 677.7,236.7" fill="none" stroke="#b89c60" stroke-width="0.67"/><path d="M680.5,289.0 Q680.2,264.1 678.9,239.2" fill="none" stroke="#768c42" stroke-width="0.70"/><path d="M681.2,289.0 Q680.7,262.8 680.8,236.6" fill="none" stroke="#a4a662" stroke-width="0.70"/><path d="M681.6,289.0 Q680.9,262.9 680.9,236.7" fill="none" stroke="#86984c" stroke-width="0.83"/><path d="M682.2,289.0 Q681.3,264.1 681.7,239.3" fill="none" stroke="#c0a870" stroke-width="0.84"/><path d="M683.4,289.0 Q684.3,262.6 683.3,236.1" fill="none" stroke="#6a8238" stroke-width="0.64"/><path d="M683.7,289.0 Q683.7,262.4 684.4,235.8" fill="none" stroke="#c0a870" stroke-width="0.78"/><path d="M684.5,289.0 Q685.0,263.0 685.2,237.1" fill="none" stroke="#b89c60" stroke-width="0.90"/><path d="M685.7,289.0 Q685.8,263.0 686.6,237.1" fill="none" stroke="#86984c" stroke-width="1.09"/><path d="M686.6,289.0 Q687.8,262.5 687.4,235.9" fill="none" stroke="#a4a662" stroke-width="0.96"/><path d="M686.9,289.0 Q689.0,262.8 689.8,236.6" fill="none" stroke="#c0a870" stroke-width="0.68"/><path d="M688.3,289.0 Q688.8,265.1 690.5,241.2" fill="none" stroke="#b89c60" stroke-width="0.79"/><path d="M688.5,289.0 Q690.8,263.1 691.4,237.1" fill="none" stroke="#768c42" stroke-width="1.01"/><path d="M689.6,289.0 Q690.4,263.5 692.2,237.9" fill="none" stroke="#c0a870" stroke-width="0.77"/><path d="M690.9,289.0 Q692.7,263.3 693.0,237.6" fill="none" stroke="#c0a870" stroke-width="1.15"/><g transform="rotate(-11 672.7 240.4)"><ellipse cx="672.7" cy="235.8" rx="1.06" ry="5.6" fill="#d2ae74"/><line x1="671.8" y1="233.7" x2="670.6" y2="228.0" stroke="#d2ae74" stroke-width="0.3" opacity="0.8"/><line x1="672.5" y1="233.7" x2="672.1" y2="228.5" stroke="#d2ae74" stroke-width="0.3" opacity="0.8"/><line x1="672.0" y1="233.7" x2="671.4" y2="227.7" stroke="#d2ae74" stroke-width="0.3" opacity="0.8"/></g><g transform="rotate(-14 673.3 238.0)"><ellipse cx="673.3" cy="233.7" rx="1.08" ry="5.3" fill="#e2c690"/><line x1="674.2" y1="231.6" x2="673.8" y2="226.6" stroke="#e2c690" stroke-width="0.3" opacity="0.8"/><line x1="673.9" y1="231.6" x2="674.9" y2="226.1" stroke="#e2c690" stroke-width="0.3" opacity="0.8"/><line x1="672.6" y1="231.6" x2="672.8" y2="225.0" stroke="#e2c690" stroke-width="0.3" opacity="0.8"/></g><g transform="rotate(-7 674.9 240.9)"><ellipse cx="674.9" cy="235.7" rx="0.66" ry="6.2" fill="#e2c690"/><line x1="675.7" y1="233.5" x2="675.6" y2="227.0" stroke="#e2c690" stroke-width="0.3" opacity="0.8"/><line x1="674.1" y1="233.5" x2="672.6" y2="227.8" stroke="#e2c690" stroke-width="0.3" opacity="0.8"/><line x1="674.0" y1="233.5" x2="675.2" y2="226.9" stroke="#e2c690" stroke-width="0.3" opacity="0.8"/></g><g transform="rotate(-6 675.9 237.2)"><ellipse cx="675.9" cy="233.3" rx="0.66" ry="4.9" fill="#e8d0a0"/><line x1="675.9" y1="231.3" x2="676.8" y2="225.5" stroke="#e8d0a0" stroke-width="0.3" opacity="0.8"/><line x1="675.5" y1="231.3" x2="675.8" y2="225.6" stroke="#e8d0a0" stroke-width="0.3" opacity="0.8"/><line x1="676.3" y1="231.3" x2="676.1" y2="225.4" stroke="#e8d0a0" stroke-width="0.3" opacity="0.8"/></g><g transform="rotate(-12 677.1 236.6)"><ellipse cx="677.1" cy="232.8" rx="0.89" ry="4.8" fill="#d2ae74"/><line x1="676.1" y1="230.8" x2="675.9" y2="224.9" stroke="#d2ae74" stroke-width="0.3" opacity="0.8"/><line x1="676.8" y1="230.8" x2="675.9" y2="226.3" stroke="#d2ae74" stroke-width="0.3" opacity="0.8"/><line x1="677.5" y1="230.8" x2="677.3" y2="224.6" stroke="#d2ae74" stroke-width="0.3" opacity="0.8"/></g><g transform="rotate(-1 677.7 236.7)"><ellipse cx="677.7" cy="232.7" rx="1.02" ry="5.0" fill="#e8d0a0"/><line x1="678.4" y1="230.7" x2="678.9" y2="224.8" stroke="#e8d0a0" stroke-width="0.3" opacity="0.8"/><line x1="678.1" y1="230.7" x2="678.3" y2="225.7" stroke="#e8d0a0" stroke-width="0.3" opacity="0.8"/><line x1="677.0" y1="230.7" x2="677.7" y2="225.0" stroke="#e8d0a0" stroke-width="0.3" opacity="0.8"/></g><g transform="rotate(-3 680.8 236.6)"><ellipse cx="680.8" cy="231.7" rx="1.04" ry="5.9" fill="#e8d0a0"/><line x1="680.6" y1="229.5" x2="681.5" y2="223.3" stroke="#e8d0a0" stroke-width="0.3" opacity="0.8"/><line x1="680.9" y1="229.5" x2="680.7" y2="222.4" stroke="#e8d0a0" stroke-width="0.3" opacity="0.8"/><line x1="680.7" y1="229.5" x2="682.0" y2="223.6" stroke="#e8d0a0" stroke-width="0.3" opacity="0.8"/></g><g transform="rotate(0 680.9 236.7)"><ellipse cx="680.9" cy="231.3" rx="0.91" ry="6.4" fill="#e8d0a0"/><line x1="681.4" y1="229.0" x2="682.7" y2="222.7" stroke="#e8d0a0" stroke-width="0.3" opacity="0.8"/><line x1="681.7" y1="229.0" x2="680.3" y2="221.9" stroke="#e8d0a0" stroke-width="0.3" opacity="0.8"/><line x1="680.6" y1="229.0" x2="680.6" y2="221.6" stroke="#e8d0a0" stroke-width="0.3" opacity="0.8"/></g><g transform="rotate(1 683.3 236.1)"><ellipse cx="683.3" cy="232.3" rx="1.03" ry="4.8" fill="#d2ae74"/><line x1="683.3" y1="230.3" x2="683.1" y2="224.9" stroke="#d2ae74" stroke-width="0.3" opacity="0.8"/><line x1="682.3" y1="230.3" x2="682.7" y2="224.2" stroke="#d2ae74" stroke-width="0.3" opacity="0.8"/><line x1="683.8" y1="230.3" x2="684.3" y2="224.1" stroke="#d2ae74" stroke-width="0.3" opacity="0.8"/></g><g transform="rotate(-0 684.4 235.8)"><ellipse cx="684.4" cy="230.8" rx="0.72" ry="5.9" fill="#dcbc84"/><line x1="683.8" y1="228.6" x2="682.5" y2="222.5" stroke="#dcbc84" stroke-width="0.3" opacity="0.8"/><line x1="685.4" y1="228.6" x2="684.5" y2="221.9" stroke="#dcbc84" stroke-width="0.3" opacity="0.8"/><line x1="684.3" y1="228.6" x2="683.0" y2="222.4" stroke="#dcbc84" stroke-width="0.3" opacity="0.8"/></g><g transform="rotate(1 685.2 237.1)"><ellipse cx="685.2" cy="233.1" rx="0.88" ry="5.0" fill="#dcbc84"/><line x1="685.2" y1="231.1" x2="686.1" y2="226.2" stroke="#dcbc84" stroke-width="0.3" opacity="0.8"/><line x1="685.6" y1="231.1" x2="685.4" y2="225.8" stroke="#dcbc84" stroke-width="0.3" opacity="0.8"/><line x1="684.7" y1="231.1" x2="684.0" y2="225.4" stroke="#dcbc84" stroke-width="0.3" opacity="0.8"/></g><g transform="rotate(2 686.6 237.1)"><ellipse cx="686.6" cy="231.7" rx="0.69" ry="6.4" fill="#e2c690"/><line x1="686.9" y1="229.4" x2="685.9" y2="222.0" stroke="#e2c690" stroke-width="0.3" opacity="0.8"/><line x1="687.6" y1="229.4" x2="686.8" y2="222.1" stroke="#e2c690" stroke-width="0.3" opacity="0.8"/><line x1="686.1" y1="229.4" x2="685.5" y2="223.5" stroke="#e2c690" stroke-width="0.3" opacity="0.8"/></g><g transform="rotate(8 687.4 235.9)"><ellipse cx="687.4" cy="232.0" rx="0.71" ry="5.0" fill="#e8d0a0"/><line x1="687.3" y1="230.0" x2="687.3" y2="223.8" stroke="#e8d0a0" stroke-width="0.3" opacity="0.8"/><line x1="686.6" y1="230.0" x2="687.3" y2="224.5" stroke="#e8d0a0" stroke-width="0.3" opacity="0.8"/><line x1="687.8" y1="230.0" x2="688.6" y2="223.8" stroke="#e8d0a0" stroke-width="0.3" opacity="0.8"/></g><g transform="rotate(12 689.8 236.6)"><ellipse cx="689.8" cy="232.8" rx="0.93" ry="4.8" fill="#dcbc84"/><line x1="689.1" y1="230.8" x2="688.6" y2="225.6" stroke="#dcbc84" stroke-width="0.3" opacity="0.8"/><line x1="689.6" y1="230.8" x2="689.2" y2="225.8" stroke="#dcbc84" stroke-width="0.3" opacity="0.8"/><line x1="689.5" y1="230.8" x2="688.5" y2="226.1" stroke="#dcbc84" stroke-width="0.3" opacity="0.8"/></g><g transform="rotate(7 690.5 241.2)"><ellipse cx="690.5" cy="237.1" rx="1.01" ry="5.1" fill="#dcbc84"/><line x1="690.6" y1="235.1" x2="691.5" y2="229.5" stroke="#dcbc84" stroke-width="0.3" opacity="0.8"/><line x1="690.6" y1="235.1" x2="691.5" y2="229.3" stroke="#dcbc84" stroke-width="0.3" opacity="0.8"/><line x1="690.2" y1="235.1" x2="688.8" y2="228.9" stroke="#dcbc84" stroke-width="0.3" opacity="0.8"/></g><g transform="rotate(7 691.4 237.1)"><ellipse cx="691.4" cy="232.6" rx="0.83" ry="5.6" fill="#e2c690"/><line x1="692.0" y1="230.4" x2="692.3" y2="224.4" stroke="#e2c690" stroke-width="0.3" opacity="0.8"/><line x1="691.9" y1="230.4" x2="691.8" y2="224.4" stroke="#e2c690" stroke-width="0.3" opacity="0.8"/><line x1="691.9" y1="230.4" x2="692.5" y2="224.0" stroke="#e2c690" stroke-width="0.3" opacity="0.8"/></g><g transform="rotate(11 692.2 237.9)"><ellipse cx="692.2" cy="233.1" rx="0.66" ry="5.8" fill="#e2c690"/><line x1="693.2" y1="231.0" x2="691.8" y2="225.3" stroke="#e2c690" stroke-width="0.3" opacity="0.8"/><line x1="692.1" y1="231.0" x2="692.9" y2="225.4" stroke="#e2c690" stroke-width="0.3" opacity="0.8"/><line x1="693.0" y1="231.0" x2="692.7" y2="224.6" stroke="#e2c690" stroke-width="0.3" opacity="0.8"/></g><g transform="rotate(15 693.0 237.6)"><ellipse cx="693.0" cy="233.4" rx="0.68" ry="5.2" fill="#e8d0a0"/><line x1="692.8" y1="231.4" x2="693.7" y2="225.3" stroke="#e8d0a0" stroke-width="0.3" opacity="0.8"/><line x1="693.1" y1="231.4" x2="692.9" y2="226.7" stroke="#e8d0a0" stroke-width="0.3" opacity="0.8"/><line x1="693.4" y1="231.4" x2="693.2" y2="225.3" stroke="#e8d0a0" stroke-width="0.3" opacity="0.8"/></g>
<path d="M716.8,249.2 Q707.9,245.4 704.2,245.9" fill="none" stroke="#4e642c" stroke-width="0.65" stroke-linecap="round"/><path d="M728.9,247.9 Q736.5,244.4 739.7,247.2" fill="none" stroke="#5e7634" stroke-width="0.63" stroke-linecap="round"/><path d="M718.8,278.2 Q708.9,276.8 704.7,282.5" fill="none" stroke="#7a7044" stroke-width="0.57" stroke-linecap="round"/><path d="M730.0,266.1 Q735.6,263.5 738.0,259.7" fill="none" stroke="#4e642c" stroke-width="0.51" stroke-linecap="round"/><path d="M716.0,255.5 Q709.0,253.2 706.0,266.2" fill="none" stroke="#7a7044" stroke-width="0.55" stroke-linecap="round"/><path d="M731.2,269.5 Q739.5,266.9 743.1,268.1" fill="none" stroke="#5e7634" stroke-width="0.87" stroke-linecap="round"/><path d="M717.0,263.6 Q710.7,261.1 708.0,264.8" fill="none" stroke="#4e642c" stroke-width="0.75" stroke-linecap="round"/><path d="M730.8,249.0 Q735.9,247.9 738.1,240.6" fill="none" stroke="#98905a" stroke-width="0.56" stroke-linecap="round"/><path d="M720.0,265.1 Q712.3,262.4 709.0,267.3" fill="none" stroke="#98905a" stroke-width="0.65" stroke-linecap="round"/><path d="M728.7,262.6 Q738.7,261.6 743.0,261.9" fill="none" stroke="#98905a" stroke-width="0.93" stroke-linecap="round"/><path d="M720.2,280.8 Q714.7,278.0 712.4,283.8" fill="none" stroke="#5e7634" stroke-width="0.91" stroke-linecap="round"/><path d="M731.7,260.6 Q736.3,257.7 738.3,259.3" fill="none" stroke="#98905a" stroke-width="0.63" stroke-linecap="round"/><path d="M715.8,289.0 Q714.7,267.3 712.5,245.6" fill="none" stroke="#98b05a" stroke-width="0.61"/><path d="M716.4,289.0 Q715.2,265.7 713.6,242.3" fill="none" stroke="#7c9c46" stroke-width="0.72"/><path d="M718.0,289.0 Q717.4,266.1 715.0,243.1" fill="none" stroke="#7c9c46" stroke-width="1.01"/><path d="M717.9,289.0 Q716.4,266.5 715.9,244.1" fill="none" stroke="#8aa850" stroke-width="0.91"/><path d="M719.6,289.0 Q717.4,267.0 717.1,245.0" fill="none" stroke="#6e8e3c" stroke-width="1.10"/><path d="M720.2,289.0 Q719.3,265.4 719.0,241.7" fill="none" stroke="#8aa850" stroke-width="0.78"/><path d="M721.2,289.0 Q720.4,266.7 719.7,244.5" fill="none" stroke="#6e8e3c" stroke-width="1.12"/><path d="M721.1,289.0 Q720.2,265.7 721.0,242.4" fill="none" stroke="#6e8e3c" stroke-width="1.03"/><path d="M721.9,289.0 Q721.1,266.8 721.1,244.6" fill="none" stroke="#8aa850" stroke-width="0.82"/><path d="M723.1,289.0 Q723.4,266.3 722.8,243.6" fill="none" stroke="#6e8e3c" stroke-width="0.87"/><path d="M723.8,289.0 Q723.2,264.6 724.0,240.1" fill="none" stroke="#8aa850" stroke-width="0.95"/><path d="M724.4,289.0 Q725.9,266.1 725.4,243.3" fill="none" stroke="#6e8e3c" stroke-width="0.91"/><path d="M725.8,289.0 Q725.7,266.1 726.6,243.2" fill="none" stroke="#98b05a" stroke-width="0.83"/><path d="M726.7,289.0 Q728.0,265.0 728.0,240.9" fill="none" stroke="#a2aa60" stroke-width="1.10"/><path d="M726.6,289.0 Q728.5,265.2 729.0,241.5" fill="none" stroke="#7c9c46" stroke-width="1.11"/><path d="M727.4,289.0 Q729.7,265.9 730.0,242.8" fill="none" stroke="#8aa850" stroke-width="1.08"/><path d="M728.3,289.0 Q730.2,266.4 731.3,243.9" fill="none" stroke="#98b05a" stroke-width="0.56"/><path d="M729.0,289.0 Q730.5,266.1 731.4,243.3" fill="none" stroke="#a2aa60" stroke-width="0.55"/><path d="M730.7,289.0 Q732.4,268.1 732.5,247.1" fill="none" stroke="#6e8e3c" stroke-width="1.06"/><path d="M730.9,289.0 Q731.5,266.6 733.9,244.2" fill="none" stroke="#6e8e3c" stroke-width="0.63"/><g transform="rotate(-10 712.5 245.6)"><ellipse cx="712.5" cy="241.4" rx="0.89" ry="5.2" fill="#e2c690"/><line x1="713.2" y1="239.4" x2="713.0" y2="232.9" stroke="#e2c690" stroke-width="0.3" opacity="0.8"/><line x1="711.6" y1="239.4" x2="711.5" y2="233.6" stroke="#e2c690" stroke-width="0.3" opacity="0.8"/><line x1="713.1" y1="239.4" x2="712.9" y2="233.4" stroke="#e2c690" stroke-width="0.3" opacity="0.8"/></g><g transform="rotate(-14 713.6 242.3)"><ellipse cx="713.6" cy="238.7" rx="0.82" ry="4.6" fill="#dcbc84"/><line x1="714.0" y1="236.8" x2="713.3" y2="230.9" stroke="#dcbc84" stroke-width="0.3" opacity="0.8"/><line x1="714.6" y1="236.8" x2="715.3" y2="230.9" stroke="#dcbc84" stroke-width="0.3" opacity="0.8"/><line x1="713.0" y1="236.8" x2="714.1" y2="232.4" stroke="#dcbc84" stroke-width="0.3" opacity="0.8"/></g><g transform="rotate(-8 715.0 243.1)"><ellipse cx="715.0" cy="239.4" rx="0.66" ry="4.7" fill="#dcbc84"/><line x1="715.3" y1="237.5" x2="715.9" y2="232.0" stroke="#dcbc84" stroke-width="0.3" opacity="0.8"/><line x1="715.5" y1="237.5" x2="715.3" y2="232.8" stroke="#dcbc84" stroke-width="0.3" opacity="0.8"/><line x1="715.5" y1="237.5" x2="715.8" y2="231.9" stroke="#dcbc84" stroke-width="0.3" opacity="0.8"/></g><g transform="rotate(-6 715.9 244.1)"><ellipse cx="715.9" cy="240.5" rx="0.70" ry="4.6" fill="#e8d0a0"/><line x1="715.6" y1="238.6" x2="714.8" y2="233.1" stroke="#e8d0a0" stroke-width="0.3" opacity="0.8"/><line x1="715.6" y1="238.6" x2="715.7" y2="232.5" stroke="#e8d0a0" stroke-width="0.3" opacity="0.8"/><line x1="715.0" y1="238.6" x2="715.3" y2="233.5" stroke="#e8d0a0" stroke-width="0.3" opacity="0.8"/></g><g transform="rotate(-7 717.1 245.0)"><ellipse cx="717.1" cy="240.8" rx="0.89" ry="5.2" fill="#d2ae74"/><line x1="716.4" y1="238.8" x2="716.5" y2="232.7" stroke="#d2ae74" stroke-width="0.3" opacity="0.8"/><line x1="717.1" y1="238.8" x2="717.5" y2="233.3" stroke="#d2ae74" stroke-width="0.3" opacity="0.8"/><line x1="718.0" y1="238.8" x2="717.0" y2="232.5" stroke="#d2ae74" stroke-width="0.3" opacity="0.8"/></g><g transform="rotate(-9 719.7 244.5)"><ellipse cx="719.7" cy="241.4" rx="1.06" ry="4.1" fill="#e2c690"/><line x1="719.3" y1="239.6" x2="719.0" y2="234.8" stroke="#e2c690" stroke-width="0.3" opacity="0.8"/><line x1="719.9" y1="239.6" x2="719.5" y2="235.1" stroke="#e2c690" stroke-width="0.3" opacity="0.8"/><line x1="720.4" y1="239.6" x2="720.6" y2="235.1" stroke="#e2c690" stroke-width="0.3" opacity="0.8"/></g><g transform="rotate(-4 721.0 242.4)"><ellipse cx="721.0" cy="237.9" rx="0.67" ry="5.5" fill="#dcbc84"/><line x1="721.7" y1="235.8" x2="721.0" y2="230.3" stroke="#dcbc84" stroke-width="0.3" opacity="0.8"/><line x1="721.6" y1="235.8" x2="720.7" y2="229.9" stroke="#dcbc84" stroke-width="0.3" opacity="0.8"/><line x1="721.4" y1="235.8" x2="722.7" y2="230.4" stroke="#dcbc84" stroke-width="0.3" opacity="0.8"/></g><g transform="rotate(-7 721.1 244.6)"><ellipse cx="721.1" cy="241.0" rx="0.97" ry="4.6" fill="#dcbc84"/><line x1="721.2" y1="239.1" x2="722.5" y2="234.8" stroke="#dcbc84" stroke-width="0.3" opacity="0.8"/><line x1="721.2" y1="239.1" x2="721.3" y2="233.0" stroke="#dcbc84" stroke-width="0.3" opacity="0.8"/><line x1="721.3" y1="239.1" x2="720.4" y2="234.8" stroke="#dcbc84" stroke-width="0.3" opacity="0.8"/></g><g transform="rotate(-1 722.8 243.6)"><ellipse cx="722.8" cy="239.1" rx="0.69" ry="5.5" fill="#dcbc84"/><line x1="723.2" y1="237.0" x2="722.0" y2="231.0" stroke="#dcbc84" stroke-width="0.3" opacity="0.8"/><line x1="722.2" y1="237.0" x2="723.4" y2="231.9" stroke="#dcbc84" stroke-width="0.3" opacity="0.8"/><line x1="722.7" y1="237.0" x2="722.6" y2="231.4" stroke="#dcbc84" stroke-width="0.3" opacity="0.8"/></g><g transform="rotate(0 725.4 243.3)"><ellipse cx="725.4" cy="238.8" rx="1.03" ry="5.5" fill="#d2ae74"/><line x1="724.7" y1="236.7" x2="724.7" y2="230.4" stroke="#d2ae74" stroke-width="0.3" opacity="0.8"/><line x1="724.6" y1="236.7" x2="724.2" y2="230.8" stroke="#d2ae74" stroke-width="0.3" opacity="0.8"/><line x1="725.0" y1="236.7" x2="725.8" y2="230.8" stroke="#d2ae74" stroke-width="0.3" opacity="0.8"/></g><g transform="rotate(1 726.6 243.2)"><ellipse cx="726.6" cy="239.4" rx="1.06" ry="4.8" fill="#e2c690"/><line x1="726.4" y1="237.4" x2="725.5" y2="231.1" stroke="#e2c690" stroke-width="0.3" opacity="0.8"/><line x1="726.4" y1="237.4" x2="726.0" y2="231.4" stroke="#e2c690" stroke-width="0.3" opacity="0.8"/><line x1="726.7" y1="237.4" x2="728.1" y2="231.7" stroke="#e2c690" stroke-width="0.3" opacity="0.8"/></g><g transform="rotate(10 728.0 240.9)"><ellipse cx="728.0" cy="237.7" rx="0.79" ry="4.2" fill="#e8d0a0"/><line x1="727.4" y1="235.8" x2="726.8" y2="231.6" stroke="#e8d0a0" stroke-width="0.3" opacity="0.8"/><line x1="728.9" y1="235.8" x2="727.7" y2="231.5" stroke="#e8d0a0" stroke-width="0.3" opacity="0.8"/><line x1="728.2" y1="235.8" x2="727.3" y2="231.5" stroke="#e8d0a0" stroke-width="0.3" opacity="0.8"/></g><g transform="rotate(-0 729.0 241.5)"><ellipse cx="729.0" cy="238.1" rx="0.67" ry="4.4" fill="#d2ae74"/><line x1="728.6" y1="236.3" x2="727.8" y2="231.6" stroke="#d2ae74" stroke-width="0.3" opacity="0.8"/><line x1="728.3" y1="236.3" x2="726.9" y2="231.7" stroke="#d2ae74" stroke-width="0.3" opacity="0.8"/><line x1="728.4" y1="236.3" x2="728.5" y2="230.7" stroke="#d2ae74" stroke-width="0.3" opacity="0.8"/></g><g transform="rotate(7 730.0 242.8)"><ellipse cx="730.0" cy="239.4" rx="0.99" ry="4.4" fill="#e2c690"/><line x1="730.0" y1="237.5" x2="729.0" y2="233.0" stroke="#e2c690" stroke-width="0.3" opacity="0.8"/><line x1="730.5" y1="237.5" x2="729.8" y2="231.5" stroke="#e2c690" stroke-width="0.3" opacity="0.8"/><line x1="731.0" y1="237.5" x2="730.1" y2="232.3" stroke="#e2c690" stroke-width="0.3" opacity="0.8"/></g><g transform="rotate(8 731.3 243.9)"><ellipse cx="731.3" cy="239.5" rx="0.66" ry="5.4" fill="#e8d0a0"/><line x1="732.2" y1="237.4" x2="731.7" y2="231.8" stroke="#e8d0a0" stroke-width="0.3" opacity="0.8"/><line x1="730.9" y1="237.4" x2="730.3" y2="231.6" stroke="#e8d0a0" stroke-width="0.3" opacity="0.8"/><line x1="731.9" y1="237.4" x2="730.4" y2="231.9" stroke="#e8d0a0" stroke-width="0.3" opacity="0.8"/></g><g transform="rotate(9 731.4 243.3)"><ellipse cx="731.4" cy="238.8" rx="0.87" ry="5.4" fill="#e8d0a0"/><line x1="731.8" y1="236.8" x2="732.6" y2="231.9" stroke="#e8d0a0" stroke-width="0.3" opacity="0.8"/><line x1="731.6" y1="236.8" x2="732.6" y2="231.7" stroke="#e8d0a0" stroke-width="0.3" opacity="0.8"/><line x1="730.6" y1="236.8" x2="730.9" y2="231.5" stroke="#e8d0a0" stroke-width="0.3" opacity="0.8"/></g><g transform="rotate(16 732.5 247.1)"><ellipse cx="732.5" cy="243.3" rx="0.97" ry="4.8" fill="#e8d0a0"/><line x1="732.4" y1="241.4" x2="732.0" y2="235.3" stroke="#e8d0a0" stroke-width="0.3" opacity="0.8"/><line x1="732.4" y1="241.4" x2="733.2" y2="236.3" stroke="#e8d0a0" stroke-width="0.3" opacity="0.8"/><line x1="732.2" y1="241.4" x2="730.8" y2="235.6" stroke="#e8d0a0" stroke-width="0.3" opacity="0.8"/></g><g transform="rotate(15 733.9 244.2)"><ellipse cx="733.9" cy="240.5" rx="0.95" ry="4.7" fill="#e8d0a0"/><line x1="733.4" y1="238.5" x2="734.7" y2="234.1" stroke="#e8d0a0" stroke-width="0.3" opacity="0.8"/><line x1="733.7" y1="238.5" x2="735.0" y2="232.6" stroke="#e8d0a0" stroke-width="0.3" opacity="0.8"/><line x1="734.1" y1="238.5" x2="735.2" y2="233.9" stroke="#e8d0a0" stroke-width="0.3" opacity="0.8"/></g>
<path d="M761.9,281.1 Q752.5,280.5 748.5,292.8" fill="none" stroke="#5e7634" stroke-width="0.53" stroke-linecap="round"/><path d="M768.8,274.4 Q777.9,272.9 781.8,267.8" fill="none" stroke="#98905a" stroke-width="0.85" stroke-linecap="round"/><path d="M760.6,252.4 Q754.6,249.0 752.0,261.8" fill="none" stroke="#4e642c" stroke-width="0.61" stroke-linecap="round"/><path d="M770.7,279.4 Q776.7,277.6 779.3,279.2" fill="none" stroke="#5e7634" stroke-width="0.73" stroke-linecap="round"/><path d="M759.7,274.1 Q753.1,271.3 750.3,274.6" fill="none" stroke="#5e7634" stroke-width="0.75" stroke-linecap="round"/><path d="M768.1,280.2 Q773.5,279.6 775.8,290.9" fill="none" stroke="#5e7634" stroke-width="0.64" stroke-linecap="round"/><path d="M757.3,261.4 Q752.2,260.9 750.0,253.4" fill="none" stroke="#98905a" stroke-width="0.86" stroke-linecap="round"/><path d="M769.6,279.3 Q780.2,278.3 784.8,281.7" fill="none" stroke="#7a7044" stroke-width="0.68" stroke-linecap="round"/><path d="M760.4,250.5 Q750.3,249.2 746.0,260.5" fill="none" stroke="#4e642c" stroke-width="0.94" stroke-linecap="round"/><path d="M772.0,273.4 Q782.1,272.3 786.4,267.4" fill="none" stroke="#98905a" stroke-width="0.69" stroke-linecap="round"/><path d="M760.6,241.3 Q749.7,240.9 744.9,233.6" fill="none" stroke="#98905a" stroke-width="0.95" stroke-linecap="round"/><path d="M768.8,280.2 Q776.7,278.3 780.0,291.7" fill="none" stroke="#5e7634" stroke-width="0.75" stroke-linecap="round"/><path d="M757.5,289.0 Q756.2,266.2 753.8,243.3" fill="none" stroke="#a4a662" stroke-width="0.91"/><path d="M758.5,289.0 Q756.0,263.8 755.2,238.6" fill="none" stroke="#86984c" stroke-width="1.00"/><path d="M759.4,289.0 Q758.2,263.6 756.6,238.1" fill="none" stroke="#c0a870" stroke-width="0.74"/><path d="M760.2,289.0 Q758.3,265.5 758.3,242.0" fill="none" stroke="#6a8238" stroke-width="0.95"/><path d="M760.5,289.0 Q759.1,264.4 758.7,239.8" fill="none" stroke="#768c42" stroke-width="0.85"/><path d="M761.5,289.0 Q760.6,263.6 759.7,238.1" fill="none" stroke="#7e9446" stroke-width="0.55"/><path d="M762.1,289.0 Q761.7,265.1 760.7,241.2" fill="none" stroke="#768c42" stroke-width="0.85"/><path d="M763.5,289.0 Q762.9,264.5 763.0,239.9" fill="none" stroke="#6a8238" stroke-width="1.09"/><path d="M763.4,289.0 Q763.2,263.3 762.7,237.7" fill="none" stroke="#b89c60" stroke-width="0.62"/><path d="M765.0,289.0 Q765.2,262.6 764.6,236.2" fill="none" stroke="#768c42" stroke-width="0.83"/><path d="M765.1,289.0 Q764.8,263.7 765.1,238.4" fill="none" stroke="#7e9446" stroke-width="0.69"/><path d="M766.2,289.0 Q766.6,262.8 766.7,236.6" fill="none" stroke="#b89c60" stroke-width="1.05"/><path d="M767.2,289.0 Q766.9,263.8 768.4,238.6" fill="none" stroke="#6a8238" stroke-width="0.75"/><path d="M768.0,289.0 Q769.2,263.3 768.6,237.5" fill="none" stroke="#b89c60" stroke-width="0.97"/><path d="M768.8,289.0 Q769.6,264.6 769.3,240.2" fill="none" stroke="#a4a662" stroke-width="0.59"/><path d="M769.7,289.0 Q770.0,263.5 771.0,238.0" fill="none" stroke="#a4a662" stroke-width="0.92"/><path d="M770.5,289.0 Q771.0,263.8 772.0,238.7" fill="none" stroke="#768c42" stroke-width="0.89"/><path d="M770.9,289.0 Q772.0,264.6 773.3,240.2" fill="none" stroke="#b89c60" stroke-width="0.65"/><path d="M771.3,289.0 Q773.0,264.7 774.0,240.4" fill="none" stroke="#a4a662" stroke-width="1.14"/><path d="M772.5,289.0 Q774.2,265.4 775.3,241.8" fill="none" stroke="#86984c" stroke-width="1.15"/><g transform="rotate(-18 753.8 243.3)"><ellipse cx="753.8" cy="238.7" rx="1.05" ry="5.6" fill="#e8d0a0"/><line x1="754.0" y1="236.5" x2="753.3" y2="230.6" stroke="#e8d0a0" stroke-width="0.3" opacity="0.8"/><line x1="753.7" y1="236.5" x2="754.3" y2="230.5" stroke="#e8d0a0" stroke-width="0.3" opacity="0.8"/><line x1="753.1" y1="236.5" x2="753.6" y2="230.9" stroke="#e8d0a0" stroke-width="0.3" opacity="0.8"/></g><g transform="rotate(-8 755.2 238.6)"><ellipse cx="755.2" cy="234.2" rx="0.88" ry="5.4" fill="#e8d0a0"/><line x1="754.6" y1="232.1" x2="753.8" y2="225.8" stroke="#e8d0a0" stroke-width="0.3" opacity="0.8"/><line x1="755.2" y1="232.1" x2="755.7" y2="225.9" stroke="#e8d0a0" stroke-width="0.3" opacity="0.8"/><line x1="755.6" y1="232.1" x2="755.0" y2="225.6" stroke="#e8d0a0" stroke-width="0.3" opacity="0.8"/></g><g transform="rotate(-5 756.6 238.1)"><ellipse cx="756.6" cy="234.0" rx="0.70" ry="5.1" fill="#e8d0a0"/><line x1="757.4" y1="232.0" x2="757.9" y2="226.9" stroke="#e8d0a0" stroke-width="0.3" opacity="0.8"/><line x1="756.8" y1="232.0" x2="758.0" y2="227.1" stroke="#e8d0a0" stroke-width="0.3" opacity="0.8"/><line x1="756.9" y1="232.0" x2="756.1" y2="227.1" stroke="#e8d0a0" stroke-width="0.3" opacity="0.8"/></g><g transform="rotate(-6 758.3 242.0)"><ellipse cx="758.3" cy="236.4" rx="0.83" ry="6.6" fill="#e2c690"/><line x1="758.2" y1="234.1" x2="758.5" y2="226.7" stroke="#e2c690" stroke-width="0.3" opacity="0.8"/><line x1="758.7" y1="234.1" x2="758.6" y2="227.1" stroke="#e2c690" stroke-width="0.3" opacity="0.8"/><line x1="758.1" y1="234.1" x2="759.0" y2="226.6" stroke="#e2c690" stroke-width="0.3" opacity="0.8"/></g><g transform="rotate(-8 758.7 239.8)"><ellipse cx="758.7" cy="235.4" rx="0.82" ry="5.4" fill="#d2ae74"/><line x1="759.1" y1="233.4" x2="757.9" y2="228.3" stroke="#d2ae74" stroke-width="0.3" opacity="0.8"/><line x1="758.2" y1="233.4" x2="758.7" y2="228.1" stroke="#d2ae74" stroke-width="0.3" opacity="0.8"/><line x1="759.1" y1="233.4" x2="757.8" y2="227.2" stroke="#d2ae74" stroke-width="0.3" opacity="0.8"/></g><g transform="rotate(-9 759.7 238.1)"><ellipse cx="759.7" cy="233.9" rx="1.09" ry="5.3" fill="#d2ae74"/><line x1="760.5" y1="231.8" x2="761.5" y2="225.4" stroke="#d2ae74" stroke-width="0.3" opacity="0.8"/><line x1="759.7" y1="231.8" x2="759.3" y2="225.4" stroke="#d2ae74" stroke-width="0.3" opacity="0.8"/><line x1="760.0" y1="231.8" x2="759.2" y2="225.3" stroke="#d2ae74" stroke-width="0.3" opacity="0.8"/></g><g transform="rotate(-3 760.7 241.2)"><ellipse cx="760.7" cy="236.3" rx="0.93" ry="5.9" fill="#d2ae74"/><line x1="761.3" y1="234.2" x2="759.9" y2="227.4" stroke="#d2ae74" stroke-width="0.3" opacity="0.8"/><line x1="760.1" y1="234.2" x2="759.7" y2="228.2" stroke="#d2ae74" stroke-width="0.3" opacity="0.8"/><line x1="760.7" y1="234.2" x2="761.0" y2="227.8" stroke="#d2ae74" stroke-width="0.3" opacity="0.8"/></g><g transform="rotate(-1 763.0 239.9)"><ellipse cx="763.0" cy="235.5" rx="0.99" ry="5.4" fill="#e8d0a0"/><line x1="763.9" y1="233.4" x2="763.8" y2="227.0" stroke="#e8d0a0" stroke-width="0.3" opacity="0.8"/><line x1="763.2" y1="233.4" x2="762.3" y2="227.1" stroke="#e8d0a0" stroke-width="0.3" opacity="0.8"/><line x1="763.4" y1="233.4" x2="762.4" y2="228.2" stroke="#e8d0a0" stroke-width="0.3" opacity="0.8"/></g><g transform="rotate(1 765.1 238.4)"><ellipse cx="765.1" cy="233.2" rx="0.81" ry="6.1" fill="#e8d0a0"/><line x1="764.5" y1="231.0" x2="764.0" y2="224.0" stroke="#e8d0a0" stroke-width="0.3" opacity="0.8"/><line x1="764.2" y1="231.0" x2="763.2" y2="224.9" stroke="#e8d0a0" stroke-width="0.3" opacity="0.8"/><line x1="766.0" y1="231.0" x2="767.1" y2="223.7" stroke="#e8d0a0" stroke-width="0.3" opacity="0.8"/></g><g transform="rotate(4 768.4 238.6)"><ellipse cx="768.4" cy="234.5" rx="0.75" ry="5.1" fill="#e8d0a0"/><line x1="767.7" y1="232.5" x2="766.7" y2="226.7" stroke="#e8d0a0" stroke-width="0.3" opacity="0.8"/><line x1="769.4" y1="232.5" x2="770.3" y2="227.5" stroke="#e8d0a0" stroke-width="0.3" opacity="0.8"/><line x1="768.9" y1="232.5" x2="770.2" y2="227.1" stroke="#e8d0a0" stroke-width="0.3" opacity="0.8"/></g><g transform="rotate(-1 768.6 237.5)"><ellipse cx="768.6" cy="232.3" rx="0.83" ry="6.3" fill="#e2c690"/><line x1="769.5" y1="230.0" x2="769.7" y2="222.6" stroke="#e2c690" stroke-width="0.3" opacity="0.8"/><line x1="768.3" y1="230.0" x2="769.1" y2="223.3" stroke="#e2c690" stroke-width="0.3" opacity="0.8"/><line x1="769.4" y1="230.0" x2="770.8" y2="223.5" stroke="#e2c690" stroke-width="0.3" opacity="0.8"/></g><g transform="rotate(13 771.0 238.0)"><ellipse cx="771.0" cy="234.0" rx="0.93" ry="5.1" fill="#d2ae74"/><line x1="771.2" y1="232.0" x2="770.9" y2="225.6" stroke="#d2ae74" stroke-width="0.3" opacity="0.8"/><line x1="771.3" y1="232.0" x2="772.0" y2="226.0" stroke="#d2ae74" stroke-width="0.3" opacity="0.8"/><line x1="771.2" y1="232.0" x2="770.2" y2="225.6" stroke="#d2ae74" stroke-width="0.3" opacity="0.8"/></g><g transform="rotate(7 772.0 238.7)"><ellipse cx="772.0" cy="234.7" rx="0.76" ry="5.0" fill="#e2c690"/><line x1="772.7" y1="232.7" x2="772.1" y2="226.3" stroke="#e2c690" stroke-width="0.3" opacity="0.8"/><line x1="772.1" y1="232.7" x2="771.4" y2="228.2" stroke="#e2c690" stroke-width="0.3" opacity="0.8"/><line x1="772.0" y1="232.7" x2="773.2" y2="226.7" stroke="#e2c690" stroke-width="0.3" opacity="0.8"/></g><g transform="rotate(10 774.0 240.4)"><ellipse cx="774.0" cy="235.2" rx="0.80" ry="6.2" fill="#e8d0a0"/><line x1="773.4" y1="232.9" x2="774.4" y2="226.7" stroke="#e8d0a0" stroke-width="0.3" opacity="0.8"/><line x1="774.2" y1="232.9" x2="774.8" y2="226.5" stroke="#e8d0a0" stroke-width="0.3" opacity="0.8"/><line x1="775.0" y1="232.9" x2="775.5" y2="226.2" stroke="#e8d0a0" stroke-width="0.3" opacity="0.8"/></g><g transform="rotate(14 775.3 241.8)"><ellipse cx="775.3" cy="237.5" rx="1.08" ry="5.2" fill="#e8d0a0"/><line x1="776.3" y1="235.5" x2="776.0" y2="229.2" stroke="#e8d0a0" stroke-width="0.3" opacity="0.8"/><line x1="776.2" y1="235.5" x2="775.9" y2="230.5" stroke="#e8d0a0" stroke-width="0.3" opacity="0.8"/><line x1="775.7" y1="235.5" x2="776.1" y2="229.6" stroke="#e8d0a0" stroke-width="0.3" opacity="0.8"/></g>
<polygon points="582.2,290.0 607.2,290.0 603.7,313.2 585.7,313.2" fill="url(#pot)"/><rect x="581.2" y="287.0" width="27.0" height="4.4" rx="1.6" fill="#dedee8"/><ellipse cx="594.7" cy="288.1" rx="12.3" ry="1.2" fill="#6a5a3a"/><rect x="587.2" y="312.6" width="2" height="1.2" fill="#222"/><rect x="600.2" y="312.6" width="2" height="1.2" fill="#222"/>
<polygon points="628.3,290.0 653.3,290.0 649.8,313.2 631.8,313.2" fill="url(#pot)"/><rect x="627.3" y="287.0" width="27.0" height="4.4" rx="1.6" fill="#dedee8"/><ellipse cx="640.8" cy="288.1" rx="12.3" ry="1.2" fill="#6a5a3a"/><rect x="633.3" y="312.6" width="2" height="1.2" fill="#222"/><rect x="646.3" y="312.6" width="2" height="1.2" fill="#222"/>
<polygon points="670.5,290.0 695.5,290.0 692.0,313.2 674.0,313.2" fill="url(#pot)"/><rect x="669.5" y="287.0" width="27.0" height="4.4" rx="1.6" fill="#dedee8"/><ellipse cx="683.0" cy="288.1" rx="12.3" ry="1.2" fill="#6a5a3a"/><rect x="675.5" y="312.6" width="2" height="1.2" fill="#222"/><rect x="688.5" y="312.6" width="2" height="1.2" fill="#222"/>
<polygon points="710.7,290.0 735.7,290.0 732.2,313.2 714.2,313.2" fill="url(#pot)"/><rect x="709.7" y="287.0" width="27.0" height="4.4" rx="1.6" fill="#dedee8"/><ellipse cx="723.2" cy="288.1" rx="12.3" ry="1.2" fill="#6a5a3a"/><rect x="715.7" y="312.6" width="2" height="1.2" fill="#222"/><rect x="728.7" y="312.6" width="2" height="1.2" fill="#222"/>
<polygon points="748.5,290.0 773.5,290.0 770.0,313.2 752.0,313.2" fill="url(#pot)"/><rect x="747.5" y="287.0" width="27.0" height="4.4" rx="1.6" fill="#dedee8"/><ellipse cx="761.0" cy="288.1" rx="12.3" ry="1.2" fill="#6a5a3a"/><rect x="753.5" y="312.6" width="2" height="1.2" fill="#222"/><rect x="766.5" y="312.6" width="2" height="1.2" fill="#222"/>
</g>
<rect x="782.00" y="303.40" width="1.60" height="9.40" fill="#f4f4f4" />
<text x="788.00" y="307.20" font-size="5.2" text-anchor="middle" fill="#222" stroke="#222" stroke-width="0.1" transform="rotate(90 788.00 307.20)">10 cm</text>
<text x="595.80" y="322.60" font-size="6.1" text-anchor="middle" fill="#222" stroke="#222" stroke-width="0.1">AABBDD</text>
<text x="640.80" y="322.60" font-size="6.1" text-anchor="middle" fill="#222" stroke="#222" stroke-width="0.1">AABBdd</text>
<text x="684.00" y="322.60" font-size="6.1" text-anchor="middle" fill="#222" stroke="#222" stroke-width="0.1">aabbDD</text>
<text x="724.60" y="322.60" font-size="6.1" text-anchor="middle" fill="#222" stroke="#222" stroke-width="0.1">aaBBdd</text>
<text x="760.50" y="322.60" font-size="6.1" text-anchor="middle" fill="#222" stroke="#222" stroke-width="0.1">aabbdd</text>
<text x="561.20" y="334.00" font-size="8.5" fill="#111" stroke="#111" stroke-width="0.1" font-weight="bold">E</text>
<rect x="572.00" y="326.80" width="214.40" height="29.20" fill="#080808" />
<g filter="url(#pb)"><g transform="translate(594.8 356.5) rotate(-39.9)"><line x1="0.8" y1="-15.1" x2="2.8" y2="-22.1" stroke="#efe8c8" stroke-width="0.35" opacity="0.8"/><line x1="0.8" y1="-11.7" x2="4.5" y2="-16.1" stroke="#efe8c8" stroke-width="0.35" opacity="0.8"/><line x1="0.8" y1="-6.6" x2="3.6" y2="-13.6" stroke="#efe8c8" stroke-width="0.35" opacity="0.8"/><line x1="0.8" y1="-6.3" x2="3.2" y2="-13.5" stroke="#efe8c8" stroke-width="0.35" opacity="0.8"/><line x1="-0.8" y1="-13.1" x2="-4.8" y2="-17.2" stroke="#efe8c8" stroke-width="0.35" opacity="0.8"/><line x1="-0.8" y1="-6.5" x2="-4.8" y2="-12.1" stroke="#efe8c8" stroke-width="0.35" opacity="0.8"/><line x1="0.8" y1="-8.7" x2="4.3" y2="-14.9" stroke="#efe8c8" stroke-width="0.35" opacity="0.8"/><line x1="0.8" y1="-15.1" x2="3.9" y2="-20.5" stroke="#efe8c8" stroke-width="0.35" opacity="0.8"/><line x1="0.8" y1="-14.1" x2="4.9" y2="-21.8" stroke="#efe8c8" stroke-width="0.35" opacity="0.8"/><line x1="-0.8" y1="-11.1" x2="-3.0" y2="-19.0" stroke="#efe8c8" stroke-width="0.35" opacity="0.8"/><line x1="-0.8" y1="-16.2" x2="-4.4" y2="-23.8" stroke="#efe8c8" stroke-width="0.35" opacity="0.8"/><line x1="0.8" y1="-17.5" x2="3.8" y2="-25.1" stroke="#efe8c8" stroke-width="0.35" opacity="0.8"/><line x1="0.8" y1="-8.4" x2="4.0" y2="-16.0" stroke="#efe8c8" stroke-width="0.35" opacity="0.8"/><line x1="0.8" y1="-16.0" x2="4.0" y2="-20.2" stroke="#efe8c8" stroke-width="0.35" opacity="0.8"/><line x1="0.8" y1="-9.0" x2="3.5" y2="-13.7" stroke="#efe8c8" stroke-width="0.35" opacity="0.8"/><line x1="0.8" y1="-12.6" x2="2.7" y2="-19.2" stroke="#efe8c8" stroke-width="0.35" opacity="0.8"/><line x1="0" y1="0" x2="0" y2="-6.2" stroke="#cfc48c" stroke-width="0.7"/><ellipse cx="0" cy="-11.4" rx="2.4" ry="6.8" fill="url(#spk)"/></g><g transform="translate(594.8 356.5) rotate(-2.0)"><line x1="0.8" y1="-15.9" x2="3.7" y2="-20.0" stroke="#efe8c8" stroke-width="0.35" opacity="0.8"/><line x1="0.8" y1="-6.7" x2="4.1" y2="-11.4" stroke="#efe8c8" stroke-width="0.35" opacity="0.8"/><line x1="-0.8" y1="-8.8" x2="-4.4" y2="-15.0" stroke="#efe8c8" stroke-width="0.35" opacity="0.8"/><line x1="-0.8" y1="-16.1" x2="-3.5" y2="-21.5" stroke="#efe8c8" stroke-width="0.35" opacity="0.8"/><line x1="0.8" y1="-16.0" x2="3.6" y2="-21.1" stroke="#efe8c8" stroke-width="0.35" opacity="0.8"/><line x1="-0.8" y1="-12.5" x2="-3.5" y2="-20.0" stroke="#efe8c8" stroke-width="0.35" opacity="0.8"/><line x1="-0.8" y1="-17.2" x2="-3.8" y2="-23.5" stroke="#efe8c8" stroke-width="0.35" opacity="0.8"/><line x1="-0.8" y1="-11.1" x2="-3.7" y2="-16.6" stroke="#efe8c8" stroke-width="0.35" opacity="0.8"/><line x1="0.8" y1="-12.6" x2="3.7" y2="-18.0" stroke="#efe8c8" stroke-width="0.35" opacity="0.8"/><line x1="0.8" y1="-10.2" x2="3.6" y2="-14.3" stroke="#efe8c8" stroke-width="0.35" opacity="0.8"/><line x1="-0.8" y1="-8.9" x2="-3.9" y2="-13.6" stroke="#efe8c8" stroke-width="0.35" opacity="0.8"/><line x1="0.8" y1="-7.3" x2="2.6" y2="-15.0" stroke="#efe8c8" stroke-width="0.35" opacity="0.8"/><line x1="-0.8" y1="-7.0" x2="-3.6" y2="-14.0" stroke="#efe8c8" stroke-width="0.35" opacity="0.8"/><line x1="0.8" y1="-9.5" x2="2.8" y2="-16.0" stroke="#efe8c8" stroke-width="0.35" opacity="0.8"/><line x1="-0.8" y1="-10.2" x2="-2.9" y2="-15.2" stroke="#efe8c8" stroke-width="0.35" opacity="0.8"/><line x1="0.8" y1="-17.2" x2="4.1" y2="-22.4" stroke="#efe8c8" stroke-width="0.35" opacity="0.8"/><line x1="0" y1="0" x2="0" y2="-6.2" stroke="#cfc48c" stroke-width="0.7"/><ellipse cx="0" cy="-11.4" rx="2.4" ry="6.7" fill="url(#spk)"/></g><g transform="translate(594.8 356.5) rotate(39.0)"><line x1="0.8" y1="-8.2" x2="3.5" y2="-13.8" stroke="#efe8c8" stroke-width="0.35" opacity="0.8"/><line x1="-0.8" y1="-9.1" x2="-3.1" y2="-16.0" stroke="#efe8c8" stroke-width="0.35" opacity="0.8"/><line x1="0.8" y1="-18.9" x2="4.5" y2="-23.0" stroke="#efe8c8" stroke-width="0.35" opacity="0.8"/><line x1="-0.8" y1="-6.9" x2="-2.6" y2="-14.8" stroke="#efe8c8" stroke-width="0.35" opacity="0.8"/><line x1="0.8" y1="-12.3" x2="3.9" y2="-17.2" stroke="#efe8c8" stroke-width="0.35" opacity="0.8"/><line x1="0.8" y1="-18.9" x2="3.1" y2="-25.5" stroke="#efe8c8" stroke-width="0.35" opacity="0.8"/><line x1="0.8" y1="-11.7" x2="4.1" y2="-17.4" stroke="#efe8c8" stroke-width="0.35" opacity="0.8"/><line x1="-0.8" y1="-15.9" x2="-4.9" y2="-23.4" stroke="#efe8c8" stroke-width="0.35" opacity="0.8"/><line x1="-0.8" y1="-10.6" x2="-3.3" y2="-18.3" stroke="#efe8c8" stroke-width="0.35" opacity="0.8"/><line x1="0.8" y1="-16.0" x2="3.9" y2="-20.5" stroke="#efe8c8" stroke-width="0.35" opacity="0.8"/><line x1="-0.8" y1="-13.7" x2="-4.0" y2="-18.6" stroke="#efe8c8" stroke-width="0.35" opacity="0.8"/><line x1="0.8" y1="-18.0" x2="2.9" y2="-25.4" stroke="#efe8c8" stroke-width="0.35" opacity="0.8"/><line x1="-0.8" y1="-18.9" x2="-3.4" y2="-24.3" stroke="#efe8c8" stroke-width="0.35" opacity="0.8"/><line x1="0.8" y1="-9.3" x2="4.0" y2="-15.3" stroke="#efe8c8" stroke-width="0.35" opacity="0.8"/><line x1="0.8" y1="-18.4" x2="3.2" y2="-24.4" stroke="#efe8c8" stroke-width="0.35" opacity="0.8"/><line x1="0.8" y1="-10.8" x2="4.7" y2="-14.9" stroke="#efe8c8" stroke-width="0.35" opacity="0.8"/><line x1="0" y1="0" x2="0" y2="-6.7" stroke="#cfc48c" stroke-width="0.7"/><ellipse cx="0" cy="-12.3" rx="2.4" ry="7.3" fill="url(#spk)"/></g>
<g transform="translate(635.5 356.5) rotate(-39.3)"><line x1="-0.8" y1="-7.9" x2="-3.4" y2="-12.6" stroke="#efe8c8" stroke-width="0.35" opacity="0.8"/><line x1="0.8" y1="-17.8" x2="3.1" y2="-22.7" stroke="#efe8c8" stroke-width="0.35" opacity="0.8"/><line x1="-0.8" y1="-7.6" x2="-5.0" y2="-14.2" stroke="#efe8c8" stroke-width="0.35" opacity="0.8"/><line x1="0.8" y1="-17.8" x2="3.9" y2="-23.5" stroke="#efe8c8" stroke-width="0.35" opacity="0.8"/><line x1="-0.8" y1="-10.7" x2="-4.7" y2="-16.1" stroke="#efe8c8" stroke-width="0.35" opacity="0.8"/><line x1="0.8" y1="-19.5" x2="3.6" y2="-27.0" stroke="#efe8c8" stroke-width="0.35" opacity="0.8"/><line x1="-0.8" y1="-9.3" x2="-3.1" y2="-13.4" stroke="#efe8c8" stroke-width="0.35" opacity="0.8"/><line x1="-0.8" y1="-11.4" x2="-3.8" y2="-16.9" stroke="#efe8c8" stroke-width="0.35" opacity="0.8"/><line x1="-0.8" y1="-13.9" x2="-5.0" y2="-19.7" stroke="#efe8c8" stroke-width="0.35" opacity="0.8"/><line x1="0.8" y1="-12.6" x2="4.5" y2="-18.0" stroke="#efe8c8" stroke-width="0.35" opacity="0.8"/><line x1="0.8" y1="-20.1" x2="2.9" y2="-27.1" stroke="#efe8c8" stroke-width="0.35" opacity="0.8"/><line x1="0.8" y1="-16.6" x2="4.1" y2="-21.6" stroke="#efe8c8" stroke-width="0.35" opacity="0.8"/><line x1="0.8" y1="-10.8" x2="3.8" y2="-18.1" stroke="#efe8c8" stroke-width="0.35" opacity="0.8"/><line x1="0.8" y1="-11.8" x2="4.7" y2="-17.7" stroke="#efe8c8" stroke-width="0.35" opacity="0.8"/><line x1="0.8" y1="-14.6" x2="3.7" y2="-19.5" stroke="#efe8c8" stroke-width="0.35" opacity="0.8"/><line x1="-0.8" y1="-11.4" x2="-4.7" y2="-17.9" stroke="#efe8c8" stroke-width="0.35" opacity="0.8"/><line x1="0" y1="0" x2="0" y2="-7.1" stroke="#cfc48c" stroke-width="0.7"/><ellipse cx="0" cy="-13.0" rx="2.4" ry="7.7" fill="url(#spk)"/></g><g transform="translate(635.5 356.5) rotate(-0.1)"><line x1="0.8" y1="-10.9" x2="3.3" y2="-15.7" stroke="#efe8c8" stroke-width="0.35" opacity="0.8"/><line x1="-0.8" y1="-13.6" x2="-4.5" y2="-19.0" stroke="#efe8c8" stroke-width="0.35" opacity="0.8"/><line x1="-0.8" y1="-7.1" x2="-5.0" y2="-11.5" stroke="#efe8c8" stroke-width="0.35" opacity="0.8"/><line x1="-0.8" y1="-14.4" x2="-3.2" y2="-19.3" stroke="#efe8c8" stroke-width="0.35" opacity="0.8"/><line x1="-0.8" y1="-18.3" x2="-4.4" y2="-22.8" stroke="#efe8c8" stroke-width="0.35" opacity="0.8"/><line x1="-0.8" y1="-10.4" x2="-4.9" y2="-14.6" stroke="#efe8c8" stroke-width="0.35" opacity="0.8"/><line x1="-0.8" y1="-18.6" x2="-2.6" y2="-24.0" stroke="#efe8c8" stroke-width="0.35" opacity="0.8"/><line x1="-0.8" y1="-10.2" x2="-2.7" y2="-18.0" stroke="#efe8c8" stroke-width="0.35" opacity="0.8"/><line x1="-0.8" y1="-7.3" x2="-3.4" y2="-11.8" stroke="#efe8c8" stroke-width="0.35" opacity="0.8"/><line x1="-0.8" y1="-19.1" x2="-3.8" y2="-23.1" stroke="#efe8c8" stroke-width="0.35" opacity="0.8"/><line x1="-0.8" y1="-14.6" x2="-2.9" y2="-18.7" stroke="#efe8c8" stroke-width="0.35" opacity="0.8"/><line x1="-0.8" y1="-11.4" x2="-3.2" y2="-17.4" stroke="#efe8c8" stroke-width="0.35" opacity="0.8"/><line x1="-0.8" y1="-11.0" x2="-4.8" y2="-18.0" stroke="#efe8c8" stroke-width="0.35" opacity="0.8"/><line x1="-0.8" y1="-18.1" x2="-3.7" y2="-23.0" stroke="#efe8c8" stroke-width="0.35" opacity="0.8"/><line x1="0.8" y1="-15.5" x2="4.6" y2="-19.6" stroke="#efe8c8" stroke-width="0.35" opacity="0.8"/><line x1="-0.8" y1="-17.2" x2="-3.8" y2="-24.3" stroke="#efe8c8" stroke-width="0.35" opacity="0.8"/><line x1="0" y1="0" x2="0" y2="-7.0" stroke="#cfc48c" stroke-width="0.7"/><ellipse cx="0" cy="-12.7" rx="2.4" ry="7.6" fill="url(#spk)"/></g><g transform="translate(635.5 356.5) rotate(38.0)"><line x1="0.8" y1="-17.6" x2="3.1" y2="-24.0" stroke="#efe8c8" stroke-width="0.35" opacity="0.8"/><line x1="-0.8" y1="-11.9" x2="-4.2" y2="-19.8" stroke="#efe8c8" stroke-width="0.35" opacity="0.8"/><line x1="0.8" y1="-15.1" x2="2.6" y2="-19.7" stroke="#efe8c8" stroke-width="0.35" opacity="0.8"/><line x1="-0.8" y1="-7.9" x2="-3.8" y2="-15.8" stroke="#efe8c8" stroke-width="0.35" opacity="0.8"/><line x1="-0.8" y1="-18.4" x2="-3.1" y2="-24.1" stroke="#efe8c8" stroke-width="0.35" opacity="0.8"/><line x1="-0.8" y1="-9.8" x2="-4.1" y2="-17.0" stroke="#efe8c8" stroke-width="0.35" opacity="0.8"/><line x1="0.8" y1="-15.6" x2="4.2" y2="-20.7" stroke="#efe8c8" stroke-width="0.35" opacity="0.8"/><line x1="-0.8" y1="-16.1" x2="-2.6" y2="-21.7" stroke="#efe8c8" stroke-width="0.35" opacity="0.8"/><line x1="-0.8" y1="-8.1" x2="-3.1" y2="-12.5" stroke="#efe8c8" stroke-width="0.35" opacity="0.8"/><line x1="-0.8" y1="-9.0" x2="-2.8" y2="-13.1" stroke="#efe8c8" stroke-width="0.35" opacity="0.8"/><line x1="0.8" y1="-15.1" x2="3.3" y2="-21.6" stroke="#efe8c8" stroke-width="0.35" opacity="0.8"/><line x1="-0.8" y1="-9.4" x2="-4.3" y2="-15.1" stroke="#efe8c8" stroke-width="0.35" opacity="0.8"/><line x1="-0.8" y1="-13.1" x2="-4.7" y2="-20.8" stroke="#efe8c8" stroke-width="0.35" opacity="0.8"/><line x1="-0.8" y1="-14.0" x2="-4.2" y2="-19.9" stroke="#efe8c8" stroke-width="0.35" opacity="0.8"/><line x1="-0.8" y1="-7.0" x2="-4.0" y2="-12.1" stroke="#efe8c8" stroke-width="0.35" opacity="0.8"/><line x1="0.8" y1="-19.0" x2="3.3" y2="-26.5" stroke="#efe8c8" stroke-width="0.35" opacity="0.8"/><line x1="0" y1="0" x2="0" y2="-6.7" stroke="#cfc48c" stroke-width="0.7"/><ellipse cx="0" cy="-12.3" rx="2.4" ry="7.3" fill="url(#spk)"/></g>
<g transform="translate(676.5 356.5) rotate(-41.7)"><line x1="0.8" y1="-11.8" x2="4.1" y2="-16.1" stroke="#efe8c8" stroke-width="0.35" opacity="0.8"/><line x1="0.8" y1="-7.2" x2="3.1" y2="-12.1" stroke="#efe8c8" stroke-width="0.35" opacity="0.8"/><line x1="0.8" y1="-19.9" x2="3.9" y2="-26.1" stroke="#efe8c8" stroke-width="0.35" opacity="0.8"/><line x1="-0.8" y1="-12.1" x2="-3.1" y2="-16.8" stroke="#efe8c8" stroke-width="0.35" opacity="0.8"/><line x1="0.8" y1="-19.0" x2="4.4" y2="-25.7" stroke="#efe8c8" stroke-width="0.35" opacity="0.8"/><line x1="-0.8" y1="-7.8" x2="-3.3" y2="-11.9" stroke="#efe8c8" stroke-width="0.35" opacity="0.8"/><line x1="0.8" y1="-18.2" x2="4.0" y2="-25.9" stroke="#efe8c8" stroke-width="0.35" opacity="0.8"/><line x1="0.8" y1="-12.0" x2="3.5" y2="-19.2" stroke="#efe8c8" stroke-width="0.35" opacity="0.8"/><line x1="-0.8" y1="-12.8" x2="-4.7" y2="-17.2" stroke="#efe8c8" stroke-width="0.35" opacity="0.8"/><line x1="-0.8" y1="-8.8" x2="-3.1" y2="-15.4" stroke="#efe8c8" stroke-width="0.35" opacity="0.8"/><line x1="0.8" y1="-17.1" x2="3.6" y2="-24.4" stroke="#efe8c8" stroke-width="0.35" opacity="0.8"/><line x1="0.8" y1="-14.4" x2="4.0" y2="-22.1" stroke="#efe8c8" stroke-width="0.35" opacity="0.8"/><line x1="-0.8" y1="-15.8" x2="-4.6" y2="-23.8" stroke="#efe8c8" stroke-width="0.35" opacity="0.8"/><line x1="-0.8" y1="-15.7" x2="-4.2" y2="-21.0" stroke="#efe8c8" stroke-width="0.35" opacity="0.8"/><line x1="-0.8" y1="-14.0" x2="-4.3" y2="-18.9" stroke="#efe8c8" stroke-width="0.35" opacity="0.8"/><line x1="0.8" y1="-17.8" x2="3.2" y2="-22.0" stroke="#efe8c8" stroke-width="0.35" opacity="0.8"/><line x1="0" y1="0" x2="0" y2="-7.0" stroke="#cfc48c" stroke-width="0.7"/><ellipse cx="0" cy="-12.8" rx="2.4" ry="7.6" fill="url(#spk)"/></g><g transform="translate(676.5 356.5) rotate(2.9)"><line x1="-0.8" y1="-8.8" x2="-3.5" y2="-13.4" stroke="#efe8c8" stroke-width="0.35" opacity="0.8"/><line x1="0.8" y1="-11.7" x2="4.7" y2="-15.9" stroke="#efe8c8" stroke-width="0.35" opacity="0.8"/><line x1="-0.8" y1="-16.2" x2="-3.4" y2="-22.6" stroke="#efe8c8" stroke-width="0.35" opacity="0.8"/><line x1="0.8" y1="-15.3" x2="3.8" y2="-23.3" stroke="#efe8c8" stroke-width="0.35" opacity="0.8"/><line x1="-0.8" y1="-11.9" x2="-2.8" y2="-18.1" stroke="#efe8c8" stroke-width="0.35" opacity="0.8"/><line x1="0.8" y1="-20.9" x2="3.2" y2="-26.0" stroke="#efe8c8" stroke-width="0.35" opacity="0.8"/><line x1="0.8" y1="-17.3" x2="3.3" y2="-25.1" stroke="#efe8c8" stroke-width="0.35" opacity="0.8"/><line x1="0.8" y1="-20.2" x2="3.4" y2="-27.7" stroke="#efe8c8" stroke-width="0.35" opacity="0.8"/><line x1="-0.8" y1="-13.0" x2="-4.1" y2="-20.8" stroke="#efe8c8" stroke-width="0.35" opacity="0.8"/><line x1="0.8" y1="-14.7" x2="4.1" y2="-21.6" stroke="#efe8c8" stroke-width="0.35" opacity="0.8"/><line x1="0.8" y1="-20.8" x2="4.9" y2="-26.8" stroke="#efe8c8" stroke-width="0.35" opacity="0.8"/><line x1="-0.8" y1="-15.3" x2="-4.5" y2="-23.2" stroke="#efe8c8" stroke-width="0.35" opacity="0.8"/><line x1="0.8" y1="-12.0" x2="4.0" y2="-18.5" stroke="#efe8c8" stroke-width="0.35" opacity="0.8"/><line x1="0.8" y1="-8.4" x2="3.7" y2="-15.1" stroke="#efe8c8" stroke-width="0.35" opacity="0.8"/><line x1="0.8" y1="-12.5" x2="4.3" y2="-16.6" stroke="#efe8c8" stroke-width="0.35" opacity="0.8"/><line x1="-0.8" y1="-8.4" x2="-4.9" y2="-13.4" stroke="#efe8c8" stroke-width="0.35" opacity="0.8"/><line x1="0" y1="0" x2="0" y2="-7.6" stroke="#cfc48c" stroke-width="0.7"/><ellipse cx="0" cy="-13.9" rx="2.4" ry="8.2" fill="url(#spk)"/></g><g transform="translate(676.5 356.5) rotate(39.6)"><line x1="0.8" y1="-11.5" x2="3.0" y2="-18.5" stroke="#efe8c8" stroke-width="0.35" opacity="0.8"/><line x1="0.8" y1="-18.5" x2="3.3" y2="-24.0" stroke="#efe8c8" stroke-width="0.35" opacity="0.8"/><line x1="-0.8" y1="-17.5" x2="-4.9" y2="-24.3" stroke="#efe8c8" stroke-width="0.35" opacity="0.8"/><line x1="-0.8" y1="-9.0" x2="-4.1" y2="-14.0" stroke="#efe8c8" stroke-width="0.35" opacity="0.8"/><line x1="0.8" y1="-11.6" x2="4.1" y2="-16.0" stroke="#efe8c8" stroke-width="0.35" opacity="0.8"/><line x1="0.8" y1="-15.2" x2="4.2" y2="-20.1" stroke="#efe8c8" stroke-width="0.35" opacity="0.8"/><line x1="-0.8" y1="-18.0" x2="-2.7" y2="-25.0" stroke="#efe8c8" stroke-width="0.35" opacity="0.8"/><line x1="0.8" y1="-10.1" x2="3.2" y2="-17.3" stroke="#efe8c8" stroke-width="0.35" opacity="0.8"/><line x1="-0.8" y1="-7.7" x2="-3.3" y2="-15.0" stroke="#efe8c8" stroke-width="0.35" opacity="0.8"/><line x1="0.8" y1="-14.9" x2="3.4" y2="-22.2" stroke="#efe8c8" stroke-width="0.35" opacity="0.8"/><line x1="0.8" y1="-8.3" x2="4.0" y2="-14.0" stroke="#efe8c8" stroke-width="0.35" opacity="0.8"/><line x1="0.8" y1="-14.1" x2="3.7" y2="-20.7" stroke="#efe8c8" stroke-width="0.35" opacity="0.8"/><line x1="0.8" y1="-11.1" x2="2.6" y2="-16.7" stroke="#efe8c8" stroke-width="0.35" opacity="0.8"/><line x1="0.8" y1="-9.9" x2="4.9" y2="-17.4" stroke="#efe8c8" stroke-width="0.35" opacity="0.8"/><line x1="0.8" y1="-20.4" x2="3.9" y2="-28.3" stroke="#efe8c8" stroke-width="0.35" opacity="0.8"/><line x1="-0.8" y1="-16.8" x2="-4.4" y2="-24.1" stroke="#efe8c8" stroke-width="0.35" opacity="0.8"/><line x1="0" y1="0" x2="0" y2="-7.2" stroke="#cfc48c" stroke-width="0.7"/><ellipse cx="0" cy="-13.2" rx="2.4" ry="7.8" fill="url(#spk)"/></g>
<g transform="translate(716.0 356.5) rotate(-44.4)"><line x1="-0.8" y1="-11.5" x2="-2.7" y2="-15.6" stroke="#efe8c8" stroke-width="0.35" opacity="0.8"/><line x1="0.8" y1="-13.4" x2="4.5" y2="-20.5" stroke="#efe8c8" stroke-width="0.35" opacity="0.8"/><line x1="0.8" y1="-9.4" x2="3.2" y2="-14.1" stroke="#efe8c8" stroke-width="0.35" opacity="0.8"/><line x1="-0.8" y1="-8.0" x2="-4.9" y2="-12.1" stroke="#efe8c8" stroke-width="0.35" opacity="0.8"/><line x1="0.8" y1="-14.6" x2="4.5" y2="-19.3" stroke="#efe8c8" stroke-width="0.35" opacity="0.8"/><line x1="0.8" y1="-10.5" x2="2.7" y2="-16.9" stroke="#efe8c8" stroke-width="0.35" opacity="0.8"/><line x1="-0.8" y1="-15.0" x2="-2.9" y2="-20.9" stroke="#efe8c8" stroke-width="0.35" opacity="0.8"/><line x1="0.8" y1="-7.8" x2="2.5" y2="-12.9" stroke="#efe8c8" stroke-width="0.35" opacity="0.8"/><line x1="0.8" y1="-15.4" x2="4.6" y2="-21.4" stroke="#efe8c8" stroke-width="0.35" opacity="0.8"/><line x1="0.8" y1="-11.8" x2="3.6" y2="-16.4" stroke="#efe8c8" stroke-width="0.35" opacity="0.8"/><line x1="-0.8" y1="-10.4" x2="-2.7" y2="-16.3" stroke="#efe8c8" stroke-width="0.35" opacity="0.8"/><line x1="0.8" y1="-19.0" x2="4.3" y2="-23.6" stroke="#efe8c8" stroke-width="0.35" opacity="0.8"/><line x1="-0.8" y1="-15.0" x2="-3.5" y2="-19.8" stroke="#efe8c8" stroke-width="0.35" opacity="0.8"/><line x1="0.8" y1="-14.5" x2="3.0" y2="-20.2" stroke="#efe8c8" stroke-width="0.35" opacity="0.8"/><line x1="-0.8" y1="-13.9" x2="-4.8" y2="-18.3" stroke="#efe8c8" stroke-width="0.35" opacity="0.8"/><line x1="-0.8" y1="-7.4" x2="-3.2" y2="-13.7" stroke="#efe8c8" stroke-width="0.35" opacity="0.8"/><line x1="0" y1="0" x2="0" y2="-6.7" stroke="#cfc48c" stroke-width="0.7"/><ellipse cx="0" cy="-12.2" rx="2.4" ry="7.2" fill="url(#spk)"/></g><g transform="translate(716.0 356.5) rotate(-2.3)"><line x1="0.8" y1="-19.8" x2="3.6" y2="-23.9" stroke="#efe8c8" stroke-width="0.35" opacity="0.8"/><line x1="0.8" y1="-16.6" x2="4.3" y2="-24.4" stroke="#efe8c8" stroke-width="0.35" opacity="0.8"/><line x1="0.8" y1="-7.5" x2="3.3" y2="-12.1" stroke="#efe8c8" stroke-width="0.35" opacity="0.8"/><line x1="-0.8" y1="-16.0" x2="-3.2" y2="-20.7" stroke="#efe8c8" stroke-width="0.35" opacity="0.8"/><line x1="-0.8" y1="-13.2" x2="-3.1" y2="-19.6" stroke="#efe8c8" stroke-width="0.35" opacity="0.8"/><line x1="-0.8" y1="-9.4" x2="-3.4" y2="-15.2" stroke="#efe8c8" stroke-width="0.35" opacity="0.8"/><line x1="0.8" y1="-12.1" x2="5.0" y2="-18.4" stroke="#efe8c8" stroke-width="0.35" opacity="0.8"/><line x1="-0.8" y1="-13.1" x2="-3.6" y2="-18.0" stroke="#efe8c8" stroke-width="0.35" opacity="0.8"/><line x1="-0.8" y1="-8.0" x2="-4.3" y2="-14.4" stroke="#efe8c8" stroke-width="0.35" opacity="0.8"/><line x1="-0.8" y1="-20.2" x2="-3.9" y2="-26.6" stroke="#efe8c8" stroke-width="0.35" opacity="0.8"/><line x1="-0.8" y1="-11.5" x2="-2.8" y2="-17.7" stroke="#efe8c8" stroke-width="0.35" opacity="0.8"/><line x1="0.8" y1="-17.6" x2="4.1" y2="-22.4" stroke="#efe8c8" stroke-width="0.35" opacity="0.8"/><line x1="0.8" y1="-9.9" x2="3.5" y2="-14.1" stroke="#efe8c8" stroke-width="0.35" opacity="0.8"/><line x1="-0.8" y1="-12.9" x2="-4.1" y2="-18.6" stroke="#efe8c8" stroke-width="0.35" opacity="0.8"/><line x1="-0.8" y1="-10.1" x2="-2.6" y2="-15.1" stroke="#efe8c8" stroke-width="0.35" opacity="0.8"/><line x1="-0.8" y1="-10.5" x2="-4.4" y2="-16.1" stroke="#efe8c8" stroke-width="0.35" opacity="0.8"/><line x1="0" y1="0" x2="0" y2="-7.2" stroke="#cfc48c" stroke-width="0.7"/><ellipse cx="0" cy="-13.2" rx="2.4" ry="7.8" fill="url(#spk)"/></g><g transform="translate(716.0 356.5) rotate(38.0)"><line x1="0.8" y1="-17.7" x2="3.9" y2="-25.7" stroke="#efe8c8" stroke-width="0.35" opacity="0.8"/><line x1="-0.8" y1="-11.7" x2="-3.7" y2="-16.0" stroke="#efe8c8" stroke-width="0.35" opacity="0.8"/><line x1="-0.8" y1="-9.3" x2="-3.3" y2="-15.9" stroke="#efe8c8" stroke-width="0.35" opacity="0.8"/><line x1="0.8" y1="-16.6" x2="4.5" y2="-22.7" stroke="#efe8c8" stroke-width="0.35" opacity="0.8"/><line x1="0.8" y1="-14.8" x2="3.3" y2="-20.4" stroke="#efe8c8" stroke-width="0.35" opacity="0.8"/><line x1="0.8" y1="-12.8" x2="4.9" y2="-19.5" stroke="#efe8c8" stroke-width="0.35" opacity="0.8"/><line x1="-0.8" y1="-7.2" x2="-4.4" y2="-12.3" stroke="#efe8c8" stroke-width="0.35" opacity="0.8"/><line x1="-0.8" y1="-17.3" x2="-4.2" y2="-23.2" stroke="#efe8c8" stroke-width="0.35" opacity="0.8"/><line x1="0.8" y1="-12.5" x2="4.8" y2="-17.4" stroke="#efe8c8" stroke-width="0.35" opacity="0.8"/><line x1="-0.8" y1="-6.7" x2="-2.5" y2="-14.2" stroke="#efe8c8" stroke-width="0.35" opacity="0.8"/><line x1="0.8" y1="-8.1" x2="4.7" y2="-14.3" stroke="#efe8c8" stroke-width="0.35" opacity="0.8"/><line x1="-0.8" y1="-17.6" x2="-2.9" y2="-24.0" stroke="#efe8c8" stroke-width="0.35" opacity="0.8"/><line x1="0.8" y1="-16.8" x2="4.8" y2="-22.6" stroke="#efe8c8" stroke-width="0.35" opacity="0.8"/><line x1="-0.8" y1="-7.7" x2="-3.7" y2="-15.1" stroke="#efe8c8" stroke-width="0.35" opacity="0.8"/><line x1="-0.8" y1="-14.2" x2="-2.6" y2="-18.5" stroke="#efe8c8" stroke-width="0.35" opacity="0.8"/><line x1="-0.8" y1="-17.6" x2="-3.2" y2="-23.0" stroke="#efe8c8" stroke-width="0.35" opacity="0.8"/><line x1="0" y1="0" x2="0" y2="-6.7" stroke="#cfc48c" stroke-width="0.7"/><ellipse cx="0" cy="-12.2" rx="2.4" ry="7.3" fill="url(#spk)"/></g>
<g transform="translate(756.0 356.5) rotate(-40.5)"><line x1="-0.8" y1="-20.4" x2="-4.6" y2="-27.5" stroke="#efe8c8" stroke-width="0.35" opacity="0.8"/><line x1="-0.8" y1="-12.0" x2="-4.8" y2="-16.5" stroke="#efe8c8" stroke-width="0.35" opacity="0.8"/><line x1="-0.8" y1="-15.4" x2="-3.5" y2="-19.8" stroke="#efe8c8" stroke-width="0.35" opacity="0.8"/><line x1="-0.8" y1="-12.0" x2="-3.5" y2="-16.8" stroke="#efe8c8" stroke-width="0.35" opacity="0.8"/><line x1="0.8" y1="-21.5" x2="2.9" y2="-28.7" stroke="#efe8c8" stroke-width="0.35" opacity="0.8"/><line x1="0.8" y1="-10.4" x2="2.8" y2="-14.4" stroke="#efe8c8" stroke-width="0.35" opacity="0.8"/><line x1="-0.8" y1="-21.6" x2="-4.4" y2="-29.4" stroke="#efe8c8" stroke-width="0.35" opacity="0.8"/><line x1="-0.8" y1="-10.8" x2="-3.2" y2="-18.6" stroke="#efe8c8" stroke-width="0.35" opacity="0.8"/><line x1="-0.8" y1="-16.5" x2="-3.0" y2="-24.4" stroke="#efe8c8" stroke-width="0.35" opacity="0.8"/><line x1="0.8" y1="-11.2" x2="3.2" y2="-16.7" stroke="#efe8c8" stroke-width="0.35" opacity="0.8"/><line x1="-0.8" y1="-10.8" x2="-3.2" y2="-16.1" stroke="#efe8c8" stroke-width="0.35" opacity="0.8"/><line x1="-0.8" y1="-20.7" x2="-4.0" y2="-27.6" stroke="#efe8c8" stroke-width="0.35" opacity="0.8"/><line x1="0.8" y1="-9.2" x2="4.5" y2="-15.2" stroke="#efe8c8" stroke-width="0.35" opacity="0.8"/><line x1="0.8" y1="-13.1" x2="3.7" y2="-17.8" stroke="#efe8c8" stroke-width="0.35" opacity="0.8"/><line x1="-0.8" y1="-12.2" x2="-4.9" y2="-17.6" stroke="#efe8c8" stroke-width="0.35" opacity="0.8"/><line x1="0.8" y1="-14.4" x2="3.4" y2="-20.7" stroke="#efe8c8" stroke-width="0.35" opacity="0.8"/><line x1="0" y1="0" x2="0" y2="-8.2" stroke="#cfc48c" stroke-width="0.7"/><ellipse cx="0" cy="-15.1" rx="2.4" ry="8.9" fill="url(#spk)"/></g><g transform="translate(756.0 356.5) rotate(-2.7)"><line x1="-0.8" y1="-10.1" x2="-2.8" y2="-15.1" stroke="#efe8c8" stroke-width="0.35" opacity="0.8"/><line x1="0.8" y1="-19.1" x2="3.4" y2="-24.5" stroke="#efe8c8" stroke-width="0.35" opacity="0.8"/><line x1="0.8" y1="-15.0" x2="2.8" y2="-22.0" stroke="#efe8c8" stroke-width="0.35" opacity="0.8"/><line x1="0.8" y1="-18.8" x2="2.6" y2="-26.6" stroke="#efe8c8" stroke-width="0.35" opacity="0.8"/><line x1="0.8" y1="-8.9" x2="3.8" y2="-14.3" stroke="#efe8c8" stroke-width="0.35" opacity="0.8"/><line x1="0.8" y1="-9.7" x2="4.8" y2="-15.8" stroke="#efe8c8" stroke-width="0.35" opacity="0.8"/><line x1="0.8" y1="-12.0" x2="3.3" y2="-19.2" stroke="#efe8c8" stroke-width="0.35" opacity="0.8"/><line x1="0.8" y1="-16.4" x2="5.0" y2="-21.0" stroke="#efe8c8" stroke-width="0.35" opacity="0.8"/><line x1="0.8" y1="-8.3" x2="2.6" y2="-15.2" stroke="#efe8c8" stroke-width="0.35" opacity="0.8"/><line x1="0.8" y1="-12.4" x2="3.6" y2="-18.1" stroke="#efe8c8" stroke-width="0.35" opacity="0.8"/><line x1="-0.8" y1="-8.4" x2="-4.5" y2="-13.7" stroke="#efe8c8" stroke-width="0.35" opacity="0.8"/><line x1="-0.8" y1="-10.5" x2="-4.1" y2="-17.6" stroke="#efe8c8" stroke-width="0.35" opacity="0.8"/><line x1="0.8" y1="-9.1" x2="3.4" y2="-13.3" stroke="#efe8c8" stroke-width="0.35" opacity="0.8"/><line x1="-0.8" y1="-13.5" x2="-3.6" y2="-21.5" stroke="#efe8c8" stroke-width="0.35" opacity="0.8"/><line x1="0.8" y1="-19.6" x2="4.9" y2="-26.3" stroke="#efe8c8" stroke-width="0.35" opacity="0.8"/><line x1="0.8" y1="-12.0" x2="3.2" y2="-17.7" stroke="#efe8c8" stroke-width="0.35" opacity="0.8"/><line x1="0" y1="0" x2="0" y2="-7.6" stroke="#cfc48c" stroke-width="0.7"/><ellipse cx="0" cy="-13.9" rx="2.4" ry="8.2" fill="url(#spk)"/></g><g transform="translate(756.0 356.5) rotate(38.3)"><line x1="-0.8" y1="-21.9" x2="-4.1" y2="-27.9" stroke="#efe8c8" stroke-width="0.35" opacity="0.8"/><line x1="-0.8" y1="-12.6" x2="-3.7" y2="-18.6" stroke="#efe8c8" stroke-width="0.35" opacity="0.8"/><line x1="0.8" y1="-15.6" x2="2.7" y2="-22.8" stroke="#efe8c8" stroke-width="0.35" opacity="0.8"/><line x1="-0.8" y1="-12.8" x2="-4.4" y2="-18.3" stroke="#efe8c8" stroke-width="0.35" opacity="0.8"/><line x1="0.8" y1="-17.8" x2="4.6" y2="-22.9" stroke="#efe8c8" stroke-width="0.35" opacity="0.8"/><line x1="0.8" y1="-21.8" x2="4.9" y2="-27.2" stroke="#efe8c8" stroke-width="0.35" opacity="0.8"/><line x1="-0.8" y1="-10.3" x2="-3.7" y2="-17.4" stroke="#efe8c8" stroke-width="0.35" opacity="0.8"/><line x1="0.8" y1="-12.4" x2="3.7" y2="-19.7" stroke="#efe8c8" stroke-width="0.35" opacity="0.8"/><line x1="0.8" y1="-17.0" x2="3.4" y2="-23.6" stroke="#efe8c8" stroke-width="0.35" opacity="0.8"/><line x1="0.8" y1="-18.3" x2="3.4" y2="-25.7" stroke="#efe8c8" stroke-width="0.35" opacity="0.8"/><line x1="0.8" y1="-20.2" x2="4.9" y2="-28.0" stroke="#efe8c8" stroke-width="0.35" opacity="0.8"/><line x1="-0.8" y1="-15.2" x2="-3.0" y2="-20.6" stroke="#efe8c8" stroke-width="0.35" opacity="0.8"/><line x1="0.8" y1="-20.0" x2="4.2" y2="-26.9" stroke="#efe8c8" stroke-width="0.35" opacity="0.8"/><line x1="-0.8" y1="-18.2" x2="-4.0" y2="-25.9" stroke="#efe8c8" stroke-width="0.35" opacity="0.8"/><line x1="0.8" y1="-15.1" x2="3.3" y2="-21.3" stroke="#efe8c8" stroke-width="0.35" opacity="0.8"/><line x1="0.8" y1="-20.2" x2="4.3" y2="-24.3" stroke="#efe8c8" stroke-width="0.35" opacity="0.8"/><line x1="0" y1="0" x2="0" y2="-7.7" stroke="#cfc48c" stroke-width="0.7"/><ellipse cx="0" cy="-14.1" rx="2.4" ry="8.4" fill="url(#spk)"/></g>
</g>
<rect x="572.00" y="356.00" width="214.40" height="2.00" fill="#fff" />
<rect x="782.40" y="346.00" width="1.60" height="7.60" fill="#f4f4f4" />
<text x="788.00" y="349.30" font-size="5.2" text-anchor="middle" fill="#222" stroke="#222" stroke-width="0.1" transform="rotate(90 788.00 349.30)">5 cm</text>
<text x="595.80" y="363.30" font-size="6.1" text-anchor="middle" fill="#222" stroke="#222" stroke-width="0.1">AABBDD</text>
<text x="635.50" y="363.30" font-size="6.1" text-anchor="middle" fill="#222" stroke="#222" stroke-width="0.1">AABBdd</text>
<text x="676.80" y="363.30" font-size="6.1" text-anchor="middle" fill="#222" stroke="#222" stroke-width="0.1">aabbDD</text>
<text x="716.00" y="363.30" font-size="6.1" text-anchor="middle" fill="#222" stroke="#222" stroke-width="0.1">aaBBdd</text>
<text x="756.00" y="363.30" font-size="6.1" text-anchor="middle" fill="#222" stroke="#222" stroke-width="0.1">aabbdd</text>
<text x="562.60" y="375.60" font-size="8.5" fill="#111" stroke="#111" stroke-width="0.1" font-weight="bold">F</text>
<text x="574.20" y="373.40" font-size="5.6" fill="#222" stroke="#222" stroke-width="0.1">a</text>
<text x="684.20" y="373.60" font-size="5.6" fill="#222" stroke="#222" stroke-width="0.1">b</text>
<rect x="600.20" y="370.20" width="76.60" height="62.00" fill="#0a0806" />
<rect x="710.00" y="370.20" width="76.80" height="61.80" fill="#0a0806" />
<g filter="url(#pb)"><ellipse cx="606.2" cy="378.6" rx="2.98" ry="1.5" fill="url(#seed)"/><ellipse cx="612.5" cy="378.6" rx="2.98" ry="1.5" fill="url(#seed)"/><ellipse cx="618.9" cy="378.6" rx="2.98" ry="1.5" fill="url(#seed)"/><ellipse cx="625.2" cy="378.6" rx="2.98" ry="1.5" fill="url(#seed)"/><ellipse cx="631.5" cy="378.6" rx="2.98" ry="1.5" fill="url(#seed)"/><ellipse cx="637.9" cy="378.6" rx="2.98" ry="1.5" fill="url(#seed)"/><ellipse cx="644.2" cy="378.6" rx="2.98" ry="1.5" fill="url(#seed)"/><ellipse cx="650.5" cy="378.6" rx="2.98" ry="1.5" fill="url(#seed)"/><ellipse cx="656.9" cy="378.6" rx="2.98" ry="1.5" fill="url(#seed)"/><ellipse cx="663.2" cy="378.6" rx="2.98" ry="1.5" fill="url(#seed)"/><ellipse cx="606.1" cy="390.8" rx="2.91" ry="1.5" fill="url(#seed)"/><ellipse cx="612.3" cy="390.8" rx="2.91" ry="1.5" fill="url(#seed)"/><ellipse cx="618.5" cy="390.8" rx="2.91" ry="1.5" fill="url(#seed)"/><ellipse cx="624.6" cy="390.8" rx="2.91" ry="1.5" fill="url(#seed)"/><ellipse cx="630.8" cy="390.8" rx="2.91" ry="1.5" fill="url(#seed)"/><ellipse cx="637.0" cy="390.8" rx="2.91" ry="1.5" fill="url(#seed)"/><ellipse cx="643.2" cy="390.8" rx="2.91" ry="1.5" fill="url(#seed)"/><ellipse cx="649.4" cy="390.8" rx="2.91" ry="1.5" fill="url(#seed)"/><ellipse cx="655.5" cy="390.8" rx="2.91" ry="1.5" fill="url(#seed)"/><ellipse cx="661.7" cy="390.8" rx="2.91" ry="1.5" fill="url(#seed)"/><ellipse cx="667.9" cy="390.8" rx="2.91" ry="1.5" fill="url(#seed)"/><ellipse cx="606.2" cy="401.0" rx="3.02" ry="1.5" fill="url(#seed)"/><ellipse cx="612.6" cy="401.0" rx="3.02" ry="1.5" fill="url(#seed)"/><ellipse cx="619.0" cy="401.0" rx="3.02" ry="1.5" fill="url(#seed)"/><ellipse cx="625.5" cy="401.0" rx="3.02" ry="1.5" fill="url(#seed)"/><ellipse cx="631.9" cy="401.0" rx="3.02" ry="1.5" fill="url(#seed)"/><ellipse cx="638.3" cy="401.0" rx="3.02" ry="1.5" fill="url(#seed)"/><ellipse cx="644.7" cy="401.0" rx="3.02" ry="1.5" fill="url(#seed)"/><ellipse cx="651.1" cy="401.0" rx="3.02" ry="1.5" fill="url(#seed)"/><ellipse cx="657.6" cy="401.0" rx="3.02" ry="1.5" fill="url(#seed)"/><ellipse cx="664.0" cy="401.0" rx="3.02" ry="1.5" fill="url(#seed)"/><ellipse cx="670.4" cy="401.0" rx="3.02" ry="1.5" fill="url(#seed)"/><ellipse cx="606.1" cy="413.3" rx="2.91" ry="1.5" fill="url(#seed)"/><ellipse cx="612.3" cy="413.3" rx="2.91" ry="1.5" fill="url(#seed)"/><ellipse cx="618.5" cy="413.3" rx="2.91" ry="1.5" fill="url(#seed)"/><ellipse cx="624.6" cy="413.3" rx="2.91" ry="1.5" fill="url(#seed)"/><ellipse cx="630.8" cy="413.3" rx="2.91" ry="1.5" fill="url(#seed)"/><ellipse cx="637.0" cy="413.3" rx="2.91" ry="1.5" fill="url(#seed)"/><ellipse cx="643.2" cy="413.3" rx="2.91" ry="1.5" fill="url(#seed)"/><ellipse cx="649.4" cy="413.3" rx="2.91" ry="1.5" fill="url(#seed)"/><ellipse cx="655.5" cy="413.3" rx="2.91" ry="1.5" fill="url(#seed)"/><ellipse cx="661.7" cy="413.3" rx="2.91" ry="1.5" fill="url(#seed)"/><ellipse cx="667.9" cy="413.3" rx="2.91" ry="1.5" fill="url(#seed)"/><ellipse cx="606.1" cy="423.9" rx="2.88" ry="1.5" fill="url(#seed)"/><ellipse cx="612.2" cy="423.9" rx="2.88" ry="1.5" fill="url(#seed)"/><ellipse cx="618.3" cy="423.9" rx="2.88" ry="1.5" fill="url(#seed)"/><ellipse cx="624.5" cy="423.9" rx="2.88" ry="1.5" fill="url(#seed)"/><ellipse cx="630.6" cy="423.9" rx="2.88" ry="1.5" fill="url(#seed)"/><ellipse cx="636.8" cy="423.9" rx="2.88" ry="1.5" fill="url(#seed)"/><ellipse cx="642.9" cy="423.9" rx="2.88" ry="1.5" fill="url(#seed)"/><ellipse cx="649.0" cy="423.9" rx="2.88" ry="1.5" fill="url(#seed)"/><ellipse cx="655.2" cy="423.9" rx="2.88" ry="1.5" fill="url(#seed)"/><ellipse cx="661.3" cy="423.9" rx="2.88" ry="1.5" fill="url(#seed)"/><ellipse cx="667.4" cy="423.9" rx="2.88" ry="1.5" fill="url(#seed)"/><ellipse cx="717.9" cy="377.4" rx="1.15" ry="2.3" fill="url(#seed)"/><ellipse cx="721.0" cy="377.4" rx="1.15" ry="2.3" fill="url(#seed)"/><ellipse cx="724.0" cy="377.4" rx="1.15" ry="2.3" fill="url(#seed)"/><ellipse cx="727.1" cy="377.4" rx="1.15" ry="2.3" fill="url(#seed)"/><ellipse cx="730.1" cy="377.4" rx="1.15" ry="2.3" fill="url(#seed)"/><ellipse cx="733.2" cy="377.4" rx="1.15" ry="2.3" fill="url(#seed)"/><ellipse cx="736.3" cy="377.4" rx="1.15" ry="2.3" fill="url(#seed)"/><ellipse cx="739.3" cy="377.4" rx="1.15" ry="2.3" fill="url(#seed)"/><ellipse cx="742.4" cy="377.4" rx="1.15" ry="2.3" fill="url(#seed)"/><ellipse cx="745.4" cy="377.4" rx="1.15" ry="2.3" fill="url(#seed)"/><ellipse cx="748.5" cy="377.4" rx="1.15" ry="2.3" fill="url(#seed)"/><ellipse cx="751.5" cy="377.4" rx="1.15" ry="2.3" fill="url(#seed)"/><ellipse cx="754.6" cy="377.4" rx="1.15" ry="2.3" fill="url(#seed)"/><ellipse cx="757.6" cy="377.4" rx="1.15" ry="2.3" fill="url(#seed)"/><ellipse cx="760.7" cy="377.4" rx="1.15" ry="2.3" fill="url(#seed)"/><ellipse cx="763.8" cy="377.4" rx="1.15" ry="2.3" fill="url(#seed)"/><ellipse cx="766.8" cy="377.4" rx="1.15" ry="2.3" fill="url(#seed)"/><ellipse cx="769.9" cy="377.4" rx="1.15" ry="2.3" fill="url(#seed)"/><ellipse cx="772.9" cy="377.4" rx="1.15" ry="2.3" fill="url(#seed)"/><ellipse cx="776.0" cy="377.4" rx="1.15" ry="2.3" fill="url(#seed)"/><ellipse cx="717.9" cy="389.3" rx="1.15" ry="2.3" fill="url(#seed)"/><ellipse cx="721.0" cy="389.3" rx="1.15" ry="2.3" fill="url(#seed)"/><ellipse cx="724.0" cy="389.3" rx="1.15" ry="2.3" fill="url(#seed)"/><ellipse cx="727.1" cy="389.3" rx="1.15" ry="2.3" fill="url(#seed)"/><ellipse cx="730.1" cy="389.3" rx="1.15" ry="2.3" fill="url(#seed)"/><ellipse cx="733.2" cy="389.3" rx="1.15" ry="2.3" fill="url(#seed)"/><ellipse cx="736.3" cy="389.3" rx="1.15" ry="2.3" fill="url(#seed)"/><ellipse cx="739.3" cy="389.3" rx="1.15" ry="2.3" fill="url(#seed)"/><ellipse cx="742.4" cy="389.3" rx="1.15" ry="2.3" fill="url(#seed)"/><ellipse cx="745.4" cy="389.3" rx="1.15" ry="2.3" fill="url(#seed)"/><ellipse cx="748.5" cy="389.3" rx="1.15" ry="2.3" fill="url(#seed)"/><ellipse cx="751.5" cy="389.3" rx="1.15" ry="2.3" fill="url(#seed)"/><ellipse cx="754.6" cy="389.3" rx="1.15" ry="2.3" fill="url(#seed)"/><ellipse cx="757.6" cy="389.3" rx="1.15" ry="2.3" fill="url(#seed)"/><ellipse cx="760.7" cy="389.3" rx="1.15" ry="2.3" fill="url(#seed)"/><ellipse cx="763.8" cy="389.3" rx="1.15" ry="2.3" fill="url(#seed)"/><ellipse cx="766.8" cy="389.3" rx="1.15" ry="2.3" fill="url(#seed)"/><ellipse cx="769.9" cy="389.3" rx="1.15" ry="2.3" fill="url(#seed)"/><ellipse cx="772.9" cy="389.3" rx="1.15" ry="2.3" fill="url(#seed)"/><ellipse cx="776.0" cy="389.3" rx="1.15" ry="2.3" fill="url(#seed)"/><ellipse cx="717.9" cy="400.7" rx="1.15" ry="2.3" fill="url(#seed)"/><ellipse cx="721.0" cy="400.7" rx="1.15" ry="2.3" fill="url(#seed)"/><ellipse cx="724.0" cy="400.7" rx="1.15" ry="2.3" fill="url(#seed)"/><ellipse cx="727.1" cy="400.7" rx="1.15" ry="2.3" fill="url(#seed)"/><ellipse cx="730.1" cy="400.7" rx="1.15" ry="2.3" fill="url(#seed)"/><ellipse cx="733.2" cy="400.7" rx="1.15" ry="2.3" fill="url(#seed)"/><ellipse cx="736.3" cy="400.7" rx="1.15" ry="2.3" fill="url(#seed)"/><ellipse cx="739.3" cy="400.7" rx="1.15" ry="2.3" fill="url(#seed)"/><ellipse cx="742.4" cy="400.7" rx="1.15" ry="2.3" fill="url(#seed)"/><ellipse cx="745.4" cy="400.7" rx="1.15" ry="2.3" fill="url(#seed)"/><ellipse cx="748.5" cy="400.7" rx="1.15" ry="2.3" fill="url(#seed)"/><ellipse cx="751.5" cy="400.7" rx="1.15" ry="2.3" fill="url(#seed)"/><ellipse cx="754.6" cy="400.7" rx="1.15" ry="2.3" fill="url(#seed)"/><ellipse cx="757.6" cy="400.7" rx="1.15" ry="2.3" fill="url(#seed)"/><ellipse cx="760.7" cy="400.7" rx="1.15" ry="2.3" fill="url(#seed)"/><ellipse cx="763.8" cy="400.7" rx="1.15" ry="2.3" fill="url(#seed)"/><ellipse cx="766.8" cy="400.7" rx="1.15" ry="2.3" fill="url(#seed)"/><ellipse cx="769.9" cy="400.7" rx="1.15" ry="2.3" fill="url(#seed)"/><ellipse cx="772.9" cy="400.7" rx="1.15" ry="2.3" fill="url(#seed)"/><ellipse cx="776.0" cy="400.7" rx="1.15" ry="2.3" fill="url(#seed)"/><ellipse cx="717.9" cy="413.3" rx="1.15" ry="2.3" fill="url(#seed)"/><ellipse cx="721.0" cy="413.3" rx="1.15" ry="2.3" fill="url(#seed)"/><ellipse cx="724.0" cy="413.3" rx="1.15" ry="2.3" fill="url(#seed)"/><ellipse cx="727.1" cy="413.3" rx="1.15" ry="2.3" fill="url(#seed)"/><ellipse cx="730.1" cy="413.3" rx="1.15" ry="2.3" fill="url(#seed)"/><ellipse cx="733.2" cy="413.3" rx="1.15" ry="2.3" fill="url(#seed)"/><ellipse cx="736.3" cy="413.3" rx="1.15" ry="2.3" fill="url(#seed)"/><ellipse cx="739.3" cy="413.3" rx="1.15" ry="2.3" fill="url(#seed)"/><ellipse cx="742.4" cy="413.3" rx="1.15" ry="2.3" fill="url(#seed)"/><ellipse cx="745.4" cy="413.3" rx="1.15" ry="2.3" fill="url(#seed)"/><ellipse cx="748.5" cy="413.3" rx="1.15" ry="2.3" fill="url(#seed)"/><ellipse cx="751.5" cy="413.3" rx="1.15" ry="2.3" fill="url(#seed)"/><ellipse cx="754.6" cy="413.3" rx="1.15" ry="2.3" fill="url(#seed)"/><ellipse cx="757.6" cy="413.3" rx="1.15" ry="2.3" fill="url(#seed)"/><ellipse cx="760.7" cy="413.3" rx="1.15" ry="2.3" fill="url(#seed)"/><ellipse cx="763.8" cy="413.3" rx="1.15" ry="2.3" fill="url(#seed)"/><ellipse cx="766.8" cy="413.3" rx="1.15" ry="2.3" fill="url(#seed)"/><ellipse cx="769.9" cy="413.3" rx="1.15" ry="2.3" fill="url(#seed)"/><ellipse cx="772.9" cy="413.3" rx="1.15" ry="2.3" fill="url(#seed)"/><ellipse cx="776.0" cy="413.3" rx="1.15" ry="2.3" fill="url(#seed)"/><ellipse cx="717.9" cy="424.7" rx="1.15" ry="2.3" fill="url(#seed)"/><ellipse cx="721.0" cy="424.7" rx="1.15" ry="2.3" fill="url(#seed)"/><ellipse cx="724.0" cy="424.7" rx="1.15" ry="2.3" fill="url(#seed)"/><ellipse cx="727.1" cy="424.7" rx="1.15" ry="2.3" fill="url(#seed)"/><ellipse cx="730.1" cy="424.7" rx="1.15" ry="2.3" fill="url(#seed)"/><ellipse cx="733.2" cy="424.7" rx="1.15" ry="2.3" fill="url(#seed)"/><ellipse cx="736.3" cy="424.7" rx="1.15" ry="2.3" fill="url(#seed)"/><ellipse cx="739.3" cy="424.7" rx="1.15" ry="2.3" fill="url(#seed)"/><ellipse cx="742.4" cy="424.7" rx="1.15" ry="2.3" fill="url(#seed)"/><ellipse cx="745.4" cy="424.7" rx="1.15" ry="2.3" fill="url(#seed)"/><ellipse cx="748.5" cy="424.7" rx="1.15" ry="2.3" fill="url(#seed)"/><ellipse cx="751.5" cy="424.7" rx="1.15" ry="2.3" fill="url(#seed)"/><ellipse cx="754.6" cy="424.7" rx="1.15" ry="2.3" fill="url(#seed)"/><ellipse cx="757.6" cy="424.7" rx="1.15" ry="2.3" fill="url(#seed)"/><ellipse cx="760.7" cy="424.7" rx="1.15" ry="2.3" fill="url(#seed)"/><ellipse cx="763.8" cy="424.7" rx="1.15" ry="2.3" fill="url(#seed)"/><ellipse cx="766.8" cy="424.7" rx="1.15" ry="2.3" fill="url(#seed)"/><ellipse cx="769.9" cy="424.7" rx="1.15" ry="2.3" fill="url(#seed)"/><ellipse cx="772.9" cy="424.7" rx="1.15" ry="2.3" fill="url(#seed)"/><ellipse cx="776.0" cy="424.7" rx="1.15" ry="2.3" fill="url(#seed)"/></g>
<text x="574.20" y="380.30" font-size="6.0" fill="#222" stroke="#222" stroke-width="0.1">AABBDD</text>
<text x="684.40" y="379.80" font-size="6.0" fill="#222" stroke="#222" stroke-width="0.1">AABBDD</text>
<text x="574.20" y="392.50" font-size="6.0" fill="#222" stroke="#222" stroke-width="0.1">AABBdd</text>
<text x="684.40" y="391.70" font-size="6.0" fill="#222" stroke="#222" stroke-width="0.1">AABBdd</text>
<text x="574.20" y="402.70" font-size="6.0" fill="#222" stroke="#222" stroke-width="0.1">aabbDD</text>
<text x="684.40" y="403.10" font-size="6.0" fill="#222" stroke="#222" stroke-width="0.1">aabbDD</text>
<text x="574.20" y="415.00" font-size="6.0" fill="#222" stroke="#222" stroke-width="0.1">aaBBdd</text>
<text x="684.40" y="415.70" font-size="6.0" fill="#222" stroke="#222" stroke-width="0.1">aaBBdd</text>
<text x="574.20" y="425.60" font-size="6.0" fill="#222" stroke="#222" stroke-width="0.1">aabbdd</text>
<text x="684.40" y="427.10" font-size="6.0" fill="#222" stroke="#222" stroke-width="0.1">aabbdd</text>
<rect x="665.60" y="429.00" width="8.20" height="1.30" fill="#f4f4f4" />
<text x="670.20" y="437.00" font-size="5.6" text-anchor="middle" fill="#222" stroke="#222" stroke-width="0.1">1 cm</text>
<rect x="776.70" y="427.70" width="8.10" height="1.30" fill="#f4f4f4" />
<text x="780.60" y="436.60" font-size="5.6" text-anchor="middle" fill="#222" stroke="#222" stroke-width="0.1">1 cm</text>
<g opacity="0.78"><path d="M686,434 L684.5,441.5 L689,441.5 L690.3,436 L692,441.5 L696.5,441.5 L694.6,434 Z" fill="#d9e6a4"/><path d="M684,424.5 L678.5,428.5 L679.5,431 L685.5,428.2 Z M696,424.5 L707.5,426.5 L707,429.5 L695,428 Z" fill="#d9e6a4"/><ellipse cx="690.4" cy="429.5" rx="5.6" ry="5.8" fill="#dbe8a8"/><ellipse cx="690.4" cy="413.4" rx="11.6" ry="10.6" fill="#dde9ac"/><path d="M677.4,404.6 L686.5,399.2 L691.5,402.6 L681.2,407.6 Z" fill="#9a9a9a"/><path d="M679,405.6 L678.4,409.8" stroke="#8a8a8a" stroke-width="0.6"/><ellipse cx="686.6" cy="409.8" rx="1.1" ry="1.7" fill="#3a3a2a"/><ellipse cx="694.2" cy="409.8" rx="1.1" ry="1.7" fill="#3a3a2a"/><path d="M683.6,414.8 Q690.4,423.8 697.2,414.8 Q690.4,417.2 683.6,414.8Z" fill="#fdfdf4" stroke="#8a9a5a" stroke-width="0.3"/><ellipse cx="683" cy="413.8" rx="1.5" ry="1.1" fill="#e860d8"/><ellipse cx="697.8" cy="413.8" rx="1.5" ry="1.1" fill="#e860d8"/><path d="M676.5,424 L680.5,434" stroke="#e8a030" stroke-width="0.6"/></g>
</g>
</svg>
</body></html>
